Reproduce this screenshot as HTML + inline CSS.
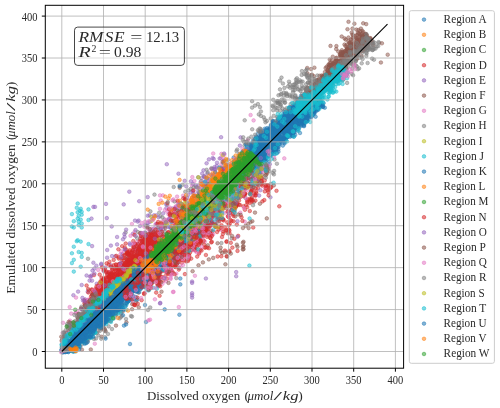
<!DOCTYPE html><html><head><meta charset="utf-8"><style>html,body{margin:0;padding:0;background:#fff;width:500px;height:408px;overflow:hidden}svg{display:block;will-change:transform}circle{r:1.8px}</style></head><body>
<svg width="500" height="408" viewBox="0 0 500 408">
<defs><clipPath id="ax"><rect x="45.30" y="5.30" width="358.30" height="362.90"/></clipPath></defs>
<g clip-path="url(#ax)">
<g fill="#7f7f7f" stroke="#7f7f7f" fill-opacity="0.5" stroke-opacity="0.5" stroke-width="0.9"><circle cx="92.3" cy="323.9"/><circle cx="162.8" cy="241.2"/><circle cx="194.5" cy="230.8"/><circle cx="67.6" cy="340.4"/><circle cx="103.9" cy="327.6"/><circle cx="244.5" cy="145.6"/><circle cx="80.2" cy="335.8"/><circle cx="99.8" cy="330.9"/><circle cx="263.8" cy="156.7"/><circle cx="195.7" cy="223.5"/><circle cx="136.6" cy="268.9"/><circle cx="179.7" cy="253.2"/><circle cx="196.4" cy="207.3"/><circle cx="88.0" cy="258.8"/><circle cx="99.6" cy="327.4"/><circle cx="224.0" cy="183.1"/><circle cx="205.4" cy="213.2"/><circle cx="166.5" cy="239.5"/><circle cx="251.5" cy="198.9"/><circle cx="188.1" cy="246.1"/><circle cx="264.2" cy="143.7"/><circle cx="104.9" cy="305.1"/><circle cx="160.3" cy="216.2"/><circle cx="169.2" cy="254.2"/><circle cx="133.3" cy="272.0"/><circle cx="154.5" cy="194.6"/><circle cx="117.2" cy="304.7"/><circle cx="239.4" cy="192.8"/><circle cx="244.6" cy="171.0"/><circle cx="89.5" cy="321.0"/><circle cx="150.5" cy="242.2"/><circle cx="118.3" cy="288.4"/><circle cx="84.3" cy="334.7"/><circle cx="248.4" cy="162.9"/><circle cx="125.6" cy="232.5"/><circle cx="84.4" cy="308.0"/><circle cx="231.7" cy="238.4"/><circle cx="105.3" cy="306.4"/><circle cx="260.1" cy="172.4"/><circle cx="102.2" cy="297.1"/><circle cx="70.7" cy="341.7"/><circle cx="88.9" cy="290.5"/><circle cx="124.9" cy="266.7"/><circle cx="150.4" cy="241.3"/><circle cx="250.8" cy="161.1"/><circle cx="208.4" cy="205.0"/><circle cx="129.0" cy="273.4"/><circle cx="91.8" cy="310.4"/><circle cx="275.2" cy="148.3"/><circle cx="144.7" cy="239.4"/><circle cx="204.6" cy="203.8"/><circle cx="74.6" cy="336.7"/><circle cx="73.9" cy="344.5"/><circle cx="245.3" cy="180.6"/><circle cx="191.3" cy="233.1"/><circle cx="150.2" cy="307.5"/><circle cx="118.6" cy="272.1"/><circle cx="77.9" cy="325.7"/><circle cx="99.7" cy="313.1"/><circle cx="63.1" cy="337.6"/><circle cx="233.9" cy="171.9"/><circle cx="154.9" cy="247.0"/><circle cx="105.0" cy="337.2"/><circle cx="219.3" cy="198.6"/><circle cx="98.7" cy="302.6"/><circle cx="67.0" cy="326.0"/><circle cx="167.3" cy="204.7"/><circle cx="236.5" cy="151.1"/><circle cx="74.1" cy="347.7"/><circle cx="253.0" cy="205.2"/><circle cx="97.4" cy="303.5"/><circle cx="81.8" cy="328.1"/><circle cx="62.3" cy="339.5"/><circle cx="123.7" cy="287.3"/><circle cx="212.1" cy="196.4"/><circle cx="179.2" cy="260.3"/><circle cx="236.8" cy="169.1"/><circle cx="110.8" cy="305.7"/><circle cx="124.0" cy="278.5"/><circle cx="111.6" cy="289.6"/><circle cx="269.1" cy="149.7"/><circle cx="257.0" cy="152.9"/><circle cx="132.4" cy="276.3"/><circle cx="144.8" cy="249.3"/><circle cx="122.5" cy="277.3"/><circle cx="224.0" cy="200.4"/><circle cx="74.2" cy="342.3"/><circle cx="67.2" cy="324.0"/><circle cx="146.2" cy="264.0"/><circle cx="104.6" cy="288.0"/><circle cx="235.7" cy="171.2"/><circle cx="223.2" cy="201.5"/><circle cx="183.3" cy="242.5"/><circle cx="199.0" cy="210.5"/><circle cx="204.2" cy="202.9"/><circle cx="219.7" cy="181.7"/><circle cx="269.4" cy="171.0"/><circle cx="97.6" cy="320.4"/><circle cx="193.7" cy="219.8"/><circle cx="81.4" cy="306.7"/><circle cx="176.3" cy="278.1"/><circle cx="222.6" cy="182.4"/><circle cx="255.4" cy="170.5"/><circle cx="216.8" cy="187.8"/><circle cx="72.7" cy="342.8"/><circle cx="132.8" cy="268.9"/><circle cx="85.1" cy="302.3"/><circle cx="269.1" cy="141.1"/><circle cx="89.4" cy="314.6"/><circle cx="109.6" cy="293.3"/><circle cx="142.4" cy="279.6"/><circle cx="72.5" cy="332.0"/><circle cx="247.0" cy="172.1"/><circle cx="203.4" cy="225.3"/><circle cx="95.8" cy="314.5"/><circle cx="167.7" cy="246.5"/><circle cx="74.8" cy="326.9"/><circle cx="190.0" cy="222.2"/><circle cx="114.5" cy="303.5"/><circle cx="63.7" cy="332.3"/><circle cx="80.3" cy="317.3"/><circle cx="164.4" cy="219.7"/><circle cx="188.7" cy="210.2"/><circle cx="130.0" cy="280.5"/><circle cx="200.8" cy="219.7"/><circle cx="137.1" cy="276.4"/><circle cx="83.4" cy="314.1"/><circle cx="126.1" cy="280.6"/><circle cx="157.2" cy="278.7"/><circle cx="254.4" cy="162.0"/><circle cx="95.5" cy="332.4"/><circle cx="79.6" cy="328.7"/><circle cx="191.4" cy="244.2"/><circle cx="276.9" cy="163.7"/><circle cx="251.7" cy="161.6"/><circle cx="209.4" cy="204.8"/><circle cx="85.7" cy="342.9"/><circle cx="223.8" cy="175.3"/><circle cx="182.6" cy="184.8"/><circle cx="102.4" cy="327.6"/><circle cx="140.5" cy="233.0"/><circle cx="76.7" cy="341.0"/><circle cx="235.3" cy="188.7"/><circle cx="214.3" cy="202.2"/><circle cx="245.4" cy="197.7"/><circle cx="208.3" cy="178.8"/><circle cx="113.2" cy="287.4"/><circle cx="235.3" cy="193.7"/><circle cx="116.0" cy="297.8"/><circle cx="101.2" cy="329.0"/><circle cx="145.6" cy="269.0"/><circle cx="156.0" cy="234.9"/><circle cx="135.9" cy="302.6"/><circle cx="193.0" cy="227.5"/><circle cx="186.1" cy="221.9"/><circle cx="103.1" cy="288.6"/><circle cx="177.8" cy="205.2"/><circle cx="139.8" cy="276.9"/><circle cx="223.5" cy="204.7"/><circle cx="118.2" cy="282.9"/><circle cx="233.3" cy="188.0"/><circle cx="150.6" cy="263.8"/><circle cx="166.0" cy="222.1"/><circle cx="185.3" cy="191.7"/><circle cx="167.0" cy="237.5"/><circle cx="117.0" cy="295.3"/><circle cx="262.8" cy="142.9"/><circle cx="93.9" cy="338.9"/><circle cx="129.2" cy="279.7"/><circle cx="187.2" cy="245.1"/><circle cx="89.5" cy="310.2"/><circle cx="228.3" cy="182.8"/><circle cx="228.4" cy="189.3"/><circle cx="221.4" cy="243.1"/><circle cx="244.7" cy="156.9"/><circle cx="203.9" cy="176.3"/><circle cx="130.1" cy="291.4"/><circle cx="189.6" cy="207.8"/><circle cx="125.7" cy="269.8"/><circle cx="234.9" cy="209.9"/><circle cx="132.6" cy="258.2"/><circle cx="84.8" cy="306.1"/><circle cx="244.0" cy="166.6"/><circle cx="207.1" cy="206.6"/><circle cx="210.1" cy="187.1"/><circle cx="194.5" cy="248.1"/><circle cx="225.3" cy="186.6"/><circle cx="144.4" cy="244.0"/><circle cx="192.8" cy="243.8"/><circle cx="70.4" cy="329.2"/><circle cx="181.9" cy="237.3"/><circle cx="253.8" cy="202.1"/><circle cx="210.8" cy="204.0"/><circle cx="240.3" cy="193.3"/><circle cx="161.8" cy="241.5"/><circle cx="258.8" cy="179.4"/><circle cx="78.6" cy="318.5"/><circle cx="253.3" cy="176.3"/><circle cx="135.2" cy="266.5"/><circle cx="85.1" cy="332.2"/><circle cx="194.7" cy="223.5"/><circle cx="144.6" cy="241.3"/><circle cx="148.4" cy="256.1"/><circle cx="244.9" cy="177.7"/><circle cx="99.4" cy="327.2"/><circle cx="178.5" cy="208.3"/><circle cx="140.4" cy="254.1"/><circle cx="175.1" cy="241.6"/><circle cx="163.2" cy="241.6"/><circle cx="97.1" cy="326.4"/><circle cx="178.6" cy="251.8"/><circle cx="251.3" cy="179.9"/><circle cx="95.3" cy="309.2"/><circle cx="64.1" cy="344.0"/><circle cx="80.9" cy="337.7"/><circle cx="150.0" cy="244.7"/><circle cx="259.7" cy="141.8"/><circle cx="71.2" cy="337.6"/><circle cx="260.9" cy="136.2"/><circle cx="176.4" cy="239.7"/><circle cx="88.2" cy="323.3"/><circle cx="143.9" cy="255.6"/><circle cx="105.5" cy="304.5"/><circle cx="203.4" cy="193.0"/><circle cx="187.5" cy="248.6"/><circle cx="109.3" cy="274.9"/><circle cx="121.5" cy="300.7"/><circle cx="245.8" cy="172.4"/><circle cx="236.6" cy="204.8"/><circle cx="146.4" cy="250.8"/><circle cx="133.6" cy="250.7"/><circle cx="205.6" cy="185.6"/><circle cx="258.5" cy="142.1"/><circle cx="88.1" cy="339.9"/><circle cx="100.9" cy="319.9"/><circle cx="140.9" cy="275.9"/><circle cx="176.8" cy="251.8"/><circle cx="71.4" cy="326.5"/><circle cx="73.0" cy="335.6"/><circle cx="107.9" cy="301.9"/><circle cx="137.0" cy="262.2"/><circle cx="226.6" cy="206.0"/><circle cx="198.9" cy="231.6"/><circle cx="73.3" cy="345.9"/><circle cx="69.7" cy="335.8"/><circle cx="152.2" cy="250.1"/><circle cx="240.2" cy="163.5"/><circle cx="244.0" cy="150.7"/><circle cx="149.6" cy="283.5"/><circle cx="254.1" cy="172.2"/><circle cx="256.1" cy="156.9"/><circle cx="158.5" cy="275.2"/><circle cx="223.8" cy="200.3"/><circle cx="128.0" cy="261.7"/><circle cx="86.6" cy="307.8"/><circle cx="170.6" cy="217.6"/><circle cx="80.4" cy="329.4"/><circle cx="202.9" cy="213.6"/><circle cx="221.1" cy="171.4"/><circle cx="258.2" cy="164.7"/><circle cx="151.4" cy="251.0"/><circle cx="78.5" cy="314.7"/><circle cx="255.4" cy="167.3"/><circle cx="250.9" cy="176.1"/><circle cx="265.8" cy="150.8"/><circle cx="179.5" cy="218.8"/><circle cx="197.8" cy="204.3"/><circle cx="137.5" cy="267.9"/><circle cx="96.1" cy="305.1"/><circle cx="136.2" cy="300.4"/><circle cx="221.8" cy="208.8"/><circle cx="127.6" cy="278.0"/><circle cx="216.3" cy="215.4"/><circle cx="179.7" cy="257.0"/><circle cx="166.6" cy="265.8"/><circle cx="274.5" cy="159.5"/><circle cx="98.1" cy="314.2"/><circle cx="173.2" cy="256.7"/><circle cx="93.9" cy="312.6"/><circle cx="243.0" cy="140.3"/><circle cx="164.8" cy="247.6"/><circle cx="119.1" cy="266.6"/><circle cx="95.2" cy="310.3"/><circle cx="197.8" cy="237.1"/><circle cx="146.6" cy="266.4"/><circle cx="95.3" cy="327.5"/><circle cx="65.9" cy="337.2"/><circle cx="153.3" cy="276.4"/><circle cx="169.6" cy="213.3"/><circle cx="163.9" cy="234.3"/><circle cx="271.0" cy="183.9"/><circle cx="246.2" cy="154.2"/><circle cx="244.1" cy="141.9"/><circle cx="237.8" cy="192.1"/><circle cx="151.3" cy="238.6"/><circle cx="189.1" cy="257.5"/><circle cx="141.5" cy="262.0"/><circle cx="159.8" cy="279.5"/></g><g fill="#e377c2" stroke="#e377c2" fill-opacity="0.5" stroke-opacity="0.5" stroke-width="0.9"><circle cx="116.2" cy="310.8"/><circle cx="114.2" cy="302.9"/><circle cx="166.9" cy="245.5"/><circle cx="195.2" cy="201.4"/><circle cx="131.2" cy="259.4"/><circle cx="95.0" cy="307.3"/><circle cx="87.3" cy="331.3"/><circle cx="110.9" cy="282.4"/><circle cx="98.3" cy="309.6"/><circle cx="151.9" cy="229.8"/><circle cx="260.2" cy="170.5"/><circle cx="244.7" cy="221.6"/><circle cx="108.0" cy="305.3"/><circle cx="73.4" cy="329.0"/><circle cx="155.5" cy="252.8"/><circle cx="129.5" cy="257.8"/><circle cx="203.8" cy="195.1"/><circle cx="76.7" cy="325.3"/><circle cx="119.2" cy="294.5"/><circle cx="208.9" cy="198.8"/><circle cx="181.1" cy="221.6"/><circle cx="178.3" cy="240.9"/><circle cx="268.9" cy="166.1"/><circle cx="84.6" cy="320.5"/><circle cx="95.0" cy="295.6"/><circle cx="175.9" cy="217.4"/><circle cx="177.4" cy="219.1"/><circle cx="270.8" cy="134.2"/><circle cx="250.6" cy="115.0"/><circle cx="184.8" cy="217.1"/><circle cx="215.6" cy="174.1"/><circle cx="192.3" cy="177.1"/><circle cx="89.2" cy="316.7"/><circle cx="188.2" cy="213.9"/><circle cx="116.3" cy="269.5"/><circle cx="121.1" cy="251.4"/><circle cx="92.2" cy="309.7"/><circle cx="62.0" cy="343.1"/><circle cx="246.5" cy="164.2"/><circle cx="229.0" cy="205.5"/><circle cx="213.3" cy="174.6"/><circle cx="124.1" cy="284.9"/><circle cx="165.9" cy="271.2"/><circle cx="99.6" cy="308.6"/><circle cx="209.1" cy="235.0"/><circle cx="254.0" cy="178.0"/><circle cx="230.4" cy="180.3"/><circle cx="274.1" cy="157.4"/><circle cx="107.0" cy="279.6"/><circle cx="228.1" cy="211.4"/><circle cx="86.5" cy="316.7"/><circle cx="170.3" cy="224.4"/><circle cx="75.6" cy="312.8"/><circle cx="167.4" cy="219.7"/><circle cx="174.9" cy="226.6"/><circle cx="133.3" cy="268.9"/><circle cx="135.1" cy="269.6"/><circle cx="203.7" cy="182.6"/><circle cx="170.2" cy="248.1"/><circle cx="142.2" cy="251.6"/><circle cx="85.9" cy="322.1"/><circle cx="118.5" cy="281.8"/><circle cx="248.4" cy="169.0"/><circle cx="253.6" cy="120.4"/><circle cx="145.6" cy="269.9"/><circle cx="248.7" cy="159.0"/><circle cx="249.1" cy="158.2"/><circle cx="102.2" cy="293.1"/><circle cx="114.9" cy="281.9"/><circle cx="207.5" cy="193.0"/><circle cx="116.8" cy="269.9"/><circle cx="284.3" cy="158.4"/><circle cx="137.7" cy="265.4"/><circle cx="232.0" cy="202.9"/><circle cx="212.0" cy="192.7"/><circle cx="115.9" cy="308.7"/><circle cx="259.3" cy="171.9"/><circle cx="130.8" cy="274.1"/><circle cx="75.9" cy="313.3"/><circle cx="69.2" cy="332.3"/><circle cx="154.1" cy="244.6"/><circle cx="183.1" cy="195.6"/><circle cx="126.4" cy="294.5"/><circle cx="265.1" cy="188.0"/><circle cx="121.1" cy="290.8"/><circle cx="248.6" cy="169.0"/><circle cx="62.6" cy="333.0"/><circle cx="98.2" cy="269.9"/><circle cx="104.5" cy="320.7"/><circle cx="131.9" cy="224.0"/><circle cx="120.5" cy="254.3"/><circle cx="136.3" cy="251.3"/><circle cx="243.2" cy="161.8"/><circle cx="160.0" cy="195.4"/><circle cx="190.7" cy="215.1"/><circle cx="147.6" cy="264.7"/><circle cx="235.6" cy="173.0"/><circle cx="182.1" cy="251.2"/><circle cx="218.3" cy="182.3"/><circle cx="261.9" cy="153.6"/><circle cx="189.5" cy="211.1"/><circle cx="149.8" cy="247.4"/><circle cx="125.7" cy="297.1"/><circle cx="247.7" cy="140.3"/><circle cx="237.5" cy="193.4"/><circle cx="226.3" cy="167.2"/><circle cx="121.0" cy="310.6"/><circle cx="150.0" cy="247.0"/><circle cx="261.9" cy="166.8"/><circle cx="112.6" cy="291.5"/><circle cx="244.7" cy="179.6"/><circle cx="199.2" cy="252.5"/><circle cx="116.5" cy="307.1"/><circle cx="139.3" cy="262.6"/><circle cx="74.1" cy="326.0"/><circle cx="221.8" cy="217.3"/><circle cx="240.3" cy="212.7"/><circle cx="72.1" cy="344.3"/><circle cx="126.4" cy="281.5"/><circle cx="234.5" cy="188.8"/><circle cx="109.9" cy="308.4"/><circle cx="167.3" cy="221.1"/><circle cx="226.9" cy="165.2"/><circle cx="175.7" cy="215.3"/><circle cx="93.3" cy="325.5"/><circle cx="258.9" cy="152.8"/><circle cx="225.2" cy="188.9"/><circle cx="197.5" cy="239.4"/><circle cx="123.1" cy="264.7"/><circle cx="185.4" cy="219.7"/><circle cx="148.1" cy="264.4"/><circle cx="77.4" cy="311.0"/><circle cx="82.3" cy="314.4"/><circle cx="66.8" cy="332.0"/><circle cx="88.4" cy="299.8"/><circle cx="106.9" cy="285.9"/><circle cx="211.4" cy="223.1"/><circle cx="189.9" cy="225.3"/><circle cx="177.6" cy="208.3"/><circle cx="247.7" cy="179.1"/><circle cx="81.4" cy="325.1"/><circle cx="139.2" cy="256.7"/><circle cx="70.0" cy="320.6"/><circle cx="137.2" cy="241.8"/><circle cx="73.1" cy="323.8"/><circle cx="76.6" cy="332.8"/><circle cx="77.8" cy="317.7"/><circle cx="138.2" cy="255.2"/><circle cx="228.5" cy="185.2"/><circle cx="108.7" cy="272.1"/><circle cx="217.1" cy="182.9"/><circle cx="116.6" cy="301.1"/><circle cx="110.6" cy="271.7"/><circle cx="164.0" cy="246.0"/><circle cx="74.1" cy="326.5"/><circle cx="171.3" cy="263.1"/><circle cx="186.8" cy="220.7"/><circle cx="250.0" cy="180.3"/><circle cx="78.7" cy="339.2"/><circle cx="254.2" cy="195.1"/><circle cx="160.8" cy="200.5"/><circle cx="187.0" cy="223.1"/><circle cx="71.2" cy="333.9"/><circle cx="242.4" cy="148.8"/><circle cx="120.6" cy="286.1"/><circle cx="173.0" cy="222.7"/><circle cx="190.7" cy="243.9"/><circle cx="258.1" cy="151.5"/><circle cx="195.0" cy="221.2"/><circle cx="273.2" cy="131.7"/><circle cx="108.6" cy="293.5"/><circle cx="218.6" cy="218.8"/><circle cx="204.8" cy="241.6"/><circle cx="181.3" cy="245.3"/><circle cx="188.8" cy="203.7"/><circle cx="174.8" cy="222.8"/><circle cx="128.3" cy="268.2"/><circle cx="220.7" cy="229.7"/><circle cx="94.8" cy="343.7"/><circle cx="169.4" cy="248.2"/><circle cx="160.6" cy="250.6"/><circle cx="111.1" cy="304.2"/><circle cx="179.5" cy="219.9"/><circle cx="207.8" cy="204.6"/><circle cx="95.6" cy="326.6"/><circle cx="131.4" cy="288.4"/><circle cx="74.0" cy="332.0"/><circle cx="189.0" cy="217.0"/><circle cx="79.3" cy="328.8"/><circle cx="90.8" cy="276.7"/><circle cx="158.8" cy="251.0"/><circle cx="155.9" cy="246.4"/><circle cx="73.6" cy="344.1"/><circle cx="271.8" cy="149.3"/><circle cx="105.4" cy="291.2"/><circle cx="186.7" cy="209.1"/><circle cx="109.4" cy="298.6"/><circle cx="185.3" cy="213.9"/><circle cx="134.8" cy="267.9"/><circle cx="145.0" cy="292.8"/><circle cx="194.9" cy="275.8"/><circle cx="162.9" cy="195.4"/><circle cx="181.3" cy="208.8"/><circle cx="210.9" cy="199.6"/><circle cx="132.7" cy="302.0"/><circle cx="88.5" cy="333.9"/><circle cx="103.2" cy="278.9"/><circle cx="154.9" cy="299.3"/><circle cx="195.5" cy="219.1"/><circle cx="140.5" cy="247.0"/><circle cx="125.4" cy="276.3"/><circle cx="77.8" cy="320.1"/><circle cx="191.1" cy="219.3"/><circle cx="69.7" cy="307.1"/><circle cx="182.3" cy="244.9"/><circle cx="224.2" cy="213.1"/><circle cx="192.7" cy="209.6"/><circle cx="84.9" cy="300.9"/><circle cx="136.5" cy="268.2"/></g><g fill="#8c564b" stroke="#8c564b" fill-opacity="0.5" stroke-opacity="0.5" stroke-width="0.9"><circle cx="266.8" cy="218.4"/><circle cx="233.9" cy="203.0"/><circle cx="90.0" cy="326.5"/><circle cx="130.4" cy="274.6"/><circle cx="211.3" cy="208.8"/><circle cx="224.6" cy="168.0"/><circle cx="172.3" cy="233.4"/><circle cx="206.9" cy="202.7"/><circle cx="111.0" cy="299.0"/><circle cx="240.7" cy="214.9"/><circle cx="230.3" cy="189.0"/><circle cx="147.5" cy="268.9"/><circle cx="120.8" cy="309.5"/><circle cx="72.3" cy="340.7"/><circle cx="194.8" cy="228.8"/><circle cx="202.7" cy="235.5"/><circle cx="69.4" cy="350.3"/><circle cx="177.9" cy="254.9"/><circle cx="259.3" cy="171.9"/><circle cx="76.7" cy="346.7"/><circle cx="93.6" cy="320.9"/><circle cx="90.8" cy="349.5"/><circle cx="160.9" cy="270.7"/><circle cx="161.5" cy="291.7"/><circle cx="251.3" cy="190.7"/><circle cx="79.4" cy="334.7"/><circle cx="109.7" cy="312.3"/><circle cx="262.0" cy="174.8"/><circle cx="72.1" cy="346.0"/><circle cx="110.9" cy="290.4"/><circle cx="158.9" cy="285.3"/><circle cx="64.3" cy="345.4"/><circle cx="138.8" cy="307.3"/><circle cx="196.7" cy="241.1"/><circle cx="194.0" cy="233.6"/><circle cx="201.1" cy="243.2"/><circle cx="200.9" cy="226.5"/><circle cx="189.2" cy="229.0"/><circle cx="81.9" cy="349.7"/><circle cx="204.1" cy="228.1"/><circle cx="192.0" cy="244.0"/><circle cx="126.4" cy="322.3"/><circle cx="156.6" cy="273.1"/><circle cx="123.0" cy="311.0"/><circle cx="235.8" cy="176.0"/><circle cx="132.3" cy="304.2"/><circle cx="91.5" cy="308.8"/><circle cx="236.7" cy="205.0"/><circle cx="209.1" cy="191.2"/><circle cx="239.2" cy="185.6"/><circle cx="204.3" cy="219.4"/><circle cx="147.8" cy="265.3"/><circle cx="159.1" cy="253.6"/><circle cx="171.4" cy="234.5"/><circle cx="177.1" cy="224.2"/><circle cx="265.5" cy="175.4"/><circle cx="132.1" cy="309.2"/><circle cx="248.6" cy="228.1"/><circle cx="74.0" cy="348.7"/><circle cx="102.8" cy="309.4"/><circle cx="259.3" cy="169.5"/><circle cx="119.5" cy="302.2"/><circle cx="176.8" cy="257.3"/><circle cx="262.0" cy="183.2"/><circle cx="205.7" cy="229.9"/><circle cx="166.0" cy="255.4"/><circle cx="227.6" cy="233.2"/><circle cx="263.3" cy="160.2"/><circle cx="273.8" cy="185.4"/><circle cx="106.9" cy="317.1"/><circle cx="101.3" cy="327.6"/><circle cx="130.6" cy="298.8"/><circle cx="104.9" cy="329.2"/><circle cx="235.2" cy="216.4"/><circle cx="241.8" cy="195.5"/><circle cx="104.2" cy="330.2"/><circle cx="70.1" cy="322.6"/><circle cx="138.5" cy="292.6"/><circle cx="215.4" cy="226.9"/><circle cx="231.5" cy="210.2"/><circle cx="172.4" cy="272.8"/><circle cx="220.6" cy="250.9"/><circle cx="259.1" cy="179.9"/><circle cx="246.8" cy="182.3"/><circle cx="101.7" cy="336.8"/><circle cx="215.4" cy="216.4"/><circle cx="238.3" cy="214.5"/><circle cx="255.2" cy="180.0"/><circle cx="151.8" cy="268.9"/><circle cx="97.8" cy="317.8"/><circle cx="162.7" cy="257.8"/><circle cx="150.5" cy="286.4"/><circle cx="142.6" cy="269.2"/><circle cx="237.3" cy="203.2"/><circle cx="200.0" cy="225.2"/><circle cx="202.9" cy="216.9"/><circle cx="205.6" cy="230.5"/><circle cx="105.6" cy="331.3"/><circle cx="77.3" cy="335.7"/><circle cx="159.2" cy="285.3"/></g><g fill="#9467bd" stroke="#9467bd" fill-opacity="0.5" stroke-opacity="0.5" stroke-width="0.9"><circle cx="87.6" cy="307.5"/><circle cx="251.2" cy="161.5"/><circle cx="217.0" cy="162.7"/><circle cx="195.9" cy="209.5"/><circle cx="208.2" cy="182.6"/><circle cx="210.5" cy="211.5"/><circle cx="157.8" cy="230.2"/><circle cx="99.0" cy="288.5"/><circle cx="128.3" cy="260.4"/><circle cx="173.6" cy="231.3"/><circle cx="193.5" cy="225.1"/><circle cx="135.0" cy="262.7"/><circle cx="104.9" cy="292.4"/><circle cx="129.7" cy="243.4"/><circle cx="103.6" cy="271.1"/><circle cx="260.4" cy="172.5"/><circle cx="112.3" cy="267.6"/><circle cx="153.4" cy="249.5"/><circle cx="170.4" cy="215.7"/><circle cx="127.7" cy="272.3"/><circle cx="181.9" cy="243.4"/><circle cx="166.4" cy="208.0"/><circle cx="85.2" cy="299.4"/><circle cx="263.7" cy="170.1"/><circle cx="194.4" cy="241.1"/><circle cx="108.8" cy="289.9"/><circle cx="269.8" cy="164.2"/><circle cx="111.4" cy="284.9"/><circle cx="203.9" cy="185.6"/><circle cx="149.6" cy="215.2"/><circle cx="127.5" cy="270.3"/><circle cx="132.9" cy="233.8"/><circle cx="152.5" cy="218.6"/><circle cx="148.8" cy="252.7"/><circle cx="137.3" cy="283.8"/><circle cx="144.3" cy="232.7"/><circle cx="150.2" cy="231.8"/><circle cx="178.5" cy="173.7"/><circle cx="101.2" cy="264.5"/><circle cx="82.4" cy="297.9"/><circle cx="213.7" cy="158.9"/><circle cx="99.1" cy="306.5"/><circle cx="190.0" cy="204.6"/><circle cx="179.3" cy="222.3"/><circle cx="240.6" cy="137.4"/><circle cx="107.3" cy="273.3"/><circle cx="270.4" cy="197.3"/><circle cx="90.1" cy="276.5"/><circle cx="116.6" cy="288.9"/><circle cx="188.1" cy="195.0"/><circle cx="111.9" cy="286.2"/><circle cx="180.8" cy="210.8"/><circle cx="193.6" cy="193.3"/><circle cx="99.0" cy="287.1"/><circle cx="231.6" cy="191.8"/><circle cx="140.0" cy="226.0"/><circle cx="251.8" cy="151.4"/><circle cx="82.2" cy="309.4"/><circle cx="87.7" cy="291.8"/><circle cx="195.3" cy="213.8"/><circle cx="107.2" cy="250.0"/><circle cx="148.0" cy="241.0"/><circle cx="241.0" cy="160.5"/><circle cx="136.3" cy="249.5"/><circle cx="94.8" cy="308.4"/><circle cx="113.5" cy="295.6"/><circle cx="175.2" cy="215.8"/><circle cx="215.5" cy="181.0"/><circle cx="202.2" cy="173.5"/><circle cx="157.9" cy="227.3"/><circle cx="130.6" cy="279.6"/><circle cx="96.7" cy="283.7"/><circle cx="110.7" cy="265.2"/><circle cx="105.2" cy="267.6"/><circle cx="241.0" cy="161.0"/><circle cx="163.0" cy="254.4"/><circle cx="89.6" cy="280.6"/><circle cx="200.7" cy="213.1"/><circle cx="154.1" cy="228.4"/><circle cx="95.1" cy="316.3"/><circle cx="250.7" cy="145.9"/><circle cx="259.1" cy="165.9"/><circle cx="115.3" cy="256.3"/><circle cx="212.6" cy="158.1"/><circle cx="147.8" cy="222.8"/><circle cx="211.9" cy="212.1"/><circle cx="205.8" cy="212.9"/><circle cx="219.7" cy="200.0"/><circle cx="150.3" cy="230.3"/><circle cx="101.4" cy="282.2"/><circle cx="223.1" cy="178.4"/><circle cx="153.8" cy="233.9"/><circle cx="151.4" cy="230.9"/><circle cx="209.5" cy="180.3"/><circle cx="184.7" cy="180.8"/><circle cx="260.2" cy="152.3"/><circle cx="145.5" cy="243.6"/><circle cx="211.8" cy="225.4"/><circle cx="103.7" cy="306.2"/><circle cx="104.0" cy="296.6"/><circle cx="134.3" cy="278.2"/><circle cx="126.2" cy="261.3"/><circle cx="147.6" cy="225.6"/><circle cx="122.9" cy="275.6"/><circle cx="254.4" cy="164.6"/><circle cx="159.8" cy="244.2"/><circle cx="145.3" cy="245.3"/><circle cx="248.6" cy="170.5"/><circle cx="218.9" cy="177.2"/><circle cx="215.3" cy="182.3"/><circle cx="242.3" cy="160.0"/><circle cx="204.2" cy="182.7"/><circle cx="132.6" cy="258.9"/><circle cx="253.2" cy="154.8"/><circle cx="73.4" cy="295.2"/><circle cx="242.8" cy="166.4"/><circle cx="145.4" cy="232.7"/><circle cx="138.1" cy="253.5"/><circle cx="167.8" cy="236.2"/><circle cx="154.2" cy="248.3"/><circle cx="243.5" cy="179.7"/><circle cx="225.1" cy="179.8"/><circle cx="220.0" cy="195.2"/><circle cx="123.6" cy="275.0"/><circle cx="144.8" cy="225.1"/><circle cx="93.5" cy="298.8"/><circle cx="201.6" cy="178.1"/><circle cx="85.4" cy="302.0"/><circle cx="140.7" cy="236.0"/><circle cx="110.4" cy="289.7"/><circle cx="232.5" cy="171.5"/><circle cx="221.1" cy="137.2"/><circle cx="122.5" cy="254.3"/><circle cx="228.0" cy="159.9"/><circle cx="108.1" cy="278.2"/><circle cx="198.4" cy="185.7"/><circle cx="133.5" cy="278.7"/><circle cx="166.5" cy="244.9"/><circle cx="183.7" cy="205.3"/><circle cx="133.3" cy="244.0"/><circle cx="117.2" cy="280.5"/><circle cx="185.8" cy="215.4"/><circle cx="226.5" cy="185.5"/><circle cx="263.0" cy="152.8"/><circle cx="147.2" cy="267.9"/><circle cx="137.3" cy="280.1"/><circle cx="93.4" cy="298.3"/><circle cx="130.1" cy="291.1"/><circle cx="90.9" cy="313.1"/><circle cx="128.9" cy="274.5"/><circle cx="220.8" cy="203.1"/><circle cx="97.1" cy="288.8"/><circle cx="199.6" cy="209.2"/><circle cx="131.9" cy="261.9"/><circle cx="128.3" cy="280.9"/><circle cx="172.5" cy="237.9"/><circle cx="151.4" cy="232.9"/><circle cx="154.8" cy="232.7"/><circle cx="103.3" cy="294.1"/><circle cx="175.7" cy="213.2"/><circle cx="241.8" cy="163.6"/><circle cx="81.1" cy="309.0"/><circle cx="81.7" cy="285.0"/><circle cx="187.9" cy="218.1"/><circle cx="131.6" cy="253.5"/><circle cx="119.8" cy="264.5"/><circle cx="262.2" cy="154.6"/><circle cx="144.4" cy="269.9"/><circle cx="240.6" cy="156.0"/><circle cx="186.8" cy="206.5"/></g><g fill="#1f77b4" stroke="#1f77b4" fill-opacity="0.5" stroke-opacity="0.5" stroke-width="0.9"><circle cx="198.8" cy="230.6"/><circle cx="112.6" cy="301.8"/><circle cx="192.5" cy="223.7"/><circle cx="216.7" cy="199.8"/><circle cx="167.5" cy="258.0"/><circle cx="122.1" cy="293.2"/><circle cx="126.5" cy="282.7"/><circle cx="123.5" cy="293.4"/><circle cx="163.7" cy="248.9"/><circle cx="214.3" cy="198.7"/><circle cx="122.0" cy="296.7"/><circle cx="164.3" cy="251.9"/><circle cx="167.1" cy="255.9"/><circle cx="161.9" cy="251.4"/><circle cx="182.6" cy="239.8"/><circle cx="185.3" cy="240.4"/><circle cx="140.7" cy="278.9"/><circle cx="216.3" cy="206.4"/><circle cx="179.7" cy="239.3"/><circle cx="158.1" cy="259.1"/><circle cx="241.4" cy="188.9"/><circle cx="207.2" cy="219.6"/><circle cx="134.0" cy="282.5"/><circle cx="236.2" cy="182.4"/><circle cx="188.6" cy="232.9"/><circle cx="148.9" cy="252.8"/><circle cx="140.9" cy="270.7"/><circle cx="123.3" cy="295.6"/><circle cx="143.2" cy="271.3"/><circle cx="146.8" cy="263.6"/><circle cx="157.4" cy="260.4"/><circle cx="246.4" cy="187.9"/><circle cx="190.3" cy="231.1"/><circle cx="138.8" cy="280.0"/><circle cx="154.5" cy="250.9"/><circle cx="176.5" cy="257.4"/><circle cx="119.5" cy="287.9"/><circle cx="175.2" cy="247.1"/><circle cx="176.5" cy="238.3"/><circle cx="231.4" cy="192.6"/><circle cx="169.5" cy="250.2"/><circle cx="198.7" cy="215.3"/><circle cx="201.3" cy="220.1"/><circle cx="133.0" cy="278.5"/><circle cx="187.7" cy="234.7"/><circle cx="173.6" cy="250.3"/><circle cx="135.9" cy="284.5"/><circle cx="119.0" cy="302.4"/><circle cx="241.5" cy="181.1"/><circle cx="121.0" cy="287.7"/><circle cx="231.6" cy="198.5"/><circle cx="167.3" cy="264.8"/><circle cx="124.8" cy="293.6"/><circle cx="231.2" cy="178.6"/><circle cx="195.4" cy="219.1"/><circle cx="161.7" cy="249.5"/><circle cx="216.9" cy="196.0"/><circle cx="207.6" cy="219.5"/><circle cx="167.3" cy="252.5"/><circle cx="215.7" cy="225.0"/><circle cx="211.0" cy="215.2"/><circle cx="134.2" cy="280.4"/><circle cx="211.6" cy="221.3"/><circle cx="238.4" cy="197.9"/><circle cx="207.1" cy="224.0"/><circle cx="215.7" cy="204.5"/><circle cx="236.2" cy="177.2"/><circle cx="206.9" cy="196.5"/><circle cx="169.7" cy="241.1"/><circle cx="192.0" cy="240.4"/><circle cx="220.6" cy="217.6"/><circle cx="195.0" cy="225.8"/><circle cx="119.5" cy="291.0"/><circle cx="127.6" cy="301.9"/><circle cx="151.1" cy="272.1"/><circle cx="220.4" cy="204.5"/><circle cx="142.5" cy="276.3"/><circle cx="155.8" cy="265.2"/><circle cx="217.5" cy="200.4"/><circle cx="126.9" cy="283.9"/><circle cx="149.9" cy="269.0"/><circle cx="144.4" cy="269.5"/><circle cx="113.1" cy="290.5"/><circle cx="212.9" cy="216.0"/><circle cx="159.1" cy="268.0"/><circle cx="164.8" cy="251.9"/><circle cx="150.4" cy="256.2"/><circle cx="121.9" cy="294.7"/><circle cx="218.1" cy="195.6"/><circle cx="132.4" cy="288.0"/><circle cx="147.6" cy="265.3"/><circle cx="208.7" cy="217.3"/><circle cx="156.5" cy="258.5"/><circle cx="177.9" cy="240.2"/><circle cx="155.1" cy="261.7"/><circle cx="181.3" cy="230.1"/><circle cx="151.1" cy="260.8"/><circle cx="174.9" cy="249.8"/><circle cx="111.9" cy="299.0"/><circle cx="121.9" cy="307.4"/><circle cx="175.8" cy="238.0"/><circle cx="208.7" cy="193.1"/><circle cx="239.3" cy="178.1"/><circle cx="214.9" cy="202.8"/><circle cx="181.3" cy="239.1"/><circle cx="193.9" cy="221.6"/><circle cx="201.8" cy="222.7"/><circle cx="205.1" cy="211.4"/><circle cx="241.2" cy="181.8"/><circle cx="159.6" cy="262.8"/><circle cx="170.9" cy="248.3"/><circle cx="213.8" cy="207.8"/><circle cx="147.8" cy="283.0"/><circle cx="118.8" cy="284.1"/><circle cx="228.1" cy="191.9"/><circle cx="121.8" cy="307.2"/><circle cx="224.1" cy="189.2"/><circle cx="230.7" cy="190.5"/><circle cx="134.4" cy="282.2"/><circle cx="208.1" cy="208.0"/><circle cx="154.2" cy="271.1"/><circle cx="159.2" cy="280.6"/><circle cx="239.5" cy="182.1"/><circle cx="226.2" cy="193.1"/><circle cx="208.2" cy="205.8"/><circle cx="172.7" cy="252.7"/><circle cx="240.4" cy="182.4"/><circle cx="186.0" cy="232.2"/><circle cx="239.8" cy="183.3"/><circle cx="207.2" cy="215.6"/><circle cx="118.9" cy="296.5"/><circle cx="219.5" cy="208.6"/><circle cx="215.3" cy="194.5"/><circle cx="229.6" cy="198.0"/><circle cx="193.8" cy="227.1"/><circle cx="119.8" cy="299.7"/><circle cx="227.1" cy="198.9"/><circle cx="166.3" cy="249.8"/><circle cx="135.5" cy="275.6"/><circle cx="135.5" cy="272.5"/><circle cx="137.7" cy="276.5"/><circle cx="219.7" cy="204.5"/><circle cx="120.1" cy="291.2"/><circle cx="236.1" cy="195.1"/><circle cx="115.8" cy="300.9"/><circle cx="204.7" cy="212.7"/><circle cx="141.5" cy="273.0"/><circle cx="184.3" cy="244.5"/><circle cx="142.0" cy="286.9"/><circle cx="222.8" cy="186.5"/><circle cx="135.7" cy="286.0"/><circle cx="179.9" cy="252.2"/><circle cx="196.7" cy="233.4"/><circle cx="172.2" cy="247.9"/><circle cx="137.5" cy="272.6"/><circle cx="151.3" cy="267.9"/><circle cx="228.9" cy="183.8"/><circle cx="129.2" cy="287.1"/><circle cx="114.4" cy="299.4"/><circle cx="226.4" cy="187.8"/><circle cx="228.4" cy="195.5"/><circle cx="200.9" cy="218.4"/><circle cx="176.1" cy="247.1"/><circle cx="237.6" cy="188.1"/><circle cx="164.9" cy="250.6"/><circle cx="118.5" cy="304.6"/><circle cx="169.8" cy="249.9"/><circle cx="185.0" cy="241.6"/><circle cx="185.0" cy="236.8"/><circle cx="229.2" cy="195.8"/><circle cx="118.8" cy="291.1"/><circle cx="222.8" cy="197.9"/><circle cx="181.0" cy="239.4"/><circle cx="202.1" cy="207.7"/><circle cx="177.6" cy="263.2"/><circle cx="156.1" cy="271.2"/><circle cx="167.0" cy="272.2"/><circle cx="149.4" cy="269.9"/><circle cx="171.0" cy="246.5"/><circle cx="188.9" cy="228.2"/><circle cx="219.4" cy="200.3"/><circle cx="139.6" cy="285.2"/><circle cx="165.9" cy="242.3"/><circle cx="181.6" cy="237.5"/><circle cx="219.7" cy="203.8"/><circle cx="209.2" cy="220.4"/><circle cx="192.9" cy="225.9"/><circle cx="202.5" cy="222.7"/><circle cx="173.5" cy="250.4"/><circle cx="216.6" cy="203.6"/><circle cx="220.4" cy="199.7"/><circle cx="190.0" cy="237.4"/><circle cx="124.7" cy="284.7"/><circle cx="172.6" cy="255.1"/><circle cx="152.2" cy="275.2"/><circle cx="137.8" cy="279.0"/><circle cx="151.9" cy="266.9"/><circle cx="218.7" cy="202.5"/><circle cx="160.4" cy="262.6"/><circle cx="169.4" cy="251.0"/><circle cx="165.5" cy="258.8"/><circle cx="143.8" cy="286.9"/><circle cx="185.2" cy="231.3"/><circle cx="171.5" cy="256.3"/><circle cx="234.5" cy="188.9"/><circle cx="191.3" cy="225.5"/><circle cx="238.7" cy="182.8"/><circle cx="214.2" cy="188.1"/><circle cx="182.4" cy="248.7"/><circle cx="118.9" cy="304.2"/><circle cx="141.3" cy="277.2"/><circle cx="124.7" cy="284.1"/><circle cx="209.6" cy="214.0"/><circle cx="137.0" cy="291.8"/><circle cx="193.2" cy="220.7"/><circle cx="159.0" cy="267.5"/><circle cx="176.9" cy="245.7"/><circle cx="208.0" cy="207.6"/><circle cx="155.0" cy="269.6"/><circle cx="137.9" cy="284.2"/><circle cx="149.6" cy="266.7"/><circle cx="235.3" cy="187.9"/><circle cx="184.5" cy="235.2"/><circle cx="154.6" cy="271.9"/><circle cx="133.4" cy="286.2"/><circle cx="126.8" cy="299.1"/><circle cx="162.8" cy="268.4"/><circle cx="187.1" cy="222.4"/><circle cx="171.5" cy="246.3"/><circle cx="214.9" cy="200.5"/><circle cx="244.4" cy="184.2"/><circle cx="187.9" cy="234.2"/><circle cx="159.4" cy="262.3"/><circle cx="221.0" cy="211.0"/><circle cx="123.7" cy="290.8"/><circle cx="214.1" cy="212.9"/><circle cx="227.6" cy="195.7"/><circle cx="219.0" cy="213.7"/><circle cx="123.4" cy="288.0"/><circle cx="186.5" cy="230.1"/><circle cx="215.5" cy="203.6"/><circle cx="170.5" cy="256.6"/><circle cx="224.0" cy="201.7"/><circle cx="131.3" cy="279.0"/><circle cx="183.4" cy="240.1"/><circle cx="185.3" cy="234.6"/><circle cx="214.7" cy="206.3"/><circle cx="171.3" cy="257.3"/><circle cx="142.1" cy="266.7"/><circle cx="212.6" cy="223.4"/><circle cx="128.1" cy="288.8"/><circle cx="162.0" cy="259.0"/><circle cx="180.3" cy="252.3"/><circle cx="213.9" cy="205.7"/><circle cx="167.2" cy="250.0"/><circle cx="186.5" cy="234.9"/><circle cx="204.3" cy="223.5"/><circle cx="199.5" cy="219.4"/><circle cx="233.1" cy="180.8"/><circle cx="173.2" cy="246.3"/><circle cx="181.9" cy="227.8"/><circle cx="113.6" cy="298.1"/><circle cx="136.2" cy="277.4"/><circle cx="141.4" cy="268.3"/><circle cx="143.8" cy="280.2"/><circle cx="183.0" cy="242.2"/><circle cx="138.1" cy="277.4"/><circle cx="185.9" cy="232.3"/><circle cx="214.5" cy="196.7"/><circle cx="119.5" cy="290.6"/><circle cx="144.9" cy="273.3"/><circle cx="177.5" cy="242.3"/><circle cx="121.1" cy="298.9"/><circle cx="133.9" cy="287.4"/><circle cx="190.0" cy="235.1"/><circle cx="162.5" cy="251.6"/><circle cx="231.2" cy="193.9"/><circle cx="189.0" cy="235.3"/><circle cx="210.7" cy="210.1"/><circle cx="160.6" cy="263.2"/><circle cx="163.6" cy="258.4"/><circle cx="231.0" cy="206.3"/><circle cx="192.1" cy="227.1"/><circle cx="232.0" cy="191.9"/><circle cx="146.0" cy="272.0"/><circle cx="127.6" cy="288.2"/><circle cx="207.7" cy="227.2"/><circle cx="121.7" cy="279.7"/><circle cx="123.3" cy="293.6"/><circle cx="163.8" cy="255.2"/><circle cx="208.5" cy="225.7"/><circle cx="158.2" cy="257.2"/><circle cx="209.0" cy="209.5"/><circle cx="173.9" cy="249.1"/><circle cx="149.7" cy="267.6"/><circle cx="178.2" cy="233.5"/><circle cx="193.0" cy="230.7"/><circle cx="136.3" cy="288.1"/><circle cx="185.4" cy="226.3"/><circle cx="134.5" cy="281.6"/></g><g fill="#e377c2" stroke="#e377c2" fill-opacity="0.5" stroke-opacity="0.5" stroke-width="0.9"><circle cx="164.5" cy="224.0"/><circle cx="176.7" cy="216.8"/><circle cx="175.5" cy="207.0"/><circle cx="199.4" cy="207.5"/><circle cx="129.4" cy="252.8"/><circle cx="212.9" cy="186.3"/><circle cx="193.1" cy="217.0"/><circle cx="148.5" cy="229.6"/><circle cx="226.4" cy="174.1"/><circle cx="166.0" cy="221.7"/><circle cx="209.2" cy="186.3"/><circle cx="151.8" cy="228.7"/><circle cx="177.8" cy="202.3"/><circle cx="140.8" cy="240.2"/><circle cx="151.4" cy="233.3"/><circle cx="169.5" cy="239.9"/><circle cx="151.0" cy="260.2"/><circle cx="205.7" cy="185.8"/><circle cx="178.4" cy="223.3"/><circle cx="160.3" cy="226.8"/><circle cx="186.8" cy="203.6"/><circle cx="158.4" cy="249.5"/><circle cx="177.5" cy="225.2"/><circle cx="191.9" cy="212.4"/><circle cx="195.8" cy="206.2"/><circle cx="171.5" cy="222.3"/><circle cx="201.3" cy="185.0"/><circle cx="211.2" cy="169.1"/><circle cx="234.1" cy="171.8"/><circle cx="188.0" cy="210.1"/><circle cx="220.8" cy="158.1"/><circle cx="221.4" cy="164.3"/><circle cx="194.1" cy="196.2"/><circle cx="153.7" cy="264.8"/><circle cx="199.2" cy="204.3"/><circle cx="181.0" cy="209.1"/><circle cx="203.7" cy="195.9"/><circle cx="144.3" cy="226.8"/><circle cx="231.6" cy="163.1"/><circle cx="161.2" cy="227.9"/><circle cx="238.7" cy="168.9"/><circle cx="161.2" cy="242.5"/><circle cx="179.6" cy="218.9"/><circle cx="201.6" cy="198.2"/><circle cx="155.1" cy="240.0"/><circle cx="166.8" cy="220.9"/><circle cx="194.8" cy="195.6"/><circle cx="200.6" cy="182.3"/><circle cx="231.1" cy="178.6"/><circle cx="183.0" cy="206.7"/><circle cx="227.5" cy="165.4"/><circle cx="147.6" cy="227.8"/><circle cx="191.5" cy="203.3"/><circle cx="204.7" cy="185.5"/><circle cx="140.3" cy="262.0"/><circle cx="207.4" cy="182.0"/><circle cx="211.1" cy="178.9"/><circle cx="188.7" cy="210.2"/><circle cx="226.9" cy="173.0"/><circle cx="200.3" cy="193.2"/><circle cx="161.7" cy="224.1"/><circle cx="218.0" cy="188.5"/><circle cx="175.8" cy="206.4"/><circle cx="200.2" cy="196.5"/><circle cx="221.4" cy="153.9"/><circle cx="192.0" cy="185.5"/><circle cx="210.8" cy="187.4"/><circle cx="216.2" cy="184.8"/><circle cx="134.7" cy="231.8"/><circle cx="127.9" cy="259.1"/><circle cx="132.1" cy="255.4"/><circle cx="177.0" cy="219.0"/><circle cx="229.8" cy="167.1"/><circle cx="168.5" cy="214.4"/><circle cx="221.3" cy="167.3"/><circle cx="161.7" cy="239.6"/><circle cx="135.2" cy="244.6"/><circle cx="167.2" cy="221.3"/><circle cx="221.0" cy="183.7"/><circle cx="224.0" cy="160.8"/><circle cx="183.6" cy="210.2"/><circle cx="161.9" cy="221.6"/><circle cx="212.7" cy="187.2"/><circle cx="168.8" cy="219.0"/><circle cx="166.9" cy="242.9"/><circle cx="204.3" cy="185.4"/><circle cx="144.0" cy="265.8"/><circle cx="207.7" cy="184.4"/><circle cx="241.5" cy="181.2"/><circle cx="138.3" cy="255.9"/><circle cx="205.3" cy="180.9"/><circle cx="127.2" cy="261.4"/><circle cx="133.7" cy="246.7"/><circle cx="163.0" cy="240.9"/><circle cx="224.4" cy="154.5"/><circle cx="124.2" cy="252.2"/><circle cx="180.3" cy="224.1"/><circle cx="176.7" cy="223.4"/><circle cx="148.5" cy="250.7"/><circle cx="230.6" cy="165.3"/><circle cx="150.5" cy="240.2"/><circle cx="235.4" cy="186.1"/><circle cx="180.0" cy="205.6"/><circle cx="203.0" cy="193.1"/><circle cx="210.4" cy="194.1"/><circle cx="192.4" cy="190.4"/><circle cx="214.0" cy="183.9"/><circle cx="213.9" cy="168.7"/><circle cx="139.0" cy="248.5"/><circle cx="138.2" cy="258.7"/><circle cx="167.3" cy="211.6"/><circle cx="134.1" cy="250.7"/><circle cx="191.1" cy="206.7"/><circle cx="235.2" cy="177.5"/><circle cx="183.0" cy="214.5"/><circle cx="141.3" cy="245.2"/><circle cx="140.6" cy="255.3"/><circle cx="172.5" cy="200.4"/><circle cx="203.6" cy="187.3"/><circle cx="210.8" cy="181.3"/><circle cx="204.2" cy="185.3"/><circle cx="179.5" cy="221.5"/><circle cx="220.0" cy="176.1"/><circle cx="186.5" cy="212.5"/><circle cx="211.0" cy="207.4"/><circle cx="137.2" cy="275.9"/><circle cx="173.5" cy="210.1"/><circle cx="138.7" cy="259.7"/><circle cx="149.7" cy="244.4"/><circle cx="166.0" cy="242.2"/><circle cx="189.6" cy="208.9"/><circle cx="131.1" cy="254.2"/><circle cx="201.1" cy="191.3"/><circle cx="170.4" cy="227.0"/><circle cx="141.4" cy="235.0"/><circle cx="228.4" cy="167.7"/><circle cx="197.9" cy="198.8"/><circle cx="155.5" cy="224.4"/><circle cx="149.2" cy="262.7"/><circle cx="174.4" cy="211.1"/><circle cx="214.0" cy="191.8"/><circle cx="184.0" cy="216.1"/><circle cx="162.6" cy="237.0"/><circle cx="138.3" cy="253.8"/><circle cx="149.7" cy="242.0"/><circle cx="208.4" cy="182.3"/><circle cx="142.6" cy="248.3"/><circle cx="223.3" cy="157.3"/><circle cx="194.4" cy="181.0"/><circle cx="164.7" cy="219.5"/><circle cx="142.6" cy="242.2"/><circle cx="176.8" cy="218.7"/><circle cx="233.6" cy="173.6"/><circle cx="136.4" cy="250.6"/><circle cx="152.1" cy="240.2"/><circle cx="130.7" cy="253.7"/><circle cx="212.6" cy="200.4"/><circle cx="213.2" cy="153.5"/><circle cx="191.5" cy="214.2"/><circle cx="157.6" cy="234.4"/><circle cx="223.6" cy="161.2"/><circle cx="195.4" cy="211.8"/><circle cx="231.5" cy="169.9"/><circle cx="176.2" cy="237.4"/><circle cx="149.9" cy="258.6"/><circle cx="144.9" cy="269.5"/><circle cx="154.1" cy="237.4"/><circle cx="170.0" cy="218.5"/><circle cx="208.8" cy="188.4"/><circle cx="168.4" cy="209.5"/></g><g fill="#9467bd" stroke="#9467bd" fill-opacity="0.5" stroke-opacity="0.5" stroke-width="0.9"><circle cx="195.8" cy="185.6"/><circle cx="134.5" cy="247.3"/><circle cx="162.4" cy="238.9"/><circle cx="156.8" cy="239.3"/><circle cx="138.4" cy="254.0"/><circle cx="211.1" cy="174.8"/><circle cx="165.6" cy="244.3"/><circle cx="185.7" cy="206.7"/><circle cx="156.2" cy="215.4"/><circle cx="134.8" cy="259.3"/><circle cx="129.8" cy="261.3"/><circle cx="199.4" cy="193.3"/><circle cx="198.5" cy="206.4"/><circle cx="172.4" cy="208.5"/><circle cx="143.8" cy="245.9"/><circle cx="161.0" cy="228.9"/><circle cx="175.1" cy="208.3"/><circle cx="145.0" cy="239.0"/><circle cx="196.7" cy="215.3"/><circle cx="212.6" cy="176.2"/><circle cx="148.4" cy="250.4"/><circle cx="224.3" cy="168.7"/><circle cx="182.9" cy="215.9"/><circle cx="234.8" cy="169.6"/><circle cx="224.0" cy="160.8"/><circle cx="133.7" cy="259.5"/><circle cx="199.5" cy="196.1"/><circle cx="153.5" cy="241.7"/><circle cx="190.9" cy="200.2"/><circle cx="220.7" cy="173.8"/><circle cx="186.4" cy="229.8"/><circle cx="199.5" cy="202.1"/><circle cx="197.7" cy="197.2"/><circle cx="142.3" cy="242.1"/><circle cx="163.2" cy="213.3"/><circle cx="161.7" cy="240.0"/><circle cx="166.0" cy="204.1"/><circle cx="206.2" cy="185.9"/><circle cx="139.3" cy="248.0"/><circle cx="186.7" cy="210.2"/><circle cx="181.8" cy="215.5"/><circle cx="158.6" cy="217.2"/><circle cx="216.4" cy="179.6"/><circle cx="163.2" cy="229.1"/><circle cx="204.5" cy="176.4"/><circle cx="125.1" cy="249.4"/><circle cx="179.7" cy="227.0"/><circle cx="139.1" cy="255.5"/><circle cx="215.8" cy="177.9"/><circle cx="186.3" cy="186.4"/><circle cx="135.5" cy="230.1"/><circle cx="165.2" cy="226.4"/><circle cx="137.9" cy="250.5"/><circle cx="215.3" cy="169.4"/><circle cx="214.6" cy="167.0"/><circle cx="222.4" cy="174.9"/><circle cx="184.9" cy="197.4"/><circle cx="157.6" cy="241.4"/><circle cx="187.6" cy="231.4"/><circle cx="203.2" cy="203.4"/><circle cx="169.1" cy="219.2"/><circle cx="128.6" cy="255.6"/><circle cx="192.7" cy="222.1"/><circle cx="145.4" cy="266.3"/><circle cx="151.0" cy="240.9"/><circle cx="230.4" cy="198.8"/><circle cx="187.3" cy="198.1"/><circle cx="204.7" cy="177.2"/><circle cx="213.2" cy="210.4"/><circle cx="190.9" cy="192.5"/><circle cx="153.0" cy="240.4"/><circle cx="192.9" cy="184.0"/><circle cx="138.1" cy="250.9"/><circle cx="129.9" cy="265.2"/><circle cx="160.6" cy="228.9"/><circle cx="137.7" cy="244.0"/><circle cx="198.0" cy="191.8"/><circle cx="155.6" cy="235.0"/><circle cx="137.9" cy="269.9"/><circle cx="205.2" cy="182.1"/><circle cx="224.9" cy="168.6"/><circle cx="190.9" cy="181.3"/><circle cx="227.3" cy="166.8"/><circle cx="209.0" cy="184.4"/><circle cx="227.8" cy="172.6"/><circle cx="192.7" cy="191.1"/><circle cx="209.8" cy="184.8"/><circle cx="213.6" cy="186.5"/><circle cx="130.0" cy="244.7"/><circle cx="149.8" cy="221.9"/><circle cx="192.8" cy="203.0"/><circle cx="164.8" cy="236.8"/><circle cx="212.3" cy="168.9"/><circle cx="136.6" cy="264.4"/><circle cx="124.6" cy="236.9"/><circle cx="160.7" cy="231.3"/><circle cx="156.4" cy="223.8"/><circle cx="220.8" cy="185.9"/><circle cx="128.3" cy="264.3"/><circle cx="207.4" cy="173.6"/></g><g fill="#7f7f7f" stroke="#7f7f7f" fill-opacity="0.5" stroke-opacity="0.5" stroke-width="0.9"><circle cx="195.2" cy="213.5"/><circle cx="219.3" cy="167.5"/><circle cx="150.4" cy="211.4"/><circle cx="228.0" cy="174.5"/><circle cx="178.4" cy="211.5"/><circle cx="216.1" cy="193.2"/><circle cx="154.6" cy="236.9"/><circle cx="184.6" cy="224.2"/><circle cx="180.6" cy="203.4"/><circle cx="182.2" cy="213.5"/><circle cx="233.9" cy="180.0"/><circle cx="180.3" cy="224.0"/><circle cx="227.4" cy="183.4"/><circle cx="139.7" cy="255.6"/><circle cx="143.7" cy="238.8"/><circle cx="146.9" cy="249.3"/><circle cx="151.9" cy="252.8"/><circle cx="191.8" cy="208.5"/><circle cx="136.7" cy="254.5"/><circle cx="210.0" cy="208.4"/><circle cx="215.3" cy="172.2"/><circle cx="221.8" cy="168.1"/><circle cx="146.0" cy="273.6"/><circle cx="145.7" cy="233.3"/><circle cx="180.8" cy="227.8"/><circle cx="129.7" cy="265.8"/><circle cx="190.7" cy="188.9"/><circle cx="182.3" cy="226.4"/><circle cx="180.6" cy="230.5"/><circle cx="149.0" cy="255.7"/><circle cx="140.0" cy="264.8"/><circle cx="220.7" cy="175.1"/><circle cx="191.8" cy="205.8"/><circle cx="165.1" cy="231.9"/><circle cx="222.2" cy="177.3"/><circle cx="140.1" cy="254.8"/><circle cx="172.3" cy="228.3"/><circle cx="132.9" cy="256.7"/><circle cx="210.2" cy="183.4"/><circle cx="225.4" cy="180.0"/><circle cx="146.3" cy="225.9"/><circle cx="219.8" cy="187.9"/><circle cx="223.4" cy="163.5"/><circle cx="154.7" cy="245.7"/><circle cx="227.0" cy="164.2"/><circle cx="158.5" cy="227.4"/><circle cx="196.2" cy="187.2"/><circle cx="174.5" cy="201.4"/><circle cx="167.3" cy="233.4"/><circle cx="173.7" cy="187.0"/><circle cx="125.0" cy="264.0"/><circle cx="182.8" cy="217.0"/><circle cx="185.4" cy="220.2"/><circle cx="180.0" cy="186.5"/><circle cx="198.1" cy="177.2"/><circle cx="219.6" cy="174.7"/><circle cx="206.8" cy="178.3"/><circle cx="211.4" cy="168.2"/><circle cx="164.7" cy="225.4"/><circle cx="140.1" cy="257.1"/><circle cx="194.6" cy="197.8"/><circle cx="127.1" cy="256.7"/><circle cx="227.4" cy="167.0"/><circle cx="182.8" cy="221.1"/><circle cx="149.0" cy="234.5"/><circle cx="139.5" cy="272.2"/><circle cx="219.4" cy="182.3"/><circle cx="207.7" cy="172.4"/><circle cx="139.4" cy="250.5"/><circle cx="206.4" cy="184.1"/><circle cx="135.3" cy="256.2"/><circle cx="193.8" cy="187.4"/><circle cx="181.9" cy="209.6"/><circle cx="204.0" cy="209.1"/><circle cx="139.7" cy="250.1"/><circle cx="226.5" cy="200.0"/><circle cx="220.4" cy="195.1"/><circle cx="206.6" cy="169.8"/><circle cx="162.4" cy="217.3"/><circle cx="155.9" cy="240.9"/><circle cx="183.9" cy="208.1"/><circle cx="199.2" cy="192.3"/><circle cx="201.0" cy="181.1"/><circle cx="176.9" cy="222.2"/><circle cx="194.7" cy="206.6"/><circle cx="197.4" cy="201.4"/><circle cx="187.3" cy="202.7"/><circle cx="200.3" cy="189.4"/><circle cx="160.7" cy="235.1"/><circle cx="146.8" cy="236.8"/><circle cx="162.0" cy="240.8"/><circle cx="210.2" cy="183.8"/><circle cx="232.8" cy="169.5"/><circle cx="164.9" cy="237.6"/><circle cx="188.2" cy="190.5"/><circle cx="188.7" cy="206.3"/><circle cx="224.9" cy="180.0"/><circle cx="128.4" cy="264.3"/><circle cx="196.8" cy="205.9"/><circle cx="215.1" cy="172.3"/></g><g fill="#bcbd22" stroke="#bcbd22" fill-opacity="0.5" stroke-opacity="0.5" stroke-width="0.9"><circle cx="223.9" cy="181.4"/><circle cx="151.3" cy="216.9"/><circle cx="126.6" cy="253.2"/><circle cx="198.6" cy="177.4"/><circle cx="200.9" cy="191.7"/><circle cx="165.9" cy="222.2"/><circle cx="226.5" cy="160.1"/><circle cx="198.6" cy="187.9"/><circle cx="186.2" cy="206.1"/><circle cx="195.8" cy="211.6"/><circle cx="139.2" cy="261.6"/><circle cx="236.3" cy="174.8"/><circle cx="222.9" cy="155.0"/><circle cx="146.0" cy="250.7"/><circle cx="208.3" cy="186.8"/><circle cx="185.2" cy="203.2"/><circle cx="167.1" cy="223.8"/><circle cx="185.2" cy="200.8"/><circle cx="142.8" cy="256.6"/><circle cx="171.0" cy="237.0"/><circle cx="151.6" cy="221.0"/><circle cx="201.8" cy="198.5"/><circle cx="183.8" cy="212.6"/><circle cx="134.1" cy="267.8"/><circle cx="159.5" cy="238.3"/><circle cx="166.1" cy="225.0"/><circle cx="160.1" cy="223.3"/><circle cx="215.1" cy="189.8"/><circle cx="212.4" cy="178.3"/><circle cx="231.0" cy="171.2"/></g><g fill="#d62728" stroke="#d62728" fill-opacity="0.5" stroke-opacity="0.5" stroke-width="0.9"><circle cx="193.0" cy="202.2"/><circle cx="185.1" cy="199.3"/><circle cx="175.0" cy="233.0"/><circle cx="142.2" cy="247.3"/><circle cx="185.6" cy="199.2"/><circle cx="219.5" cy="173.6"/><circle cx="129.0" cy="263.0"/><circle cx="177.7" cy="200.8"/><circle cx="192.2" cy="198.0"/><circle cx="224.1" cy="171.1"/><circle cx="130.7" cy="266.7"/><circle cx="161.5" cy="223.3"/><circle cx="141.8" cy="254.4"/><circle cx="155.5" cy="229.6"/><circle cx="222.2" cy="171.6"/><circle cx="139.7" cy="241.1"/><circle cx="168.2" cy="232.2"/><circle cx="213.0" cy="180.4"/><circle cx="203.7" cy="186.1"/><circle cx="221.6" cy="169.0"/><circle cx="134.0" cy="247.2"/><circle cx="132.6" cy="256.7"/><circle cx="145.2" cy="237.9"/><circle cx="167.4" cy="203.1"/><circle cx="193.5" cy="190.5"/><circle cx="145.0" cy="259.6"/><circle cx="199.9" cy="207.9"/><circle cx="146.4" cy="239.1"/><circle cx="230.8" cy="168.7"/><circle cx="183.0" cy="205.9"/></g><g fill="#17becf" stroke="#17becf" fill-opacity="0.5" stroke-opacity="0.5" stroke-width="0.9"><circle cx="136.3" cy="270.3"/><circle cx="238.4" cy="176.0"/><circle cx="155.5" cy="243.3"/><circle cx="135.3" cy="260.6"/><circle cx="200.0" cy="201.3"/><circle cx="160.8" cy="242.4"/><circle cx="231.8" cy="173.6"/><circle cx="198.4" cy="198.8"/><circle cx="221.3" cy="175.0"/><circle cx="203.6" cy="206.7"/><circle cx="206.7" cy="192.8"/><circle cx="172.6" cy="215.3"/><circle cx="171.4" cy="221.8"/><circle cx="216.4" cy="192.2"/><circle cx="148.0" cy="249.0"/><circle cx="134.4" cy="259.7"/><circle cx="219.2" cy="167.9"/><circle cx="175.2" cy="234.2"/><circle cx="181.4" cy="203.6"/><circle cx="170.2" cy="226.8"/><circle cx="204.1" cy="187.6"/><circle cx="205.1" cy="181.8"/><circle cx="150.9" cy="251.7"/><circle cx="212.5" cy="190.2"/><circle cx="160.5" cy="233.2"/></g><g fill="#8c564b" stroke="#8c564b" fill-opacity="0.5" stroke-opacity="0.5" stroke-width="0.9"><circle cx="237.5" cy="170.5"/><circle cx="144.3" cy="249.6"/><circle cx="165.3" cy="227.9"/><circle cx="197.5" cy="195.6"/><circle cx="138.6" cy="247.8"/><circle cx="135.5" cy="260.7"/><circle cx="224.2" cy="173.9"/><circle cx="147.2" cy="227.3"/><circle cx="222.6" cy="161.8"/><circle cx="181.3" cy="211.6"/><circle cx="193.0" cy="209.4"/><circle cx="185.3" cy="211.5"/><circle cx="177.4" cy="210.5"/><circle cx="150.5" cy="233.4"/><circle cx="179.7" cy="187.8"/><circle cx="173.6" cy="220.8"/><circle cx="215.7" cy="177.4"/><circle cx="158.9" cy="237.5"/><circle cx="146.7" cy="245.6"/><circle cx="219.8" cy="179.0"/><circle cx="188.1" cy="215.2"/><circle cx="145.4" cy="236.6"/><circle cx="208.1" cy="184.6"/><circle cx="149.9" cy="229.1"/><circle cx="205.0" cy="193.8"/><circle cx="194.1" cy="196.1"/><circle cx="153.8" cy="231.8"/><circle cx="203.8" cy="208.7"/><circle cx="184.2" cy="221.1"/><circle cx="126.5" cy="259.4"/></g><g fill="#d62728" stroke="#d62728" fill-opacity="0.5" stroke-opacity="0.5" stroke-width="0.9"><circle cx="99.2" cy="303.5"/><circle cx="109.8" cy="282.4"/><circle cx="137.3" cy="248.2"/><circle cx="103.0" cy="282.0"/><circle cx="121.9" cy="262.9"/><circle cx="104.2" cy="297.4"/><circle cx="91.1" cy="296.3"/><circle cx="109.3" cy="287.4"/><circle cx="88.9" cy="307.0"/><circle cx="121.9" cy="278.2"/><circle cx="144.8" cy="268.5"/><circle cx="128.8" cy="292.4"/><circle cx="103.7" cy="294.8"/><circle cx="114.2" cy="291.3"/><circle cx="145.7" cy="253.3"/><circle cx="101.6" cy="290.5"/><circle cx="118.7" cy="294.9"/><circle cx="145.4" cy="271.7"/><circle cx="104.9" cy="292.7"/><circle cx="151.7" cy="243.8"/><circle cx="102.2" cy="300.7"/><circle cx="93.3" cy="312.7"/><circle cx="125.7" cy="288.6"/><circle cx="125.9" cy="272.8"/><circle cx="131.5" cy="274.3"/><circle cx="108.9" cy="286.2"/><circle cx="137.8" cy="250.9"/><circle cx="150.4" cy="254.5"/><circle cx="119.5" cy="273.7"/><circle cx="144.7" cy="252.3"/><circle cx="140.9" cy="250.6"/><circle cx="95.1" cy="292.7"/><circle cx="96.3" cy="299.4"/><circle cx="95.6" cy="299.8"/><circle cx="92.4" cy="303.1"/><circle cx="144.8" cy="258.5"/><circle cx="114.7" cy="283.8"/><circle cx="97.7" cy="300.5"/><circle cx="119.6" cy="265.2"/><circle cx="103.2" cy="284.3"/><circle cx="84.5" cy="300.6"/><circle cx="122.3" cy="286.9"/><circle cx="146.4" cy="253.1"/><circle cx="146.5" cy="270.3"/><circle cx="160.5" cy="244.8"/><circle cx="129.4" cy="285.5"/><circle cx="149.9" cy="237.3"/><circle cx="111.0" cy="280.0"/><circle cx="127.5" cy="281.5"/><circle cx="138.6" cy="256.5"/><circle cx="115.8" cy="274.2"/><circle cx="93.5" cy="292.8"/><circle cx="133.4" cy="256.3"/><circle cx="152.0" cy="246.0"/><circle cx="113.5" cy="286.2"/><circle cx="113.7" cy="278.1"/><circle cx="108.5" cy="287.9"/><circle cx="138.7" cy="264.7"/><circle cx="128.4" cy="282.1"/><circle cx="100.2" cy="290.6"/><circle cx="155.2" cy="251.7"/><circle cx="91.7" cy="312.5"/><circle cx="142.6" cy="248.0"/><circle cx="149.2" cy="250.5"/><circle cx="91.6" cy="301.1"/><circle cx="95.0" cy="315.4"/><circle cx="129.2" cy="261.0"/><circle cx="135.6" cy="276.4"/><circle cx="107.3" cy="305.9"/><circle cx="123.3" cy="285.3"/><circle cx="95.6" cy="304.9"/><circle cx="120.2" cy="284.8"/><circle cx="131.7" cy="280.7"/><circle cx="144.8" cy="241.8"/><circle cx="119.0" cy="289.1"/><circle cx="100.6" cy="301.1"/><circle cx="153.9" cy="243.0"/><circle cx="135.0" cy="268.2"/><circle cx="97.2" cy="301.0"/><circle cx="91.4" cy="305.8"/><circle cx="115.1" cy="284.4"/><circle cx="101.0" cy="289.7"/><circle cx="116.6" cy="287.8"/><circle cx="112.3" cy="296.9"/><circle cx="151.3" cy="245.9"/><circle cx="150.2" cy="258.9"/><circle cx="132.9" cy="261.4"/><circle cx="96.1" cy="306.2"/><circle cx="146.1" cy="257.7"/><circle cx="112.8" cy="279.7"/><circle cx="146.4" cy="247.1"/><circle cx="104.2" cy="319.8"/><circle cx="100.6" cy="302.9"/><circle cx="97.7" cy="302.3"/><circle cx="142.8" cy="250.9"/><circle cx="158.3" cy="247.0"/><circle cx="146.4" cy="264.4"/><circle cx="109.3" cy="288.8"/><circle cx="90.7" cy="306.2"/><circle cx="167.0" cy="254.4"/><circle cx="107.2" cy="306.0"/><circle cx="148.1" cy="257.0"/><circle cx="134.2" cy="290.8"/><circle cx="114.8" cy="289.9"/><circle cx="112.4" cy="277.5"/><circle cx="98.9" cy="310.9"/><circle cx="96.9" cy="303.3"/><circle cx="153.8" cy="254.8"/><circle cx="117.1" cy="276.3"/><circle cx="131.6" cy="259.9"/><circle cx="105.3" cy="281.3"/><circle cx="120.9" cy="275.9"/><circle cx="138.3" cy="249.4"/><circle cx="131.0" cy="263.0"/><circle cx="118.2" cy="284.9"/><circle cx="112.2" cy="270.1"/><circle cx="160.9" cy="245.1"/><circle cx="91.3" cy="309.6"/><circle cx="103.7" cy="270.0"/><circle cx="94.9" cy="299.3"/><circle cx="99.9" cy="308.0"/><circle cx="92.2" cy="307.5"/><circle cx="144.7" cy="259.9"/><circle cx="120.4" cy="278.9"/><circle cx="134.1" cy="279.8"/><circle cx="108.5" cy="288.9"/><circle cx="123.3" cy="290.7"/><circle cx="117.4" cy="276.6"/><circle cx="144.4" cy="250.7"/><circle cx="92.5" cy="302.5"/><circle cx="92.2" cy="289.7"/><circle cx="107.8" cy="306.8"/><circle cx="126.4" cy="283.8"/><circle cx="126.2" cy="282.0"/><circle cx="138.6" cy="265.8"/><circle cx="153.2" cy="237.1"/><circle cx="154.5" cy="248.5"/><circle cx="108.1" cy="297.1"/><circle cx="122.1" cy="287.6"/><circle cx="128.1" cy="276.4"/><circle cx="146.0" cy="257.6"/><circle cx="124.0" cy="274.9"/><circle cx="106.2" cy="306.5"/><circle cx="93.4" cy="309.1"/><circle cx="109.3" cy="284.3"/><circle cx="128.5" cy="266.0"/><circle cx="106.8" cy="304.3"/><circle cx="115.2" cy="274.0"/><circle cx="110.9" cy="279.7"/><circle cx="154.3" cy="242.1"/><circle cx="143.5" cy="268.0"/><circle cx="164.8" cy="250.5"/><circle cx="123.7" cy="273.6"/><circle cx="127.4" cy="281.2"/><circle cx="164.2" cy="249.7"/><circle cx="111.9" cy="277.4"/><circle cx="121.6" cy="266.6"/><circle cx="89.1" cy="308.5"/><circle cx="95.4" cy="294.4"/><circle cx="104.4" cy="286.8"/><circle cx="111.0" cy="299.3"/><circle cx="112.2" cy="274.0"/><circle cx="150.1" cy="247.9"/><circle cx="101.6" cy="294.9"/><circle cx="87.1" cy="303.2"/><circle cx="124.8" cy="268.5"/><circle cx="105.8" cy="277.5"/><circle cx="92.7" cy="308.9"/><circle cx="143.4" cy="259.4"/><circle cx="158.0" cy="249.0"/><circle cx="141.0" cy="259.1"/><circle cx="153.2" cy="263.6"/><circle cx="141.6" cy="257.8"/><circle cx="157.8" cy="243.1"/><circle cx="101.1" cy="304.3"/><circle cx="161.7" cy="261.3"/><circle cx="148.5" cy="272.8"/><circle cx="151.3" cy="240.7"/><circle cx="152.8" cy="256.5"/><circle cx="119.1" cy="264.2"/><circle cx="137.8" cy="268.1"/><circle cx="104.3" cy="292.5"/><circle cx="118.5" cy="294.3"/><circle cx="102.2" cy="304.0"/><circle cx="117.2" cy="283.4"/><circle cx="143.1" cy="249.8"/><circle cx="104.0" cy="278.8"/><circle cx="145.1" cy="243.9"/><circle cx="108.8" cy="304.1"/><circle cx="133.2" cy="265.0"/><circle cx="105.8" cy="295.7"/><circle cx="135.8" cy="269.2"/><circle cx="140.2" cy="252.4"/><circle cx="141.6" cy="240.9"/><circle cx="144.0" cy="259.7"/><circle cx="94.6" cy="297.3"/><circle cx="128.6" cy="255.0"/><circle cx="113.9" cy="295.4"/><circle cx="113.6" cy="265.2"/><circle cx="92.2" cy="295.1"/><circle cx="117.1" cy="277.7"/><circle cx="125.0" cy="255.2"/><circle cx="96.3" cy="303.0"/><circle cx="122.9" cy="262.9"/><circle cx="147.0" cy="245.4"/><circle cx="129.1" cy="277.9"/><circle cx="109.9" cy="286.7"/><circle cx="104.0" cy="297.8"/><circle cx="122.6" cy="280.3"/><circle cx="121.3" cy="288.7"/><circle cx="140.7" cy="266.0"/><circle cx="146.5" cy="265.3"/><circle cx="130.8" cy="255.5"/><circle cx="151.6" cy="268.0"/><circle cx="143.1" cy="254.9"/><circle cx="142.1" cy="263.0"/><circle cx="111.7" cy="299.4"/><circle cx="124.3" cy="265.9"/><circle cx="119.3" cy="287.1"/><circle cx="90.3" cy="302.2"/><circle cx="132.9" cy="267.2"/><circle cx="97.7" cy="300.6"/><circle cx="136.7" cy="263.1"/><circle cx="121.8" cy="269.1"/><circle cx="90.9" cy="303.6"/><circle cx="119.6" cy="283.2"/><circle cx="126.0" cy="272.0"/><circle cx="98.2" cy="285.9"/><circle cx="156.8" cy="248.8"/><circle cx="145.6" cy="234.7"/><circle cx="98.2" cy="306.3"/><circle cx="141.3" cy="263.2"/><circle cx="126.3" cy="289.1"/><circle cx="151.2" cy="256.9"/><circle cx="163.4" cy="254.6"/><circle cx="125.7" cy="278.1"/><circle cx="128.6" cy="262.2"/><circle cx="114.1" cy="285.2"/><circle cx="137.8" cy="267.0"/><circle cx="163.5" cy="247.1"/><circle cx="114.8" cy="290.9"/><circle cx="97.1" cy="315.7"/><circle cx="163.4" cy="249.8"/><circle cx="84.5" cy="303.4"/><circle cx="134.9" cy="261.0"/><circle cx="133.2" cy="274.5"/><circle cx="112.8" cy="278.8"/><circle cx="145.7" cy="237.8"/><circle cx="100.2" cy="306.1"/><circle cx="105.9" cy="295.1"/><circle cx="153.0" cy="259.4"/><circle cx="96.0" cy="317.8"/><circle cx="100.7" cy="286.6"/><circle cx="86.6" cy="285.5"/><circle cx="121.0" cy="284.7"/><circle cx="148.3" cy="267.6"/><circle cx="147.8" cy="236.7"/><circle cx="101.1" cy="289.5"/><circle cx="89.0" cy="309.9"/><circle cx="132.3" cy="250.7"/><circle cx="154.0" cy="249.0"/><circle cx="89.8" cy="310.5"/><circle cx="126.6" cy="263.1"/><circle cx="131.0" cy="270.4"/><circle cx="124.0" cy="268.8"/><circle cx="133.0" cy="267.7"/><circle cx="105.9" cy="289.5"/><circle cx="150.2" cy="247.4"/><circle cx="112.9" cy="304.6"/><circle cx="154.3" cy="244.3"/><circle cx="162.8" cy="251.9"/><circle cx="151.1" cy="257.1"/><circle cx="123.3" cy="291.8"/><circle cx="150.6" cy="240.3"/><circle cx="105.3" cy="297.9"/><circle cx="124.0" cy="277.7"/><circle cx="116.3" cy="268.1"/><circle cx="96.1" cy="299.2"/><circle cx="158.9" cy="243.1"/><circle cx="110.4" cy="307.8"/><circle cx="117.6" cy="273.0"/><circle cx="96.5" cy="307.2"/><circle cx="109.8" cy="293.1"/><circle cx="142.6" cy="248.7"/><circle cx="138.9" cy="266.3"/><circle cx="114.0" cy="285.5"/><circle cx="128.7" cy="260.2"/><circle cx="98.6" cy="297.4"/><circle cx="137.4" cy="267.5"/><circle cx="143.1" cy="240.8"/><circle cx="86.7" cy="307.4"/><circle cx="100.6" cy="281.2"/><circle cx="106.8" cy="293.5"/><circle cx="94.8" cy="305.1"/><circle cx="147.0" cy="241.2"/><circle cx="133.9" cy="259.9"/><circle cx="130.2" cy="266.5"/><circle cx="131.2" cy="268.0"/><circle cx="136.7" cy="264.9"/><circle cx="111.4" cy="294.1"/><circle cx="105.7" cy="300.2"/><circle cx="93.3" cy="305.3"/><circle cx="101.2" cy="302.2"/><circle cx="108.8" cy="303.7"/><circle cx="143.8" cy="254.6"/><circle cx="103.0" cy="280.4"/><circle cx="108.3" cy="276.7"/><circle cx="150.5" cy="269.5"/><circle cx="160.9" cy="247.7"/><circle cx="93.5" cy="301.7"/><circle cx="128.4" cy="268.7"/><circle cx="116.7" cy="280.8"/><circle cx="102.2" cy="299.5"/><circle cx="111.7" cy="286.7"/><circle cx="148.4" cy="261.2"/><circle cx="102.0" cy="287.0"/><circle cx="132.4" cy="276.5"/><circle cx="120.2" cy="279.0"/><circle cx="85.5" cy="305.7"/><circle cx="142.8" cy="244.8"/><circle cx="148.7" cy="250.4"/><circle cx="146.8" cy="252.2"/><circle cx="121.2" cy="282.9"/><circle cx="120.3" cy="282.8"/><circle cx="136.3" cy="264.5"/><circle cx="150.6" cy="234.8"/><circle cx="124.8" cy="277.4"/><circle cx="106.6" cy="287.5"/><circle cx="118.4" cy="274.5"/><circle cx="125.6" cy="268.0"/><circle cx="133.4" cy="267.7"/><circle cx="150.4" cy="241.1"/><circle cx="127.3" cy="268.8"/><circle cx="145.3" cy="252.5"/><circle cx="123.0" cy="279.4"/><circle cx="130.5" cy="289.6"/><circle cx="148.0" cy="243.4"/><circle cx="104.8" cy="287.6"/><circle cx="111.8" cy="292.1"/><circle cx="126.8" cy="272.7"/><circle cx="95.9" cy="303.0"/><circle cx="104.5" cy="304.1"/><circle cx="119.9" cy="270.1"/><circle cx="128.9" cy="261.6"/><circle cx="152.6" cy="237.7"/><circle cx="93.5" cy="300.4"/><circle cx="99.5" cy="316.4"/><circle cx="133.3" cy="259.4"/><circle cx="153.4" cy="250.3"/><circle cx="91.5" cy="301.3"/><circle cx="104.2" cy="285.1"/><circle cx="131.2" cy="258.3"/><circle cx="133.1" cy="265.8"/><circle cx="134.4" cy="234.9"/><circle cx="134.5" cy="264.1"/><circle cx="160.3" cy="249.9"/><circle cx="104.3" cy="285.9"/><circle cx="147.8" cy="265.9"/><circle cx="118.7" cy="258.6"/><circle cx="110.3" cy="277.7"/><circle cx="131.4" cy="252.8"/><circle cx="141.9" cy="245.8"/><circle cx="126.0" cy="267.3"/><circle cx="144.9" cy="267.2"/><circle cx="119.5" cy="284.4"/><circle cx="145.4" cy="247.3"/><circle cx="115.7" cy="284.4"/><circle cx="129.3" cy="264.5"/><circle cx="132.9" cy="271.9"/><circle cx="127.5" cy="278.1"/><circle cx="151.0" cy="244.8"/><circle cx="133.2" cy="257.1"/><circle cx="128.8" cy="268.7"/><circle cx="142.9" cy="265.5"/><circle cx="146.2" cy="269.4"/><circle cx="101.6" cy="277.8"/><circle cx="115.6" cy="293.9"/><circle cx="134.9" cy="272.0"/><circle cx="101.7" cy="304.9"/><circle cx="140.1" cy="249.0"/><circle cx="145.8" cy="260.6"/><circle cx="129.7" cy="262.4"/><circle cx="110.0" cy="285.9"/><circle cx="163.0" cy="248.3"/><circle cx="139.1" cy="257.6"/><circle cx="155.0" cy="256.8"/><circle cx="139.1" cy="260.8"/><circle cx="122.8" cy="267.0"/><circle cx="109.3" cy="292.2"/><circle cx="105.3" cy="302.7"/><circle cx="147.5" cy="255.6"/><circle cx="132.2" cy="267.7"/><circle cx="103.7" cy="293.2"/><circle cx="113.2" cy="306.7"/><circle cx="131.2" cy="285.7"/><circle cx="129.7" cy="263.2"/><circle cx="142.1" cy="257.8"/><circle cx="121.0" cy="276.3"/><circle cx="105.2" cy="292.8"/><circle cx="136.2" cy="263.8"/><circle cx="100.1" cy="304.6"/><circle cx="100.6" cy="299.2"/><circle cx="110.8" cy="281.3"/><circle cx="125.3" cy="269.1"/><circle cx="91.0" cy="311.1"/><circle cx="102.8" cy="306.6"/><circle cx="136.4" cy="259.7"/><circle cx="122.4" cy="287.5"/><circle cx="122.4" cy="282.4"/><circle cx="119.8" cy="276.3"/><circle cx="100.8" cy="299.0"/><circle cx="150.5" cy="237.7"/><circle cx="148.6" cy="241.6"/><circle cx="129.8" cy="263.4"/><circle cx="97.1" cy="307.0"/><circle cx="136.2" cy="262.4"/><circle cx="146.2" cy="255.3"/><circle cx="103.5" cy="279.1"/><circle cx="97.8" cy="299.4"/><circle cx="142.4" cy="263.1"/><circle cx="136.8" cy="270.3"/><circle cx="109.3" cy="276.9"/><circle cx="113.1" cy="294.4"/><circle cx="151.7" cy="243.9"/><circle cx="94.8" cy="305.4"/><circle cx="105.1" cy="284.3"/><circle cx="125.7" cy="281.1"/><circle cx="126.6" cy="266.6"/><circle cx="105.6" cy="292.4"/><circle cx="125.2" cy="264.5"/><circle cx="91.9" cy="298.8"/><circle cx="124.3" cy="272.4"/><circle cx="96.2" cy="307.1"/><circle cx="110.9" cy="278.9"/><circle cx="145.3" cy="268.0"/><circle cx="102.0" cy="296.7"/><circle cx="103.7" cy="305.1"/><circle cx="162.5" cy="249.7"/><circle cx="125.8" cy="288.3"/><circle cx="99.7" cy="314.4"/><circle cx="113.3" cy="276.3"/><circle cx="103.6" cy="288.1"/><circle cx="145.0" cy="252.9"/><circle cx="144.5" cy="243.8"/><circle cx="141.3" cy="257.0"/><circle cx="137.7" cy="265.8"/><circle cx="133.3" cy="275.9"/><circle cx="90.7" cy="305.4"/><circle cx="129.2" cy="260.5"/><circle cx="108.8" cy="277.1"/><circle cx="111.8" cy="295.0"/><circle cx="128.7" cy="272.1"/><circle cx="111.5" cy="300.3"/><circle cx="151.8" cy="235.8"/><circle cx="125.9" cy="264.6"/><circle cx="137.8" cy="255.4"/><circle cx="96.9" cy="304.4"/><circle cx="92.7" cy="310.3"/><circle cx="102.5" cy="301.1"/><circle cx="97.2" cy="294.1"/><circle cx="129.4" cy="274.9"/><circle cx="129.1" cy="259.7"/><circle cx="149.6" cy="246.5"/><circle cx="99.9" cy="309.3"/><circle cx="129.9" cy="282.8"/><circle cx="138.1" cy="268.2"/><circle cx="117.0" cy="281.3"/><circle cx="99.3" cy="312.0"/><circle cx="93.7" cy="302.8"/><circle cx="86.4" cy="307.8"/><circle cx="108.1" cy="285.8"/><circle cx="107.1" cy="307.4"/><circle cx="167.3" cy="256.7"/><circle cx="127.4" cy="261.5"/><circle cx="90.4" cy="299.4"/><circle cx="136.5" cy="265.8"/><circle cx="120.1" cy="271.9"/><circle cx="147.8" cy="253.9"/><circle cx="104.7" cy="301.0"/><circle cx="107.6" cy="281.6"/><circle cx="124.6" cy="278.7"/><circle cx="118.8" cy="269.7"/><circle cx="92.2" cy="294.8"/><circle cx="147.0" cy="253.1"/><circle cx="92.4" cy="293.0"/><circle cx="126.7" cy="284.5"/><circle cx="122.6" cy="265.4"/><circle cx="118.2" cy="279.4"/><circle cx="99.7" cy="274.6"/><circle cx="138.3" cy="259.6"/><circle cx="128.4" cy="277.5"/><circle cx="127.2" cy="253.9"/><circle cx="149.5" cy="265.2"/><circle cx="150.8" cy="243.7"/><circle cx="126.0" cy="279.5"/><circle cx="109.9" cy="274.0"/><circle cx="153.4" cy="246.9"/><circle cx="151.6" cy="238.7"/><circle cx="149.6" cy="249.8"/><circle cx="107.7" cy="301.9"/><circle cx="163.4" cy="258.6"/><circle cx="123.7" cy="255.5"/><circle cx="122.9" cy="272.2"/><circle cx="102.9" cy="307.3"/><circle cx="101.6" cy="301.6"/><circle cx="143.7" cy="244.8"/><circle cx="115.4" cy="297.6"/><circle cx="108.7" cy="264.8"/><circle cx="118.9" cy="281.6"/><circle cx="116.7" cy="285.3"/><circle cx="110.9" cy="273.9"/><circle cx="107.1" cy="290.5"/><circle cx="156.7" cy="253.1"/><circle cx="118.7" cy="269.2"/><circle cx="106.8" cy="288.3"/><circle cx="98.8" cy="291.7"/><circle cx="149.2" cy="259.4"/><circle cx="149.4" cy="261.3"/><circle cx="142.4" cy="249.8"/><circle cx="131.7" cy="270.8"/><circle cx="121.5" cy="297.9"/><circle cx="106.1" cy="299.1"/><circle cx="111.0" cy="281.4"/><circle cx="98.5" cy="308.6"/><circle cx="101.9" cy="286.0"/><circle cx="114.9" cy="288.8"/><circle cx="97.7" cy="304.3"/><circle cx="106.4" cy="307.8"/><circle cx="100.8" cy="306.8"/><circle cx="116.1" cy="284.2"/><circle cx="150.3" cy="242.9"/><circle cx="154.8" cy="242.8"/><circle cx="92.4" cy="300.6"/><circle cx="141.0" cy="280.2"/><circle cx="90.1" cy="312.1"/><circle cx="135.4" cy="264.5"/><circle cx="137.2" cy="272.1"/><circle cx="123.7" cy="274.4"/><circle cx="111.4" cy="295.1"/><circle cx="117.9" cy="275.3"/><circle cx="93.7" cy="311.0"/><circle cx="131.1" cy="261.8"/><circle cx="147.5" cy="261.0"/><circle cx="90.5" cy="301.3"/><circle cx="156.6" cy="239.0"/><circle cx="93.9" cy="291.7"/><circle cx="153.3" cy="247.5"/><circle cx="159.9" cy="245.1"/><circle cx="116.8" cy="279.9"/><circle cx="149.7" cy="254.3"/><circle cx="132.6" cy="276.4"/><circle cx="107.5" cy="292.0"/><circle cx="136.4" cy="262.7"/><circle cx="116.4" cy="288.7"/><circle cx="101.4" cy="302.7"/><circle cx="147.4" cy="261.8"/><circle cx="101.6" cy="297.6"/><circle cx="161.1" cy="252.7"/><circle cx="95.5" cy="290.3"/><circle cx="110.7" cy="288.1"/><circle cx="139.4" cy="249.5"/><circle cx="153.3" cy="258.6"/><circle cx="114.3" cy="280.6"/><circle cx="131.2" cy="268.3"/><circle cx="149.4" cy="239.6"/><circle cx="104.8" cy="286.6"/><circle cx="114.8" cy="299.9"/><circle cx="92.2" cy="300.2"/><circle cx="144.2" cy="270.2"/><circle cx="129.3" cy="254.9"/><circle cx="98.1" cy="303.6"/><circle cx="144.8" cy="266.5"/><circle cx="105.3" cy="287.6"/><circle cx="123.2" cy="274.1"/><circle cx="132.3" cy="276.2"/><circle cx="132.5" cy="273.4"/><circle cx="123.8" cy="269.0"/><circle cx="122.7" cy="289.4"/><circle cx="141.7" cy="266.0"/><circle cx="95.5" cy="288.7"/><circle cx="153.4" cy="254.0"/><circle cx="113.3" cy="281.5"/><circle cx="139.9" cy="254.1"/><circle cx="125.3" cy="262.6"/><circle cx="114.6" cy="273.9"/><circle cx="134.3" cy="290.3"/><circle cx="127.0" cy="276.0"/><circle cx="111.0" cy="275.0"/><circle cx="131.2" cy="275.1"/><circle cx="111.2" cy="266.9"/><circle cx="146.1" cy="250.3"/><circle cx="112.4" cy="298.5"/><circle cx="137.8" cy="254.8"/><circle cx="106.7" cy="271.6"/><circle cx="151.6" cy="254.7"/><circle cx="143.3" cy="249.7"/><circle cx="98.1" cy="310.4"/><circle cx="156.6" cy="249.1"/><circle cx="144.5" cy="253.2"/><circle cx="131.1" cy="261.7"/><circle cx="100.8" cy="296.6"/><circle cx="145.5" cy="251.3"/><circle cx="116.3" cy="255.9"/><circle cx="109.7" cy="299.9"/><circle cx="142.6" cy="275.5"/><circle cx="95.4" cy="301.3"/><circle cx="136.0" cy="260.5"/><circle cx="108.5" cy="304.2"/><circle cx="101.6" cy="281.4"/><circle cx="93.9" cy="313.4"/><circle cx="121.1" cy="291.5"/><circle cx="128.0" cy="265.5"/><circle cx="130.4" cy="261.0"/><circle cx="104.9" cy="269.1"/><circle cx="115.1" cy="298.6"/><circle cx="101.0" cy="310.4"/><circle cx="114.4" cy="287.1"/><circle cx="145.3" cy="258.2"/><circle cx="154.3" cy="245.9"/><circle cx="156.8" cy="250.2"/><circle cx="101.4" cy="312.3"/><circle cx="100.0" cy="304.8"/><circle cx="110.3" cy="281.3"/><circle cx="122.6" cy="266.8"/><circle cx="95.6" cy="311.3"/><circle cx="93.6" cy="303.7"/><circle cx="143.8" cy="250.7"/><circle cx="161.1" cy="243.9"/><circle cx="120.2" cy="281.4"/><circle cx="143.5" cy="254.9"/><circle cx="122.2" cy="246.2"/><circle cx="141.1" cy="255.8"/><circle cx="121.8" cy="285.4"/><circle cx="154.4" cy="246.7"/><circle cx="100.1" cy="305.6"/><circle cx="101.9" cy="287.3"/><circle cx="143.9" cy="277.4"/><circle cx="111.0" cy="298.7"/><circle cx="142.6" cy="247.5"/><circle cx="143.5" cy="250.9"/><circle cx="143.3" cy="255.2"/><circle cx="146.0" cy="245.4"/><circle cx="139.5" cy="273.0"/><circle cx="100.1" cy="297.3"/><circle cx="116.7" cy="293.3"/><circle cx="94.7" cy="316.9"/><circle cx="113.0" cy="280.2"/><circle cx="136.6" cy="270.1"/><circle cx="138.7" cy="263.6"/><circle cx="134.7" cy="257.0"/><circle cx="111.5" cy="297.8"/><circle cx="149.9" cy="242.9"/><circle cx="113.7" cy="259.9"/><circle cx="104.2" cy="297.8"/><circle cx="149.0" cy="240.1"/><circle cx="130.8" cy="259.1"/><circle cx="142.5" cy="269.4"/><circle cx="137.6" cy="275.1"/><circle cx="89.9" cy="312.5"/><circle cx="137.7" cy="283.0"/><circle cx="138.3" cy="259.7"/><circle cx="133.1" cy="262.3"/><circle cx="101.7" cy="294.3"/><circle cx="118.3" cy="274.3"/><circle cx="131.5" cy="252.6"/><circle cx="153.3" cy="249.4"/><circle cx="98.7" cy="289.2"/><circle cx="124.9" cy="267.2"/><circle cx="92.2" cy="305.3"/><circle cx="101.9" cy="300.0"/><circle cx="109.7" cy="279.1"/><circle cx="93.6" cy="314.0"/><circle cx="109.3" cy="282.2"/><circle cx="143.3" cy="243.7"/><circle cx="112.6" cy="292.9"/><circle cx="103.5" cy="305.1"/><circle cx="99.6" cy="307.7"/><circle cx="126.5" cy="271.6"/><circle cx="114.1" cy="280.3"/><circle cx="126.9" cy="261.6"/><circle cx="106.3" cy="272.5"/><circle cx="115.7" cy="264.4"/><circle cx="114.7" cy="280.5"/><circle cx="110.3" cy="292.6"/><circle cx="94.8" cy="316.2"/><circle cx="104.3" cy="287.3"/><circle cx="137.2" cy="255.7"/><circle cx="113.6" cy="287.9"/><circle cx="143.0" cy="257.3"/><circle cx="92.9" cy="309.8"/><circle cx="151.0" cy="275.0"/><circle cx="146.3" cy="253.1"/><circle cx="104.1" cy="292.7"/><circle cx="115.1" cy="284.5"/><circle cx="111.8" cy="297.5"/><circle cx="117.9" cy="279.4"/><circle cx="150.2" cy="243.8"/><circle cx="127.0" cy="251.8"/><circle cx="92.3" cy="300.4"/><circle cx="155.2" cy="237.9"/><circle cx="135.7" cy="263.0"/><circle cx="152.3" cy="260.8"/><circle cx="149.5" cy="254.3"/><circle cx="160.1" cy="253.8"/><circle cx="143.0" cy="256.7"/><circle cx="102.4" cy="287.3"/><circle cx="134.7" cy="252.5"/><circle cx="129.8" cy="258.6"/><circle cx="116.8" cy="280.9"/><circle cx="143.9" cy="244.4"/><circle cx="91.5" cy="312.6"/><circle cx="133.3" cy="285.2"/><circle cx="149.5" cy="248.0"/><circle cx="124.6" cy="272.6"/><circle cx="123.4" cy="292.5"/><circle cx="98.9" cy="306.5"/><circle cx="112.6" cy="308.8"/><circle cx="109.2" cy="294.7"/><circle cx="151.6" cy="234.8"/><circle cx="129.4" cy="275.2"/><circle cx="103.5" cy="283.1"/><circle cx="149.2" cy="247.4"/><circle cx="134.4" cy="271.4"/><circle cx="117.3" cy="298.7"/><circle cx="129.6" cy="260.4"/><circle cx="89.0" cy="308.1"/><circle cx="132.0" cy="281.5"/><circle cx="126.6" cy="275.5"/><circle cx="90.0" cy="303.1"/><circle cx="138.1" cy="268.1"/><circle cx="89.8" cy="309.3"/><circle cx="110.8" cy="306.4"/><circle cx="144.9" cy="263.5"/><circle cx="112.2" cy="278.5"/><circle cx="144.8" cy="266.3"/><circle cx="133.0" cy="280.1"/><circle cx="127.4" cy="285.0"/><circle cx="131.2" cy="270.7"/><circle cx="96.9" cy="316.8"/><circle cx="90.4" cy="312.7"/><circle cx="151.1" cy="242.1"/><circle cx="128.0" cy="253.7"/><circle cx="103.4" cy="300.4"/><circle cx="127.7" cy="253.1"/><circle cx="150.2" cy="242.9"/><circle cx="148.0" cy="253.2"/><circle cx="129.9" cy="262.5"/><circle cx="116.1" cy="265.1"/><circle cx="123.3" cy="258.5"/><circle cx="98.4" cy="295.5"/><circle cx="119.3" cy="279.4"/><circle cx="145.2" cy="244.9"/><circle cx="112.3" cy="284.1"/><circle cx="106.4" cy="291.6"/><circle cx="122.6" cy="272.2"/><circle cx="135.3" cy="243.8"/><circle cx="156.5" cy="255.4"/><circle cx="158.9" cy="241.4"/><circle cx="161.9" cy="249.2"/><circle cx="93.3" cy="300.9"/><circle cx="113.5" cy="272.2"/><circle cx="119.0" cy="264.1"/><circle cx="137.2" cy="264.8"/><circle cx="96.8" cy="303.9"/><circle cx="109.6" cy="281.2"/><circle cx="113.3" cy="283.2"/><circle cx="128.6" cy="266.0"/><circle cx="112.8" cy="283.7"/><circle cx="109.0" cy="287.4"/><circle cx="102.4" cy="299.0"/><circle cx="131.8" cy="261.5"/><circle cx="116.8" cy="296.2"/><circle cx="104.9" cy="298.9"/><circle cx="159.3" cy="254.1"/><circle cx="115.2" cy="283.9"/><circle cx="111.7" cy="294.4"/><circle cx="93.5" cy="303.6"/><circle cx="117.1" cy="266.8"/><circle cx="118.0" cy="292.8"/><circle cx="132.7" cy="273.4"/><circle cx="108.4" cy="287.5"/><circle cx="112.5" cy="269.3"/><circle cx="94.9" cy="299.7"/><circle cx="92.1" cy="306.1"/><circle cx="154.1" cy="245.7"/><circle cx="141.7" cy="261.3"/><circle cx="115.0" cy="278.8"/><circle cx="100.5" cy="295.3"/><circle cx="133.4" cy="262.9"/><circle cx="133.0" cy="271.1"/><circle cx="139.8" cy="275.4"/><circle cx="161.5" cy="247.0"/><circle cx="114.5" cy="287.7"/><circle cx="159.6" cy="252.0"/><circle cx="116.2" cy="278.1"/><circle cx="164.4" cy="250.2"/><circle cx="158.2" cy="244.4"/><circle cx="114.9" cy="279.4"/><circle cx="118.0" cy="270.6"/><circle cx="149.7" cy="246.7"/><circle cx="144.3" cy="241.7"/><circle cx="98.3" cy="307.7"/><circle cx="126.9" cy="278.8"/><circle cx="91.8" cy="300.8"/><circle cx="152.2" cy="256.1"/><circle cx="108.0" cy="292.9"/><circle cx="119.5" cy="296.0"/><circle cx="105.2" cy="283.0"/><circle cx="134.4" cy="256.2"/><circle cx="114.4" cy="291.7"/><circle cx="127.6" cy="288.4"/><circle cx="148.1" cy="248.1"/><circle cx="117.0" cy="277.9"/><circle cx="146.4" cy="240.2"/><circle cx="142.7" cy="236.5"/><circle cx="118.1" cy="277.0"/><circle cx="105.8" cy="296.0"/><circle cx="155.4" cy="246.3"/><circle cx="128.2" cy="272.6"/><circle cx="119.6" cy="292.5"/><circle cx="97.0" cy="311.5"/><circle cx="120.4" cy="278.0"/><circle cx="98.1" cy="316.1"/><circle cx="138.7" cy="273.4"/><circle cx="109.3" cy="276.6"/><circle cx="111.9" cy="293.7"/><circle cx="100.5" cy="292.4"/><circle cx="135.1" cy="251.5"/><circle cx="151.3" cy="247.7"/><circle cx="87.3" cy="308.9"/><circle cx="125.6" cy="273.9"/><circle cx="98.2" cy="310.0"/><circle cx="92.5" cy="310.3"/><circle cx="157.0" cy="241.7"/><circle cx="109.6" cy="288.3"/><circle cx="124.5" cy="272.3"/><circle cx="153.7" cy="249.6"/><circle cx="127.0" cy="259.5"/><circle cx="113.4" cy="287.1"/><circle cx="139.3" cy="263.4"/><circle cx="137.9" cy="250.7"/><circle cx="138.3" cy="270.4"/><circle cx="114.9" cy="283.3"/><circle cx="133.0" cy="249.6"/><circle cx="113.7" cy="284.0"/><circle cx="106.3" cy="278.1"/><circle cx="109.2" cy="292.4"/><circle cx="159.4" cy="245.3"/><circle cx="98.1" cy="304.1"/><circle cx="95.3" cy="310.6"/><circle cx="110.4" cy="292.1"/><circle cx="99.5" cy="304.9"/><circle cx="109.6" cy="280.8"/><circle cx="152.0" cy="242.8"/><circle cx="155.9" cy="245.5"/><circle cx="107.8" cy="298.6"/><circle cx="94.0" cy="275.1"/><circle cx="116.9" cy="283.1"/><circle cx="147.4" cy="236.7"/><circle cx="112.3" cy="297.8"/><circle cx="145.3" cy="260.9"/><circle cx="125.9" cy="258.8"/><circle cx="155.7" cy="254.9"/><circle cx="112.6" cy="296.5"/><circle cx="153.6" cy="246.0"/><circle cx="162.2" cy="244.9"/><circle cx="116.9" cy="284.0"/><circle cx="153.0" cy="244.4"/><circle cx="134.5" cy="254.4"/><circle cx="103.6" cy="294.6"/><circle cx="116.9" cy="277.6"/><circle cx="100.1" cy="287.5"/><circle cx="144.0" cy="239.8"/><circle cx="106.2" cy="296.7"/><circle cx="159.6" cy="259.1"/><circle cx="112.3" cy="296.2"/><circle cx="145.0" cy="242.4"/><circle cx="146.1" cy="257.5"/><circle cx="143.0" cy="262.8"/><circle cx="109.2" cy="294.2"/><circle cx="129.5" cy="251.6"/><circle cx="131.2" cy="265.9"/><circle cx="114.1" cy="288.0"/><circle cx="161.2" cy="245.5"/><circle cx="161.2" cy="249.6"/><circle cx="118.4" cy="249.3"/><circle cx="152.0" cy="247.3"/><circle cx="110.7" cy="286.5"/><circle cx="102.1" cy="301.0"/><circle cx="106.3" cy="282.0"/><circle cx="132.7" cy="275.6"/><circle cx="161.6" cy="257.8"/><circle cx="149.9" cy="254.8"/><circle cx="103.8" cy="292.7"/><circle cx="133.3" cy="241.0"/><circle cx="150.6" cy="249.0"/><circle cx="133.0" cy="273.8"/><circle cx="123.2" cy="276.4"/><circle cx="124.4" cy="281.1"/><circle cx="105.9" cy="300.9"/><circle cx="106.0" cy="292.6"/><circle cx="121.2" cy="272.8"/><circle cx="126.7" cy="277.5"/><circle cx="118.7" cy="266.8"/><circle cx="119.1" cy="279.1"/><circle cx="147.0" cy="250.4"/><circle cx="102.7" cy="302.0"/><circle cx="99.7" cy="297.4"/><circle cx="151.4" cy="243.2"/><circle cx="125.0" cy="265.4"/><circle cx="135.2" cy="271.2"/><circle cx="116.9" cy="273.4"/><circle cx="120.4" cy="283.0"/><circle cx="112.0" cy="285.5"/><circle cx="120.8" cy="268.5"/><circle cx="137.9" cy="244.4"/><circle cx="94.2" cy="310.8"/><circle cx="160.2" cy="250.6"/><circle cx="101.4" cy="297.5"/><circle cx="115.0" cy="269.0"/><circle cx="147.7" cy="254.3"/><circle cx="88.4" cy="292.5"/><circle cx="143.2" cy="274.7"/><circle cx="121.9" cy="259.5"/><circle cx="120.0" cy="264.8"/><circle cx="140.2" cy="246.3"/><circle cx="101.4" cy="306.0"/><circle cx="98.0" cy="289.8"/><circle cx="145.8" cy="240.4"/><circle cx="148.1" cy="237.4"/><circle cx="98.6" cy="303.9"/><circle cx="135.9" cy="264.5"/><circle cx="90.9" cy="299.9"/><circle cx="151.8" cy="243.3"/><circle cx="156.3" cy="246.5"/><circle cx="140.5" cy="266.2"/><circle cx="119.4" cy="274.7"/><circle cx="140.5" cy="271.7"/><circle cx="123.5" cy="267.6"/><circle cx="144.9" cy="251.8"/><circle cx="154.7" cy="260.4"/><circle cx="146.0" cy="247.7"/><circle cx="140.3" cy="245.3"/><circle cx="102.9" cy="294.6"/><circle cx="108.8" cy="302.6"/><circle cx="139.8" cy="264.6"/><circle cx="121.5" cy="266.8"/><circle cx="163.1" cy="249.8"/><circle cx="94.7" cy="309.6"/><circle cx="110.1" cy="276.0"/><circle cx="150.4" cy="251.3"/><circle cx="121.8" cy="281.5"/><circle cx="95.1" cy="299.0"/><circle cx="103.2" cy="279.9"/><circle cx="153.6" cy="241.2"/><circle cx="149.0" cy="263.4"/><circle cx="155.4" cy="260.3"/><circle cx="107.7" cy="293.9"/><circle cx="153.8" cy="263.9"/><circle cx="90.3" cy="312.3"/><circle cx="99.9" cy="291.8"/><circle cx="145.6" cy="280.5"/><circle cx="134.7" cy="265.0"/><circle cx="117.5" cy="276.3"/><circle cx="158.4" cy="246.4"/><circle cx="111.7" cy="282.5"/><circle cx="105.0" cy="289.6"/><circle cx="98.4" cy="292.4"/><circle cx="125.7" cy="243.5"/><circle cx="143.5" cy="251.5"/><circle cx="150.6" cy="257.5"/><circle cx="136.6" cy="272.0"/><circle cx="96.5" cy="314.4"/><circle cx="112.9" cy="277.5"/><circle cx="99.1" cy="298.4"/><circle cx="105.9" cy="288.9"/><circle cx="90.7" cy="309.6"/><circle cx="127.8" cy="253.0"/><circle cx="101.0" cy="288.6"/><circle cx="121.4" cy="265.1"/><circle cx="159.4" cy="247.0"/><circle cx="106.4" cy="296.1"/><circle cx="114.3" cy="296.9"/><circle cx="109.3" cy="296.0"/><circle cx="93.6" cy="307.1"/><circle cx="133.7" cy="276.8"/><circle cx="129.5" cy="274.7"/><circle cx="118.7" cy="257.2"/><circle cx="156.8" cy="244.3"/><circle cx="135.9" cy="277.7"/><circle cx="137.0" cy="274.0"/><circle cx="151.0" cy="248.7"/><circle cx="144.9" cy="244.8"/><circle cx="124.5" cy="273.7"/><circle cx="125.3" cy="263.0"/><circle cx="112.0" cy="283.1"/><circle cx="128.1" cy="281.0"/><circle cx="115.6" cy="270.4"/><circle cx="126.9" cy="275.2"/><circle cx="96.6" cy="286.2"/><circle cx="132.8" cy="271.1"/><circle cx="108.8" cy="291.7"/><circle cx="112.4" cy="291.6"/><circle cx="110.9" cy="290.5"/><circle cx="140.5" cy="253.0"/><circle cx="94.9" cy="307.9"/><circle cx="151.8" cy="234.7"/><circle cx="98.6" cy="298.2"/><circle cx="122.4" cy="258.2"/><circle cx="104.4" cy="294.6"/><circle cx="128.7" cy="255.3"/><circle cx="141.6" cy="244.0"/><circle cx="118.6" cy="280.4"/><circle cx="106.6" cy="263.4"/><circle cx="149.1" cy="233.7"/><circle cx="125.8" cy="265.8"/><circle cx="114.4" cy="285.7"/><circle cx="104.9" cy="295.4"/><circle cx="148.4" cy="251.9"/><circle cx="135.1" cy="259.6"/><circle cx="115.2" cy="294.2"/><circle cx="122.4" cy="274.0"/><circle cx="101.0" cy="304.5"/><circle cx="133.3" cy="246.9"/><circle cx="147.0" cy="243.3"/><circle cx="129.8" cy="250.2"/><circle cx="124.8" cy="247.5"/><circle cx="96.1" cy="300.6"/><circle cx="141.1" cy="235.9"/><circle cx="127.1" cy="266.2"/><circle cx="147.5" cy="244.3"/><circle cx="145.0" cy="263.0"/><circle cx="149.8" cy="247.8"/><circle cx="136.8" cy="246.0"/><circle cx="136.2" cy="256.3"/><circle cx="131.4" cy="269.9"/><circle cx="107.6" cy="291.2"/><circle cx="109.2" cy="296.7"/><circle cx="155.8" cy="250.0"/><circle cx="151.4" cy="262.1"/><circle cx="100.9" cy="288.2"/><circle cx="92.0" cy="300.1"/><circle cx="150.0" cy="249.6"/><circle cx="95.3" cy="316.2"/><circle cx="132.4" cy="267.5"/><circle cx="126.4" cy="249.7"/><circle cx="124.0" cy="287.0"/><circle cx="154.8" cy="249.2"/><circle cx="135.2" cy="267.2"/><circle cx="153.5" cy="236.8"/><circle cx="142.7" cy="268.5"/><circle cx="124.9" cy="269.3"/><circle cx="98.0" cy="309.5"/><circle cx="151.6" cy="250.6"/><circle cx="102.0" cy="308.3"/><circle cx="105.0" cy="289.0"/><circle cx="135.5" cy="267.2"/><circle cx="138.6" cy="265.3"/><circle cx="147.1" cy="239.8"/><circle cx="152.5" cy="242.4"/><circle cx="140.0" cy="233.2"/><circle cx="140.9" cy="252.6"/><circle cx="113.9" cy="283.0"/><circle cx="137.6" cy="258.7"/><circle cx="88.2" cy="289.1"/><circle cx="104.6" cy="281.8"/><circle cx="159.5" cy="242.3"/><circle cx="130.5" cy="263.4"/><circle cx="155.9" cy="248.2"/><circle cx="97.5" cy="297.0"/><circle cx="131.9" cy="270.6"/><circle cx="103.8" cy="300.8"/><circle cx="134.7" cy="258.2"/><circle cx="145.8" cy="238.2"/><circle cx="113.4" cy="274.8"/><circle cx="88.0" cy="308.3"/><circle cx="110.9" cy="286.9"/><circle cx="104.5" cy="315.2"/><circle cx="120.1" cy="278.6"/><circle cx="145.1" cy="255.2"/><circle cx="154.1" cy="239.0"/><circle cx="99.5" cy="283.2"/><circle cx="96.1" cy="297.9"/><circle cx="99.1" cy="315.3"/><circle cx="109.4" cy="288.9"/><circle cx="107.4" cy="293.9"/><circle cx="99.9" cy="293.5"/><circle cx="150.3" cy="248.8"/><circle cx="117.0" cy="299.6"/><circle cx="103.6" cy="304.1"/><circle cx="100.7" cy="302.3"/><circle cx="149.4" cy="270.4"/><circle cx="118.2" cy="280.5"/><circle cx="116.2" cy="284.5"/><circle cx="131.3" cy="255.0"/><circle cx="132.4" cy="266.4"/><circle cx="122.9" cy="280.8"/><circle cx="131.6" cy="267.3"/><circle cx="109.6" cy="289.0"/><circle cx="112.6" cy="274.7"/><circle cx="140.1" cy="267.9"/><circle cx="99.3" cy="319.0"/><circle cx="102.1" cy="267.4"/><circle cx="110.7" cy="279.7"/><circle cx="110.4" cy="287.8"/><circle cx="109.4" cy="261.7"/><circle cx="142.1" cy="268.1"/><circle cx="143.8" cy="262.8"/><circle cx="144.2" cy="258.7"/><circle cx="128.4" cy="264.0"/><circle cx="92.4" cy="313.0"/><circle cx="102.2" cy="290.2"/><circle cx="136.3" cy="265.3"/><circle cx="92.1" cy="298.3"/><circle cx="125.6" cy="266.9"/><circle cx="96.7" cy="317.4"/><circle cx="147.0" cy="251.9"/><circle cx="105.3" cy="304.7"/><circle cx="118.6" cy="280.3"/><circle cx="97.5" cy="303.3"/><circle cx="91.6" cy="289.5"/><circle cx="121.5" cy="278.1"/><circle cx="132.6" cy="282.1"/><circle cx="148.1" cy="249.5"/><circle cx="108.3" cy="301.9"/><circle cx="140.2" cy="238.9"/><circle cx="101.9" cy="291.4"/><circle cx="107.3" cy="274.7"/><circle cx="157.7" cy="245.8"/><circle cx="129.0" cy="279.6"/><circle cx="104.9" cy="291.9"/><circle cx="126.5" cy="285.6"/><circle cx="150.9" cy="258.2"/><circle cx="153.3" cy="253.8"/><circle cx="97.7" cy="304.6"/><circle cx="131.7" cy="282.1"/><circle cx="124.5" cy="294.5"/><circle cx="89.6" cy="300.6"/><circle cx="121.1" cy="282.2"/><circle cx="109.8" cy="291.1"/><circle cx="136.4" cy="255.4"/><circle cx="89.2" cy="309.7"/><circle cx="122.6" cy="281.8"/><circle cx="114.3" cy="288.7"/><circle cx="108.7" cy="272.3"/><circle cx="111.3" cy="273.1"/><circle cx="153.0" cy="238.2"/><circle cx="126.8" cy="253.2"/><circle cx="124.2" cy="293.0"/><circle cx="111.0" cy="286.3"/><circle cx="161.2" cy="225.5"/><circle cx="162.4" cy="241.3"/><circle cx="168.8" cy="251.9"/><circle cx="197.0" cy="211.3"/><circle cx="175.8" cy="237.7"/><circle cx="178.3" cy="213.0"/><circle cx="181.6" cy="210.9"/><circle cx="174.2" cy="213.7"/><circle cx="157.5" cy="224.0"/><circle cx="185.8" cy="223.2"/><circle cx="200.8" cy="220.3"/><circle cx="179.6" cy="232.3"/><circle cx="188.6" cy="210.1"/><circle cx="202.7" cy="226.4"/><circle cx="189.2" cy="219.4"/><circle cx="179.5" cy="215.0"/><circle cx="197.2" cy="213.8"/><circle cx="177.2" cy="226.8"/><circle cx="196.0" cy="215.5"/><circle cx="153.3" cy="232.5"/><circle cx="174.5" cy="209.1"/><circle cx="167.8" cy="244.9"/><circle cx="176.0" cy="235.0"/><circle cx="178.9" cy="222.5"/><circle cx="180.0" cy="215.8"/><circle cx="180.9" cy="217.5"/><circle cx="161.7" cy="234.5"/><circle cx="156.8" cy="236.0"/><circle cx="157.6" cy="232.9"/><circle cx="171.3" cy="212.4"/><circle cx="163.8" cy="236.6"/><circle cx="193.4" cy="213.1"/><circle cx="182.9" cy="219.7"/><circle cx="158.1" cy="221.9"/><circle cx="176.6" cy="216.9"/><circle cx="157.2" cy="237.6"/><circle cx="173.2" cy="215.3"/><circle cx="157.6" cy="232.0"/><circle cx="169.2" cy="209.3"/><circle cx="172.0" cy="237.6"/><circle cx="176.9" cy="222.7"/><circle cx="179.5" cy="214.6"/><circle cx="161.9" cy="231.7"/><circle cx="162.0" cy="243.5"/><circle cx="171.1" cy="246.6"/><circle cx="189.4" cy="214.8"/><circle cx="195.6" cy="212.8"/><circle cx="179.3" cy="223.5"/><circle cx="155.7" cy="235.3"/><circle cx="176.1" cy="218.7"/><circle cx="175.9" cy="237.2"/><circle cx="168.0" cy="241.2"/><circle cx="184.0" cy="215.9"/><circle cx="183.6" cy="207.0"/><circle cx="177.6" cy="224.9"/><circle cx="177.7" cy="222.0"/><circle cx="199.6" cy="217.2"/><circle cx="160.7" cy="246.2"/><circle cx="192.9" cy="216.9"/><circle cx="190.6" cy="209.4"/><circle cx="190.1" cy="214.7"/><circle cx="182.4" cy="228.4"/><circle cx="195.6" cy="217.2"/><circle cx="175.2" cy="225.1"/><circle cx="174.8" cy="234.0"/><circle cx="170.7" cy="220.5"/><circle cx="159.2" cy="241.8"/><circle cx="160.8" cy="244.3"/><circle cx="172.6" cy="220.9"/><circle cx="185.5" cy="228.7"/><circle cx="156.5" cy="237.1"/><circle cx="189.4" cy="220.2"/><circle cx="160.3" cy="235.1"/><circle cx="169.5" cy="239.8"/><circle cx="180.3" cy="231.7"/><circle cx="195.4" cy="225.3"/><circle cx="175.9" cy="226.4"/><circle cx="188.5" cy="209.4"/><circle cx="192.6" cy="223.8"/><circle cx="170.1" cy="215.2"/><circle cx="189.8" cy="213.0"/><circle cx="176.6" cy="237.3"/><circle cx="169.8" cy="213.7"/><circle cx="183.7" cy="223.0"/><circle cx="154.7" cy="233.8"/><circle cx="181.9" cy="248.6"/><circle cx="183.3" cy="198.3"/><circle cx="168.7" cy="232.3"/><circle cx="191.3" cy="211.5"/><circle cx="158.9" cy="240.9"/><circle cx="250.4" cy="194.5"/><circle cx="211.4" cy="216.8"/><circle cx="153.1" cy="275.7"/><circle cx="144.4" cy="275.5"/><circle cx="158.0" cy="257.5"/><circle cx="189.5" cy="245.3"/><circle cx="161.3" cy="261.8"/><circle cx="184.4" cy="244.5"/><circle cx="251.8" cy="184.1"/><circle cx="144.5" cy="279.9"/><circle cx="148.5" cy="270.7"/><circle cx="242.4" cy="220.9"/><circle cx="234.4" cy="208.4"/><circle cx="168.8" cy="249.9"/><circle cx="147.4" cy="269.6"/><circle cx="189.9" cy="252.8"/><circle cx="233.5" cy="215.9"/><circle cx="173.8" cy="250.6"/><circle cx="202.6" cy="227.3"/><circle cx="193.1" cy="233.8"/><circle cx="252.5" cy="190.1"/><circle cx="217.8" cy="217.9"/><circle cx="178.4" cy="239.5"/><circle cx="196.8" cy="247.1"/><circle cx="165.2" cy="276.2"/><circle cx="234.2" cy="193.8"/><circle cx="170.0" cy="266.2"/><circle cx="152.0" cy="265.6"/><circle cx="186.5" cy="252.3"/><circle cx="231.6" cy="221.1"/><circle cx="197.4" cy="217.5"/><circle cx="143.3" cy="280.4"/><circle cx="223.4" cy="231.4"/><circle cx="235.4" cy="207.5"/><circle cx="234.1" cy="208.0"/><circle cx="168.6" cy="261.5"/><circle cx="150.3" cy="272.5"/><circle cx="195.6" cy="250.6"/><circle cx="169.8" cy="261.4"/><circle cx="258.0" cy="181.2"/><circle cx="222.7" cy="208.0"/><circle cx="179.5" cy="249.5"/><circle cx="249.6" cy="202.9"/><circle cx="229.5" cy="233.2"/><circle cx="139.0" cy="268.9"/><circle cx="175.5" cy="265.7"/><circle cx="176.7" cy="257.7"/><circle cx="255.7" cy="188.2"/><circle cx="218.6" cy="213.4"/><circle cx="165.5" cy="262.1"/><circle cx="252.6" cy="200.6"/><circle cx="190.5" cy="242.0"/><circle cx="251.7" cy="167.1"/><circle cx="194.5" cy="208.7"/><circle cx="144.5" cy="281.0"/><circle cx="188.0" cy="236.1"/><circle cx="236.8" cy="224.6"/><circle cx="194.5" cy="235.8"/><circle cx="219.4" cy="209.6"/><circle cx="155.2" cy="273.2"/><circle cx="133.9" cy="269.7"/><circle cx="148.6" cy="266.6"/><circle cx="217.3" cy="212.4"/><circle cx="184.9" cy="274.1"/><circle cx="247.5" cy="202.3"/><circle cx="235.6" cy="196.3"/><circle cx="160.6" cy="270.8"/><circle cx="158.7" cy="284.8"/><circle cx="228.7" cy="217.2"/><circle cx="219.0" cy="200.2"/><circle cx="247.8" cy="186.7"/><circle cx="180.0" cy="240.2"/><circle cx="144.0" cy="277.2"/><circle cx="225.3" cy="193.9"/><circle cx="234.4" cy="238.8"/><circle cx="268.3" cy="192.1"/><circle cx="167.8" cy="238.4"/><circle cx="137.3" cy="274.3"/><circle cx="147.4" cy="273.9"/><circle cx="254.1" cy="193.6"/><circle cx="197.2" cy="256.6"/><circle cx="153.4" cy="275.8"/><circle cx="146.1" cy="278.8"/><circle cx="227.3" cy="222.3"/><circle cx="178.0" cy="235.8"/><circle cx="227.4" cy="199.0"/><circle cx="219.3" cy="221.3"/><circle cx="165.2" cy="252.2"/><circle cx="217.7" cy="219.7"/><circle cx="189.2" cy="239.3"/><circle cx="228.4" cy="216.1"/><circle cx="157.5" cy="241.1"/><circle cx="188.7" cy="259.5"/><circle cx="163.6" cy="264.7"/><circle cx="152.5" cy="261.5"/><circle cx="185.4" cy="233.5"/><circle cx="228.7" cy="229.4"/><circle cx="220.9" cy="227.8"/><circle cx="166.0" cy="262.2"/><circle cx="195.2" cy="246.8"/><circle cx="200.6" cy="241.1"/><circle cx="170.3" cy="260.4"/><circle cx="220.0" cy="219.1"/><circle cx="177.3" cy="239.5"/><circle cx="163.5" cy="280.5"/><circle cx="219.9" cy="204.8"/><circle cx="164.6" cy="264.7"/><circle cx="182.0" cy="241.6"/><circle cx="240.0" cy="205.0"/><circle cx="144.2" cy="254.6"/><circle cx="222.0" cy="237.0"/><circle cx="207.5" cy="213.3"/><circle cx="178.0" cy="256.3"/><circle cx="157.1" cy="270.7"/><circle cx="183.0" cy="230.8"/><circle cx="171.9" cy="258.6"/><circle cx="183.8" cy="236.3"/><circle cx="150.9" cy="258.4"/><circle cx="195.3" cy="244.2"/><circle cx="243.0" cy="174.3"/><circle cx="136.0" cy="273.2"/><circle cx="214.4" cy="224.3"/><circle cx="192.1" cy="237.2"/><circle cx="251.5" cy="199.9"/><circle cx="235.3" cy="201.1"/><circle cx="192.2" cy="229.4"/><circle cx="167.4" cy="248.9"/><circle cx="257.5" cy="183.8"/><circle cx="247.1" cy="201.1"/><circle cx="255.7" cy="195.6"/><circle cx="157.6" cy="277.5"/><circle cx="192.4" cy="242.8"/><circle cx="196.0" cy="229.5"/><circle cx="181.9" cy="254.6"/><circle cx="173.4" cy="262.3"/><circle cx="188.7" cy="254.5"/><circle cx="159.6" cy="260.2"/><circle cx="262.3" cy="185.6"/><circle cx="264.3" cy="200.1"/><circle cx="211.7" cy="210.7"/><circle cx="206.0" cy="215.9"/><circle cx="264.7" cy="180.4"/><circle cx="206.0" cy="232.7"/><circle cx="236.7" cy="203.9"/><circle cx="150.7" cy="282.6"/><circle cx="188.0" cy="231.4"/><circle cx="157.4" cy="253.3"/><circle cx="146.5" cy="266.5"/><circle cx="244.9" cy="193.9"/><circle cx="231.1" cy="205.2"/><circle cx="182.5" cy="241.6"/><circle cx="147.2" cy="258.8"/><circle cx="246.1" cy="205.2"/><circle cx="185.6" cy="245.3"/><circle cx="243.4" cy="206.2"/><circle cx="224.9" cy="227.4"/><circle cx="229.2" cy="205.6"/><circle cx="208.7" cy="212.9"/><circle cx="268.0" cy="190.4"/><circle cx="165.7" cy="250.6"/><circle cx="245.8" cy="188.1"/><circle cx="216.3" cy="214.6"/><circle cx="219.4" cy="201.5"/><circle cx="268.3" cy="185.4"/><circle cx="137.1" cy="268.6"/><circle cx="177.2" cy="255.9"/><circle cx="228.3" cy="203.9"/><circle cx="249.8" cy="211.0"/><circle cx="166.9" cy="249.7"/><circle cx="200.2" cy="233.0"/><circle cx="252.2" cy="197.5"/><circle cx="269.5" cy="188.9"/><circle cx="261.2" cy="181.1"/><circle cx="159.9" cy="251.8"/><circle cx="185.6" cy="239.1"/><circle cx="197.4" cy="239.5"/><circle cx="207.0" cy="236.8"/><circle cx="255.4" cy="200.6"/><circle cx="204.1" cy="234.0"/><circle cx="188.0" cy="261.0"/><circle cx="222.8" cy="219.4"/><circle cx="232.7" cy="193.9"/><circle cx="217.5" cy="219.9"/><circle cx="258.1" cy="187.9"/><circle cx="267.6" cy="185.4"/><circle cx="230.0" cy="200.6"/><circle cx="248.1" cy="186.8"/><circle cx="144.7" cy="264.2"/><circle cx="218.6" cy="226.6"/><circle cx="150.7" cy="284.5"/><circle cx="179.1" cy="257.3"/><circle cx="229.7" cy="223.9"/><circle cx="227.6" cy="211.7"/><circle cx="247.7" cy="199.8"/><circle cx="251.7" cy="201.6"/><circle cx="175.9" cy="253.8"/><circle cx="190.4" cy="229.6"/><circle cx="233.1" cy="198.2"/><circle cx="171.5" cy="263.5"/><circle cx="251.1" cy="191.6"/><circle cx="144.0" cy="276.1"/><circle cx="184.6" cy="238.6"/><circle cx="148.9" cy="278.6"/><circle cx="184.7" cy="260.3"/><circle cx="244.3" cy="193.5"/><circle cx="270.5" cy="187.7"/><circle cx="197.3" cy="240.3"/><circle cx="172.9" cy="258.7"/><circle cx="176.4" cy="242.6"/><circle cx="249.3" cy="199.1"/><circle cx="164.9" cy="260.5"/><circle cx="238.8" cy="204.6"/><circle cx="183.7" cy="253.1"/><circle cx="167.6" cy="250.5"/><circle cx="256.3" cy="193.2"/><circle cx="166.4" cy="255.9"/><circle cx="257.1" cy="183.7"/><circle cx="209.0" cy="248.2"/><circle cx="276.5" cy="190.8"/><circle cx="253.2" cy="227.5"/><circle cx="243.8" cy="194.5"/><circle cx="207.8" cy="224.3"/><circle cx="265.9" cy="186.1"/><circle cx="234.2" cy="212.0"/><circle cx="198.3" cy="238.9"/><circle cx="152.3" cy="278.7"/><circle cx="165.7" cy="262.0"/><circle cx="249.8" cy="193.5"/><circle cx="264.8" cy="191.4"/><circle cx="138.0" cy="270.1"/><circle cx="186.5" cy="233.0"/><circle cx="200.2" cy="238.4"/><circle cx="149.4" cy="252.2"/><circle cx="132.7" cy="264.3"/><circle cx="240.9" cy="185.6"/><circle cx="237.4" cy="189.1"/><circle cx="255.6" cy="195.1"/><circle cx="180.7" cy="252.8"/><circle cx="262.4" cy="201.4"/><circle cx="265.7" cy="184.9"/><circle cx="234.5" cy="193.9"/><circle cx="187.4" cy="248.5"/><circle cx="199.0" cy="253.6"/><circle cx="193.7" cy="219.8"/><circle cx="242.8" cy="175.5"/><circle cx="194.2" cy="220.5"/><circle cx="204.7" cy="247.7"/><circle cx="144.9" cy="270.2"/><circle cx="187.4" cy="253.2"/><circle cx="168.9" cy="260.4"/><circle cx="196.1" cy="228.5"/><circle cx="191.1" cy="222.8"/><circle cx="169.6" cy="264.9"/><circle cx="154.3" cy="274.2"/><circle cx="228.8" cy="225.0"/><circle cx="171.8" cy="256.4"/><circle cx="230.6" cy="220.1"/><circle cx="215.7" cy="226.6"/><circle cx="245.0" cy="187.8"/><circle cx="174.6" cy="254.4"/><circle cx="261.8" cy="181.7"/><circle cx="245.1" cy="193.4"/><circle cx="198.1" cy="225.6"/><circle cx="176.4" cy="237.0"/><circle cx="174.6" cy="266.6"/><circle cx="222.9" cy="233.9"/><circle cx="161.7" cy="259.3"/><circle cx="181.6" cy="240.6"/><circle cx="142.0" cy="266.8"/><circle cx="219.8" cy="208.1"/><circle cx="205.4" cy="208.7"/><circle cx="223.0" cy="208.7"/><circle cx="250.8" cy="199.6"/><circle cx="203.6" cy="218.7"/><circle cx="193.6" cy="249.0"/><circle cx="177.2" cy="259.6"/><circle cx="204.0" cy="225.5"/><circle cx="197.8" cy="238.3"/><circle cx="190.3" cy="230.4"/><circle cx="177.3" cy="256.1"/><circle cx="155.5" cy="250.3"/><circle cx="247.2" cy="207.1"/><circle cx="258.4" cy="177.5"/><circle cx="227.9" cy="216.2"/><circle cx="207.7" cy="210.5"/><circle cx="166.3" cy="267.0"/><circle cx="192.2" cy="230.8"/><circle cx="279.3" cy="206.3"/><circle cx="266.1" cy="188.3"/><circle cx="141.7" cy="264.2"/><circle cx="245.1" cy="194.3"/><circle cx="168.1" cy="258.4"/><circle cx="253.4" cy="179.3"/><circle cx="155.5" cy="243.6"/><circle cx="244.9" cy="209.8"/><circle cx="261.2" cy="184.4"/><circle cx="150.0" cy="278.6"/><circle cx="139.4" cy="275.7"/><circle cx="212.7" cy="231.4"/><circle cx="205.5" cy="247.4"/><circle cx="268.6" cy="195.4"/><circle cx="174.0" cy="247.1"/><circle cx="143.0" cy="277.6"/><circle cx="244.2" cy="187.1"/><circle cx="226.9" cy="230.4"/><circle cx="211.6" cy="234.6"/><circle cx="223.6" cy="220.5"/><circle cx="248.5" cy="183.6"/><circle cx="171.6" cy="251.6"/><circle cx="173.9" cy="256.4"/><circle cx="271.2" cy="187.2"/><circle cx="204.9" cy="227.1"/><circle cx="148.4" cy="280.0"/><circle cx="230.5" cy="197.9"/><circle cx="200.5" cy="212.2"/><circle cx="146.7" cy="275.4"/><circle cx="195.3" cy="250.0"/><circle cx="199.9" cy="205.1"/><circle cx="245.0" cy="189.0"/><circle cx="220.3" cy="210.3"/><circle cx="220.1" cy="215.5"/><circle cx="233.2" cy="204.1"/><circle cx="193.4" cy="237.6"/><circle cx="240.8" cy="196.8"/><circle cx="241.5" cy="217.2"/><circle cx="157.4" cy="275.1"/><circle cx="232.3" cy="207.9"/><circle cx="251.7" cy="189.3"/><circle cx="257.6" cy="183.9"/><circle cx="193.7" cy="233.2"/><circle cx="167.0" cy="278.8"/><circle cx="218.6" cy="229.6"/><circle cx="157.6" cy="274.5"/><circle cx="212.0" cy="221.8"/><circle cx="235.8" cy="206.3"/><circle cx="202.5" cy="207.7"/><circle cx="230.3" cy="213.0"/><circle cx="236.3" cy="206.4"/><circle cx="211.3" cy="242.4"/><circle cx="162.7" cy="243.6"/><circle cx="239.0" cy="200.4"/><circle cx="205.6" cy="230.0"/><circle cx="232.7" cy="214.1"/><circle cx="189.3" cy="240.9"/><circle cx="256.3" cy="191.4"/><circle cx="182.9" cy="233.0"/><circle cx="221.5" cy="225.2"/><circle cx="223.3" cy="219.3"/><circle cx="210.9" cy="230.6"/><circle cx="236.5" cy="196.4"/><circle cx="202.1" cy="227.2"/><circle cx="154.2" cy="264.0"/><circle cx="196.8" cy="241.3"/><circle cx="144.1" cy="271.2"/><circle cx="196.6" cy="243.8"/><circle cx="175.7" cy="244.3"/><circle cx="167.7" cy="254.7"/><circle cx="162.4" cy="263.9"/><circle cx="179.3" cy="258.7"/><circle cx="159.4" cy="258.6"/><circle cx="166.3" cy="257.8"/><circle cx="210.7" cy="233.8"/><circle cx="178.8" cy="269.6"/><circle cx="200.3" cy="236.5"/><circle cx="177.1" cy="259.3"/><circle cx="195.1" cy="231.8"/><circle cx="188.3" cy="242.0"/><circle cx="196.2" cy="233.6"/><circle cx="191.4" cy="243.6"/><circle cx="180.3" cy="243.8"/><circle cx="201.0" cy="235.3"/><circle cx="191.8" cy="250.2"/><circle cx="204.3" cy="244.8"/><circle cx="185.0" cy="242.5"/><circle cx="176.9" cy="257.7"/><circle cx="170.9" cy="270.8"/><circle cx="170.1" cy="265.8"/><circle cx="197.3" cy="237.4"/><circle cx="160.8" cy="263.5"/><circle cx="172.7" cy="272.0"/><circle cx="205.4" cy="230.1"/><circle cx="184.2" cy="241.7"/><circle cx="166.0" cy="260.3"/><circle cx="185.0" cy="240.4"/><circle cx="166.7" cy="249.2"/><circle cx="155.4" cy="279.2"/><circle cx="202.0" cy="234.4"/><circle cx="147.7" cy="272.9"/><circle cx="196.2" cy="224.5"/><circle cx="170.8" cy="256.6"/><circle cx="180.5" cy="252.2"/><circle cx="180.3" cy="258.2"/><circle cx="172.5" cy="253.1"/><circle cx="195.0" cy="234.2"/><circle cx="171.3" cy="265.8"/><circle cx="206.3" cy="229.7"/><circle cx="184.9" cy="252.7"/><circle cx="193.4" cy="234.0"/><circle cx="158.6" cy="271.1"/><circle cx="154.7" cy="265.1"/><circle cx="161.3" cy="258.3"/><circle cx="196.7" cy="232.7"/><circle cx="167.3" cy="253.8"/><circle cx="190.0" cy="233.9"/><circle cx="181.6" cy="238.5"/><circle cx="160.4" cy="271.6"/><circle cx="174.3" cy="251.2"/><circle cx="149.1" cy="266.0"/><circle cx="174.7" cy="250.6"/><circle cx="159.3" cy="272.1"/><circle cx="185.4" cy="243.5"/><circle cx="166.1" cy="247.2"/><circle cx="183.3" cy="249.8"/><circle cx="176.0" cy="258.1"/><circle cx="177.4" cy="246.2"/><circle cx="173.5" cy="258.7"/><circle cx="170.9" cy="269.3"/><circle cx="208.0" cy="235.2"/><circle cx="178.2" cy="251.6"/><circle cx="159.0" cy="273.7"/><circle cx="163.0" cy="255.6"/><circle cx="194.3" cy="241.0"/><circle cx="184.2" cy="255.8"/><circle cx="178.3" cy="257.0"/><circle cx="185.2" cy="253.8"/><circle cx="185.0" cy="237.3"/><circle cx="206.6" cy="231.0"/><circle cx="151.0" cy="266.4"/><circle cx="199.3" cy="228.3"/><circle cx="167.2" cy="247.8"/><circle cx="183.8" cy="247.3"/><circle cx="169.4" cy="254.0"/><circle cx="181.8" cy="262.8"/><circle cx="172.4" cy="260.3"/><circle cx="194.3" cy="242.0"/><circle cx="171.6" cy="249.8"/><circle cx="192.4" cy="239.5"/><circle cx="151.8" cy="271.4"/><circle cx="152.4" cy="280.4"/><circle cx="166.6" cy="271.3"/><circle cx="161.8" cy="267.3"/><circle cx="158.1" cy="261.2"/><circle cx="173.6" cy="256.3"/><circle cx="180.4" cy="238.7"/><circle cx="200.6" cy="233.3"/><circle cx="205.6" cy="228.8"/><circle cx="186.1" cy="246.8"/><circle cx="200.1" cy="233.3"/><circle cx="180.1" cy="254.7"/><circle cx="191.4" cy="241.1"/><circle cx="201.5" cy="235.8"/><circle cx="191.2" cy="246.8"/><circle cx="165.8" cy="252.5"/><circle cx="191.3" cy="233.5"/><circle cx="193.1" cy="240.0"/><circle cx="205.8" cy="230.4"/><circle cx="200.2" cy="242.2"/><circle cx="179.2" cy="246.6"/><circle cx="163.7" cy="269.6"/><circle cx="141.9" cy="271.7"/><circle cx="167.7" cy="273.4"/><circle cx="187.1" cy="241.1"/><circle cx="152.4" cy="267.0"/><circle cx="190.2" cy="244.3"/><circle cx="155.9" cy="258.1"/><circle cx="154.1" cy="266.9"/><circle cx="193.5" cy="230.6"/><circle cx="158.6" cy="275.6"/><circle cx="192.8" cy="231.0"/><circle cx="179.0" cy="243.9"/><circle cx="162.9" cy="264.7"/><circle cx="155.2" cy="260.3"/><circle cx="180.3" cy="247.2"/><circle cx="171.1" cy="273.7"/><circle cx="181.0" cy="246.5"/><circle cx="176.8" cy="240.7"/><circle cx="151.9" cy="280.0"/><circle cx="160.5" cy="262.7"/><circle cx="192.0" cy="243.2"/><circle cx="156.1" cy="271.9"/><circle cx="200.4" cy="249.8"/><circle cx="198.8" cy="245.1"/><circle cx="195.7" cy="237.5"/><circle cx="200.4" cy="235.1"/><circle cx="175.5" cy="267.0"/><circle cx="199.3" cy="227.2"/><circle cx="149.6" cy="275.5"/><circle cx="154.8" cy="279.3"/><circle cx="189.2" cy="255.8"/><circle cx="149.8" cy="273.8"/><circle cx="179.6" cy="253.8"/><circle cx="163.2" cy="260.4"/><circle cx="183.0" cy="239.4"/><circle cx="174.0" cy="258.0"/><circle cx="167.8" cy="262.9"/><circle cx="182.9" cy="242.2"/><circle cx="204.1" cy="229.7"/><circle cx="168.8" cy="274.2"/><circle cx="150.1" cy="273.5"/><circle cx="156.4" cy="269.9"/><circle cx="202.3" cy="233.8"/><circle cx="188.0" cy="239.4"/><circle cx="150.1" cy="280.6"/><circle cx="162.0" cy="269.9"/><circle cx="189.2" cy="236.5"/><circle cx="161.7" cy="276.9"/><circle cx="182.0" cy="259.9"/><circle cx="159.8" cy="270.2"/><circle cx="169.4" cy="269.5"/><circle cx="170.8" cy="253.0"/><circle cx="178.6" cy="257.0"/><circle cx="203.7" cy="240.8"/><circle cx="177.4" cy="255.8"/><circle cx="210.5" cy="238.0"/><circle cx="173.0" cy="247.5"/><circle cx="175.0" cy="255.4"/><circle cx="162.6" cy="261.9"/><circle cx="168.7" cy="257.4"/><circle cx="203.0" cy="228.0"/><circle cx="182.9" cy="255.1"/><circle cx="156.2" cy="267.1"/><circle cx="157.3" cy="273.9"/><circle cx="187.5" cy="249.0"/><circle cx="186.9" cy="258.4"/><circle cx="172.6" cy="248.5"/><circle cx="184.3" cy="248.3"/><circle cx="154.3" cy="277.1"/><circle cx="159.1" cy="283.1"/><circle cx="161.1" cy="261.5"/><circle cx="164.9" cy="265.3"/><circle cx="185.4" cy="238.6"/><circle cx="198.0" cy="234.3"/><circle cx="184.1" cy="252.7"/><circle cx="191.2" cy="236.3"/><circle cx="199.2" cy="243.8"/><circle cx="176.8" cy="264.4"/><circle cx="181.0" cy="250.1"/><circle cx="191.5" cy="234.9"/><circle cx="198.4" cy="225.9"/><circle cx="194.7" cy="237.7"/><circle cx="172.6" cy="258.2"/><circle cx="153.3" cy="273.8"/><circle cx="163.4" cy="267.4"/><circle cx="180.4" cy="253.7"/><circle cx="158.7" cy="266.8"/><circle cx="192.2" cy="242.9"/><circle cx="164.4" cy="266.4"/><circle cx="169.0" cy="252.5"/><circle cx="170.5" cy="257.8"/><circle cx="206.1" cy="230.1"/><circle cx="169.8" cy="255.2"/><circle cx="187.3" cy="244.8"/><circle cx="200.3" cy="227.2"/><circle cx="193.8" cy="243.9"/><circle cx="192.0" cy="244.9"/><circle cx="200.7" cy="241.4"/><circle cx="167.4" cy="254.4"/><circle cx="157.1" cy="262.0"/><circle cx="157.2" cy="263.4"/><circle cx="153.1" cy="272.9"/><circle cx="152.2" cy="274.8"/><circle cx="198.4" cy="235.3"/><circle cx="198.8" cy="229.3"/><circle cx="196.0" cy="237.2"/><circle cx="164.9" cy="271.5"/><circle cx="147.3" cy="273.9"/><circle cx="187.2" cy="237.9"/><circle cx="177.8" cy="249.1"/><circle cx="181.9" cy="249.3"/><circle cx="172.7" cy="260.0"/><circle cx="182.1" cy="248.1"/><circle cx="189.9" cy="240.1"/><circle cx="180.2" cy="258.5"/><circle cx="174.8" cy="258.6"/><circle cx="177.3" cy="260.5"/><circle cx="146.9" cy="273.5"/><circle cx="174.4" cy="265.1"/><circle cx="174.8" cy="263.7"/><circle cx="166.1" cy="269.6"/><circle cx="187.4" cy="242.8"/><circle cx="197.4" cy="241.1"/><circle cx="164.8" cy="252.7"/><circle cx="187.7" cy="238.6"/><circle cx="186.2" cy="261.4"/><circle cx="165.3" cy="262.8"/><circle cx="149.2" cy="276.8"/><circle cx="170.8" cy="267.9"/><circle cx="199.0" cy="233.8"/><circle cx="195.7" cy="235.7"/><circle cx="204.4" cy="232.7"/><circle cx="193.7" cy="238.9"/><circle cx="183.7" cy="245.1"/><circle cx="153.7" cy="278.5"/><circle cx="153.1" cy="276.0"/><circle cx="200.5" cy="240.1"/><circle cx="154.3" cy="270.2"/><circle cx="158.2" cy="275.3"/><circle cx="196.1" cy="227.6"/><circle cx="164.9" cy="250.6"/><circle cx="147.8" cy="269.0"/><circle cx="163.2" cy="269.5"/><circle cx="160.7" cy="265.7"/><circle cx="177.5" cy="254.9"/><circle cx="151.5" cy="273.9"/><circle cx="180.7" cy="255.9"/><circle cx="170.4" cy="266.6"/><circle cx="153.6" cy="275.5"/><circle cx="176.5" cy="259.6"/><circle cx="177.7" cy="244.5"/><circle cx="163.5" cy="261.0"/></g><g fill="#e377c2" stroke="#e377c2" fill-opacity="0.5" stroke-opacity="0.5" stroke-width="0.9"><circle cx="149.7" cy="277.2"/><circle cx="158.1" cy="286.4"/><circle cx="178.1" cy="245.6"/><circle cx="184.0" cy="253.4"/><circle cx="169.5" cy="258.6"/><circle cx="171.3" cy="275.0"/><circle cx="191.1" cy="231.4"/><circle cx="183.7" cy="245.9"/><circle cx="155.0" cy="256.5"/><circle cx="166.0" cy="281.3"/><circle cx="196.5" cy="252.3"/><circle cx="198.6" cy="225.9"/><circle cx="188.4" cy="234.5"/><circle cx="170.6" cy="277.9"/><circle cx="154.1" cy="272.4"/><circle cx="179.0" cy="243.6"/><circle cx="148.5" cy="269.7"/><circle cx="192.5" cy="237.6"/><circle cx="162.5" cy="283.8"/><circle cx="176.3" cy="273.7"/><circle cx="145.8" cy="265.8"/><circle cx="150.1" cy="277.6"/><circle cx="158.4" cy="263.8"/><circle cx="167.0" cy="267.6"/><circle cx="190.3" cy="243.3"/><circle cx="178.3" cy="255.1"/><circle cx="202.9" cy="237.4"/><circle cx="172.8" cy="261.4"/><circle cx="182.8" cy="259.2"/><circle cx="187.8" cy="247.6"/><circle cx="171.6" cy="249.3"/><circle cx="170.7" cy="260.5"/><circle cx="194.0" cy="243.8"/><circle cx="185.7" cy="229.2"/><circle cx="191.2" cy="227.7"/><circle cx="161.4" cy="269.7"/><circle cx="183.1" cy="265.0"/><circle cx="168.2" cy="250.9"/><circle cx="188.5" cy="230.4"/><circle cx="165.9" cy="271.2"/><circle cx="157.5" cy="260.4"/><circle cx="192.9" cy="246.3"/><circle cx="197.5" cy="236.4"/><circle cx="196.8" cy="238.9"/><circle cx="152.5" cy="277.3"/><circle cx="175.6" cy="257.2"/><circle cx="163.2" cy="254.6"/><circle cx="193.9" cy="240.7"/><circle cx="171.9" cy="255.3"/><circle cx="161.7" cy="269.4"/><circle cx="149.9" cy="279.3"/><circle cx="205.2" cy="233.9"/><circle cx="198.0" cy="233.6"/><circle cx="174.0" cy="244.2"/><circle cx="181.6" cy="241.9"/><circle cx="186.1" cy="256.5"/><circle cx="171.7" cy="263.6"/><circle cx="171.5" cy="269.6"/><circle cx="181.3" cy="257.0"/><circle cx="169.7" cy="267.9"/></g><g fill="#8c564b" stroke="#8c564b" fill-opacity="0.5" stroke-opacity="0.5" stroke-width="0.9"><circle cx="178.9" cy="232.5"/><circle cx="177.9" cy="251.5"/><circle cx="177.6" cy="248.3"/><circle cx="181.8" cy="256.9"/><circle cx="183.2" cy="252.1"/><circle cx="159.5" cy="274.6"/><circle cx="170.9" cy="252.9"/><circle cx="161.0" cy="282.4"/><circle cx="155.1" cy="275.0"/><circle cx="150.6" cy="256.2"/><circle cx="157.7" cy="285.4"/><circle cx="168.5" cy="282.9"/><circle cx="175.7" cy="263.1"/><circle cx="153.4" cy="281.9"/><circle cx="196.6" cy="221.3"/><circle cx="197.0" cy="232.1"/><circle cx="185.6" cy="237.3"/><circle cx="169.0" cy="271.7"/><circle cx="185.8" cy="248.3"/><circle cx="159.9" cy="271.2"/><circle cx="209.2" cy="232.4"/><circle cx="188.9" cy="242.1"/><circle cx="174.9" cy="261.6"/><circle cx="175.2" cy="256.4"/><circle cx="179.2" cy="267.9"/><circle cx="207.8" cy="245.3"/><circle cx="179.0" cy="241.8"/><circle cx="157.1" cy="276.4"/><circle cx="157.1" cy="277.7"/><circle cx="182.3" cy="226.8"/><circle cx="162.5" cy="261.6"/><circle cx="172.7" cy="256.7"/><circle cx="187.6" cy="252.3"/><circle cx="165.6" cy="264.6"/><circle cx="191.1" cy="240.2"/><circle cx="190.8" cy="245.1"/><circle cx="148.7" cy="271.4"/><circle cx="179.6" cy="246.7"/><circle cx="199.1" cy="228.9"/><circle cx="191.0" cy="250.1"/></g><g fill="#1f77b4" stroke="#1f77b4" fill-opacity="0.5" stroke-opacity="0.5" stroke-width="0.9"><circle cx="237.2" cy="160.7"/><circle cx="309.4" cy="98.8"/><circle cx="239.9" cy="166.2"/><circle cx="287.5" cy="134.9"/><circle cx="251.0" cy="152.1"/><circle cx="298.0" cy="114.4"/><circle cx="244.5" cy="153.9"/><circle cx="286.7" cy="137.5"/><circle cx="275.7" cy="135.0"/><circle cx="269.5" cy="138.0"/><circle cx="270.0" cy="130.6"/><circle cx="270.3" cy="134.4"/><circle cx="265.9" cy="155.3"/><circle cx="275.2" cy="136.5"/><circle cx="245.8" cy="156.1"/><circle cx="252.5" cy="164.1"/><circle cx="289.5" cy="134.5"/><circle cx="267.2" cy="128.1"/><circle cx="291.1" cy="134.3"/><circle cx="276.7" cy="128.2"/><circle cx="293.0" cy="133.3"/><circle cx="257.3" cy="147.5"/><circle cx="320.0" cy="102.3"/><circle cx="265.6" cy="157.7"/><circle cx="257.8" cy="151.4"/><circle cx="266.8" cy="156.3"/><circle cx="241.8" cy="168.2"/><circle cx="310.7" cy="91.6"/><circle cx="311.8" cy="114.5"/><circle cx="323.1" cy="107.0"/><circle cx="276.9" cy="139.1"/><circle cx="308.6" cy="114.1"/><circle cx="295.3" cy="106.1"/><circle cx="261.7" cy="160.9"/><circle cx="274.6" cy="124.3"/><circle cx="244.9" cy="167.5"/><circle cx="305.5" cy="114.7"/><circle cx="273.6" cy="152.0"/><circle cx="307.7" cy="113.1"/><circle cx="287.2" cy="125.0"/><circle cx="283.0" cy="128.9"/><circle cx="265.1" cy="155.2"/><circle cx="306.1" cy="118.4"/><circle cx="259.7" cy="159.1"/><circle cx="256.3" cy="167.9"/><circle cx="257.7" cy="141.2"/><circle cx="289.3" cy="118.5"/><circle cx="303.9" cy="125.6"/><circle cx="247.9" cy="167.3"/><circle cx="314.8" cy="106.5"/><circle cx="252.8" cy="154.0"/><circle cx="302.4" cy="99.9"/><circle cx="287.1" cy="134.7"/><circle cx="316.1" cy="98.4"/><circle cx="250.3" cy="169.0"/><circle cx="290.7" cy="133.1"/><circle cx="277.8" cy="136.4"/><circle cx="259.4" cy="162.3"/><circle cx="298.7" cy="116.5"/><circle cx="270.5" cy="130.7"/><circle cx="305.1" cy="105.5"/><circle cx="301.5" cy="105.8"/><circle cx="261.6" cy="157.8"/><circle cx="263.9" cy="145.6"/><circle cx="266.0" cy="158.7"/><circle cx="293.9" cy="112.4"/><circle cx="304.4" cy="109.4"/><circle cx="304.0" cy="114.5"/><circle cx="241.0" cy="172.7"/><circle cx="283.8" cy="123.5"/><circle cx="245.7" cy="172.4"/><circle cx="313.7" cy="94.9"/><circle cx="301.8" cy="97.6"/><circle cx="262.2" cy="138.9"/><circle cx="272.5" cy="151.2"/><circle cx="244.9" cy="159.9"/><circle cx="276.3" cy="124.3"/><circle cx="283.7" cy="116.8"/><circle cx="300.8" cy="121.6"/><circle cx="254.3" cy="164.4"/><circle cx="282.9" cy="131.3"/><circle cx="296.6" cy="121.8"/><circle cx="304.7" cy="112.0"/><circle cx="238.7" cy="167.7"/><circle cx="281.5" cy="139.4"/><circle cx="262.4" cy="148.6"/><circle cx="278.6" cy="127.2"/><circle cx="274.8" cy="124.5"/><circle cx="260.8" cy="132.4"/><circle cx="318.9" cy="104.7"/><circle cx="291.2" cy="127.0"/><circle cx="258.0" cy="141.5"/><circle cx="314.8" cy="103.3"/><circle cx="260.4" cy="139.9"/><circle cx="301.6" cy="114.2"/><circle cx="295.7" cy="113.7"/><circle cx="251.5" cy="162.4"/><circle cx="260.2" cy="138.9"/><circle cx="253.3" cy="149.1"/><circle cx="318.1" cy="104.7"/><circle cx="274.9" cy="140.7"/><circle cx="313.2" cy="110.9"/><circle cx="286.6" cy="125.0"/><circle cx="299.8" cy="114.8"/><circle cx="263.1" cy="159.7"/><circle cx="268.4" cy="142.5"/><circle cx="308.8" cy="115.4"/><circle cx="288.7" cy="112.8"/><circle cx="307.7" cy="98.7"/><circle cx="302.6" cy="116.0"/><circle cx="296.1" cy="125.8"/><circle cx="289.9" cy="119.2"/><circle cx="260.5" cy="150.5"/><circle cx="247.6" cy="157.8"/><circle cx="277.9" cy="119.7"/><circle cx="290.7" cy="132.4"/><circle cx="308.8" cy="108.7"/><circle cx="257.8" cy="151.2"/><circle cx="260.6" cy="154.9"/><circle cx="305.6" cy="96.6"/><circle cx="277.8" cy="136.3"/><circle cx="274.4" cy="132.3"/><circle cx="300.0" cy="133.0"/><circle cx="235.7" cy="166.1"/><circle cx="255.7" cy="159.3"/><circle cx="308.0" cy="100.9"/><circle cx="248.3" cy="160.7"/><circle cx="315.7" cy="106.5"/><circle cx="310.2" cy="101.6"/><circle cx="239.1" cy="161.5"/><circle cx="282.2" cy="135.1"/><circle cx="265.7" cy="151.8"/><circle cx="293.7" cy="123.9"/><circle cx="312.0" cy="101.8"/><circle cx="263.8" cy="148.9"/><circle cx="246.9" cy="157.6"/><circle cx="315.1" cy="104.7"/><circle cx="305.7" cy="119.8"/><circle cx="264.3" cy="140.1"/><circle cx="309.4" cy="111.8"/><circle cx="274.1" cy="126.0"/><circle cx="244.7" cy="160.6"/><circle cx="266.7" cy="141.2"/><circle cx="302.1" cy="121.2"/><circle cx="258.0" cy="142.0"/><circle cx="290.6" cy="124.1"/><circle cx="255.3" cy="160.5"/><circle cx="296.5" cy="109.3"/><circle cx="259.4" cy="160.0"/><circle cx="261.2" cy="142.0"/><circle cx="295.8" cy="109.9"/><circle cx="256.0" cy="157.9"/><circle cx="282.8" cy="145.6"/><circle cx="301.9" cy="110.3"/><circle cx="292.1" cy="126.5"/><circle cx="251.1" cy="170.8"/><circle cx="247.7" cy="164.0"/><circle cx="301.1" cy="115.4"/><circle cx="243.1" cy="166.7"/><circle cx="249.9" cy="157.9"/><circle cx="240.7" cy="163.1"/><circle cx="252.4" cy="154.9"/><circle cx="290.3" cy="127.8"/><circle cx="269.3" cy="154.9"/><circle cx="245.7" cy="173.6"/><circle cx="284.7" cy="117.1"/><circle cx="279.8" cy="122.6"/><circle cx="283.9" cy="132.8"/><circle cx="285.7" cy="126.0"/><circle cx="283.9" cy="119.0"/><circle cx="255.4" cy="157.7"/><circle cx="244.8" cy="174.4"/><circle cx="269.6" cy="141.4"/><circle cx="235.2" cy="164.5"/><circle cx="274.0" cy="142.4"/><circle cx="298.9" cy="104.9"/><circle cx="244.5" cy="159.7"/><circle cx="290.0" cy="117.7"/><circle cx="290.4" cy="129.6"/><circle cx="309.9" cy="112.8"/><circle cx="276.0" cy="127.8"/><circle cx="291.3" cy="118.8"/><circle cx="293.3" cy="108.9"/><circle cx="291.4" cy="130.0"/><circle cx="259.2" cy="159.5"/><circle cx="308.1" cy="98.1"/><circle cx="277.4" cy="136.7"/><circle cx="252.0" cy="150.4"/><circle cx="297.6" cy="100.3"/><circle cx="287.1" cy="123.2"/><circle cx="274.9" cy="149.7"/><circle cx="294.1" cy="113.2"/><circle cx="268.6" cy="128.8"/><circle cx="285.7" cy="117.4"/><circle cx="307.1" cy="105.7"/><circle cx="240.0" cy="168.9"/><circle cx="297.3" cy="114.6"/><circle cx="312.3" cy="104.2"/><circle cx="300.1" cy="106.1"/><circle cx="311.9" cy="91.7"/><circle cx="271.6" cy="138.5"/><circle cx="252.7" cy="148.0"/><circle cx="264.8" cy="142.1"/><circle cx="246.9" cy="173.5"/><circle cx="294.7" cy="127.5"/><circle cx="255.5" cy="167.3"/><circle cx="304.1" cy="104.6"/><circle cx="320.0" cy="100.6"/><circle cx="272.7" cy="139.6"/><circle cx="292.8" cy="110.5"/><circle cx="259.6" cy="148.4"/><circle cx="316.0" cy="96.7"/><circle cx="316.7" cy="108.3"/><circle cx="288.2" cy="118.6"/><circle cx="287.2" cy="137.1"/><circle cx="239.7" cy="168.5"/><circle cx="317.1" cy="100.6"/><circle cx="240.9" cy="172.0"/><circle cx="306.8" cy="97.9"/><circle cx="272.0" cy="130.7"/><circle cx="320.8" cy="101.5"/><circle cx="268.0" cy="140.0"/><circle cx="267.1" cy="147.0"/><circle cx="288.4" cy="123.2"/><circle cx="298.2" cy="118.0"/><circle cx="279.5" cy="122.7"/><circle cx="234.1" cy="161.4"/><circle cx="252.0" cy="157.3"/><circle cx="277.6" cy="147.5"/><circle cx="257.4" cy="139.4"/><circle cx="286.8" cy="119.7"/><circle cx="317.5" cy="103.0"/><circle cx="287.8" cy="124.3"/><circle cx="279.2" cy="122.8"/><circle cx="242.9" cy="165.4"/><circle cx="262.0" cy="148.5"/><circle cx="305.2" cy="114.3"/><circle cx="298.5" cy="105.2"/><circle cx="249.7" cy="156.6"/><circle cx="291.1" cy="116.9"/><circle cx="307.2" cy="108.9"/><circle cx="315.8" cy="106.4"/><circle cx="280.0" cy="141.3"/><circle cx="268.2" cy="139.6"/><circle cx="249.7" cy="170.9"/><circle cx="259.5" cy="147.6"/><circle cx="239.3" cy="157.2"/><circle cx="277.6" cy="127.5"/><circle cx="256.3" cy="154.9"/><circle cx="309.9" cy="107.3"/><circle cx="250.5" cy="155.8"/><circle cx="246.3" cy="169.8"/><circle cx="308.0" cy="102.0"/><circle cx="287.4" cy="126.7"/><circle cx="289.5" cy="129.3"/><circle cx="293.3" cy="126.0"/><circle cx="242.3" cy="165.7"/><circle cx="238.8" cy="159.6"/><circle cx="269.4" cy="152.6"/><circle cx="270.7" cy="135.8"/><circle cx="270.9" cy="126.0"/><circle cx="299.7" cy="120.4"/><circle cx="280.2" cy="122.2"/><circle cx="276.8" cy="134.8"/><circle cx="298.1" cy="110.0"/><circle cx="287.8" cy="135.7"/><circle cx="245.5" cy="168.6"/><circle cx="273.2" cy="128.4"/><circle cx="267.5" cy="143.8"/><circle cx="266.4" cy="142.8"/><circle cx="252.1" cy="153.0"/><circle cx="293.1" cy="118.1"/><circle cx="252.7" cy="151.2"/><circle cx="257.9" cy="170.3"/><circle cx="296.3" cy="128.3"/><circle cx="300.7" cy="110.5"/><circle cx="312.7" cy="106.0"/><circle cx="258.8" cy="156.3"/><circle cx="236.4" cy="167.4"/><circle cx="278.5" cy="128.7"/><circle cx="317.4" cy="99.8"/><circle cx="251.3" cy="147.4"/><circle cx="259.5" cy="137.9"/><circle cx="315.4" cy="110.6"/><circle cx="285.3" cy="116.8"/><circle cx="290.8" cy="130.6"/><circle cx="303.1" cy="123.5"/><circle cx="252.6" cy="159.6"/><circle cx="268.0" cy="130.3"/><circle cx="251.6" cy="150.6"/><circle cx="285.9" cy="125.7"/><circle cx="292.4" cy="125.7"/><circle cx="282.0" cy="134.8"/><circle cx="296.4" cy="113.4"/><circle cx="254.7" cy="163.2"/><circle cx="273.8" cy="134.4"/><circle cx="242.5" cy="172.9"/><circle cx="253.1" cy="148.6"/><circle cx="244.1" cy="160.7"/><circle cx="257.5" cy="143.9"/><circle cx="313.1" cy="107.4"/><circle cx="311.4" cy="104.9"/><circle cx="268.1" cy="155.9"/><circle cx="281.8" cy="129.4"/><circle cx="259.1" cy="149.2"/><circle cx="263.5" cy="158.3"/><circle cx="278.3" cy="136.9"/><circle cx="306.6" cy="96.1"/><circle cx="314.2" cy="107.9"/><circle cx="308.3" cy="104.4"/><circle cx="316.7" cy="106.9"/><circle cx="300.5" cy="102.6"/><circle cx="254.5" cy="163.0"/><circle cx="244.5" cy="173.8"/><circle cx="271.3" cy="154.0"/><circle cx="237.5" cy="160.2"/><circle cx="261.4" cy="157.7"/><circle cx="249.3" cy="151.9"/><circle cx="283.7" cy="138.7"/><circle cx="316.8" cy="106.9"/><circle cx="285.6" cy="113.3"/><circle cx="295.6" cy="122.5"/><circle cx="278.8" cy="139.8"/><circle cx="305.1" cy="106.9"/><circle cx="285.9" cy="116.0"/><circle cx="315.3" cy="99.2"/><circle cx="246.1" cy="169.5"/><circle cx="262.0" cy="141.1"/><circle cx="295.1" cy="128.3"/><circle cx="262.6" cy="143.1"/><circle cx="266.6" cy="140.4"/><circle cx="267.7" cy="142.8"/><circle cx="305.1" cy="112.2"/><circle cx="254.7" cy="152.7"/><circle cx="291.5" cy="111.8"/><circle cx="253.7" cy="154.4"/><circle cx="280.9" cy="117.1"/><circle cx="281.2" cy="125.4"/><circle cx="246.2" cy="149.0"/><circle cx="277.8" cy="118.1"/><circle cx="258.3" cy="166.3"/><circle cx="280.4" cy="126.3"/><circle cx="292.7" cy="119.5"/><circle cx="252.1" cy="143.6"/><circle cx="259.0" cy="154.6"/><circle cx="254.4" cy="146.9"/><circle cx="238.9" cy="164.5"/><circle cx="286.2" cy="132.6"/><circle cx="282.5" cy="121.0"/><circle cx="307.2" cy="99.1"/><circle cx="242.3" cy="159.2"/><circle cx="261.8" cy="144.1"/><circle cx="323.0" cy="106.4"/><circle cx="282.5" cy="131.4"/><circle cx="269.5" cy="128.5"/><circle cx="268.4" cy="134.6"/><circle cx="273.3" cy="122.9"/><circle cx="305.9" cy="120.4"/><circle cx="244.6" cy="168.1"/><circle cx="270.1" cy="130.1"/><circle cx="244.9" cy="165.6"/><circle cx="249.7" cy="166.2"/><circle cx="276.1" cy="149.4"/><circle cx="251.9" cy="159.2"/><circle cx="257.9" cy="158.7"/><circle cx="273.7" cy="137.3"/><circle cx="308.5" cy="108.2"/><circle cx="315.1" cy="102.4"/><circle cx="276.9" cy="134.2"/><circle cx="255.4" cy="150.7"/><circle cx="279.5" cy="128.0"/><circle cx="257.7" cy="137.5"/><circle cx="300.3" cy="105.4"/><circle cx="308.5" cy="94.9"/><circle cx="246.7" cy="176.3"/><circle cx="244.9" cy="170.8"/><circle cx="298.7" cy="122.7"/><circle cx="319.1" cy="103.6"/><circle cx="261.4" cy="152.7"/><circle cx="283.2" cy="119.6"/><circle cx="243.1" cy="172.3"/><circle cx="304.0" cy="122.6"/><circle cx="282.9" cy="138.8"/><circle cx="321.4" cy="104.2"/><circle cx="319.0" cy="107.6"/><circle cx="251.1" cy="164.6"/><circle cx="256.3" cy="157.1"/><circle cx="291.0" cy="128.5"/><circle cx="256.4" cy="166.1"/><circle cx="290.9" cy="130.7"/><circle cx="306.9" cy="121.6"/><circle cx="277.4" cy="128.4"/><circle cx="271.1" cy="135.6"/><circle cx="309.3" cy="91.2"/><circle cx="303.5" cy="103.0"/><circle cx="294.0" cy="113.4"/><circle cx="292.5" cy="125.6"/><circle cx="246.9" cy="153.4"/><circle cx="255.3" cy="155.9"/><circle cx="286.7" cy="120.4"/><circle cx="298.4" cy="117.7"/><circle cx="260.9" cy="142.9"/><circle cx="276.1" cy="125.3"/><circle cx="267.3" cy="152.2"/><circle cx="300.3" cy="99.2"/><circle cx="275.1" cy="134.9"/><circle cx="266.5" cy="155.3"/><circle cx="305.0" cy="111.4"/><circle cx="260.9" cy="130.5"/><circle cx="304.0" cy="121.9"/><circle cx="266.1" cy="160.9"/><circle cx="293.2" cy="135.2"/><circle cx="261.2" cy="135.5"/><circle cx="255.4" cy="158.0"/><circle cx="293.5" cy="123.6"/><circle cx="298.8" cy="116.3"/><circle cx="284.8" cy="125.3"/><circle cx="280.6" cy="141.7"/><circle cx="296.9" cy="116.0"/><circle cx="246.8" cy="161.6"/><circle cx="240.0" cy="167.4"/><circle cx="252.4" cy="151.2"/><circle cx="298.3" cy="118.2"/><circle cx="286.7" cy="135.7"/><circle cx="259.9" cy="145.0"/><circle cx="294.6" cy="122.8"/><circle cx="265.3" cy="143.9"/><circle cx="264.4" cy="143.3"/><circle cx="307.6" cy="120.8"/><circle cx="314.0" cy="97.1"/><circle cx="320.2" cy="101.4"/><circle cx="262.8" cy="152.0"/><circle cx="286.5" cy="127.1"/><circle cx="257.0" cy="154.6"/><circle cx="257.3" cy="161.0"/><circle cx="260.3" cy="157.9"/><circle cx="297.5" cy="117.8"/><circle cx="303.6" cy="119.2"/><circle cx="269.9" cy="134.6"/><circle cx="262.5" cy="147.0"/><circle cx="267.2" cy="153.1"/><circle cx="261.4" cy="142.3"/><circle cx="306.9" cy="115.1"/><circle cx="270.1" cy="141.1"/><circle cx="260.7" cy="157.8"/><circle cx="308.8" cy="112.5"/><circle cx="252.2" cy="160.0"/><circle cx="309.0" cy="97.8"/><circle cx="268.3" cy="139.1"/><circle cx="306.1" cy="117.5"/><circle cx="272.8" cy="126.5"/><circle cx="291.8" cy="117.3"/><circle cx="285.6" cy="117.1"/><circle cx="287.9" cy="130.9"/><circle cx="310.7" cy="100.5"/><circle cx="278.3" cy="125.3"/><circle cx="287.3" cy="135.7"/><circle cx="302.6" cy="116.4"/><circle cx="270.2" cy="131.7"/><circle cx="263.7" cy="139.0"/><circle cx="297.3" cy="130.5"/><circle cx="276.0" cy="140.9"/><circle cx="257.8" cy="161.4"/><circle cx="282.5" cy="125.6"/><circle cx="271.6" cy="150.3"/><circle cx="272.9" cy="126.9"/><circle cx="303.2" cy="107.5"/><circle cx="318.5" cy="102.8"/><circle cx="312.4" cy="92.7"/><circle cx="247.6" cy="166.1"/><circle cx="306.9" cy="100.3"/><circle cx="321.4" cy="105.7"/><circle cx="273.8" cy="141.6"/><circle cx="273.6" cy="147.8"/><circle cx="275.1" cy="136.5"/><circle cx="248.4" cy="164.9"/><circle cx="283.9" cy="111.5"/><circle cx="255.2" cy="149.9"/><circle cx="250.9" cy="151.4"/><circle cx="268.9" cy="130.4"/><circle cx="308.3" cy="113.5"/><circle cx="242.6" cy="163.5"/><circle cx="283.6" cy="131.2"/><circle cx="313.2" cy="104.1"/><circle cx="314.3" cy="113.8"/><circle cx="245.2" cy="154.6"/><circle cx="262.4" cy="152.5"/><circle cx="246.2" cy="172.6"/><circle cx="307.0" cy="120.0"/><circle cx="239.3" cy="161.3"/><circle cx="282.1" cy="121.2"/><circle cx="311.2" cy="115.5"/><circle cx="295.0" cy="122.8"/><circle cx="303.5" cy="106.8"/><circle cx="282.0" cy="121.2"/><circle cx="241.0" cy="165.7"/><circle cx="248.5" cy="153.7"/><circle cx="305.0" cy="101.6"/><circle cx="252.8" cy="164.1"/><circle cx="263.1" cy="141.5"/><circle cx="267.9" cy="136.6"/><circle cx="298.9" cy="119.2"/><circle cx="317.5" cy="97.7"/><circle cx="301.6" cy="115.5"/><circle cx="251.1" cy="162.5"/><circle cx="240.2" cy="162.2"/><circle cx="272.0" cy="130.2"/><circle cx="252.6" cy="162.7"/><circle cx="262.4" cy="134.2"/><circle cx="286.1" cy="123.7"/><circle cx="279.1" cy="135.3"/><circle cx="265.9" cy="144.2"/><circle cx="273.7" cy="143.5"/><circle cx="312.7" cy="92.3"/><circle cx="300.5" cy="114.1"/><circle cx="248.6" cy="161.6"/><circle cx="274.7" cy="134.0"/><circle cx="304.0" cy="126.2"/><circle cx="322.4" cy="106.8"/><circle cx="259.6" cy="144.9"/><circle cx="303.5" cy="111.9"/><circle cx="290.9" cy="108.8"/><circle cx="239.4" cy="154.0"/><circle cx="244.5" cy="170.6"/><circle cx="247.1" cy="167.7"/><circle cx="250.0" cy="166.7"/><circle cx="288.1" cy="114.2"/><circle cx="242.9" cy="168.8"/><circle cx="299.6" cy="115.1"/><circle cx="282.1" cy="125.2"/><circle cx="304.2" cy="95.0"/><circle cx="265.2" cy="151.9"/><circle cx="303.2" cy="100.7"/><circle cx="306.5" cy="96.2"/><circle cx="271.6" cy="128.5"/><circle cx="268.1" cy="140.7"/><circle cx="276.6" cy="127.2"/><circle cx="310.1" cy="117.5"/><circle cx="303.7" cy="102.3"/><circle cx="290.8" cy="126.0"/><circle cx="257.3" cy="158.5"/><circle cx="234.4" cy="163.3"/><circle cx="308.7" cy="115.1"/><circle cx="303.7" cy="115.4"/><circle cx="264.0" cy="144.4"/><circle cx="255.9" cy="144.2"/><circle cx="303.6" cy="105.3"/><circle cx="273.6" cy="148.6"/><circle cx="247.3" cy="155.5"/><circle cx="286.6" cy="119.2"/><circle cx="314.5" cy="95.5"/><circle cx="286.6" cy="124.3"/><circle cx="249.4" cy="170.8"/><circle cx="256.1" cy="156.9"/><circle cx="258.2" cy="140.9"/><circle cx="322.6" cy="104.7"/><circle cx="254.4" cy="155.0"/><circle cx="265.2" cy="151.1"/><circle cx="245.4" cy="169.9"/><circle cx="266.1" cy="151.1"/><circle cx="307.7" cy="109.8"/><circle cx="254.9" cy="141.0"/><circle cx="290.8" cy="109.5"/><circle cx="312.8" cy="93.3"/><circle cx="242.7" cy="154.8"/><circle cx="264.4" cy="156.8"/><circle cx="261.5" cy="136.2"/><circle cx="244.8" cy="173.8"/><circle cx="244.3" cy="171.0"/><circle cx="311.7" cy="103.6"/><circle cx="317.9" cy="99.4"/><circle cx="268.5" cy="132.6"/><circle cx="308.1" cy="100.4"/><circle cx="262.2" cy="161.5"/><circle cx="267.0" cy="137.7"/><circle cx="289.9" cy="118.3"/><circle cx="257.0" cy="144.2"/><circle cx="286.3" cy="116.8"/><circle cx="286.1" cy="126.1"/><circle cx="315.2" cy="99.6"/><circle cx="298.4" cy="105.7"/><circle cx="270.9" cy="151.0"/><circle cx="277.9" cy="121.9"/><circle cx="274.2" cy="132.0"/><circle cx="285.1" cy="138.2"/><circle cx="274.6" cy="123.9"/><circle cx="270.9" cy="132.5"/><circle cx="242.2" cy="168.7"/><circle cx="249.9" cy="159.3"/><circle cx="259.6" cy="154.2"/><circle cx="313.3" cy="99.9"/><circle cx="310.5" cy="101.3"/><circle cx="289.2" cy="119.2"/><circle cx="316.6" cy="110.8"/><circle cx="305.4" cy="117.9"/><circle cx="292.3" cy="129.5"/><circle cx="255.4" cy="146.3"/><circle cx="257.5" cy="160.8"/><circle cx="240.1" cy="167.0"/><circle cx="317.7" cy="107.0"/><circle cx="264.7" cy="146.8"/><circle cx="321.5" cy="103.9"/><circle cx="245.8" cy="173.0"/><circle cx="274.3" cy="125.8"/><circle cx="310.1" cy="97.6"/><circle cx="239.8" cy="163.8"/><circle cx="320.5" cy="100.1"/><circle cx="298.9" cy="114.7"/><circle cx="266.7" cy="155.1"/><circle cx="318.0" cy="101.2"/><circle cx="297.2" cy="107.2"/><circle cx="263.3" cy="152.6"/><circle cx="314.7" cy="106.1"/><circle cx="265.2" cy="160.1"/><circle cx="301.2" cy="101.4"/><circle cx="310.2" cy="113.9"/><circle cx="295.2" cy="125.0"/><circle cx="286.2" cy="137.9"/><circle cx="260.9" cy="145.4"/><circle cx="258.5" cy="165.1"/><circle cx="266.6" cy="133.2"/><circle cx="246.3" cy="156.0"/><circle cx="274.1" cy="124.7"/><circle cx="285.6" cy="127.2"/><circle cx="296.1" cy="115.7"/><circle cx="260.8" cy="134.2"/><circle cx="271.0" cy="136.7"/><circle cx="295.6" cy="115.5"/><circle cx="273.6" cy="149.1"/><circle cx="241.8" cy="158.6"/><circle cx="310.1" cy="107.1"/><circle cx="251.4" cy="159.7"/><circle cx="239.9" cy="163.0"/><circle cx="258.8" cy="154.0"/><circle cx="298.5" cy="101.4"/><circle cx="299.7" cy="116.5"/><circle cx="241.4" cy="155.7"/><circle cx="290.1" cy="123.7"/><circle cx="306.3" cy="105.5"/><circle cx="311.9" cy="101.2"/><circle cx="283.8" cy="133.6"/><circle cx="307.9" cy="107.6"/><circle cx="274.6" cy="151.8"/><circle cx="239.3" cy="166.7"/><circle cx="248.7" cy="156.8"/><circle cx="252.9" cy="144.0"/><circle cx="246.9" cy="172.4"/><circle cx="312.7" cy="97.4"/><circle cx="323.5" cy="103.2"/><circle cx="307.1" cy="102.9"/><circle cx="272.6" cy="123.7"/><circle cx="273.1" cy="138.8"/><circle cx="269.8" cy="151.9"/><circle cx="281.2" cy="126.6"/><circle cx="244.3" cy="156.3"/><circle cx="297.5" cy="111.9"/><circle cx="262.9" cy="142.5"/><circle cx="302.1" cy="111.9"/><circle cx="247.2" cy="163.7"/><circle cx="261.7" cy="151.5"/><circle cx="301.6" cy="107.3"/><circle cx="306.6" cy="118.6"/><circle cx="295.4" cy="127.2"/><circle cx="280.5" cy="124.9"/><circle cx="319.0" cy="100.9"/><circle cx="293.6" cy="124.6"/><circle cx="269.1" cy="152.8"/><circle cx="258.0" cy="159.9"/><circle cx="270.2" cy="136.4"/><circle cx="311.5" cy="101.7"/><circle cx="253.7" cy="159.5"/><circle cx="302.7" cy="102.0"/><circle cx="303.1" cy="119.7"/><circle cx="248.4" cy="154.4"/><circle cx="245.4" cy="175.2"/><circle cx="246.7" cy="168.5"/><circle cx="279.1" cy="131.7"/><circle cx="262.9" cy="156.3"/><circle cx="298.8" cy="121.5"/><circle cx="280.9" cy="128.5"/><circle cx="263.8" cy="137.3"/><circle cx="286.6" cy="133.5"/><circle cx="293.1" cy="115.0"/><circle cx="297.4" cy="121.0"/><circle cx="252.2" cy="163.1"/><circle cx="262.5" cy="155.5"/><circle cx="255.1" cy="156.4"/><circle cx="295.2" cy="134.9"/><circle cx="315.7" cy="102.6"/><circle cx="279.5" cy="139.8"/><circle cx="239.1" cy="161.9"/><circle cx="270.5" cy="142.9"/><circle cx="260.2" cy="147.6"/><circle cx="270.0" cy="133.1"/><circle cx="314.4" cy="98.3"/><circle cx="310.3" cy="95.0"/><circle cx="283.6" cy="130.9"/><circle cx="301.3" cy="122.2"/><circle cx="245.1" cy="173.2"/><circle cx="292.3" cy="136.0"/><circle cx="284.5" cy="122.2"/><circle cx="311.9" cy="115.8"/><circle cx="272.9" cy="139.0"/><circle cx="273.6" cy="141.5"/><circle cx="312.8" cy="114.9"/><circle cx="247.1" cy="158.1"/><circle cx="318.2" cy="104.3"/><circle cx="292.8" cy="117.9"/><circle cx="306.2" cy="105.8"/><circle cx="301.6" cy="99.8"/><circle cx="269.0" cy="140.4"/><circle cx="317.9" cy="108.9"/><circle cx="296.1" cy="118.1"/><circle cx="288.1" cy="124.7"/><circle cx="254.4" cy="166.4"/><circle cx="284.2" cy="140.0"/><circle cx="287.4" cy="133.7"/><circle cx="252.1" cy="161.2"/><circle cx="258.9" cy="139.7"/><circle cx="280.0" cy="138.9"/><circle cx="253.4" cy="151.6"/><circle cx="264.8" cy="159.0"/><circle cx="261.0" cy="131.9"/><circle cx="245.2" cy="156.7"/><circle cx="264.7" cy="149.3"/><circle cx="278.3" cy="149.4"/><circle cx="257.7" cy="150.8"/><circle cx="250.8" cy="148.8"/><circle cx="273.9" cy="141.7"/><circle cx="296.8" cy="127.3"/><circle cx="244.4" cy="167.3"/><circle cx="264.3" cy="145.9"/><circle cx="265.7" cy="154.4"/><circle cx="282.3" cy="124.7"/><circle cx="240.8" cy="158.0"/><circle cx="246.4" cy="159.7"/><circle cx="310.5" cy="98.9"/><circle cx="278.8" cy="127.1"/><circle cx="278.3" cy="119.5"/><circle cx="253.2" cy="160.4"/><circle cx="237.6" cy="166.8"/><circle cx="239.0" cy="157.9"/><circle cx="240.1" cy="165.2"/><circle cx="260.7" cy="137.1"/><circle cx="250.5" cy="145.4"/><circle cx="317.0" cy="102.7"/><circle cx="246.8" cy="172.3"/><circle cx="239.6" cy="171.1"/><circle cx="248.8" cy="167.9"/><circle cx="247.0" cy="177.6"/><circle cx="279.3" cy="136.9"/><circle cx="262.1" cy="132.7"/><circle cx="257.4" cy="142.6"/><circle cx="311.5" cy="96.8"/><circle cx="289.4" cy="107.5"/><circle cx="254.7" cy="157.5"/><circle cx="247.7" cy="165.1"/><circle cx="305.0" cy="102.0"/><circle cx="302.0" cy="104.2"/><circle cx="247.7" cy="168.0"/><circle cx="302.3" cy="106.2"/><circle cx="290.0" cy="129.1"/><circle cx="293.4" cy="106.6"/><circle cx="299.7" cy="121.0"/><circle cx="268.6" cy="151.8"/><circle cx="301.7" cy="103.0"/><circle cx="247.8" cy="173.2"/><circle cx="317.3" cy="106.8"/><circle cx="233.7" cy="157.5"/><circle cx="290.2" cy="120.8"/><circle cx="277.4" cy="137.8"/><circle cx="287.2" cy="122.2"/><circle cx="316.3" cy="106.5"/><circle cx="302.0" cy="123.3"/><circle cx="277.3" cy="133.4"/><circle cx="286.8" cy="113.9"/><circle cx="258.0" cy="133.7"/><circle cx="244.3" cy="154.3"/><circle cx="246.0" cy="157.1"/><circle cx="261.6" cy="152.6"/><circle cx="307.1" cy="101.7"/><circle cx="267.8" cy="133.3"/><circle cx="297.5" cy="124.4"/><circle cx="270.0" cy="150.4"/><circle cx="303.0" cy="108.7"/><circle cx="288.2" cy="123.8"/><circle cx="254.0" cy="147.7"/><circle cx="237.4" cy="161.1"/><circle cx="299.6" cy="113.5"/><circle cx="259.7" cy="164.3"/><circle cx="297.3" cy="113.1"/><circle cx="251.7" cy="161.9"/><circle cx="306.1" cy="114.9"/><circle cx="292.2" cy="117.9"/><circle cx="249.0" cy="153.2"/><circle cx="273.5" cy="137.0"/><circle cx="286.7" cy="118.6"/><circle cx="255.9" cy="160.1"/><circle cx="249.2" cy="150.7"/><circle cx="253.2" cy="157.5"/><circle cx="250.6" cy="172.4"/><circle cx="311.0" cy="97.4"/><circle cx="255.9" cy="154.3"/><circle cx="272.9" cy="121.2"/><circle cx="258.3" cy="162.9"/><circle cx="256.0" cy="146.4"/><circle cx="304.2" cy="100.9"/><circle cx="258.6" cy="161.6"/><circle cx="242.1" cy="162.9"/><circle cx="309.5" cy="113.5"/><circle cx="285.9" cy="140.2"/><circle cx="277.3" cy="141.1"/><circle cx="310.9" cy="99.9"/><circle cx="265.4" cy="142.3"/><circle cx="305.4" cy="118.6"/><circle cx="265.2" cy="135.8"/><circle cx="275.6" cy="141.8"/><circle cx="300.0" cy="119.9"/><circle cx="270.6" cy="141.9"/><circle cx="236.9" cy="164.7"/><circle cx="259.0" cy="150.6"/><circle cx="301.3" cy="100.9"/><circle cx="259.1" cy="141.4"/><circle cx="283.6" cy="123.0"/><circle cx="292.5" cy="132.0"/><circle cx="307.9" cy="118.3"/><circle cx="272.0" cy="146.2"/><circle cx="290.7" cy="120.6"/><circle cx="270.3" cy="146.2"/><circle cx="258.3" cy="150.8"/><circle cx="244.2" cy="164.7"/><circle cx="302.2" cy="109.9"/><circle cx="244.7" cy="164.5"/><circle cx="266.6" cy="140.3"/><circle cx="285.6" cy="119.7"/><circle cx="265.5" cy="156.0"/><circle cx="277.8" cy="133.4"/><circle cx="304.6" cy="110.1"/><circle cx="290.4" cy="109.1"/><circle cx="260.2" cy="139.4"/><circle cx="310.3" cy="104.4"/><circle cx="301.7" cy="102.0"/><circle cx="296.6" cy="104.2"/><circle cx="251.0" cy="149.2"/><circle cx="276.6" cy="147.6"/><circle cx="319.2" cy="99.3"/><circle cx="281.3" cy="123.1"/><circle cx="259.6" cy="154.1"/><circle cx="279.7" cy="143.6"/><circle cx="277.0" cy="153.1"/><circle cx="288.8" cy="134.3"/><circle cx="257.2" cy="141.0"/><circle cx="317.9" cy="105.6"/><circle cx="280.9" cy="136.9"/><circle cx="276.6" cy="133.7"/><circle cx="237.3" cy="164.2"/><circle cx="253.4" cy="149.9"/><circle cx="248.1" cy="148.8"/><circle cx="274.0" cy="142.0"/><circle cx="238.3" cy="159.8"/><circle cx="258.2" cy="143.8"/><circle cx="308.0" cy="112.3"/><circle cx="276.5" cy="132.3"/><circle cx="307.9" cy="102.7"/><circle cx="266.8" cy="136.7"/><circle cx="286.4" cy="129.4"/><circle cx="308.9" cy="109.3"/><circle cx="267.3" cy="143.2"/><circle cx="276.9" cy="137.4"/><circle cx="266.0" cy="134.4"/><circle cx="285.3" cy="136.8"/><circle cx="264.4" cy="154.3"/><circle cx="291.3" cy="113.3"/><circle cx="246.0" cy="144.6"/><circle cx="249.2" cy="170.9"/><circle cx="251.2" cy="163.7"/><circle cx="245.2" cy="153.1"/><circle cx="275.4" cy="131.7"/><circle cx="305.3" cy="119.5"/><circle cx="270.7" cy="137.9"/><circle cx="251.0" cy="157.7"/><circle cx="252.0" cy="167.6"/><circle cx="298.2" cy="113.2"/><circle cx="263.8" cy="135.7"/><circle cx="237.0" cy="165.1"/><circle cx="287.8" cy="114.6"/><circle cx="301.3" cy="108.3"/><circle cx="308.9" cy="95.5"/><circle cx="309.2" cy="109.1"/><circle cx="240.0" cy="166.9"/><circle cx="295.9" cy="123.7"/><circle cx="290.6" cy="135.1"/><circle cx="271.0" cy="144.8"/><circle cx="246.0" cy="160.6"/><circle cx="255.4" cy="165.2"/><circle cx="298.1" cy="111.4"/><circle cx="271.5" cy="154.5"/><circle cx="282.8" cy="118.0"/><circle cx="286.7" cy="130.3"/><circle cx="292.0" cy="113.8"/><circle cx="291.1" cy="115.0"/><circle cx="268.3" cy="142.1"/><circle cx="253.1" cy="162.1"/><circle cx="270.9" cy="125.0"/><circle cx="262.4" cy="154.9"/><circle cx="295.2" cy="113.6"/><circle cx="287.7" cy="133.9"/><circle cx="280.2" cy="123.0"/><circle cx="295.5" cy="115.3"/><circle cx="294.0" cy="116.7"/><circle cx="270.7" cy="129.9"/><circle cx="306.5" cy="113.8"/><circle cx="296.1" cy="110.8"/><circle cx="303.5" cy="115.3"/><circle cx="251.2" cy="168.8"/><circle cx="294.1" cy="106.3"/><circle cx="285.0" cy="131.9"/><circle cx="275.4" cy="135.9"/><circle cx="305.8" cy="120.5"/><circle cx="306.9" cy="104.9"/><circle cx="308.2" cy="115.3"/><circle cx="243.7" cy="167.6"/><circle cx="311.8" cy="109.6"/><circle cx="246.0" cy="151.5"/><circle cx="273.3" cy="121.1"/><circle cx="308.7" cy="100.5"/><circle cx="253.4" cy="152.5"/><circle cx="285.2" cy="113.9"/><circle cx="259.3" cy="140.3"/><circle cx="250.1" cy="157.1"/><circle cx="310.9" cy="111.9"/><circle cx="306.2" cy="117.1"/><circle cx="307.1" cy="99.8"/><circle cx="240.0" cy="162.1"/><circle cx="249.1" cy="150.1"/><circle cx="238.3" cy="158.3"/><circle cx="248.0" cy="168.9"/><circle cx="272.2" cy="129.1"/><circle cx="304.7" cy="111.3"/><circle cx="301.2" cy="108.3"/><circle cx="247.0" cy="177.3"/><circle cx="263.6" cy="146.5"/><circle cx="262.9" cy="145.8"/><circle cx="312.6" cy="98.2"/><circle cx="260.5" cy="149.5"/><circle cx="302.8" cy="117.8"/><circle cx="246.5" cy="152.2"/><circle cx="256.9" cy="157.8"/><circle cx="283.8" cy="115.9"/><circle cx="282.8" cy="127.9"/><circle cx="281.5" cy="127.5"/><circle cx="251.8" cy="158.9"/><circle cx="301.6" cy="105.9"/><circle cx="307.4" cy="111.2"/><circle cx="264.3" cy="158.8"/><circle cx="283.6" cy="128.0"/><circle cx="270.1" cy="151.8"/><circle cx="249.9" cy="152.5"/><circle cx="314.7" cy="102.8"/><circle cx="276.8" cy="123.7"/><circle cx="249.4" cy="166.7"/><circle cx="279.2" cy="144.5"/><circle cx="255.2" cy="147.9"/><circle cx="318.0" cy="101.2"/><circle cx="257.3" cy="145.7"/><circle cx="270.4" cy="129.5"/><circle cx="265.7" cy="147.3"/><circle cx="241.5" cy="156.8"/><circle cx="307.7" cy="104.4"/><circle cx="292.4" cy="116.9"/><circle cx="318.0" cy="109.9"/><circle cx="304.6" cy="105.6"/><circle cx="283.1" cy="122.9"/><circle cx="292.2" cy="135.7"/><circle cx="295.2" cy="120.5"/><circle cx="276.3" cy="149.0"/><circle cx="289.4" cy="110.7"/><circle cx="245.3" cy="156.8"/><circle cx="293.9" cy="136.6"/><circle cx="291.9" cy="116.8"/><circle cx="249.2" cy="160.1"/><circle cx="241.7" cy="166.7"/><circle cx="275.4" cy="144.4"/><circle cx="293.0" cy="107.6"/><circle cx="261.9" cy="146.1"/><circle cx="248.6" cy="155.0"/><circle cx="292.9" cy="118.0"/><circle cx="294.8" cy="115.9"/><circle cx="258.0" cy="146.7"/><circle cx="256.9" cy="163.9"/><circle cx="275.1" cy="140.4"/><circle cx="246.4" cy="150.8"/><circle cx="238.6" cy="168.6"/><circle cx="311.3" cy="117.2"/><circle cx="272.6" cy="124.2"/><circle cx="249.2" cy="153.0"/><circle cx="256.9" cy="143.8"/><circle cx="268.0" cy="151.2"/><circle cx="265.2" cy="131.0"/><circle cx="315.5" cy="105.4"/><circle cx="296.1" cy="105.2"/><circle cx="252.5" cy="167.7"/><circle cx="290.9" cy="114.9"/><circle cx="277.8" cy="140.6"/><circle cx="256.3" cy="149.4"/><circle cx="239.4" cy="161.0"/><circle cx="290.1" cy="126.9"/><circle cx="311.7" cy="96.1"/><circle cx="246.3" cy="173.3"/><circle cx="303.0" cy="95.9"/><circle cx="311.3" cy="113.3"/><circle cx="263.7" cy="145.6"/><circle cx="298.6" cy="121.3"/><circle cx="300.9" cy="125.2"/><circle cx="296.4" cy="122.3"/><circle cx="291.6" cy="128.4"/><circle cx="305.0" cy="113.4"/><circle cx="309.4" cy="109.8"/><circle cx="251.2" cy="146.3"/><circle cx="282.9" cy="137.2"/><circle cx="307.1" cy="100.5"/><circle cx="243.4" cy="160.1"/><circle cx="287.9" cy="135.8"/><circle cx="297.9" cy="108.3"/><circle cx="303.0" cy="97.8"/><circle cx="293.8" cy="125.4"/><circle cx="273.4" cy="125.5"/><circle cx="284.7" cy="141.3"/><circle cx="254.3" cy="145.7"/><circle cx="259.4" cy="139.4"/><circle cx="291.5" cy="118.4"/><circle cx="307.6" cy="104.9"/><circle cx="308.9" cy="96.2"/><circle cx="304.4" cy="95.0"/><circle cx="258.0" cy="148.9"/><circle cx="259.4" cy="153.8"/><circle cx="247.5" cy="166.8"/><circle cx="313.7" cy="108.9"/><circle cx="290.1" cy="136.8"/><circle cx="265.8" cy="147.0"/><circle cx="291.2" cy="124.1"/><circle cx="299.0" cy="105.0"/><circle cx="294.1" cy="115.4"/><circle cx="249.8" cy="152.5"/><circle cx="276.8" cy="123.2"/><circle cx="238.4" cy="167.3"/><circle cx="263.4" cy="152.8"/><circle cx="287.6" cy="133.0"/><circle cx="293.0" cy="127.0"/><circle cx="253.7" cy="153.4"/><circle cx="292.3" cy="120.3"/><circle cx="259.2" cy="137.7"/><circle cx="243.5" cy="166.2"/><circle cx="320.9" cy="102.5"/><circle cx="275.4" cy="121.7"/><circle cx="288.5" cy="127.9"/><circle cx="251.4" cy="158.4"/><circle cx="305.2" cy="121.6"/><circle cx="239.2" cy="160.2"/><circle cx="253.0" cy="159.8"/><circle cx="309.5" cy="114.5"/><circle cx="302.0" cy="117.3"/><circle cx="268.6" cy="132.7"/><circle cx="247.6" cy="155.2"/><circle cx="271.2" cy="129.2"/><circle cx="261.4" cy="152.0"/><circle cx="269.5" cy="144.8"/><circle cx="256.0" cy="161.0"/><circle cx="312.0" cy="105.0"/><circle cx="298.1" cy="104.4"/><circle cx="310.3" cy="92.1"/><circle cx="264.4" cy="143.3"/><circle cx="268.4" cy="134.2"/><circle cx="290.3" cy="117.7"/><circle cx="314.3" cy="106.4"/><circle cx="252.9" cy="165.4"/><circle cx="245.2" cy="156.1"/><circle cx="241.3" cy="162.8"/><circle cx="238.8" cy="163.1"/><circle cx="255.6" cy="154.2"/><circle cx="257.8" cy="143.8"/><circle cx="270.1" cy="133.8"/><circle cx="295.7" cy="122.9"/><circle cx="291.7" cy="109.1"/><circle cx="306.5" cy="101.5"/><circle cx="302.7" cy="113.4"/><circle cx="257.0" cy="141.7"/><circle cx="311.4" cy="92.5"/><circle cx="264.7" cy="144.0"/><circle cx="248.9" cy="159.6"/><circle cx="307.5" cy="103.5"/><circle cx="306.3" cy="98.9"/><circle cx="277.0" cy="143.5"/><circle cx="250.9" cy="153.9"/><circle cx="255.1" cy="138.6"/><circle cx="318.9" cy="107.7"/><circle cx="249.6" cy="166.4"/><circle cx="294.2" cy="116.1"/><circle cx="244.5" cy="170.8"/><circle cx="296.3" cy="129.5"/><circle cx="304.1" cy="112.6"/><circle cx="291.0" cy="131.5"/><circle cx="247.5" cy="177.8"/><circle cx="238.2" cy="159.2"/><circle cx="275.8" cy="132.9"/><circle cx="296.0" cy="111.8"/><circle cx="254.8" cy="167.3"/><circle cx="265.0" cy="138.2"/><circle cx="320.3" cy="106.5"/><circle cx="242.7" cy="173.1"/><circle cx="320.3" cy="103.3"/><circle cx="256.8" cy="159.8"/><circle cx="250.7" cy="153.8"/><circle cx="309.9" cy="111.7"/><circle cx="311.1" cy="95.2"/><circle cx="300.1" cy="119.4"/><circle cx="242.3" cy="172.8"/><circle cx="254.9" cy="161.0"/><circle cx="315.9" cy="100.3"/><circle cx="277.5" cy="124.5"/><circle cx="297.7" cy="108.2"/><circle cx="305.8" cy="113.8"/><circle cx="279.3" cy="124.0"/><circle cx="260.3" cy="156.6"/><circle cx="258.9" cy="143.3"/><circle cx="311.1" cy="111.6"/><circle cx="308.6" cy="93.0"/><circle cx="250.8" cy="151.2"/><circle cx="297.5" cy="125.4"/><circle cx="299.6" cy="113.1"/><circle cx="252.6" cy="156.7"/><circle cx="284.6" cy="128.7"/><circle cx="284.3" cy="114.1"/><circle cx="275.4" cy="148.0"/><circle cx="269.2" cy="143.1"/><circle cx="257.3" cy="139.8"/><circle cx="299.1" cy="118.4"/><circle cx="306.0" cy="101.6"/><circle cx="292.2" cy="133.1"/><circle cx="245.2" cy="162.9"/><circle cx="300.9" cy="120.7"/><circle cx="267.8" cy="142.2"/><circle cx="314.7" cy="106.3"/><circle cx="274.3" cy="136.4"/><circle cx="290.8" cy="130.4"/><circle cx="282.9" cy="123.7"/><circle cx="308.0" cy="103.7"/><circle cx="288.0" cy="116.0"/><circle cx="279.6" cy="127.4"/><circle cx="285.2" cy="127.4"/><circle cx="293.3" cy="132.6"/><circle cx="291.8" cy="114.9"/><circle cx="314.9" cy="106.0"/><circle cx="271.6" cy="140.6"/><circle cx="275.0" cy="131.9"/><circle cx="290.2" cy="108.6"/><circle cx="302.4" cy="101.5"/><circle cx="299.4" cy="106.8"/><circle cx="297.6" cy="121.5"/><circle cx="282.5" cy="124.8"/><circle cx="251.4" cy="162.8"/><circle cx="243.2" cy="165.7"/><circle cx="242.0" cy="155.3"/><circle cx="297.3" cy="113.1"/><circle cx="241.8" cy="165.3"/><circle cx="255.8" cy="153.4"/><circle cx="285.7" cy="119.7"/><circle cx="265.6" cy="136.5"/><circle cx="240.2" cy="168.1"/><circle cx="314.7" cy="101.8"/><circle cx="301.9" cy="101.9"/><circle cx="245.9" cy="176.0"/><circle cx="280.0" cy="123.2"/><circle cx="317.4" cy="108.6"/><circle cx="250.1" cy="164.7"/><circle cx="274.5" cy="133.2"/><circle cx="271.7" cy="146.4"/><circle cx="312.3" cy="92.4"/><circle cx="250.2" cy="171.3"/><circle cx="247.1" cy="168.7"/><circle cx="271.9" cy="136.6"/><circle cx="276.1" cy="136.1"/><circle cx="270.2" cy="142.3"/><circle cx="278.8" cy="119.2"/><circle cx="264.5" cy="153.6"/><circle cx="298.4" cy="118.0"/><circle cx="273.9" cy="139.5"/><circle cx="318.0" cy="100.7"/><circle cx="244.2" cy="164.1"/><circle cx="290.4" cy="125.3"/><circle cx="251.9" cy="152.7"/><circle cx="284.5" cy="121.2"/><circle cx="284.4" cy="133.8"/><circle cx="250.6" cy="143.8"/><circle cx="273.0" cy="145.4"/><circle cx="276.9" cy="129.1"/><circle cx="289.6" cy="125.9"/><circle cx="304.2" cy="98.9"/><circle cx="283.9" cy="127.9"/><circle cx="309.9" cy="106.8"/><circle cx="289.9" cy="132.5"/><circle cx="278.2" cy="124.0"/><circle cx="245.9" cy="155.9"/><circle cx="298.4" cy="126.4"/><circle cx="312.0" cy="92.3"/><circle cx="258.3" cy="157.1"/><circle cx="299.0" cy="107.4"/><circle cx="289.8" cy="129.1"/><circle cx="250.1" cy="170.2"/><circle cx="248.9" cy="144.7"/><circle cx="272.2" cy="129.8"/><circle cx="249.8" cy="163.3"/><circle cx="242.8" cy="161.7"/><circle cx="275.4" cy="149.8"/><circle cx="315.0" cy="99.9"/><circle cx="263.2" cy="155.4"/><circle cx="317.0" cy="100.6"/><circle cx="251.7" cy="156.1"/><circle cx="264.2" cy="135.1"/><circle cx="305.1" cy="104.2"/><circle cx="270.0" cy="140.4"/><circle cx="313.2" cy="112.2"/><circle cx="281.9" cy="127.3"/><circle cx="280.4" cy="123.1"/><circle cx="302.4" cy="110.5"/><circle cx="303.0" cy="116.4"/><circle cx="247.2" cy="159.4"/><circle cx="281.9" cy="130.1"/><circle cx="311.0" cy="100.4"/><circle cx="254.9" cy="141.1"/><circle cx="248.0" cy="156.6"/><circle cx="317.3" cy="108.2"/><circle cx="290.4" cy="122.3"/><circle cx="304.4" cy="117.0"/><circle cx="288.1" cy="122.8"/><circle cx="247.6" cy="162.5"/><circle cx="304.2" cy="98.0"/><circle cx="251.5" cy="149.8"/><circle cx="303.3" cy="106.8"/><circle cx="283.0" cy="139.0"/><circle cx="271.9" cy="147.6"/><circle cx="260.4" cy="157.7"/><circle cx="310.8" cy="104.8"/><circle cx="306.5" cy="110.8"/><circle cx="243.2" cy="152.6"/><circle cx="318.1" cy="101.5"/><circle cx="259.1" cy="161.2"/><circle cx="308.7" cy="93.3"/><circle cx="287.0" cy="124.2"/><circle cx="273.1" cy="126.7"/><circle cx="300.4" cy="119.8"/><circle cx="303.2" cy="107.1"/><circle cx="266.2" cy="135.1"/><circle cx="297.1" cy="98.4"/><circle cx="314.6" cy="112.5"/><circle cx="270.8" cy="138.1"/><circle cx="294.3" cy="113.6"/><circle cx="290.0" cy="126.0"/><circle cx="284.8" cy="128.3"/><circle cx="285.5" cy="128.5"/><circle cx="255.5" cy="163.1"/><circle cx="306.8" cy="108.6"/><circle cx="287.1" cy="118.5"/><circle cx="247.3" cy="163.9"/><circle cx="275.3" cy="125.9"/><circle cx="260.1" cy="158.4"/><circle cx="274.0" cy="136.3"/><circle cx="293.2" cy="108.3"/><circle cx="239.4" cy="164.5"/><circle cx="294.1" cy="112.8"/><circle cx="276.3" cy="146.3"/><circle cx="246.5" cy="163.5"/><circle cx="249.7" cy="165.9"/><circle cx="309.7" cy="93.6"/><circle cx="278.6" cy="146.7"/><circle cx="261.7" cy="152.2"/><circle cx="292.9" cy="108.3"/><circle cx="240.9" cy="172.1"/><circle cx="318.3" cy="104.6"/><circle cx="284.5" cy="132.6"/><circle cx="245.5" cy="166.5"/><circle cx="279.5" cy="124.7"/><circle cx="310.2" cy="112.6"/><circle cx="280.1" cy="130.4"/><circle cx="237.1" cy="162.6"/><circle cx="267.8" cy="143.7"/><circle cx="247.1" cy="155.7"/><circle cx="242.3" cy="172.8"/><circle cx="297.7" cy="122.2"/><circle cx="288.9" cy="113.8"/><circle cx="247.6" cy="164.3"/><circle cx="275.1" cy="145.5"/><circle cx="300.4" cy="123.2"/><circle cx="248.7" cy="150.8"/><circle cx="274.8" cy="124.3"/><circle cx="249.4" cy="160.4"/><circle cx="250.1" cy="170.0"/><circle cx="298.4" cy="119.9"/><circle cx="258.6" cy="141.7"/><circle cx="289.4" cy="120.9"/><circle cx="289.1" cy="125.2"/><circle cx="306.2" cy="109.4"/><circle cx="246.3" cy="161.8"/><circle cx="275.3" cy="133.6"/><circle cx="236.3" cy="159.8"/><circle cx="296.7" cy="107.8"/><circle cx="279.6" cy="140.1"/><circle cx="291.0" cy="117.3"/><circle cx="306.8" cy="104.5"/><circle cx="296.0" cy="127.2"/><circle cx="254.4" cy="161.5"/><circle cx="265.0" cy="146.5"/><circle cx="295.5" cy="104.6"/><circle cx="269.9" cy="150.0"/><circle cx="285.9" cy="124.6"/><circle cx="272.9" cy="133.9"/><circle cx="294.0" cy="123.1"/><circle cx="305.6" cy="116.8"/><circle cx="292.2" cy="124.6"/><circle cx="301.4" cy="101.9"/><circle cx="254.7" cy="157.3"/><circle cx="297.4" cy="105.8"/><circle cx="247.6" cy="149.5"/><circle cx="285.3" cy="123.7"/><circle cx="304.0" cy="106.4"/><circle cx="290.4" cy="117.4"/><circle cx="242.0" cy="166.4"/><circle cx="297.3" cy="102.2"/><circle cx="260.4" cy="141.8"/><circle cx="246.9" cy="159.2"/><circle cx="316.7" cy="101.2"/><circle cx="272.3" cy="146.9"/><circle cx="249.4" cy="160.3"/><circle cx="309.2" cy="112.3"/><circle cx="295.5" cy="128.6"/><circle cx="247.3" cy="162.8"/><circle cx="241.9" cy="169.5"/><circle cx="312.2" cy="103.6"/><circle cx="311.6" cy="97.5"/><circle cx="306.9" cy="100.0"/><circle cx="301.5" cy="108.5"/><circle cx="243.4" cy="166.9"/><circle cx="314.8" cy="106.9"/><circle cx="270.3" cy="154.4"/><circle cx="278.4" cy="151.7"/><circle cx="254.9" cy="158.5"/><circle cx="256.9" cy="146.4"/><circle cx="241.9" cy="169.1"/><circle cx="310.5" cy="98.0"/><circle cx="246.8" cy="168.1"/><circle cx="316.0" cy="96.6"/><circle cx="236.8" cy="160.4"/><circle cx="254.7" cy="149.7"/><circle cx="250.7" cy="169.6"/><circle cx="309.1" cy="96.4"/><circle cx="249.7" cy="159.9"/><circle cx="289.4" cy="110.6"/><circle cx="297.4" cy="111.6"/><circle cx="289.6" cy="111.9"/><circle cx="252.5" cy="155.6"/><circle cx="302.4" cy="109.3"/><circle cx="263.6" cy="151.0"/><circle cx="303.2" cy="101.7"/><circle cx="242.3" cy="165.4"/><circle cx="245.5" cy="168.1"/><circle cx="245.2" cy="161.8"/><circle cx="259.1" cy="161.9"/><circle cx="312.8" cy="104.5"/><circle cx="261.3" cy="151.3"/><circle cx="236.2" cy="166.4"/><circle cx="285.5" cy="132.2"/><circle cx="277.8" cy="130.1"/><circle cx="258.3" cy="155.2"/><circle cx="300.4" cy="123.0"/><circle cx="270.7" cy="138.7"/><circle cx="243.1" cy="174.8"/><circle cx="268.7" cy="146.1"/><circle cx="272.7" cy="146.2"/><circle cx="256.8" cy="147.1"/><circle cx="255.0" cy="161.5"/><circle cx="271.3" cy="131.2"/><circle cx="304.6" cy="101.7"/><circle cx="250.7" cy="153.0"/><circle cx="310.7" cy="106.1"/><circle cx="248.8" cy="168.2"/><circle cx="293.6" cy="131.5"/><circle cx="252.6" cy="166.7"/><circle cx="281.1" cy="117.0"/><circle cx="253.1" cy="140.5"/><circle cx="296.4" cy="121.7"/><circle cx="304.1" cy="108.4"/><circle cx="262.4" cy="152.1"/><circle cx="303.1" cy="109.3"/><circle cx="251.8" cy="147.9"/><circle cx="272.6" cy="135.4"/><circle cx="249.8" cy="169.3"/><circle cx="272.3" cy="137.7"/><circle cx="314.1" cy="102.5"/><circle cx="254.9" cy="161.8"/><circle cx="277.6" cy="135.5"/><circle cx="241.3" cy="163.5"/><circle cx="295.1" cy="116.3"/><circle cx="252.2" cy="148.3"/><circle cx="295.1" cy="111.2"/><circle cx="286.6" cy="122.2"/><circle cx="316.9" cy="102.1"/><circle cx="255.8" cy="155.5"/><circle cx="287.9" cy="111.8"/><circle cx="281.7" cy="120.3"/><circle cx="249.0" cy="168.8"/><circle cx="272.1" cy="124.6"/><circle cx="318.1" cy="103.3"/><circle cx="300.4" cy="104.8"/><circle cx="263.0" cy="142.7"/><circle cx="294.4" cy="132.4"/><circle cx="259.6" cy="140.5"/><circle cx="298.7" cy="111.9"/><circle cx="299.1" cy="119.9"/><circle cx="250.6" cy="155.9"/><circle cx="307.5" cy="120.6"/><circle cx="312.3" cy="99.1"/><circle cx="285.8" cy="121.2"/><circle cx="308.8" cy="116.0"/><circle cx="262.5" cy="139.1"/><circle cx="241.8" cy="158.4"/><circle cx="289.0" cy="111.6"/><circle cx="289.7" cy="107.5"/><circle cx="288.5" cy="125.2"/><circle cx="314.2" cy="111.4"/><circle cx="257.7" cy="165.2"/><circle cx="286.9" cy="137.7"/><circle cx="249.6" cy="165.1"/><circle cx="304.0" cy="112.7"/><circle cx="257.3" cy="155.5"/><circle cx="243.9" cy="158.0"/><circle cx="298.7" cy="107.1"/><circle cx="283.4" cy="138.1"/><circle cx="298.5" cy="128.7"/><circle cx="300.9" cy="108.7"/><circle cx="292.2" cy="107.8"/><circle cx="324.8" cy="107.7"/><circle cx="301.1" cy="107.4"/><circle cx="311.2" cy="106.4"/><circle cx="246.7" cy="154.0"/><circle cx="251.2" cy="172.2"/><circle cx="310.6" cy="108.7"/><circle cx="266.1" cy="132.6"/><circle cx="309.3" cy="113.0"/><circle cx="301.6" cy="101.5"/><circle cx="301.0" cy="124.2"/><circle cx="278.3" cy="143.9"/><circle cx="292.0" cy="120.7"/><circle cx="275.2" cy="123.4"/><circle cx="296.2" cy="120.1"/><circle cx="251.9" cy="172.6"/><circle cx="269.7" cy="154.2"/><circle cx="279.6" cy="130.2"/><circle cx="292.6" cy="130.3"/><circle cx="257.6" cy="140.9"/><circle cx="260.0" cy="142.8"/><circle cx="239.6" cy="159.4"/><circle cx="308.7" cy="104.7"/><circle cx="311.1" cy="103.9"/><circle cx="253.5" cy="146.5"/><circle cx="257.2" cy="147.0"/><circle cx="250.4" cy="164.5"/><circle cx="288.7" cy="115.3"/><circle cx="282.2" cy="116.1"/><circle cx="261.9" cy="135.6"/><circle cx="297.3" cy="108.3"/><circle cx="302.2" cy="110.5"/><circle cx="246.0" cy="169.0"/><circle cx="240.2" cy="163.6"/><circle cx="298.5" cy="128.8"/><circle cx="255.6" cy="138.5"/><circle cx="306.5" cy="104.2"/><circle cx="256.0" cy="161.0"/><circle cx="270.0" cy="153.2"/><circle cx="250.1" cy="163.3"/><circle cx="302.2" cy="103.8"/><circle cx="303.3" cy="100.8"/><circle cx="282.3" cy="117.6"/><circle cx="315.9" cy="98.2"/><circle cx="295.4" cy="120.8"/><circle cx="260.9" cy="160.3"/><circle cx="271.3" cy="148.6"/><circle cx="315.6" cy="116.7"/><circle cx="262.6" cy="146.3"/><circle cx="263.5" cy="148.1"/><circle cx="290.4" cy="113.3"/><circle cx="306.8" cy="110.2"/><circle cx="310.8" cy="101.5"/><circle cx="296.4" cy="126.1"/><circle cx="242.9" cy="157.0"/><circle cx="253.7" cy="156.2"/><circle cx="301.6" cy="109.3"/><circle cx="258.1" cy="140.6"/><circle cx="292.3" cy="108.5"/><circle cx="244.4" cy="161.8"/><circle cx="270.1" cy="141.3"/><circle cx="302.2" cy="120.4"/><circle cx="297.7" cy="126.0"/><circle cx="295.6" cy="108.9"/><circle cx="290.9" cy="107.8"/><circle cx="287.2" cy="122.1"/><circle cx="315.5" cy="99.6"/><circle cx="292.3" cy="127.9"/><circle cx="268.5" cy="156.3"/><circle cx="286.0" cy="116.3"/><circle cx="274.2" cy="142.8"/><circle cx="265.0" cy="143.6"/><circle cx="289.2" cy="109.1"/><circle cx="287.8" cy="116.3"/><circle cx="241.0" cy="164.1"/><circle cx="314.8" cy="104.4"/><circle cx="245.2" cy="164.0"/><circle cx="292.5" cy="114.2"/><circle cx="262.7" cy="153.6"/><circle cx="286.8" cy="128.1"/><circle cx="284.6" cy="126.9"/><circle cx="264.5" cy="134.1"/><circle cx="288.5" cy="109.1"/><circle cx="311.3" cy="106.3"/><circle cx="281.6" cy="129.9"/><circle cx="254.6" cy="166.1"/><circle cx="284.4" cy="131.0"/><circle cx="310.8" cy="99.6"/><circle cx="272.6" cy="145.1"/><circle cx="235.0" cy="165.8"/><circle cx="274.5" cy="141.6"/><circle cx="255.3" cy="147.3"/><circle cx="275.6" cy="123.1"/><circle cx="253.9" cy="162.5"/><circle cx="313.5" cy="97.9"/><circle cx="304.7" cy="106.4"/><circle cx="248.0" cy="173.2"/><circle cx="312.1" cy="100.5"/><circle cx="243.4" cy="164.4"/><circle cx="244.1" cy="174.6"/><circle cx="308.8" cy="115.0"/><circle cx="240.6" cy="168.3"/><circle cx="293.9" cy="122.8"/><circle cx="270.8" cy="134.5"/><circle cx="264.8" cy="156.8"/><circle cx="272.0" cy="149.2"/><circle cx="252.2" cy="157.3"/><circle cx="247.7" cy="158.9"/><circle cx="270.4" cy="141.6"/><circle cx="273.7" cy="136.3"/><circle cx="251.5" cy="157.8"/><circle cx="243.0" cy="171.5"/><circle cx="251.7" cy="162.5"/><circle cx="290.6" cy="112.0"/><circle cx="310.6" cy="102.7"/><circle cx="317.7" cy="99.9"/><circle cx="249.0" cy="151.7"/><circle cx="280.6" cy="141.7"/><circle cx="313.7" cy="99.4"/><circle cx="242.3" cy="151.8"/><circle cx="301.0" cy="95.8"/><circle cx="247.1" cy="167.6"/><circle cx="268.6" cy="131.8"/><circle cx="255.9" cy="136.6"/><circle cx="298.2" cy="116.8"/><circle cx="320.1" cy="103.2"/><circle cx="281.3" cy="137.2"/><circle cx="302.7" cy="96.1"/><circle cx="306.1" cy="101.2"/><circle cx="304.7" cy="117.8"/><circle cx="262.3" cy="139.3"/><circle cx="243.0" cy="169.3"/><circle cx="300.3" cy="116.3"/><circle cx="248.6" cy="156.2"/><circle cx="281.7" cy="140.3"/><circle cx="290.9" cy="123.1"/><circle cx="244.1" cy="169.0"/><circle cx="288.6" cy="131.8"/><circle cx="313.5" cy="103.3"/><circle cx="287.1" cy="119.5"/><circle cx="318.6" cy="106.0"/><circle cx="306.9" cy="118.6"/><circle cx="256.9" cy="137.2"/><circle cx="276.0" cy="140.5"/><circle cx="288.6" cy="128.3"/><circle cx="271.5" cy="136.9"/><circle cx="312.1" cy="106.9"/><circle cx="308.8" cy="99.5"/><circle cx="255.7" cy="150.1"/><circle cx="235.7" cy="160.9"/><circle cx="292.5" cy="120.7"/><circle cx="293.1" cy="120.6"/><circle cx="306.2" cy="109.5"/><circle cx="275.3" cy="148.7"/><circle cx="302.7" cy="102.1"/><circle cx="272.9" cy="148.7"/><circle cx="300.5" cy="114.8"/><circle cx="296.8" cy="116.7"/><circle cx="292.3" cy="106.1"/><circle cx="282.1" cy="122.4"/><circle cx="286.1" cy="129.8"/><circle cx="306.1" cy="109.2"/><circle cx="273.7" cy="138.2"/><circle cx="269.2" cy="141.2"/><circle cx="247.6" cy="153.4"/><circle cx="250.6" cy="166.1"/><circle cx="295.1" cy="110.7"/><circle cx="292.0" cy="122.7"/><circle cx="253.1" cy="159.6"/><circle cx="270.1" cy="156.4"/><circle cx="290.6" cy="124.0"/><circle cx="266.3" cy="147.3"/><circle cx="268.2" cy="131.5"/><circle cx="272.2" cy="134.4"/><circle cx="270.5" cy="137.3"/><circle cx="255.4" cy="155.3"/><circle cx="272.2" cy="151.1"/><circle cx="302.9" cy="117.5"/><circle cx="305.0" cy="121.1"/><circle cx="310.9" cy="104.8"/><circle cx="293.9" cy="118.5"/><circle cx="313.8" cy="108.4"/><circle cx="315.9" cy="108.4"/><circle cx="315.3" cy="105.2"/><circle cx="277.7" cy="133.1"/><circle cx="301.2" cy="107.2"/><circle cx="287.3" cy="118.8"/><circle cx="271.1" cy="139.9"/><circle cx="266.5" cy="149.9"/><circle cx="273.0" cy="135.6"/><circle cx="290.4" cy="118.9"/><circle cx="293.7" cy="108.5"/><circle cx="266.2" cy="153.6"/><circle cx="255.7" cy="158.2"/><circle cx="273.6" cy="143.6"/><circle cx="271.8" cy="146.3"/><circle cx="261.6" cy="135.5"/><circle cx="309.8" cy="108.2"/><circle cx="302.7" cy="102.7"/><circle cx="246.7" cy="172.7"/><circle cx="272.3" cy="149.9"/><circle cx="256.6" cy="146.8"/><circle cx="304.5" cy="95.9"/><circle cx="314.2" cy="94.4"/><circle cx="281.1" cy="126.1"/><circle cx="253.1" cy="166.5"/><circle cx="244.9" cy="167.1"/><circle cx="280.8" cy="138.8"/><circle cx="284.8" cy="125.9"/><circle cx="245.6" cy="164.4"/><circle cx="293.4" cy="125.0"/><circle cx="237.1" cy="164.0"/><circle cx="298.7" cy="109.2"/><circle cx="243.5" cy="168.3"/><circle cx="297.2" cy="116.1"/><circle cx="297.0" cy="112.5"/><circle cx="258.2" cy="155.2"/><circle cx="246.8" cy="145.7"/><circle cx="278.6" cy="133.1"/><circle cx="247.1" cy="169.6"/><circle cx="265.8" cy="132.0"/><circle cx="303.6" cy="124.8"/><circle cx="313.9" cy="113.1"/><circle cx="269.2" cy="138.9"/><circle cx="246.3" cy="154.8"/><circle cx="257.2" cy="169.0"/><circle cx="255.6" cy="154.5"/><circle cx="262.6" cy="158.1"/><circle cx="319.1" cy="102.6"/><circle cx="319.0" cy="100.7"/><circle cx="272.4" cy="128.9"/><circle cx="304.3" cy="99.9"/><circle cx="312.7" cy="101.2"/><circle cx="252.5" cy="154.1"/><circle cx="251.1" cy="149.8"/><circle cx="300.2" cy="108.1"/><circle cx="260.5" cy="153.2"/><circle cx="268.6" cy="154.3"/><circle cx="265.5" cy="129.8"/><circle cx="268.7" cy="150.2"/><circle cx="253.9" cy="145.5"/><circle cx="243.6" cy="168.5"/><circle cx="293.5" cy="132.0"/><circle cx="287.4" cy="124.1"/><circle cx="275.6" cy="139.8"/><circle cx="271.7" cy="131.8"/><circle cx="263.0" cy="140.0"/><circle cx="309.5" cy="104.1"/><circle cx="255.6" cy="161.7"/><circle cx="246.4" cy="158.0"/><circle cx="314.0" cy="101.8"/><circle cx="260.5" cy="150.4"/><circle cx="258.3" cy="141.1"/><circle cx="264.4" cy="137.5"/><circle cx="289.5" cy="109.4"/><circle cx="291.6" cy="111.1"/><circle cx="310.6" cy="106.9"/><circle cx="247.6" cy="148.5"/><circle cx="303.2" cy="111.5"/><circle cx="236.8" cy="163.3"/><circle cx="309.5" cy="96.7"/><circle cx="304.9" cy="114.0"/><circle cx="313.3" cy="110.4"/><circle cx="268.6" cy="143.3"/><circle cx="255.4" cy="147.7"/><circle cx="254.2" cy="142.7"/><circle cx="259.5" cy="147.8"/><circle cx="304.9" cy="123.1"/><circle cx="275.5" cy="134.1"/><circle cx="314.1" cy="110.6"/><circle cx="263.0" cy="147.0"/><circle cx="234.6" cy="165.5"/><circle cx="240.9" cy="166.1"/><circle cx="301.8" cy="106.3"/><circle cx="278.5" cy="121.9"/><circle cx="306.3" cy="105.4"/><circle cx="256.9" cy="159.2"/><circle cx="263.6" cy="140.1"/><circle cx="301.8" cy="119.9"/><circle cx="276.0" cy="130.0"/><circle cx="296.9" cy="124.2"/><circle cx="300.6" cy="105.4"/><circle cx="257.2" cy="158.9"/><circle cx="245.0" cy="161.6"/><circle cx="304.1" cy="107.2"/><circle cx="266.4" cy="132.3"/><circle cx="304.6" cy="119.7"/><circle cx="312.4" cy="93.2"/><circle cx="251.0" cy="165.1"/><circle cx="255.8" cy="146.2"/><circle cx="312.3" cy="93.5"/><circle cx="271.8" cy="149.4"/><circle cx="304.4" cy="98.7"/><circle cx="280.8" cy="118.6"/><circle cx="289.1" cy="126.1"/><circle cx="244.4" cy="167.2"/><circle cx="239.6" cy="160.6"/><circle cx="299.9" cy="121.1"/><circle cx="301.0" cy="120.4"/><circle cx="256.6" cy="142.5"/><circle cx="287.4" cy="113.5"/><circle cx="312.2" cy="108.7"/><circle cx="253.3" cy="167.3"/><circle cx="269.0" cy="130.9"/><circle cx="312.6" cy="110.4"/><circle cx="251.2" cy="166.8"/><circle cx="268.5" cy="151.5"/><circle cx="291.3" cy="112.3"/><circle cx="308.4" cy="104.2"/><circle cx="297.1" cy="109.6"/><circle cx="239.7" cy="167.3"/><circle cx="275.6" cy="144.0"/><circle cx="249.1" cy="155.8"/><circle cx="242.3" cy="165.9"/><circle cx="275.0" cy="147.1"/><circle cx="257.6" cy="139.7"/><circle cx="292.8" cy="109.7"/><circle cx="278.1" cy="129.1"/><circle cx="261.4" cy="149.2"/><circle cx="280.4" cy="131.4"/><circle cx="264.3" cy="144.2"/><circle cx="266.6" cy="150.9"/><circle cx="291.7" cy="113.3"/><circle cx="247.9" cy="156.6"/><circle cx="242.1" cy="171.7"/><circle cx="235.3" cy="166.5"/><circle cx="270.6" cy="152.4"/><circle cx="274.9" cy="134.3"/><circle cx="314.3" cy="97.3"/><circle cx="308.9" cy="94.7"/><circle cx="249.6" cy="157.1"/><circle cx="295.3" cy="122.2"/><circle cx="236.4" cy="166.6"/><circle cx="292.5" cy="121.5"/><circle cx="318.8" cy="99.5"/><circle cx="292.2" cy="132.3"/><circle cx="295.9" cy="122.8"/><circle cx="289.1" cy="123.9"/><circle cx="237.3" cy="167.9"/><circle cx="257.0" cy="145.8"/><circle cx="267.0" cy="131.7"/><circle cx="285.4" cy="137.8"/><circle cx="276.1" cy="124.8"/><circle cx="296.7" cy="126.3"/><circle cx="272.0" cy="136.0"/><circle cx="262.4" cy="151.3"/><circle cx="291.4" cy="117.0"/><circle cx="245.8" cy="169.2"/><circle cx="246.9" cy="168.7"/><circle cx="284.6" cy="143.4"/><circle cx="276.1" cy="150.2"/><circle cx="258.6" cy="146.6"/><circle cx="267.2" cy="153.7"/><circle cx="304.7" cy="111.4"/><circle cx="291.3" cy="128.4"/><circle cx="236.3" cy="165.0"/><circle cx="254.8" cy="149.2"/><circle cx="275.6" cy="141.2"/><circle cx="264.6" cy="159.7"/><circle cx="277.5" cy="145.5"/><circle cx="281.6" cy="139.6"/><circle cx="249.2" cy="163.7"/><circle cx="263.3" cy="138.9"/><circle cx="276.3" cy="130.8"/><circle cx="269.6" cy="131.6"/><circle cx="293.4" cy="130.2"/><circle cx="266.2" cy="143.7"/><circle cx="263.4" cy="141.2"/><circle cx="264.9" cy="128.7"/><circle cx="301.3" cy="108.2"/><circle cx="306.9" cy="97.7"/><circle cx="279.8" cy="127.7"/><circle cx="296.8" cy="113.1"/><circle cx="271.2" cy="129.7"/><circle cx="292.7" cy="116.7"/><circle cx="277.8" cy="139.7"/><circle cx="279.1" cy="133.9"/><circle cx="294.8" cy="118.4"/><circle cx="314.2" cy="109.3"/><circle cx="263.3" cy="146.6"/><circle cx="307.9" cy="91.7"/><circle cx="289.8" cy="131.1"/><circle cx="239.7" cy="167.1"/><circle cx="266.9" cy="132.5"/><circle cx="315.0" cy="98.8"/><circle cx="255.6" cy="152.6"/><circle cx="294.1" cy="117.2"/><circle cx="301.9" cy="108.2"/><circle cx="290.6" cy="126.7"/><circle cx="277.2" cy="124.5"/><circle cx="316.8" cy="106.3"/><circle cx="241.1" cy="161.6"/><circle cx="274.5" cy="154.1"/><circle cx="314.8" cy="94.5"/><circle cx="309.4" cy="95.3"/><circle cx="235.9" cy="162.1"/><circle cx="275.7" cy="137.9"/><circle cx="272.9" cy="128.4"/><circle cx="243.8" cy="159.2"/><circle cx="241.2" cy="157.3"/><circle cx="241.1" cy="154.7"/><circle cx="244.7" cy="163.1"/><circle cx="250.0" cy="158.0"/><circle cx="252.0" cy="144.8"/><circle cx="300.1" cy="106.6"/><circle cx="257.5" cy="165.6"/><circle cx="285.6" cy="111.9"/><circle cx="296.9" cy="108.1"/><circle cx="317.6" cy="104.1"/><circle cx="249.7" cy="149.8"/><circle cx="287.6" cy="124.8"/><circle cx="243.4" cy="164.2"/><circle cx="240.2" cy="156.3"/><circle cx="300.0" cy="110.4"/><circle cx="306.6" cy="108.4"/><circle cx="315.3" cy="100.0"/><circle cx="310.3" cy="95.1"/><circle cx="263.4" cy="146.2"/><circle cx="281.0" cy="132.6"/><circle cx="315.5" cy="96.4"/><circle cx="301.2" cy="126.0"/><circle cx="258.2" cy="155.7"/><circle cx="249.7" cy="151.1"/><circle cx="284.1" cy="142.3"/><circle cx="264.4" cy="137.2"/><circle cx="311.9" cy="112.1"/><circle cx="284.7" cy="125.3"/><circle cx="272.9" cy="121.6"/><circle cx="261.1" cy="152.4"/><circle cx="279.7" cy="123.3"/><circle cx="274.2" cy="127.4"/><circle cx="278.0" cy="141.9"/><circle cx="273.4" cy="149.0"/><circle cx="289.5" cy="135.8"/><circle cx="273.2" cy="131.9"/><circle cx="245.3" cy="174.5"/><circle cx="251.9" cy="158.1"/><circle cx="248.7" cy="170.3"/><circle cx="266.9" cy="131.5"/><circle cx="317.8" cy="104.3"/><circle cx="307.4" cy="97.7"/><circle cx="269.2" cy="139.0"/><circle cx="313.3" cy="97.3"/><circle cx="255.1" cy="152.4"/><circle cx="272.7" cy="146.0"/><circle cx="304.4" cy="99.5"/><circle cx="283.8" cy="138.6"/><circle cx="264.0" cy="157.6"/><circle cx="288.7" cy="126.4"/><circle cx="254.1" cy="158.5"/><circle cx="289.1" cy="134.3"/><circle cx="268.6" cy="145.9"/><circle cx="269.3" cy="161.6"/><circle cx="245.6" cy="154.4"/><circle cx="285.7" cy="133.6"/><circle cx="295.5" cy="115.3"/><circle cx="293.9" cy="110.6"/><circle cx="251.6" cy="151.4"/><circle cx="269.2" cy="151.3"/><circle cx="257.7" cy="154.5"/><circle cx="290.8" cy="115.9"/></g><g fill="#8c564b" stroke="#8c564b" fill-opacity="0.5" stroke-opacity="0.5" stroke-width="0.9"><circle cx="359.2" cy="48.9"/><circle cx="356.8" cy="49.3"/><circle cx="317.1" cy="80.2"/><circle cx="359.3" cy="49.4"/><circle cx="344.2" cy="60.4"/><circle cx="349.4" cy="54.4"/><circle cx="337.8" cy="60.8"/><circle cx="343.6" cy="53.3"/><circle cx="335.1" cy="74.6"/><circle cx="331.3" cy="67.8"/><circle cx="363.1" cy="41.2"/><circle cx="358.9" cy="44.7"/><circle cx="335.3" cy="68.3"/><circle cx="360.3" cy="35.4"/><circle cx="341.6" cy="63.1"/><circle cx="355.1" cy="44.4"/><circle cx="311.3" cy="100.0"/><circle cx="325.4" cy="88.8"/><circle cx="330.5" cy="81.4"/><circle cx="338.3" cy="64.3"/><circle cx="354.4" cy="48.0"/><circle cx="312.8" cy="92.9"/><circle cx="336.4" cy="76.5"/><circle cx="317.1" cy="93.7"/><circle cx="343.5" cy="60.1"/><circle cx="307.0" cy="96.1"/><circle cx="337.7" cy="63.3"/><circle cx="327.8" cy="79.4"/><circle cx="331.1" cy="78.2"/><circle cx="354.4" cy="59.1"/><circle cx="335.3" cy="72.5"/><circle cx="316.0" cy="83.4"/><circle cx="326.7" cy="80.0"/><circle cx="328.0" cy="80.7"/><circle cx="351.5" cy="49.9"/><circle cx="313.7" cy="76.2"/><circle cx="367.4" cy="38.2"/><circle cx="346.0" cy="64.3"/><circle cx="366.1" cy="48.6"/><circle cx="340.5" cy="76.6"/><circle cx="332.5" cy="69.7"/><circle cx="344.9" cy="56.7"/><circle cx="364.8" cy="42.1"/><circle cx="356.3" cy="43.9"/><circle cx="324.9" cy="77.1"/><circle cx="315.8" cy="95.3"/><circle cx="322.1" cy="82.1"/><circle cx="305.8" cy="96.7"/><circle cx="365.2" cy="48.1"/><circle cx="367.2" cy="36.1"/><circle cx="359.7" cy="42.5"/><circle cx="372.5" cy="43.0"/><circle cx="329.8" cy="59.5"/><circle cx="341.5" cy="55.4"/><circle cx="358.4" cy="30.1"/><circle cx="341.5" cy="72.0"/><circle cx="366.3" cy="36.4"/><circle cx="328.0" cy="69.8"/><circle cx="334.5" cy="73.2"/><circle cx="306.2" cy="89.0"/><circle cx="330.5" cy="81.3"/><circle cx="314.7" cy="92.0"/><circle cx="363.8" cy="41.3"/><circle cx="325.9" cy="89.7"/><circle cx="341.0" cy="64.7"/><circle cx="332.2" cy="72.7"/><circle cx="351.7" cy="59.0"/><circle cx="345.9" cy="61.2"/><circle cx="324.6" cy="75.0"/><circle cx="307.9" cy="94.3"/><circle cx="314.4" cy="89.5"/><circle cx="308.8" cy="94.1"/><circle cx="312.2" cy="86.8"/><circle cx="321.7" cy="85.2"/><circle cx="324.9" cy="85.0"/><circle cx="355.0" cy="47.3"/><circle cx="350.6" cy="51.7"/><circle cx="328.7" cy="80.5"/><circle cx="341.1" cy="61.4"/><circle cx="309.3" cy="95.9"/><circle cx="347.0" cy="49.2"/><circle cx="362.8" cy="46.5"/><circle cx="315.2" cy="83.7"/><circle cx="346.4" cy="58.5"/><circle cx="332.5" cy="81.0"/><circle cx="346.4" cy="49.7"/><circle cx="315.2" cy="88.1"/><circle cx="356.5" cy="45.4"/><circle cx="353.9" cy="57.1"/><circle cx="361.4" cy="34.8"/><circle cx="338.5" cy="72.4"/><circle cx="335.3" cy="76.0"/><circle cx="323.8" cy="82.2"/><circle cx="332.7" cy="65.9"/><circle cx="319.1" cy="86.8"/><circle cx="352.0" cy="50.4"/><circle cx="367.2" cy="41.8"/><circle cx="350.5" cy="46.3"/><circle cx="335.1" cy="71.7"/><circle cx="338.5" cy="61.8"/><circle cx="336.2" cy="49.1"/><circle cx="328.1" cy="75.7"/><circle cx="340.1" cy="70.7"/><circle cx="362.4" cy="50.5"/><circle cx="333.0" cy="77.9"/><circle cx="315.0" cy="97.4"/><circle cx="343.2" cy="59.0"/><circle cx="314.8" cy="83.7"/><circle cx="336.3" cy="68.1"/><circle cx="342.2" cy="63.8"/><circle cx="309.2" cy="94.2"/><circle cx="360.1" cy="48.7"/><circle cx="325.4" cy="81.5"/><circle cx="362.3" cy="33.3"/><circle cx="306.7" cy="93.6"/><circle cx="322.2" cy="85.8"/><circle cx="341.2" cy="65.4"/><circle cx="343.6" cy="63.5"/><circle cx="307.9" cy="97.6"/><circle cx="336.6" cy="57.7"/><circle cx="349.9" cy="53.0"/><circle cx="345.8" cy="65.7"/><circle cx="323.0" cy="76.0"/><circle cx="323.2" cy="75.8"/><circle cx="309.1" cy="91.2"/><circle cx="323.1" cy="77.4"/><circle cx="324.2" cy="83.6"/><circle cx="360.2" cy="49.9"/><circle cx="322.5" cy="79.9"/><circle cx="355.6" cy="49.5"/><circle cx="332.2" cy="71.8"/><circle cx="332.9" cy="63.3"/><circle cx="343.4" cy="72.2"/><circle cx="327.4" cy="88.4"/><circle cx="321.5" cy="93.1"/><circle cx="338.0" cy="70.9"/><circle cx="325.9" cy="80.3"/><circle cx="365.1" cy="34.9"/><circle cx="320.0" cy="90.9"/><circle cx="335.7" cy="61.4"/><circle cx="347.0" cy="58.8"/><circle cx="343.3" cy="55.7"/><circle cx="349.3" cy="42.6"/><circle cx="315.2" cy="84.5"/><circle cx="334.4" cy="72.1"/><circle cx="323.0" cy="83.2"/><circle cx="307.7" cy="96.7"/><circle cx="356.6" cy="40.4"/><circle cx="366.8" cy="44.0"/><circle cx="368.9" cy="41.3"/><circle cx="335.6" cy="72.6"/><circle cx="319.9" cy="79.6"/><circle cx="351.7" cy="50.1"/><circle cx="326.7" cy="79.3"/><circle cx="364.1" cy="48.7"/><circle cx="368.4" cy="43.9"/><circle cx="312.3" cy="92.4"/><circle cx="332.3" cy="79.3"/><circle cx="351.0" cy="45.6"/><circle cx="347.1" cy="62.4"/><circle cx="328.3" cy="75.8"/><circle cx="355.1" cy="42.8"/><circle cx="308.6" cy="95.3"/><circle cx="366.1" cy="36.4"/><circle cx="338.3" cy="51.5"/><circle cx="315.4" cy="91.6"/><circle cx="343.5" cy="57.6"/><circle cx="314.3" cy="94.2"/><circle cx="351.8" cy="44.3"/><circle cx="342.1" cy="53.6"/><circle cx="349.7" cy="45.3"/><circle cx="345.6" cy="56.2"/><circle cx="363.2" cy="32.0"/><circle cx="335.9" cy="75.0"/><circle cx="361.5" cy="43.8"/><circle cx="326.7" cy="74.5"/><circle cx="336.8" cy="81.4"/><circle cx="337.7" cy="76.8"/><circle cx="323.3" cy="78.0"/><circle cx="330.7" cy="73.1"/><circle cx="342.2" cy="63.6"/><circle cx="338.6" cy="67.1"/><circle cx="360.2" cy="31.2"/><circle cx="339.5" cy="61.7"/><circle cx="358.5" cy="46.9"/><circle cx="328.6" cy="85.6"/><circle cx="323.5" cy="81.4"/><circle cx="321.7" cy="91.1"/><circle cx="338.6" cy="67.0"/><circle cx="358.0" cy="50.3"/><circle cx="333.3" cy="63.3"/><circle cx="351.6" cy="56.6"/><circle cx="310.9" cy="96.3"/><circle cx="321.6" cy="75.5"/><circle cx="373.3" cy="45.2"/><circle cx="358.5" cy="48.0"/><circle cx="331.9" cy="82.9"/><circle cx="352.5" cy="39.2"/><circle cx="352.1" cy="48.2"/><circle cx="362.9" cy="40.1"/><circle cx="335.8" cy="67.6"/><circle cx="341.5" cy="57.3"/><circle cx="310.4" cy="93.1"/><circle cx="320.4" cy="84.7"/><circle cx="348.7" cy="48.0"/><circle cx="350.5" cy="50.0"/><circle cx="307.4" cy="88.1"/><circle cx="312.5" cy="100.4"/><circle cx="340.3" cy="65.9"/><circle cx="332.6" cy="67.1"/><circle cx="344.7" cy="53.3"/><circle cx="312.0" cy="97.6"/><circle cx="318.5" cy="79.4"/><circle cx="316.3" cy="84.2"/><circle cx="330.8" cy="62.8"/><circle cx="349.6" cy="55.4"/><circle cx="356.0" cy="37.8"/><circle cx="314.6" cy="92.2"/><circle cx="307.1" cy="97.8"/><circle cx="360.2" cy="36.4"/><circle cx="309.0" cy="100.3"/><circle cx="352.0" cy="53.2"/><circle cx="305.9" cy="91.0"/><circle cx="355.3" cy="54.2"/><circle cx="350.4" cy="48.8"/><circle cx="340.3" cy="54.4"/><circle cx="329.7" cy="65.4"/><circle cx="343.4" cy="61.4"/><circle cx="313.5" cy="98.8"/><circle cx="333.8" cy="63.4"/><circle cx="367.1" cy="38.9"/><circle cx="336.8" cy="67.4"/><circle cx="330.4" cy="79.0"/><circle cx="343.5" cy="69.4"/><circle cx="314.7" cy="95.3"/><circle cx="319.8" cy="87.7"/><circle cx="346.7" cy="68.7"/><circle cx="342.3" cy="51.9"/><circle cx="328.9" cy="77.8"/><circle cx="340.9" cy="52.1"/><circle cx="343.6" cy="52.4"/><circle cx="339.5" cy="68.3"/><circle cx="323.9" cy="81.9"/><circle cx="321.9" cy="86.6"/><circle cx="316.2" cy="90.3"/><circle cx="315.3" cy="90.6"/><circle cx="322.2" cy="81.2"/><circle cx="359.3" cy="40.2"/><circle cx="344.7" cy="58.0"/><circle cx="342.5" cy="65.5"/><circle cx="342.2" cy="71.8"/><circle cx="311.4" cy="94.2"/><circle cx="309.3" cy="98.9"/><circle cx="325.4" cy="75.9"/><circle cx="338.5" cy="69.7"/><circle cx="335.2" cy="67.7"/><circle cx="359.2" cy="50.4"/><circle cx="365.3" cy="34.1"/><circle cx="334.6" cy="71.7"/><circle cx="323.3" cy="79.8"/><circle cx="345.7" cy="39.6"/><circle cx="330.5" cy="69.3"/><circle cx="321.3" cy="85.2"/><circle cx="312.6" cy="92.4"/><circle cx="311.7" cy="94.9"/><circle cx="354.6" cy="48.6"/><circle cx="355.1" cy="47.4"/><circle cx="358.2" cy="44.4"/><circle cx="339.8" cy="64.4"/><circle cx="351.4" cy="44.7"/><circle cx="327.7" cy="71.4"/><circle cx="341.9" cy="50.2"/><circle cx="328.9" cy="73.1"/><circle cx="362.5" cy="36.6"/><circle cx="309.9" cy="82.9"/><circle cx="320.0" cy="94.3"/><circle cx="358.2" cy="43.0"/><circle cx="353.0" cy="46.7"/><circle cx="328.8" cy="72.2"/><circle cx="347.1" cy="60.7"/><circle cx="323.2" cy="84.7"/><circle cx="319.7" cy="94.8"/><circle cx="333.8" cy="74.1"/><circle cx="356.5" cy="59.4"/><circle cx="353.5" cy="44.0"/><circle cx="318.0" cy="89.3"/><circle cx="369.8" cy="39.7"/><circle cx="313.3" cy="85.0"/><circle cx="310.4" cy="96.6"/><circle cx="360.7" cy="48.9"/><circle cx="341.3" cy="59.7"/><circle cx="349.7" cy="57.0"/><circle cx="344.5" cy="71.7"/><circle cx="317.0" cy="88.8"/><circle cx="356.9" cy="35.0"/><circle cx="318.4" cy="97.7"/><circle cx="338.2" cy="68.9"/><circle cx="323.6" cy="77.8"/><circle cx="307.4" cy="98.2"/><circle cx="328.4" cy="71.2"/><circle cx="360.0" cy="44.4"/><circle cx="359.4" cy="33.7"/><circle cx="362.6" cy="39.7"/><circle cx="324.7" cy="81.4"/><circle cx="349.0" cy="51.8"/><circle cx="366.3" cy="38.0"/><circle cx="334.2" cy="72.4"/><circle cx="346.7" cy="60.0"/><circle cx="334.5" cy="75.2"/><circle cx="339.9" cy="69.0"/><circle cx="332.4" cy="80.7"/><circle cx="361.7" cy="36.8"/><circle cx="330.7" cy="72.3"/><circle cx="353.5" cy="62.9"/><circle cx="344.3" cy="62.5"/><circle cx="315.8" cy="90.4"/><circle cx="328.1" cy="83.3"/><circle cx="330.2" cy="72.3"/><circle cx="322.5" cy="86.8"/><circle cx="353.4" cy="49.7"/><circle cx="339.6" cy="70.7"/><circle cx="346.1" cy="56.4"/><circle cx="361.8" cy="39.7"/><circle cx="352.4" cy="34.5"/><circle cx="308.9" cy="89.2"/><circle cx="366.4" cy="34.6"/><circle cx="334.8" cy="69.5"/><circle cx="331.1" cy="73.5"/><circle cx="354.5" cy="46.9"/><circle cx="361.6" cy="56.0"/><circle cx="340.1" cy="64.4"/><circle cx="348.2" cy="51.2"/><circle cx="309.9" cy="97.0"/><circle cx="361.6" cy="49.5"/><circle cx="335.1" cy="78.9"/><circle cx="332.3" cy="83.7"/><circle cx="307.6" cy="90.4"/><circle cx="322.5" cy="78.9"/><circle cx="317.6" cy="80.8"/><circle cx="358.3" cy="46.7"/><circle cx="356.1" cy="52.2"/><circle cx="367.6" cy="46.0"/><circle cx="343.0" cy="58.6"/><circle cx="371.8" cy="40.7"/><circle cx="357.4" cy="51.2"/><circle cx="314.5" cy="85.2"/><circle cx="317.1" cy="80.5"/><circle cx="357.6" cy="47.2"/><circle cx="308.8" cy="93.5"/><circle cx="345.4" cy="57.5"/><circle cx="331.5" cy="70.5"/><circle cx="360.1" cy="51.8"/><circle cx="357.3" cy="43.7"/><circle cx="316.1" cy="88.9"/><circle cx="364.1" cy="35.4"/><circle cx="344.2" cy="57.2"/><circle cx="320.1" cy="85.2"/><circle cx="321.9" cy="80.7"/><circle cx="314.6" cy="96.4"/><circle cx="336.7" cy="65.5"/><circle cx="370.3" cy="38.3"/><circle cx="364.8" cy="36.7"/><circle cx="356.4" cy="49.7"/><circle cx="365.0" cy="42.4"/><circle cx="325.7" cy="83.2"/><circle cx="350.0" cy="57.3"/><circle cx="330.6" cy="69.4"/><circle cx="366.3" cy="41.2"/><circle cx="308.1" cy="97.0"/><circle cx="339.1" cy="61.8"/><circle cx="307.3" cy="87.4"/><circle cx="315.0" cy="85.8"/><circle cx="312.2" cy="99.9"/><circle cx="348.2" cy="63.1"/><circle cx="318.7" cy="86.9"/><circle cx="312.2" cy="91.8"/><circle cx="338.7" cy="69.6"/><circle cx="357.0" cy="39.0"/><circle cx="337.3" cy="78.8"/><circle cx="327.9" cy="89.5"/><circle cx="341.3" cy="67.5"/><circle cx="308.2" cy="95.5"/><circle cx="343.5" cy="54.3"/><circle cx="346.1" cy="57.0"/><circle cx="330.9" cy="64.9"/><circle cx="347.5" cy="52.8"/><circle cx="342.6" cy="62.3"/><circle cx="350.3" cy="42.4"/><circle cx="349.2" cy="51.8"/><circle cx="368.8" cy="38.9"/><circle cx="359.9" cy="40.4"/><circle cx="323.4" cy="88.5"/><circle cx="345.5" cy="50.8"/><circle cx="325.0" cy="81.9"/><circle cx="329.6" cy="86.0"/><circle cx="342.9" cy="52.4"/><circle cx="362.1" cy="37.4"/><circle cx="363.7" cy="42.2"/><circle cx="324.2" cy="80.3"/><circle cx="346.7" cy="52.3"/><circle cx="352.7" cy="50.6"/><circle cx="354.1" cy="47.2"/><circle cx="336.5" cy="60.9"/><circle cx="358.9" cy="46.6"/><circle cx="324.1" cy="81.4"/><circle cx="351.0" cy="39.5"/><circle cx="364.2" cy="40.1"/><circle cx="330.3" cy="78.7"/><circle cx="311.3" cy="94.9"/><circle cx="346.5" cy="50.4"/><circle cx="315.0" cy="95.8"/><circle cx="338.3" cy="67.3"/><circle cx="363.3" cy="43.3"/><circle cx="346.9" cy="44.6"/><circle cx="362.3" cy="30.8"/><circle cx="313.1" cy="91.5"/><circle cx="336.5" cy="60.4"/><circle cx="355.5" cy="56.7"/><circle cx="317.3" cy="93.2"/><circle cx="318.2" cy="86.1"/><circle cx="347.2" cy="47.3"/><circle cx="330.9" cy="82.9"/><circle cx="316.0" cy="88.4"/><circle cx="352.2" cy="52.9"/><circle cx="314.1" cy="94.0"/><circle cx="316.3" cy="89.3"/><circle cx="312.2" cy="100.7"/><circle cx="358.2" cy="34.0"/><circle cx="327.0" cy="81.6"/><circle cx="315.6" cy="88.7"/><circle cx="359.0" cy="51.3"/><circle cx="355.2" cy="52.6"/><circle cx="314.6" cy="101.8"/><circle cx="307.1" cy="91.8"/><circle cx="351.7" cy="32.5"/><circle cx="307.7" cy="99.0"/><circle cx="361.2" cy="38.6"/><circle cx="353.2" cy="35.4"/><circle cx="333.8" cy="74.6"/><circle cx="313.7" cy="91.2"/><circle cx="337.5" cy="71.0"/><circle cx="341.3" cy="57.1"/><circle cx="351.1" cy="48.9"/><circle cx="318.1" cy="81.3"/><circle cx="357.2" cy="38.0"/><circle cx="369.9" cy="39.5"/><circle cx="352.7" cy="54.4"/><circle cx="339.9" cy="62.6"/><circle cx="332.2" cy="68.6"/><circle cx="357.1" cy="46.2"/><circle cx="358.5" cy="39.5"/><circle cx="321.2" cy="79.6"/><circle cx="317.8" cy="90.6"/><circle cx="313.3" cy="92.8"/><circle cx="331.2" cy="76.0"/><circle cx="333.8" cy="77.8"/><circle cx="340.2" cy="56.8"/><circle cx="325.6" cy="68.1"/><circle cx="345.5" cy="59.1"/><circle cx="319.5" cy="75.8"/><circle cx="357.9" cy="32.8"/><circle cx="343.7" cy="63.7"/><circle cx="345.0" cy="60.6"/><circle cx="359.0" cy="47.1"/><circle cx="345.2" cy="51.7"/><circle cx="324.9" cy="72.1"/><circle cx="321.8" cy="86.6"/><circle cx="315.4" cy="99.3"/><circle cx="326.5" cy="78.1"/><circle cx="308.8" cy="90.7"/><circle cx="339.7" cy="61.5"/><circle cx="314.1" cy="92.1"/><circle cx="366.6" cy="46.9"/><circle cx="310.3" cy="92.7"/><circle cx="363.5" cy="40.7"/><circle cx="323.4" cy="81.7"/><circle cx="351.2" cy="50.8"/><circle cx="327.9" cy="79.7"/><circle cx="351.3" cy="57.9"/><circle cx="342.1" cy="60.7"/><circle cx="307.6" cy="96.1"/><circle cx="345.5" cy="46.1"/><circle cx="349.1" cy="55.8"/><circle cx="348.8" cy="61.2"/><circle cx="328.4" cy="64.7"/><circle cx="347.3" cy="48.7"/><circle cx="363.3" cy="44.1"/><circle cx="355.2" cy="49.2"/><circle cx="320.7" cy="84.4"/><circle cx="339.9" cy="54.4"/><circle cx="331.8" cy="72.7"/><circle cx="307.7" cy="90.9"/><circle cx="322.6" cy="81.3"/><circle cx="314.8" cy="95.5"/><circle cx="348.8" cy="52.8"/><circle cx="322.8" cy="92.4"/><circle cx="346.1" cy="61.3"/><circle cx="318.2" cy="84.0"/><circle cx="335.9" cy="73.2"/><circle cx="362.3" cy="42.1"/><circle cx="369.4" cy="41.3"/><circle cx="355.0" cy="47.5"/><circle cx="363.2" cy="50.8"/><circle cx="334.4" cy="72.0"/><circle cx="334.9" cy="64.4"/><circle cx="357.0" cy="49.2"/><circle cx="347.8" cy="49.2"/><circle cx="334.6" cy="67.0"/><circle cx="328.0" cy="72.9"/><circle cx="332.8" cy="76.0"/><circle cx="366.0" cy="36.3"/><circle cx="355.0" cy="54.6"/><circle cx="317.8" cy="92.3"/><circle cx="322.2" cy="86.2"/><circle cx="311.3" cy="92.1"/><circle cx="355.3" cy="36.1"/><circle cx="370.8" cy="40.5"/><circle cx="336.1" cy="58.4"/><circle cx="329.5" cy="89.0"/><circle cx="330.0" cy="87.1"/><circle cx="329.1" cy="64.8"/><circle cx="304.9" cy="95.4"/><circle cx="329.8" cy="73.7"/><circle cx="357.8" cy="43.0"/><circle cx="323.3" cy="81.8"/><circle cx="319.9" cy="98.4"/><circle cx="316.0" cy="86.0"/><circle cx="311.8" cy="97.4"/><circle cx="328.5" cy="89.0"/><circle cx="332.4" cy="68.9"/><circle cx="348.6" cy="49.6"/><circle cx="328.9" cy="67.6"/><circle cx="310.4" cy="90.1"/><circle cx="357.3" cy="47.0"/><circle cx="357.5" cy="40.1"/><circle cx="346.8" cy="56.7"/><circle cx="347.7" cy="54.4"/><circle cx="326.6" cy="66.8"/><circle cx="358.6" cy="45.9"/><circle cx="340.0" cy="79.1"/><circle cx="329.6" cy="77.8"/><circle cx="320.2" cy="94.4"/><circle cx="327.8" cy="83.2"/><circle cx="307.8" cy="90.9"/><circle cx="339.4" cy="61.6"/><circle cx="352.4" cy="55.7"/><circle cx="354.0" cy="49.9"/><circle cx="310.7" cy="90.1"/><circle cx="321.9" cy="82.4"/><circle cx="352.9" cy="37.7"/><circle cx="365.3" cy="43.8"/><circle cx="357.8" cy="42.8"/><circle cx="328.9" cy="75.1"/><circle cx="333.9" cy="75.9"/><circle cx="326.4" cy="76.6"/><circle cx="326.9" cy="73.8"/><circle cx="327.4" cy="70.2"/><circle cx="317.3" cy="100.1"/><circle cx="329.5" cy="74.3"/><circle cx="335.2" cy="65.1"/><circle cx="351.7" cy="42.8"/><circle cx="349.1" cy="51.4"/><circle cx="326.6" cy="78.0"/><circle cx="343.4" cy="64.6"/><circle cx="340.8" cy="53.3"/><circle cx="365.4" cy="37.0"/><circle cx="328.8" cy="66.5"/><circle cx="344.4" cy="58.3"/><circle cx="347.9" cy="53.3"/><circle cx="347.0" cy="61.6"/><circle cx="324.1" cy="89.0"/><circle cx="344.6" cy="56.9"/><circle cx="351.9" cy="52.2"/><circle cx="330.7" cy="65.6"/><circle cx="326.3" cy="86.9"/><circle cx="366.7" cy="44.6"/><circle cx="333.8" cy="63.9"/><circle cx="325.8" cy="84.8"/><circle cx="355.2" cy="55.1"/><circle cx="340.9" cy="76.0"/><circle cx="370.4" cy="38.2"/><circle cx="313.3" cy="89.9"/><circle cx="331.5" cy="67.6"/><circle cx="356.8" cy="58.8"/><circle cx="365.8" cy="34.0"/><circle cx="344.3" cy="65.8"/><circle cx="341.6" cy="67.1"/><circle cx="347.5" cy="52.3"/><circle cx="311.8" cy="96.2"/><circle cx="307.7" cy="98.1"/><circle cx="326.1" cy="75.7"/><circle cx="325.9" cy="76.1"/><circle cx="314.3" cy="90.5"/><circle cx="354.7" cy="42.4"/><circle cx="361.3" cy="45.1"/><circle cx="334.3" cy="76.1"/><circle cx="332.4" cy="77.8"/><circle cx="337.0" cy="67.5"/><circle cx="358.4" cy="50.2"/><circle cx="327.2" cy="77.0"/><circle cx="315.3" cy="81.1"/><circle cx="336.1" cy="59.2"/><circle cx="331.7" cy="59.8"/><circle cx="344.5" cy="44.6"/><circle cx="346.1" cy="58.4"/><circle cx="345.4" cy="53.5"/><circle cx="335.0" cy="61.5"/><circle cx="330.4" cy="70.6"/><circle cx="346.8" cy="61.3"/><circle cx="354.7" cy="47.9"/><circle cx="311.3" cy="75.2"/><circle cx="358.3" cy="44.7"/><circle cx="336.4" cy="46.1"/><circle cx="349.7" cy="43.8"/><circle cx="329.8" cy="63.1"/><circle cx="307.4" cy="73.3"/><circle cx="311.0" cy="69.1"/><circle cx="339.5" cy="62.8"/><circle cx="312.0" cy="74.7"/><circle cx="348.4" cy="41.0"/><circle cx="321.9" cy="77.1"/><circle cx="340.4" cy="55.8"/><circle cx="339.4" cy="61.0"/><circle cx="314.4" cy="67.7"/><circle cx="307.2" cy="68.0"/></g><g fill="#7f7f7f" stroke="#7f7f7f" fill-opacity="0.5" stroke-opacity="0.5" stroke-width="0.9"><circle cx="258.9" cy="131.0"/><circle cx="254.1" cy="140.0"/><circle cx="255.1" cy="134.7"/><circle cx="270.8" cy="118.4"/><circle cx="288.8" cy="109.3"/><circle cx="257.9" cy="130.2"/><circle cx="284.8" cy="110.0"/><circle cx="300.5" cy="90.9"/><circle cx="272.3" cy="105.7"/><circle cx="281.8" cy="99.5"/><circle cx="294.3" cy="102.4"/><circle cx="265.5" cy="122.3"/><circle cx="251.3" cy="136.7"/><circle cx="295.6" cy="87.3"/><circle cx="243.2" cy="137.3"/><circle cx="292.6" cy="97.2"/><circle cx="259.8" cy="132.0"/><circle cx="246.7" cy="141.5"/><circle cx="284.6" cy="102.4"/><circle cx="301.9" cy="97.0"/><circle cx="246.3" cy="142.4"/><circle cx="248.4" cy="143.5"/><circle cx="252.2" cy="129.3"/><circle cx="248.4" cy="138.5"/><circle cx="277.1" cy="110.5"/><circle cx="237.2" cy="149.6"/><circle cx="260.8" cy="129.0"/><circle cx="266.9" cy="120.9"/><circle cx="285.1" cy="102.7"/><circle cx="275.6" cy="121.3"/><circle cx="264.8" cy="119.7"/><circle cx="293.0" cy="92.3"/><circle cx="289.9" cy="96.5"/><circle cx="273.2" cy="110.3"/><circle cx="277.2" cy="116.9"/><circle cx="259.6" cy="128.5"/><circle cx="294.9" cy="96.0"/><circle cx="273.8" cy="115.8"/><circle cx="253.2" cy="142.4"/><circle cx="262.0" cy="131.5"/><circle cx="295.4" cy="95.3"/><circle cx="290.7" cy="104.1"/><circle cx="282.5" cy="108.4"/><circle cx="286.6" cy="108.2"/><circle cx="291.8" cy="96.0"/><circle cx="278.0" cy="101.1"/><circle cx="308.1" cy="78.0"/><circle cx="277.0" cy="108.1"/><circle cx="280.6" cy="94.6"/><circle cx="306.7" cy="75.7"/><circle cx="286.2" cy="93.0"/><circle cx="286.9" cy="96.1"/><circle cx="294.4" cy="84.6"/><circle cx="292.2" cy="87.0"/><circle cx="305.8" cy="74.1"/><circle cx="299.4" cy="89.6"/><circle cx="296.0" cy="79.6"/><circle cx="273.2" cy="99.8"/><circle cx="293.0" cy="84.9"/><circle cx="286.9" cy="94.0"/><circle cx="301.7" cy="74.9"/><circle cx="289.6" cy="84.3"/><circle cx="283.1" cy="100.8"/><circle cx="279.7" cy="101.8"/><circle cx="296.8" cy="83.1"/><circle cx="280.9" cy="104.8"/><circle cx="293.6" cy="87.1"/><circle cx="304.2" cy="74.1"/><circle cx="301.9" cy="71.1"/><circle cx="280.2" cy="110.6"/><circle cx="273.1" cy="106.5"/><circle cx="297.9" cy="89.3"/><circle cx="296.9" cy="86.5"/><circle cx="283.7" cy="92.6"/><circle cx="294.7" cy="90.1"/><circle cx="290.1" cy="87.8"/><circle cx="307.3" cy="77.5"/><circle cx="275.5" cy="103.0"/><circle cx="301.8" cy="85.8"/><circle cx="289.0" cy="81.7"/><circle cx="284.5" cy="100.3"/><circle cx="280.2" cy="104.3"/><circle cx="289.8" cy="95.0"/><circle cx="296.9" cy="78.3"/><circle cx="295.6" cy="83.1"/><circle cx="283.7" cy="95.7"/><circle cx="306.8" cy="69.6"/><circle cx="311.8" cy="76.9"/><circle cx="309.7" cy="77.5"/><circle cx="277.5" cy="102.7"/><circle cx="293.1" cy="90.3"/><circle cx="286.2" cy="94.5"/><circle cx="278.6" cy="103.8"/><circle cx="301.0" cy="81.8"/><circle cx="307.0" cy="74.6"/><circle cx="280.4" cy="106.5"/><circle cx="288.1" cy="86.4"/><circle cx="299.0" cy="82.1"/><circle cx="311.0" cy="75.6"/><circle cx="302.6" cy="81.6"/><circle cx="299.8" cy="80.4"/><circle cx="275.6" cy="107.4"/><circle cx="296.7" cy="81.8"/><circle cx="305.7" cy="70.7"/><circle cx="279.3" cy="102.0"/><circle cx="344.0" cy="73.3"/><circle cx="346.1" cy="55.2"/><circle cx="333.0" cy="69.6"/><circle cx="344.7" cy="61.0"/><circle cx="358.9" cy="51.2"/><circle cx="361.5" cy="57.1"/><circle cx="339.8" cy="67.9"/><circle cx="353.6" cy="59.4"/><circle cx="339.5" cy="67.3"/><circle cx="349.7" cy="61.4"/><circle cx="368.8" cy="47.1"/><circle cx="366.4" cy="34.2"/><circle cx="350.6" cy="46.6"/><circle cx="374.8" cy="42.8"/><circle cx="349.6" cy="58.3"/><circle cx="345.8" cy="68.1"/><circle cx="337.1" cy="67.8"/><circle cx="357.3" cy="56.5"/><circle cx="336.2" cy="69.9"/><circle cx="341.5" cy="69.7"/><circle cx="368.4" cy="38.9"/><circle cx="366.3" cy="52.2"/><circle cx="345.9" cy="60.9"/><circle cx="356.1" cy="52.3"/><circle cx="355.3" cy="52.2"/><circle cx="339.4" cy="68.3"/><circle cx="362.9" cy="40.6"/><circle cx="366.7" cy="37.6"/><circle cx="349.7" cy="62.3"/><circle cx="366.2" cy="43.8"/><circle cx="372.9" cy="41.4"/><circle cx="357.9" cy="54.1"/><circle cx="363.1" cy="38.7"/><circle cx="354.5" cy="59.5"/><circle cx="360.6" cy="45.1"/><circle cx="349.7" cy="51.9"/><circle cx="334.4" cy="70.5"/><circle cx="342.1" cy="61.3"/><circle cx="355.3" cy="59.0"/><circle cx="344.2" cy="66.4"/><circle cx="367.0" cy="47.0"/><circle cx="365.9" cy="37.5"/><circle cx="343.6" cy="65.6"/><circle cx="346.2" cy="66.3"/><circle cx="352.0" cy="57.5"/><circle cx="362.5" cy="42.1"/><circle cx="348.3" cy="66.8"/><circle cx="354.5" cy="51.3"/><circle cx="339.4" cy="68.5"/><circle cx="339.1" cy="70.2"/><circle cx="345.7" cy="61.5"/><circle cx="341.3" cy="70.4"/><circle cx="364.3" cy="50.4"/><circle cx="372.7" cy="44.5"/><circle cx="346.8" cy="60.5"/><circle cx="370.3" cy="46.9"/><circle cx="357.8" cy="54.5"/><circle cx="342.2" cy="70.2"/><circle cx="354.5" cy="50.7"/><circle cx="372.7" cy="50.0"/><circle cx="345.2" cy="65.5"/><circle cx="352.0" cy="57.3"/><circle cx="344.8" cy="63.0"/><circle cx="359.1" cy="50.9"/><circle cx="343.9" cy="60.8"/><circle cx="351.5" cy="58.4"/><circle cx="354.2" cy="57.3"/><circle cx="359.4" cy="49.3"/><circle cx="369.3" cy="39.5"/><circle cx="368.3" cy="40.8"/><circle cx="347.7" cy="59.6"/><circle cx="350.3" cy="53.7"/><circle cx="333.2" cy="68.5"/><circle cx="350.9" cy="63.3"/><circle cx="352.1" cy="60.9"/><circle cx="356.9" cy="43.1"/><circle cx="363.5" cy="48.2"/><circle cx="372.7" cy="47.5"/><circle cx="365.5" cy="45.3"/><circle cx="339.1" cy="67.6"/><circle cx="350.0" cy="53.8"/><circle cx="356.8" cy="50.9"/><circle cx="341.0" cy="64.9"/><circle cx="361.7" cy="47.0"/><circle cx="362.5" cy="42.3"/><circle cx="367.0" cy="50.4"/><circle cx="346.7" cy="62.0"/><circle cx="343.0" cy="64.3"/><circle cx="339.3" cy="68.3"/><circle cx="333.1" cy="69.6"/><circle cx="341.0" cy="73.2"/><circle cx="335.0" cy="67.4"/><circle cx="366.8" cy="39.5"/><circle cx="362.5" cy="52.6"/><circle cx="360.7" cy="49.8"/><circle cx="366.7" cy="43.7"/><circle cx="345.0" cy="73.8"/><circle cx="368.6" cy="41.6"/><circle cx="369.1" cy="43.9"/><circle cx="343.2" cy="68.3"/><circle cx="345.2" cy="72.6"/><circle cx="360.4" cy="48.0"/><circle cx="350.8" cy="52.2"/><circle cx="339.7" cy="62.8"/><circle cx="357.3" cy="46.7"/><circle cx="338.5" cy="68.1"/><circle cx="367.5" cy="38.5"/><circle cx="346.4" cy="68.9"/><circle cx="343.3" cy="67.8"/><circle cx="357.3" cy="53.1"/><circle cx="301.9" cy="88.8"/><circle cx="302.6" cy="99.4"/><circle cx="313.1" cy="94.0"/><circle cx="322.8" cy="81.5"/><circle cx="309.9" cy="80.5"/><circle cx="316.0" cy="83.6"/><circle cx="313.0" cy="93.5"/><circle cx="298.4" cy="99.0"/><circle cx="296.2" cy="98.6"/><circle cx="300.8" cy="103.0"/><circle cx="320.2" cy="82.7"/><circle cx="319.3" cy="85.6"/><circle cx="312.4" cy="96.5"/><circle cx="303.1" cy="98.5"/><circle cx="314.7" cy="80.2"/><circle cx="307.8" cy="87.8"/><circle cx="310.3" cy="89.4"/><circle cx="324.8" cy="82.7"/><circle cx="304.9" cy="93.6"/><circle cx="294.9" cy="98.4"/><circle cx="317.3" cy="75.5"/><circle cx="315.7" cy="86.7"/><circle cx="303.6" cy="101.0"/><circle cx="305.8" cy="87.7"/><circle cx="301.0" cy="97.4"/><circle cx="308.2" cy="82.4"/><circle cx="314.6" cy="79.0"/><circle cx="311.4" cy="81.0"/><circle cx="305.4" cy="93.5"/><circle cx="301.4" cy="104.8"/><circle cx="305.9" cy="90.6"/><circle cx="313.3" cy="87.2"/><circle cx="310.9" cy="84.4"/><circle cx="320.3" cy="79.6"/><circle cx="306.0" cy="89.3"/><circle cx="317.4" cy="85.1"/><circle cx="311.6" cy="86.8"/><circle cx="311.5" cy="81.5"/><circle cx="303.0" cy="87.6"/><circle cx="323.3" cy="82.9"/><circle cx="298.4" cy="98.8"/><circle cx="307.6" cy="89.8"/><circle cx="310.1" cy="87.6"/><circle cx="317.4" cy="81.5"/><circle cx="313.0" cy="84.8"/><circle cx="307.7" cy="93.7"/><circle cx="302.1" cy="93.9"/><circle cx="306.1" cy="84.3"/><circle cx="323.8" cy="84.5"/><circle cx="307.8" cy="82.7"/><circle cx="357.7" cy="69.2"/><circle cx="343.6" cy="79.4"/><circle cx="361.7" cy="63.3"/><circle cx="367.6" cy="63.0"/><circle cx="359.5" cy="57.7"/><circle cx="366.6" cy="53.5"/><circle cx="366.3" cy="48.2"/><circle cx="369.5" cy="49.6"/><circle cx="372.2" cy="50.0"/><circle cx="369.6" cy="48.2"/><circle cx="342.4" cy="80.2"/><circle cx="352.2" cy="64.8"/><circle cx="366.3" cy="55.9"/><circle cx="355.7" cy="65.4"/><circle cx="372.1" cy="58.6"/><circle cx="375.6" cy="48.6"/><circle cx="378.5" cy="42.1"/><circle cx="346.8" cy="75.0"/><circle cx="374.0" cy="48.5"/><circle cx="373.3" cy="43.5"/><circle cx="355.4" cy="61.3"/><circle cx="353.1" cy="75.2"/><circle cx="379.2" cy="42.7"/><circle cx="345.5" cy="74.6"/><circle cx="369.2" cy="43.1"/><circle cx="352.3" cy="68.6"/><circle cx="378.2" cy="46.1"/><circle cx="373.2" cy="49.5"/><circle cx="368.6" cy="47.9"/><circle cx="374.0" cy="59.7"/><circle cx="367.9" cy="49.8"/><circle cx="352.6" cy="64.3"/><circle cx="376.7" cy="46.4"/><circle cx="355.9" cy="61.1"/><circle cx="351.9" cy="73.9"/><circle cx="359.1" cy="68.4"/><circle cx="347.1" cy="82.9"/><circle cx="356.8" cy="66.4"/><circle cx="347.6" cy="72.9"/><circle cx="362.6" cy="59.0"/></g><g fill="#17becf" stroke="#17becf" fill-opacity="0.5" stroke-opacity="0.5" stroke-width="0.9"><circle cx="325.7" cy="86.1"/><circle cx="318.0" cy="88.8"/><circle cx="329.2" cy="86.3"/><circle cx="313.0" cy="102.9"/><circle cx="337.1" cy="77.2"/><circle cx="332.3" cy="71.2"/><circle cx="315.9" cy="90.9"/><circle cx="330.4" cy="89.1"/><circle cx="331.0" cy="89.9"/><circle cx="329.9" cy="85.4"/><circle cx="331.4" cy="90.7"/><circle cx="315.6" cy="103.3"/><circle cx="313.7" cy="92.8"/><circle cx="298.9" cy="106.1"/><circle cx="333.2" cy="76.1"/><circle cx="299.8" cy="102.8"/><circle cx="332.6" cy="92.6"/><circle cx="305.1" cy="104.8"/><circle cx="318.9" cy="97.4"/><circle cx="340.7" cy="68.6"/><circle cx="307.5" cy="107.9"/><circle cx="295.2" cy="111.7"/><circle cx="330.3" cy="79.4"/><circle cx="301.3" cy="104.3"/><circle cx="298.4" cy="104.3"/><circle cx="299.0" cy="104.0"/><circle cx="335.8" cy="77.7"/><circle cx="338.4" cy="83.8"/><circle cx="337.8" cy="74.2"/><circle cx="298.2" cy="104.8"/><circle cx="325.6" cy="82.0"/><circle cx="318.9" cy="104.0"/><circle cx="307.1" cy="107.8"/><circle cx="332.1" cy="78.7"/><circle cx="331.1" cy="80.1"/><circle cx="330.4" cy="83.3"/><circle cx="318.9" cy="93.2"/><circle cx="331.2" cy="87.2"/><circle cx="303.1" cy="104.8"/><circle cx="338.4" cy="67.2"/><circle cx="334.2" cy="79.5"/><circle cx="319.8" cy="101.7"/><circle cx="311.1" cy="103.8"/><circle cx="310.2" cy="98.9"/><circle cx="338.6" cy="72.8"/><circle cx="319.1" cy="97.7"/><circle cx="342.7" cy="75.6"/><circle cx="326.9" cy="85.9"/><circle cx="306.6" cy="103.0"/><circle cx="309.5" cy="101.2"/><circle cx="336.9" cy="77.3"/><circle cx="323.9" cy="89.7"/><circle cx="311.4" cy="103.6"/><circle cx="321.7" cy="101.4"/><circle cx="328.3" cy="92.4"/><circle cx="326.4" cy="89.5"/><circle cx="342.8" cy="67.7"/><circle cx="301.4" cy="111.9"/><circle cx="338.1" cy="66.2"/><circle cx="340.7" cy="74.3"/><circle cx="329.4" cy="88.9"/><circle cx="308.1" cy="99.6"/><circle cx="325.1" cy="82.2"/><circle cx="329.0" cy="77.2"/><circle cx="300.1" cy="105.9"/><circle cx="341.6" cy="69.8"/><circle cx="323.8" cy="91.5"/><circle cx="308.2" cy="102.1"/><circle cx="335.8" cy="76.7"/><circle cx="315.5" cy="100.4"/><circle cx="335.6" cy="76.3"/><circle cx="318.8" cy="103.2"/><circle cx="297.9" cy="113.6"/><circle cx="324.7" cy="91.3"/><circle cx="319.3" cy="93.2"/><circle cx="298.1" cy="109.1"/><circle cx="333.4" cy="78.8"/><circle cx="313.2" cy="97.4"/><circle cx="329.9" cy="92.0"/><circle cx="323.9" cy="78.4"/><circle cx="317.0" cy="98.1"/><circle cx="297.3" cy="106.7"/><circle cx="335.0" cy="77.8"/><circle cx="333.0" cy="80.4"/><circle cx="312.2" cy="101.0"/><circle cx="319.8" cy="93.5"/><circle cx="329.5" cy="93.2"/><circle cx="316.6" cy="97.8"/><circle cx="338.4" cy="65.3"/><circle cx="324.6" cy="85.4"/><circle cx="303.0" cy="109.5"/><circle cx="298.3" cy="112.4"/><circle cx="323.3" cy="92.7"/><circle cx="334.5" cy="80.6"/><circle cx="307.9" cy="97.2"/><circle cx="320.3" cy="90.0"/><circle cx="340.0" cy="77.0"/><circle cx="312.4" cy="109.2"/><circle cx="326.7" cy="78.5"/><circle cx="332.9" cy="75.5"/><circle cx="310.5" cy="101.3"/><circle cx="317.4" cy="93.3"/><circle cx="334.3" cy="82.0"/><circle cx="344.8" cy="72.5"/><circle cx="311.4" cy="87.4"/><circle cx="327.4" cy="99.5"/><circle cx="303.4" cy="108.0"/><circle cx="339.8" cy="72.3"/><circle cx="313.0" cy="96.4"/><circle cx="318.3" cy="94.2"/><circle cx="334.8" cy="80.7"/><circle cx="321.3" cy="90.1"/><circle cx="346.2" cy="73.2"/><circle cx="339.9" cy="79.9"/><circle cx="332.2" cy="78.9"/><circle cx="303.7" cy="109.7"/><circle cx="319.6" cy="89.5"/><circle cx="337.4" cy="71.1"/><circle cx="304.1" cy="99.9"/><circle cx="327.9" cy="80.0"/><circle cx="324.0" cy="95.1"/><circle cx="338.2" cy="75.6"/><circle cx="296.6" cy="112.2"/><circle cx="342.3" cy="66.9"/><circle cx="318.3" cy="96.0"/><circle cx="301.1" cy="102.8"/><circle cx="311.4" cy="99.6"/><circle cx="308.3" cy="96.6"/><circle cx="296.4" cy="111.8"/><circle cx="303.8" cy="105.9"/><circle cx="338.2" cy="81.5"/><circle cx="335.6" cy="80.6"/><circle cx="316.6" cy="87.2"/><circle cx="327.4" cy="78.5"/><circle cx="323.2" cy="102.4"/><circle cx="300.5" cy="98.7"/><circle cx="308.4" cy="94.4"/><circle cx="317.8" cy="98.5"/><circle cx="338.3" cy="72.1"/><circle cx="302.1" cy="103.8"/><circle cx="336.3" cy="91.6"/><circle cx="327.3" cy="87.4"/><circle cx="308.7" cy="101.9"/><circle cx="343.8" cy="71.3"/><circle cx="345.4" cy="75.5"/><circle cx="338.8" cy="76.1"/><circle cx="338.6" cy="72.8"/><circle cx="307.6" cy="101.5"/><circle cx="344.0" cy="75.5"/><circle cx="311.7" cy="87.8"/><circle cx="306.7" cy="108.7"/><circle cx="304.7" cy="108.4"/><circle cx="312.1" cy="97.2"/><circle cx="311.7" cy="102.6"/><circle cx="314.2" cy="100.9"/><circle cx="340.8" cy="76.0"/><circle cx="308.0" cy="103.7"/><circle cx="304.6" cy="94.7"/><circle cx="325.9" cy="89.4"/><circle cx="344.6" cy="72.2"/><circle cx="336.2" cy="84.1"/><circle cx="320.9" cy="91.0"/><circle cx="306.7" cy="101.6"/><circle cx="338.9" cy="79.6"/><circle cx="320.7" cy="94.9"/><circle cx="296.2" cy="111.0"/><circle cx="300.5" cy="111.5"/><circle cx="307.5" cy="107.1"/><circle cx="319.3" cy="89.7"/><circle cx="310.9" cy="94.4"/><circle cx="304.8" cy="107.2"/><circle cx="328.8" cy="96.4"/><circle cx="319.6" cy="90.9"/><circle cx="316.7" cy="103.6"/><circle cx="306.2" cy="95.9"/><circle cx="311.8" cy="98.8"/><circle cx="327.9" cy="82.8"/><circle cx="301.9" cy="106.8"/><circle cx="309.8" cy="96.9"/><circle cx="321.6" cy="87.8"/><circle cx="322.6" cy="88.4"/><circle cx="334.6" cy="78.5"/><circle cx="323.5" cy="98.3"/><circle cx="314.0" cy="94.8"/><circle cx="308.0" cy="104.4"/><circle cx="310.7" cy="99.8"/><circle cx="303.5" cy="102.6"/><circle cx="338.9" cy="79.7"/><circle cx="310.2" cy="105.0"/><circle cx="334.1" cy="75.9"/><circle cx="333.0" cy="85.2"/><circle cx="336.6" cy="80.2"/><circle cx="332.9" cy="83.8"/><circle cx="294.1" cy="111.9"/><circle cx="312.9" cy="100.7"/><circle cx="338.7" cy="74.6"/><circle cx="293.8" cy="109.3"/><circle cx="297.0" cy="109.8"/><circle cx="318.0" cy="92.1"/><circle cx="336.3" cy="78.2"/><circle cx="307.7" cy="105.2"/><circle cx="330.8" cy="91.5"/><circle cx="319.5" cy="94.7"/><circle cx="318.3" cy="88.5"/><circle cx="323.6" cy="80.3"/><circle cx="306.5" cy="106.9"/><circle cx="341.3" cy="72.9"/><circle cx="318.6" cy="91.5"/><circle cx="300.0" cy="108.3"/><circle cx="312.7" cy="101.4"/><circle cx="342.6" cy="83.9"/><circle cx="312.0" cy="102.2"/><circle cx="299.6" cy="112.5"/><circle cx="304.2" cy="107.7"/><circle cx="324.3" cy="90.2"/><circle cx="337.6" cy="80.4"/><circle cx="335.6" cy="77.5"/><circle cx="345.4" cy="72.1"/><circle cx="335.2" cy="86.9"/><circle cx="312.8" cy="97.5"/><circle cx="333.9" cy="80.9"/><circle cx="303.9" cy="104.8"/><circle cx="306.4" cy="100.0"/><circle cx="312.4" cy="106.6"/><circle cx="328.7" cy="86.9"/><circle cx="322.3" cy="97.9"/><circle cx="311.1" cy="99.8"/><circle cx="347.8" cy="72.9"/><circle cx="310.6" cy="112.5"/><circle cx="320.5" cy="85.9"/><circle cx="340.7" cy="79.3"/><circle cx="306.6" cy="106.8"/><circle cx="338.5" cy="74.0"/><circle cx="337.0" cy="72.9"/><circle cx="330.1" cy="83.6"/><circle cx="311.2" cy="102.6"/><circle cx="323.0" cy="80.6"/><circle cx="298.2" cy="112.2"/><circle cx="315.0" cy="101.9"/><circle cx="318.3" cy="93.4"/><circle cx="336.4" cy="81.3"/><circle cx="307.3" cy="102.5"/><circle cx="345.3" cy="73.5"/><circle cx="316.6" cy="93.9"/><circle cx="298.9" cy="116.6"/><circle cx="305.1" cy="104.9"/><circle cx="336.9" cy="74.0"/><circle cx="301.6" cy="107.6"/><circle cx="297.4" cy="111.9"/><circle cx="305.0" cy="95.2"/><circle cx="324.8" cy="88.7"/><circle cx="301.6" cy="111.4"/><circle cx="330.6" cy="83.6"/><circle cx="313.7" cy="91.6"/><circle cx="308.3" cy="105.1"/><circle cx="308.7" cy="109.9"/><circle cx="324.7" cy="90.8"/><circle cx="319.8" cy="99.9"/><circle cx="337.3" cy="78.6"/><circle cx="342.2" cy="80.3"/><circle cx="297.3" cy="105.7"/><circle cx="341.7" cy="72.9"/><circle cx="336.6" cy="74.7"/><circle cx="339.8" cy="74.5"/><circle cx="336.6" cy="73.9"/><circle cx="329.9" cy="86.1"/><circle cx="340.7" cy="75.9"/><circle cx="332.8" cy="86.8"/><circle cx="329.0" cy="88.6"/><circle cx="301.8" cy="104.7"/><circle cx="330.3" cy="78.9"/><circle cx="328.1" cy="89.1"/><circle cx="304.7" cy="112.3"/><circle cx="298.0" cy="107.8"/><circle cx="346.0" cy="72.8"/><circle cx="299.3" cy="113.0"/><circle cx="335.3" cy="80.7"/><circle cx="324.3" cy="84.4"/><circle cx="305.1" cy="104.1"/><circle cx="305.7" cy="106.4"/><circle cx="346.2" cy="75.4"/><circle cx="328.8" cy="85.4"/><circle cx="336.3" cy="72.4"/><circle cx="332.7" cy="80.9"/><circle cx="317.7" cy="91.5"/><circle cx="301.9" cy="107.7"/><circle cx="345.0" cy="70.4"/><circle cx="311.0" cy="100.1"/><circle cx="332.2" cy="82.1"/><circle cx="304.5" cy="94.8"/><circle cx="333.1" cy="80.0"/><circle cx="296.4" cy="112.6"/><circle cx="328.4" cy="85.7"/><circle cx="310.6" cy="99.9"/><circle cx="338.8" cy="74.0"/><circle cx="312.0" cy="95.7"/><circle cx="342.5" cy="67.8"/><circle cx="341.4" cy="71.5"/><circle cx="305.5" cy="113.1"/><circle cx="297.9" cy="107.9"/><circle cx="316.2" cy="94.8"/><circle cx="328.2" cy="78.3"/><circle cx="302.1" cy="116.8"/><circle cx="336.8" cy="73.4"/><circle cx="347.0" cy="78.2"/><circle cx="295.2" cy="113.1"/><circle cx="302.4" cy="108.9"/><circle cx="300.3" cy="105.6"/><circle cx="334.6" cy="90.9"/><circle cx="303.4" cy="103.6"/><circle cx="339.4" cy="83.4"/><circle cx="298.9" cy="112.2"/><circle cx="318.1" cy="98.1"/><circle cx="318.1" cy="91.7"/><circle cx="340.0" cy="76.5"/><circle cx="298.3" cy="110.5"/><circle cx="320.3" cy="96.7"/><circle cx="317.8" cy="97.6"/><circle cx="311.9" cy="103.8"/><circle cx="313.6" cy="96.6"/><circle cx="315.9" cy="100.0"/><circle cx="308.9" cy="106.9"/><circle cx="331.7" cy="79.1"/><circle cx="321.1" cy="89.9"/><circle cx="334.3" cy="72.0"/><circle cx="342.2" cy="72.5"/><circle cx="295.3" cy="110.3"/><circle cx="297.3" cy="114.0"/><circle cx="326.5" cy="82.3"/><circle cx="320.2" cy="85.0"/><circle cx="302.0" cy="101.7"/><circle cx="299.9" cy="116.3"/><circle cx="343.2" cy="76.9"/><circle cx="328.2" cy="96.8"/><circle cx="304.4" cy="101.5"/><circle cx="309.7" cy="95.9"/><circle cx="303.2" cy="108.6"/><circle cx="318.0" cy="99.4"/><circle cx="318.8" cy="97.5"/><circle cx="299.5" cy="113.5"/><circle cx="339.5" cy="77.9"/><circle cx="304.7" cy="109.1"/><circle cx="317.8" cy="91.0"/><circle cx="298.0" cy="102.7"/><circle cx="331.6" cy="83.5"/><circle cx="307.7" cy="99.7"/><circle cx="301.0" cy="102.1"/><circle cx="336.9" cy="70.3"/><circle cx="337.3" cy="78.1"/><circle cx="340.0" cy="71.7"/><circle cx="312.8" cy="92.3"/><circle cx="304.3" cy="101.1"/><circle cx="334.4" cy="72.6"/><circle cx="305.1" cy="108.2"/><circle cx="338.1" cy="76.1"/><circle cx="330.8" cy="78.7"/><circle cx="324.2" cy="90.3"/><circle cx="298.3" cy="102.2"/><circle cx="331.8" cy="69.7"/><circle cx="341.5" cy="76.9"/><circle cx="330.1" cy="87.4"/><circle cx="296.4" cy="112.6"/><circle cx="304.9" cy="104.2"/><circle cx="322.8" cy="84.5"/><circle cx="339.2" cy="66.0"/><circle cx="306.8" cy="107.3"/><circle cx="297.1" cy="112.1"/><circle cx="310.7" cy="97.0"/><circle cx="318.4" cy="97.3"/><circle cx="312.0" cy="97.2"/><circle cx="324.1" cy="97.0"/><circle cx="311.0" cy="99.0"/><circle cx="307.7" cy="103.9"/><circle cx="298.8" cy="108.6"/><circle cx="345.6" cy="73.8"/><circle cx="330.9" cy="87.6"/><circle cx="330.6" cy="86.6"/><circle cx="305.0" cy="111.2"/><circle cx="316.8" cy="105.2"/><circle cx="331.3" cy="89.1"/><circle cx="308.7" cy="100.1"/><circle cx="322.4" cy="92.2"/><circle cx="339.4" cy="73.6"/><circle cx="328.0" cy="86.5"/><circle cx="305.1" cy="97.6"/><circle cx="323.2" cy="92.7"/><circle cx="341.5" cy="73.4"/><circle cx="300.0" cy="106.1"/><circle cx="300.9" cy="108.4"/><circle cx="330.0" cy="82.8"/><circle cx="326.4" cy="84.8"/><circle cx="321.9" cy="96.6"/><circle cx="332.5" cy="88.3"/><circle cx="305.5" cy="107.9"/><circle cx="307.2" cy="99.6"/><circle cx="325.9" cy="74.7"/><circle cx="342.8" cy="76.8"/><circle cx="325.2" cy="86.5"/><circle cx="333.4" cy="92.4"/><circle cx="340.7" cy="74.3"/><circle cx="256.6" cy="144.9"/><circle cx="297.8" cy="102.7"/><circle cx="286.0" cy="112.2"/><circle cx="288.8" cy="107.5"/><circle cx="266.9" cy="131.8"/><circle cx="278.6" cy="118.6"/><circle cx="277.3" cy="126.6"/><circle cx="282.1" cy="121.6"/><circle cx="301.4" cy="101.4"/><circle cx="255.1" cy="145.5"/><circle cx="290.6" cy="112.1"/><circle cx="254.7" cy="148.6"/><circle cx="280.0" cy="116.6"/><circle cx="263.9" cy="136.0"/><circle cx="253.7" cy="150.3"/><circle cx="247.2" cy="147.7"/><circle cx="256.4" cy="138.5"/><circle cx="280.7" cy="114.3"/><circle cx="284.2" cy="123.2"/><circle cx="266.0" cy="137.8"/><circle cx="284.3" cy="118.9"/><circle cx="255.6" cy="143.1"/><circle cx="279.7" cy="117.5"/><circle cx="243.2" cy="154.4"/><circle cx="241.4" cy="160.4"/><circle cx="233.7" cy="162.0"/><circle cx="277.7" cy="114.1"/><circle cx="295.1" cy="103.6"/><circle cx="292.2" cy="102.9"/><circle cx="274.4" cy="124.3"/><circle cx="319.4" cy="108.8"/><circle cx="311.7" cy="110.6"/><circle cx="268.4" cy="158.5"/><circle cx="298.5" cy="128.4"/><circle cx="313.2" cy="109.3"/><circle cx="305.8" cy="122.1"/><circle cx="277.8" cy="144.3"/><circle cx="287.7" cy="135.7"/><circle cx="292.8" cy="131.2"/><circle cx="253.0" cy="173.8"/><circle cx="287.0" cy="141.4"/><circle cx="293.2" cy="131.6"/><circle cx="271.8" cy="158.7"/><circle cx="316.8" cy="108.3"/><circle cx="276.1" cy="153.6"/><circle cx="287.0" cy="135.2"/><circle cx="256.4" cy="169.7"/><circle cx="246.5" cy="176.5"/><circle cx="263.3" cy="166.8"/><circle cx="272.2" cy="154.3"/><circle cx="265.4" cy="163.4"/><circle cx="311.8" cy="115.1"/><circle cx="293.8" cy="136.7"/><circle cx="275.0" cy="148.1"/><circle cx="298.5" cy="130.7"/><circle cx="267.9" cy="157.0"/><circle cx="288.2" cy="136.2"/><circle cx="295.2" cy="126.2"/><circle cx="317.1" cy="106.9"/><circle cx="310.2" cy="122.0"/></g><g fill="#e377c2" stroke="#e377c2" fill-opacity="0.5" stroke-opacity="0.5" stroke-width="0.9"><circle cx="193.4" cy="240.4"/><circle cx="192.1" cy="232.5"/><circle cx="198.6" cy="225.2"/><circle cx="220.0" cy="203.3"/><circle cx="244.0" cy="188.9"/><circle cx="247.1" cy="184.0"/><circle cx="192.7" cy="242.1"/><circle cx="196.7" cy="226.9"/><circle cx="254.2" cy="180.0"/><circle cx="215.6" cy="201.1"/><circle cx="221.1" cy="188.6"/><circle cx="196.9" cy="240.7"/><circle cx="245.7" cy="183.3"/><circle cx="242.1" cy="196.1"/><circle cx="210.2" cy="225.3"/><circle cx="191.1" cy="232.3"/><circle cx="224.4" cy="198.7"/><circle cx="257.2" cy="174.3"/><circle cx="194.9" cy="223.3"/><circle cx="252.2" cy="176.3"/><circle cx="226.2" cy="205.4"/><circle cx="205.1" cy="206.9"/><circle cx="238.2" cy="185.0"/><circle cx="233.0" cy="194.3"/><circle cx="216.6" cy="203.4"/><circle cx="181.0" cy="235.9"/><circle cx="207.2" cy="219.8"/><circle cx="223.6" cy="194.7"/><circle cx="231.3" cy="208.8"/><circle cx="242.6" cy="195.4"/><circle cx="202.6" cy="221.6"/><circle cx="215.7" cy="221.1"/><circle cx="220.7" cy="193.5"/><circle cx="255.3" cy="174.1"/><circle cx="185.1" cy="231.3"/><circle cx="252.6" cy="175.5"/><circle cx="211.8" cy="218.1"/><circle cx="196.5" cy="230.4"/><circle cx="218.8" cy="200.7"/><circle cx="197.3" cy="230.1"/><circle cx="245.9" cy="198.4"/><circle cx="251.3" cy="166.2"/><circle cx="186.3" cy="241.0"/><circle cx="227.4" cy="202.0"/><circle cx="190.9" cy="235.5"/><circle cx="222.2" cy="212.5"/><circle cx="213.1" cy="234.4"/><circle cx="221.6" cy="209.8"/><circle cx="263.5" cy="171.6"/><circle cx="239.3" cy="187.4"/><circle cx="233.4" cy="193.2"/><circle cx="234.7" cy="196.6"/><circle cx="269.1" cy="167.3"/><circle cx="180.7" cy="230.2"/><circle cx="246.7" cy="178.4"/><circle cx="262.5" cy="167.4"/><circle cx="234.4" cy="204.8"/><circle cx="248.4" cy="185.2"/><circle cx="263.7" cy="165.9"/><circle cx="242.6" cy="194.7"/><circle cx="250.5" cy="184.8"/><circle cx="246.8" cy="190.2"/><circle cx="188.3" cy="238.6"/><circle cx="215.5" cy="208.7"/><circle cx="225.8" cy="203.1"/><circle cx="217.3" cy="211.8"/><circle cx="229.0" cy="195.7"/><circle cx="206.3" cy="213.2"/><circle cx="243.9" cy="207.9"/><circle cx="192.4" cy="241.0"/></g><g fill="#9467bd" stroke="#9467bd" fill-opacity="0.5" stroke-opacity="0.5" stroke-width="0.9"><circle cx="183.2" cy="235.8"/><circle cx="187.6" cy="238.2"/><circle cx="231.2" cy="188.7"/><circle cx="187.6" cy="237.7"/><circle cx="266.6" cy="168.6"/><circle cx="182.3" cy="236.9"/><circle cx="251.6" cy="186.5"/><circle cx="211.4" cy="212.2"/><circle cx="210.2" cy="218.0"/><circle cx="260.3" cy="168.4"/><circle cx="229.7" cy="183.4"/><circle cx="235.6" cy="203.4"/><circle cx="195.4" cy="227.2"/><circle cx="210.3" cy="206.4"/><circle cx="249.7" cy="172.2"/><circle cx="243.6" cy="181.6"/><circle cx="256.7" cy="179.7"/><circle cx="260.8" cy="158.0"/><circle cx="204.2" cy="225.0"/><circle cx="246.3" cy="166.6"/><circle cx="185.5" cy="239.2"/><circle cx="195.6" cy="221.6"/><circle cx="240.0" cy="181.0"/><circle cx="257.7" cy="175.6"/><circle cx="218.7" cy="208.6"/><circle cx="250.8" cy="169.0"/><circle cx="199.0" cy="229.7"/><circle cx="247.0" cy="175.1"/><circle cx="252.3" cy="178.7"/><circle cx="238.2" cy="184.7"/><circle cx="221.3" cy="204.3"/><circle cx="211.1" cy="213.1"/><circle cx="181.7" cy="232.1"/><circle cx="188.9" cy="242.8"/><circle cx="219.3" cy="215.1"/><circle cx="228.9" cy="213.4"/><circle cx="210.2" cy="191.7"/><circle cx="192.7" cy="235.7"/><circle cx="246.5" cy="173.0"/><circle cx="231.8" cy="198.4"/></g><g fill="#8c564b" stroke="#8c564b" fill-opacity="0.5" stroke-opacity="0.5" stroke-width="0.9"><circle cx="239.8" cy="191.4"/><circle cx="231.5" cy="200.8"/><circle cx="231.5" cy="210.1"/><circle cx="249.4" cy="174.5"/><circle cx="196.9" cy="215.0"/><circle cx="194.5" cy="238.9"/><circle cx="265.5" cy="169.6"/><circle cx="212.4" cy="203.8"/><circle cx="267.3" cy="172.8"/><circle cx="250.9" cy="186.1"/><circle cx="206.9" cy="215.4"/><circle cx="198.1" cy="227.2"/><circle cx="240.8" cy="182.5"/><circle cx="234.0" cy="205.3"/><circle cx="245.8" cy="176.9"/><circle cx="241.3" cy="192.6"/><circle cx="191.9" cy="224.3"/><circle cx="239.7" cy="182.2"/><circle cx="266.9" cy="167.4"/><circle cx="252.3" cy="168.0"/><circle cx="253.1" cy="177.8"/><circle cx="233.0" cy="202.9"/><circle cx="237.3" cy="194.3"/><circle cx="234.6" cy="204.3"/><circle cx="220.6" cy="208.4"/><circle cx="192.9" cy="240.0"/><circle cx="236.6" cy="182.3"/><circle cx="219.0" cy="216.3"/><circle cx="212.0" cy="204.6"/><circle cx="195.2" cy="224.2"/><circle cx="215.7" cy="224.1"/><circle cx="208.5" cy="218.9"/><circle cx="192.1" cy="235.1"/><circle cx="250.1" cy="183.8"/><circle cx="266.4" cy="165.3"/><circle cx="249.6" cy="163.3"/><circle cx="251.0" cy="179.4"/><circle cx="253.4" cy="185.4"/><circle cx="226.5" cy="208.2"/><circle cx="219.8" cy="211.3"/><circle cx="197.3" cy="210.2"/><circle cx="238.9" cy="193.3"/><circle cx="185.1" cy="228.1"/><circle cx="253.8" cy="187.1"/><circle cx="244.9" cy="187.6"/><circle cx="224.5" cy="206.0"/><circle cx="236.2" cy="195.5"/><circle cx="226.9" cy="198.4"/><circle cx="252.4" cy="173.6"/><circle cx="212.8" cy="215.1"/><circle cx="266.3" cy="174.6"/><circle cx="193.6" cy="230.3"/><circle cx="241.9" cy="186.9"/><circle cx="227.2" cy="195.1"/><circle cx="267.7" cy="169.8"/><circle cx="203.4" cy="212.4"/><circle cx="248.5" cy="178.0"/><circle cx="261.9" cy="177.8"/><circle cx="258.6" cy="164.6"/><circle cx="266.1" cy="172.0"/></g><g fill="#d62728" stroke="#d62728" fill-opacity="0.5" stroke-opacity="0.5" stroke-width="0.9"><circle cx="206.3" cy="211.5"/><circle cx="191.2" cy="243.7"/><circle cx="228.8" cy="198.8"/><circle cx="244.0" cy="181.5"/><circle cx="235.3" cy="188.3"/><circle cx="199.0" cy="228.4"/><circle cx="243.4" cy="177.2"/><circle cx="240.8" cy="193.2"/><circle cx="211.8" cy="217.9"/><circle cx="188.8" cy="224.2"/><circle cx="225.2" cy="204.2"/><circle cx="243.6" cy="195.9"/><circle cx="185.8" cy="227.3"/><circle cx="190.9" cy="244.3"/><circle cx="258.2" cy="176.7"/><circle cx="240.1" cy="186.0"/><circle cx="215.0" cy="205.0"/><circle cx="231.0" cy="190.4"/><circle cx="198.1" cy="219.2"/><circle cx="252.7" cy="170.0"/><circle cx="185.5" cy="234.2"/><circle cx="189.5" cy="234.7"/><circle cx="245.9" cy="184.9"/><circle cx="248.5" cy="184.5"/><circle cx="217.5" cy="190.8"/><circle cx="211.0" cy="207.9"/><circle cx="192.8" cy="229.9"/><circle cx="223.9" cy="193.5"/><circle cx="227.4" cy="195.5"/><circle cx="193.5" cy="226.6"/><circle cx="213.6" cy="210.6"/><circle cx="200.9" cy="219.7"/><circle cx="222.5" cy="202.8"/><circle cx="261.5" cy="178.2"/><circle cx="214.9" cy="209.3"/><circle cx="241.0" cy="182.0"/><circle cx="198.7" cy="226.1"/><circle cx="223.2" cy="205.5"/><circle cx="244.0" cy="182.4"/><circle cx="213.0" cy="213.4"/><circle cx="191.1" cy="242.5"/><circle cx="244.2" cy="184.5"/><circle cx="247.9" cy="186.5"/><circle cx="199.4" cy="235.9"/><circle cx="246.4" cy="178.7"/><circle cx="219.5" cy="205.0"/><circle cx="209.4" cy="209.7"/><circle cx="186.3" cy="240.3"/><circle cx="205.0" cy="216.9"/><circle cx="243.1" cy="184.0"/></g><g fill="#17becf" stroke="#17becf" fill-opacity="0.5" stroke-opacity="0.5" stroke-width="0.9"><circle cx="214.7" cy="219.8"/><circle cx="227.1" cy="194.6"/><circle cx="191.1" cy="218.3"/><circle cx="255.3" cy="183.7"/><circle cx="198.1" cy="235.2"/><circle cx="251.4" cy="167.3"/><circle cx="208.1" cy="207.2"/><circle cx="206.7" cy="203.0"/><circle cx="199.2" cy="224.1"/><circle cx="226.3" cy="199.3"/><circle cx="217.9" cy="217.9"/><circle cx="209.6" cy="218.5"/><circle cx="193.8" cy="231.4"/><circle cx="215.3" cy="208.8"/><circle cx="237.3" cy="197.6"/><circle cx="259.0" cy="172.2"/><circle cx="227.0" cy="192.2"/><circle cx="190.0" cy="222.0"/><circle cx="189.2" cy="230.6"/><circle cx="214.7" cy="205.0"/><circle cx="180.0" cy="231.8"/><circle cx="233.1" cy="210.2"/><circle cx="211.8" cy="199.0"/><circle cx="195.6" cy="229.7"/><circle cx="222.0" cy="218.1"/><circle cx="232.4" cy="192.6"/><circle cx="207.5" cy="212.6"/><circle cx="265.7" cy="168.7"/><circle cx="215.7" cy="201.0"/><circle cx="226.9" cy="193.0"/><circle cx="188.7" cy="217.3"/><circle cx="233.3" cy="194.5"/><circle cx="254.4" cy="174.4"/><circle cx="238.4" cy="193.4"/><circle cx="222.2" cy="213.0"/><circle cx="264.3" cy="162.3"/><circle cx="206.7" cy="201.7"/><circle cx="187.4" cy="242.0"/><circle cx="252.1" cy="183.3"/><circle cx="216.0" cy="209.3"/><circle cx="196.6" cy="234.1"/><circle cx="258.2" cy="167.0"/><circle cx="242.1" cy="188.1"/><circle cx="252.7" cy="180.3"/><circle cx="198.0" cy="231.5"/><circle cx="237.8" cy="189.7"/><circle cx="242.3" cy="174.3"/><circle cx="250.3" cy="194.1"/><circle cx="208.4" cy="202.4"/><circle cx="255.5" cy="170.6"/><circle cx="183.0" cy="229.6"/><circle cx="221.7" cy="197.9"/><circle cx="236.9" cy="186.1"/><circle cx="218.9" cy="214.5"/><circle cx="266.0" cy="170.7"/><circle cx="204.9" cy="214.4"/><circle cx="200.2" cy="220.7"/><circle cx="192.2" cy="216.0"/><circle cx="273.6" cy="182.7"/><circle cx="235.7" cy="197.0"/></g><g fill="#7f7f7f" stroke="#7f7f7f" fill-opacity="0.5" stroke-opacity="0.5" stroke-width="0.9"><circle cx="268.2" cy="168.7"/><circle cx="202.0" cy="219.5"/><circle cx="202.5" cy="232.4"/><circle cx="240.1" cy="177.4"/><circle cx="261.2" cy="165.6"/><circle cx="265.9" cy="165.6"/><circle cx="218.2" cy="221.4"/><circle cx="229.3" cy="199.9"/><circle cx="220.4" cy="209.4"/><circle cx="212.4" cy="209.8"/><circle cx="227.3" cy="190.7"/><circle cx="232.1" cy="187.5"/><circle cx="258.9" cy="164.8"/><circle cx="212.8" cy="206.3"/><circle cx="183.7" cy="226.5"/><circle cx="193.1" cy="226.3"/><circle cx="209.4" cy="211.8"/><circle cx="238.2" cy="194.4"/><circle cx="202.6" cy="222.2"/><circle cx="206.5" cy="214.7"/><circle cx="265.8" cy="177.7"/><circle cx="179.2" cy="229.3"/><circle cx="254.8" cy="175.5"/><circle cx="186.4" cy="232.8"/><circle cx="273.9" cy="174.4"/><circle cx="230.2" cy="196.4"/><circle cx="237.0" cy="200.1"/><circle cx="213.0" cy="214.3"/><circle cx="219.1" cy="216.9"/><circle cx="255.0" cy="183.0"/><circle cx="258.3" cy="184.9"/><circle cx="256.3" cy="163.0"/><circle cx="196.3" cy="235.1"/><circle cx="231.7" cy="205.1"/><circle cx="259.8" cy="182.3"/><circle cx="256.3" cy="174.3"/><circle cx="238.5" cy="177.0"/><circle cx="246.9" cy="182.7"/><circle cx="189.7" cy="242.6"/><circle cx="190.7" cy="235.5"/><circle cx="234.3" cy="199.4"/><circle cx="207.0" cy="221.1"/><circle cx="190.7" cy="240.6"/><circle cx="212.6" cy="202.5"/><circle cx="193.6" cy="214.1"/><circle cx="198.1" cy="230.5"/><circle cx="239.3" cy="196.6"/><circle cx="234.0" cy="192.1"/><circle cx="210.8" cy="214.6"/><circle cx="256.9" cy="164.6"/><circle cx="198.9" cy="231.0"/><circle cx="257.8" cy="173.1"/><circle cx="265.9" cy="164.1"/><circle cx="228.4" cy="200.4"/><circle cx="195.7" cy="226.4"/><circle cx="259.9" cy="165.7"/><circle cx="244.5" cy="180.6"/><circle cx="274.1" cy="170.9"/><circle cx="208.6" cy="213.1"/><circle cx="258.6" cy="169.2"/><circle cx="272.9" cy="172.9"/><circle cx="216.6" cy="209.5"/><circle cx="208.3" cy="223.3"/><circle cx="261.8" cy="168.9"/><circle cx="199.7" cy="235.2"/><circle cx="225.4" cy="195.5"/><circle cx="245.3" cy="177.9"/><circle cx="223.5" cy="195.6"/><circle cx="216.5" cy="206.2"/><circle cx="201.4" cy="220.1"/></g><g fill="#bcbd22" stroke="#bcbd22" fill-opacity="0.5" stroke-opacity="0.5" stroke-width="0.9"><circle cx="190.6" cy="232.3"/><circle cx="194.9" cy="233.5"/><circle cx="239.9" cy="174.8"/><circle cx="240.5" cy="181.6"/><circle cx="195.0" cy="212.1"/><circle cx="221.0" cy="205.3"/><circle cx="221.8" cy="215.3"/><circle cx="218.7" cy="204.7"/><circle cx="214.6" cy="226.1"/><circle cx="248.2" cy="173.6"/><circle cx="200.6" cy="224.2"/><circle cx="217.9" cy="227.5"/><circle cx="245.8" cy="183.9"/><circle cx="260.7" cy="176.2"/><circle cx="235.1" cy="207.7"/><circle cx="219.2" cy="215.0"/><circle cx="248.0" cy="187.6"/><circle cx="257.3" cy="171.2"/><circle cx="229.2" cy="206.0"/><circle cx="230.5" cy="187.1"/><circle cx="211.5" cy="197.1"/><circle cx="234.6" cy="188.7"/><circle cx="258.9" cy="177.5"/><circle cx="201.2" cy="224.6"/><circle cx="229.5" cy="198.0"/><circle cx="194.1" cy="238.2"/><circle cx="245.0" cy="185.9"/><circle cx="231.9" cy="185.5"/><circle cx="242.7" cy="192.2"/><circle cx="194.9" cy="223.1"/><circle cx="256.2" cy="175.1"/><circle cx="240.8" cy="195.5"/><circle cx="235.8" cy="194.5"/><circle cx="216.3" cy="203.3"/><circle cx="261.5" cy="168.9"/><circle cx="222.7" cy="209.2"/><circle cx="221.0" cy="207.9"/><circle cx="255.5" cy="182.0"/><circle cx="202.2" cy="222.0"/><circle cx="189.4" cy="228.1"/></g><g fill="#e377c2" stroke="#e377c2" fill-opacity="0.5" stroke-opacity="0.5" stroke-width="0.9"><circle cx="166.7" cy="264.4"/><circle cx="232.1" cy="178.1"/><circle cx="208.7" cy="201.9"/><circle cx="99.2" cy="286.6"/><circle cx="248.5" cy="162.8"/><circle cx="232.9" cy="180.9"/><circle cx="125.0" cy="288.6"/><circle cx="143.1" cy="247.2"/><circle cx="228.2" cy="187.3"/><circle cx="159.6" cy="233.5"/><circle cx="124.4" cy="269.5"/><circle cx="137.0" cy="261.4"/><circle cx="150.5" cy="247.7"/><circle cx="205.7" cy="205.6"/><circle cx="94.6" cy="310.8"/><circle cx="199.6" cy="228.0"/><circle cx="228.7" cy="216.6"/><circle cx="269.4" cy="151.0"/><circle cx="161.1" cy="225.6"/><circle cx="269.2" cy="154.5"/><circle cx="220.8" cy="200.7"/><circle cx="140.0" cy="258.1"/><circle cx="163.0" cy="253.9"/><circle cx="166.2" cy="250.7"/><circle cx="222.3" cy="193.8"/><circle cx="206.1" cy="198.7"/><circle cx="116.7" cy="285.9"/><circle cx="88.1" cy="299.8"/><circle cx="119.7" cy="287.3"/><circle cx="243.5" cy="192.9"/><circle cx="172.6" cy="245.7"/><circle cx="214.0" cy="204.4"/><circle cx="143.3" cy="259.6"/><circle cx="85.6" cy="335.2"/><circle cx="112.8" cy="281.3"/><circle cx="142.8" cy="246.3"/><circle cx="126.7" cy="287.4"/><circle cx="234.5" cy="158.7"/><circle cx="267.7" cy="151.4"/><circle cx="230.1" cy="195.6"/><circle cx="179.7" cy="231.2"/><circle cx="174.8" cy="238.1"/><circle cx="200.9" cy="188.1"/><circle cx="217.1" cy="201.1"/><circle cx="133.2" cy="243.5"/><circle cx="100.1" cy="298.1"/><circle cx="246.1" cy="167.6"/><circle cx="63.6" cy="339.6"/><circle cx="112.2" cy="293.5"/><circle cx="78.8" cy="332.8"/><circle cx="255.0" cy="179.3"/><circle cx="119.9" cy="265.1"/><circle cx="76.0" cy="297.6"/><circle cx="230.1" cy="196.2"/><circle cx="123.8" cy="276.5"/><circle cx="71.2" cy="313.6"/><circle cx="63.0" cy="322.8"/><circle cx="173.4" cy="199.4"/><circle cx="128.8" cy="272.0"/><circle cx="93.6" cy="290.3"/><circle cx="345.6" cy="75.7"/><circle cx="342.1" cy="74.0"/><circle cx="354.4" cy="66.3"/><circle cx="354.8" cy="69.0"/><circle cx="351.4" cy="71.5"/><circle cx="347.4" cy="71.4"/><circle cx="347.9" cy="76.2"/><circle cx="347.7" cy="72.8"/><circle cx="342.8" cy="78.3"/><circle cx="350.1" cy="69.2"/><circle cx="354.3" cy="64.5"/><circle cx="345.3" cy="73.5"/><circle cx="345.2" cy="75.2"/><circle cx="343.9" cy="75.1"/><circle cx="343.3" cy="78.1"/></g><g fill="#9467bd" stroke="#9467bd" fill-opacity="0.5" stroke-opacity="0.5" stroke-width="0.9"><circle cx="121.2" cy="257.3"/><circle cx="101.6" cy="305.4"/><circle cx="214.9" cy="169.2"/><circle cx="239.9" cy="145.6"/><circle cx="178.7" cy="205.2"/><circle cx="141.7" cy="233.1"/><circle cx="124.7" cy="249.4"/><circle cx="137.7" cy="221.6"/><circle cx="139.2" cy="201.2"/><circle cx="127.8" cy="296.5"/><circle cx="83.0" cy="300.5"/><circle cx="244.1" cy="159.9"/><circle cx="107.1" cy="257.7"/><circle cx="86.0" cy="304.2"/><circle cx="224.6" cy="168.3"/><circle cx="213.8" cy="189.1"/><circle cx="135.7" cy="236.1"/><circle cx="197.5" cy="187.7"/><circle cx="166.0" cy="222.3"/><circle cx="101.3" cy="263.7"/><circle cx="206.6" cy="163.3"/><circle cx="84.5" cy="300.7"/><circle cx="180.7" cy="213.1"/><circle cx="93.2" cy="308.6"/><circle cx="208.9" cy="159.4"/><circle cx="93.3" cy="311.5"/><circle cx="120.6" cy="262.9"/><circle cx="239.0" cy="173.0"/><circle cx="123.5" cy="277.9"/><circle cx="83.4" cy="322.3"/><circle cx="112.0" cy="256.1"/><circle cx="193.9" cy="206.4"/><circle cx="129.4" cy="285.7"/><circle cx="91.3" cy="317.4"/><circle cx="80.7" cy="334.8"/><circle cx="201.4" cy="200.8"/><circle cx="170.5" cy="227.9"/><circle cx="154.0" cy="215.3"/><circle cx="176.5" cy="228.1"/><circle cx="161.7" cy="243.5"/><circle cx="192.6" cy="199.9"/><circle cx="123.0" cy="239.3"/><circle cx="154.9" cy="238.7"/><circle cx="145.9" cy="253.4"/><circle cx="92.0" cy="280.7"/><circle cx="123.9" cy="291.8"/><circle cx="122.8" cy="268.4"/><circle cx="211.1" cy="192.9"/><circle cx="247.5" cy="148.7"/><circle cx="145.6" cy="235.9"/><circle cx="72.2" cy="325.8"/><circle cx="211.8" cy="191.6"/><circle cx="69.6" cy="325.5"/><circle cx="168.6" cy="227.0"/><circle cx="127.9" cy="270.6"/><circle cx="211.0" cy="187.0"/><circle cx="104.6" cy="285.4"/><circle cx="78.1" cy="291.6"/><circle cx="95.2" cy="292.1"/><circle cx="126.2" cy="277.7"/></g><g fill="#bcbd22" stroke="#bcbd22" fill-opacity="0.5" stroke-opacity="0.5" stroke-width="0.9"><circle cx="120.8" cy="283.0"/><circle cx="131.1" cy="267.9"/><circle cx="105.1" cy="295.8"/><circle cx="128.5" cy="270.5"/><circle cx="122.1" cy="279.8"/><circle cx="130.7" cy="271.8"/><circle cx="134.2" cy="268.6"/><circle cx="127.7" cy="271.3"/><circle cx="105.6" cy="295.1"/><circle cx="120.3" cy="284.0"/><circle cx="117.4" cy="285.8"/><circle cx="132.1" cy="270.8"/><circle cx="116.3" cy="287.5"/><circle cx="113.1" cy="287.0"/><circle cx="125.9" cy="276.1"/><circle cx="109.4" cy="291.3"/><circle cx="112.0" cy="289.5"/><circle cx="111.3" cy="293.1"/><circle cx="134.2" cy="268.4"/><circle cx="116.3" cy="287.1"/><circle cx="111.7" cy="288.6"/><circle cx="103.5" cy="297.7"/><circle cx="127.1" cy="275.5"/><circle cx="107.0" cy="292.6"/><circle cx="113.1" cy="284.8"/><circle cx="113.5" cy="289.8"/><circle cx="133.8" cy="270.7"/><circle cx="127.4" cy="273.9"/><circle cx="119.9" cy="281.1"/><circle cx="121.9" cy="282.6"/><circle cx="133.8" cy="269.9"/><circle cx="111.1" cy="292.1"/><circle cx="134.2" cy="266.4"/><circle cx="128.4" cy="272.8"/><circle cx="121.6" cy="282.3"/><circle cx="121.4" cy="281.8"/><circle cx="136.2" cy="267.3"/><circle cx="113.2" cy="288.5"/><circle cx="114.6" cy="283.8"/><circle cx="118.4" cy="281.0"/><circle cx="131.5" cy="268.8"/><circle cx="123.9" cy="279.6"/><circle cx="109.3" cy="290.8"/><circle cx="109.9" cy="293.0"/><circle cx="135.1" cy="267.8"/><circle cx="109.7" cy="290.4"/><circle cx="135.3" cy="266.6"/><circle cx="130.8" cy="269.6"/><circle cx="129.8" cy="271.0"/><circle cx="123.2" cy="279.5"/><circle cx="115.2" cy="286.2"/><circle cx="104.7" cy="296.1"/><circle cx="123.0" cy="278.8"/><circle cx="109.3" cy="294.3"/><circle cx="104.9" cy="294.9"/><circle cx="114.1" cy="288.6"/><circle cx="116.5" cy="286.5"/><circle cx="134.8" cy="267.7"/><circle cx="125.6" cy="274.7"/><circle cx="121.9" cy="279.5"/><circle cx="120.8" cy="278.1"/><circle cx="118.7" cy="285.4"/><circle cx="116.5" cy="285.9"/><circle cx="132.6" cy="268.8"/><circle cx="105.5" cy="296.8"/><circle cx="132.6" cy="271.3"/><circle cx="116.4" cy="287.0"/><circle cx="103.8" cy="298.9"/><circle cx="125.6" cy="276.8"/><circle cx="106.0" cy="296.1"/><circle cx="114.5" cy="287.8"/><circle cx="123.5" cy="279.9"/><circle cx="116.5" cy="287.9"/><circle cx="106.6" cy="293.1"/><circle cx="117.9" cy="281.5"/><circle cx="117.2" cy="284.6"/><circle cx="134.2" cy="265.8"/><circle cx="110.6" cy="289.7"/><circle cx="108.2" cy="292.2"/><circle cx="126.7" cy="276.0"/><circle cx="117.8" cy="304.0"/><circle cx="153.7" cy="255.4"/><circle cx="184.8" cy="227.9"/><circle cx="125.7" cy="286.8"/><circle cx="122.3" cy="304.5"/><circle cx="107.3" cy="296.6"/><circle cx="188.2" cy="229.3"/><circle cx="135.4" cy="260.2"/><circle cx="112.3" cy="294.8"/><circle cx="169.0" cy="259.3"/><circle cx="181.6" cy="217.2"/><circle cx="174.3" cy="252.6"/><circle cx="195.9" cy="237.3"/><circle cx="100.7" cy="282.5"/><circle cx="177.2" cy="224.8"/><circle cx="114.3" cy="282.1"/><circle cx="211.3" cy="203.5"/><circle cx="228.8" cy="186.5"/><circle cx="135.6" cy="287.1"/><circle cx="230.2" cy="186.7"/><circle cx="157.9" cy="260.5"/><circle cx="230.5" cy="200.2"/><circle cx="210.9" cy="181.7"/><circle cx="204.8" cy="218.5"/><circle cx="158.9" cy="239.6"/><circle cx="208.9" cy="216.6"/><circle cx="125.3" cy="283.8"/><circle cx="140.1" cy="283.1"/><circle cx="219.6" cy="197.1"/><circle cx="185.3" cy="227.2"/></g><g fill="#8c564b" stroke="#8c564b" fill-opacity="0.5" stroke-opacity="0.5" stroke-width="0.9"><circle cx="78.4" cy="314.4"/><circle cx="70.3" cy="329.4"/><circle cx="61.6" cy="340.7"/><circle cx="90.4" cy="313.1"/><circle cx="88.0" cy="306.4"/><circle cx="81.4" cy="320.7"/><circle cx="78.8" cy="313.9"/><circle cx="94.3" cy="301.0"/><circle cx="77.6" cy="317.7"/><circle cx="76.8" cy="322.4"/><circle cx="76.3" cy="325.5"/><circle cx="97.0" cy="302.1"/><circle cx="88.8" cy="301.9"/><circle cx="78.4" cy="318.6"/><circle cx="87.1" cy="313.6"/><circle cx="79.7" cy="316.5"/><circle cx="93.6" cy="295.7"/><circle cx="74.6" cy="323.2"/><circle cx="68.4" cy="327.7"/><circle cx="96.6" cy="298.6"/><circle cx="85.5" cy="319.3"/><circle cx="84.3" cy="318.0"/><circle cx="65.8" cy="336.0"/><circle cx="93.1" cy="300.1"/><circle cx="68.7" cy="321.9"/><circle cx="82.4" cy="314.1"/><circle cx="66.8" cy="332.9"/><circle cx="71.6" cy="323.5"/><circle cx="94.7" cy="298.0"/><circle cx="96.4" cy="298.4"/><circle cx="63.2" cy="337.1"/><circle cx="81.1" cy="308.3"/><circle cx="85.2" cy="310.9"/><circle cx="76.8" cy="328.8"/><circle cx="92.3" cy="294.8"/><circle cx="81.8" cy="315.3"/><circle cx="84.8" cy="305.3"/><circle cx="85.5" cy="313.0"/><circle cx="95.5" cy="307.6"/><circle cx="77.7" cy="322.7"/><circle cx="63.2" cy="344.5"/><circle cx="63.5" cy="336.5"/><circle cx="89.0" cy="308.0"/><circle cx="86.2" cy="314.6"/><circle cx="66.0" cy="340.5"/><circle cx="96.5" cy="296.1"/><circle cx="61.3" cy="336.7"/><circle cx="71.1" cy="327.4"/><circle cx="74.7" cy="327.3"/><circle cx="89.8" cy="300.6"/><circle cx="73.7" cy="334.6"/><circle cx="88.0" cy="313.2"/><circle cx="84.4" cy="313.2"/><circle cx="100.7" cy="300.5"/><circle cx="75.6" cy="322.8"/><circle cx="77.5" cy="322.3"/><circle cx="90.7" cy="305.0"/></g><g fill="#7f7f7f" stroke="#7f7f7f" fill-opacity="0.5" stroke-opacity="0.5" stroke-width="0.9"><circle cx="65.3" cy="336.0"/><circle cx="90.5" cy="305.9"/><circle cx="84.5" cy="311.5"/><circle cx="76.9" cy="316.0"/><circle cx="82.2" cy="315.3"/><circle cx="80.2" cy="327.3"/><circle cx="80.9" cy="313.6"/><circle cx="64.0" cy="337.2"/><circle cx="78.6" cy="318.7"/><circle cx="73.0" cy="327.3"/><circle cx="72.9" cy="330.8"/><circle cx="66.6" cy="341.9"/><circle cx="72.7" cy="324.7"/><circle cx="86.5" cy="306.1"/><circle cx="98.2" cy="304.9"/><circle cx="92.0" cy="306.6"/><circle cx="86.4" cy="320.8"/><circle cx="96.6" cy="307.0"/><circle cx="90.9" cy="300.1"/><circle cx="84.4" cy="313.8"/><circle cx="68.0" cy="325.3"/><circle cx="75.4" cy="332.1"/><circle cx="92.0" cy="302.9"/><circle cx="63.8" cy="333.0"/><circle cx="92.5" cy="298.2"/><circle cx="74.4" cy="314.9"/><circle cx="80.6" cy="315.4"/><circle cx="93.6" cy="299.2"/><circle cx="88.6" cy="305.5"/><circle cx="73.6" cy="322.4"/><circle cx="88.6" cy="306.1"/><circle cx="88.3" cy="308.1"/><circle cx="97.6" cy="297.7"/><circle cx="83.3" cy="310.7"/><circle cx="82.3" cy="317.9"/><circle cx="69.8" cy="335.3"/><circle cx="95.8" cy="293.8"/><circle cx="89.2" cy="308.4"/><circle cx="70.7" cy="331.4"/><circle cx="84.8" cy="310.7"/><circle cx="77.7" cy="323.7"/><circle cx="78.9" cy="324.6"/><circle cx="69.1" cy="326.7"/><circle cx="63.1" cy="332.8"/><circle cx="85.4" cy="316.5"/><circle cx="97.6" cy="297.7"/><circle cx="70.2" cy="323.8"/><circle cx="85.1" cy="307.9"/><circle cx="68.1" cy="328.9"/><circle cx="80.0" cy="320.4"/><circle cx="93.0" cy="301.2"/><circle cx="65.8" cy="330.1"/><circle cx="73.4" cy="332.2"/><circle cx="79.4" cy="314.1"/><circle cx="71.1" cy="327.9"/><circle cx="76.9" cy="325.1"/><circle cx="75.1" cy="321.0"/><circle cx="64.4" cy="334.9"/><circle cx="89.8" cy="309.3"/><circle cx="108.3" cy="320.8"/><circle cx="121.8" cy="315.9"/><circle cx="103.3" cy="323.7"/><circle cx="108.8" cy="319.8"/><circle cx="88.9" cy="337.2"/><circle cx="96.9" cy="333.0"/><circle cx="86.5" cy="339.5"/><circle cx="100.0" cy="327.7"/><circle cx="81.8" cy="344.3"/><circle cx="96.0" cy="338.5"/><circle cx="92.7" cy="332.3"/><circle cx="121.3" cy="311.6"/><circle cx="98.1" cy="330.7"/><circle cx="74.8" cy="350.3"/><circle cx="101.2" cy="338.7"/><circle cx="113.7" cy="318.4"/><circle cx="121.0" cy="313.3"/><circle cx="82.7" cy="341.0"/><circle cx="108.1" cy="321.5"/><circle cx="80.3" cy="346.9"/><circle cx="108.6" cy="320.3"/><circle cx="90.0" cy="337.4"/><circle cx="101.8" cy="326.6"/><circle cx="110.7" cy="320.7"/><circle cx="109.2" cy="319.6"/><circle cx="92.0" cy="333.0"/><circle cx="70.4" cy="350.8"/><circle cx="103.7" cy="320.7"/><circle cx="88.5" cy="334.3"/><circle cx="115.9" cy="314.4"/><circle cx="73.8" cy="351.0"/><circle cx="110.6" cy="321.1"/><circle cx="87.0" cy="338.7"/><circle cx="91.6" cy="335.1"/><circle cx="87.3" cy="341.4"/><circle cx="116.5" cy="314.0"/><circle cx="103.0" cy="326.0"/><circle cx="93.9" cy="333.1"/><circle cx="98.4" cy="335.4"/><circle cx="119.7" cy="318.4"/><circle cx="115.4" cy="315.5"/><circle cx="87.1" cy="335.7"/><circle cx="71.1" cy="348.4"/><circle cx="110.1" cy="319.0"/><circle cx="107.6" cy="320.2"/><circle cx="108.7" cy="326.4"/><circle cx="110.3" cy="317.6"/><circle cx="99.2" cy="327.7"/></g><g fill="#17becf" stroke="#17becf" fill-opacity="0.5" stroke-opacity="0.5" stroke-width="0.9"><circle cx="88.8" cy="335.1"/><circle cx="78.8" cy="345.9"/><circle cx="93.4" cy="330.2"/><circle cx="77.9" cy="344.0"/><circle cx="87.0" cy="337.9"/><circle cx="72.7" cy="351.6"/><circle cx="106.5" cy="321.4"/><circle cx="118.0" cy="313.6"/><circle cx="79.4" cy="343.3"/><circle cx="78.5" cy="345.3"/><circle cx="97.7" cy="324.9"/><circle cx="109.0" cy="316.7"/><circle cx="105.6" cy="322.3"/><circle cx="111.0" cy="317.6"/><circle cx="71.8" cy="350.8"/><circle cx="72.9" cy="350.7"/><circle cx="77.3" cy="343.8"/><circle cx="118.3" cy="311.5"/><circle cx="90.9" cy="337.9"/><circle cx="122.1" cy="308.3"/><circle cx="75.5" cy="351.4"/><circle cx="82.8" cy="340.9"/><circle cx="118.8" cy="309.1"/><circle cx="83.7" cy="340.7"/><circle cx="91.0" cy="336.6"/><circle cx="79.2" cy="344.5"/><circle cx="94.6" cy="329.0"/><circle cx="114.3" cy="314.2"/><circle cx="95.6" cy="332.7"/><circle cx="93.9" cy="333.2"/><circle cx="103.0" cy="323.5"/><circle cx="125.0" cy="305.2"/><circle cx="99.9" cy="325.5"/><circle cx="107.2" cy="321.2"/><circle cx="126.2" cy="309.7"/><circle cx="83.1" cy="340.9"/><circle cx="73.9" cy="346.0"/><circle cx="121.0" cy="307.0"/><circle cx="84.1" cy="342.8"/><circle cx="105.7" cy="322.5"/><circle cx="94.8" cy="331.9"/><circle cx="69.0" cy="349.9"/><circle cx="74.3" cy="347.5"/><circle cx="78.5" cy="347.4"/><circle cx="78.5" cy="345.7"/><circle cx="111.6" cy="313.8"/><circle cx="103.8" cy="321.7"/><circle cx="113.5" cy="314.8"/><circle cx="120.3" cy="311.8"/><circle cx="106.1" cy="323.9"/><circle cx="90.0" cy="330.1"/><circle cx="126.5" cy="304.6"/><circle cx="94.7" cy="332.6"/><circle cx="73.9" cy="349.1"/><circle cx="71.0" cy="346.7"/><circle cx="105.9" cy="318.3"/><circle cx="128.2" cy="301.2"/><circle cx="86.8" cy="338.1"/><circle cx="120.5" cy="307.2"/><circle cx="103.9" cy="320.1"/><circle cx="87.4" cy="336.8"/><circle cx="122.1" cy="308.3"/><circle cx="71.9" cy="349.8"/><circle cx="86.0" cy="337.1"/><circle cx="86.4" cy="338.6"/><circle cx="113.0" cy="318.8"/><circle cx="86.8" cy="334.2"/><circle cx="83.3" cy="339.0"/><circle cx="123.3" cy="307.9"/><circle cx="88.7" cy="335.1"/><circle cx="107.2" cy="318.4"/><circle cx="83.3" cy="338.3"/><circle cx="107.6" cy="320.1"/><circle cx="87.8" cy="337.2"/><circle cx="85.0" cy="339.2"/><circle cx="128.0" cy="301.7"/><circle cx="92.6" cy="336.4"/><circle cx="113.9" cy="311.2"/><circle cx="99.5" cy="326.9"/></g><g fill="#1f77b4" stroke="#1f77b4" fill-opacity="0.5" stroke-opacity="0.5" stroke-width="0.9"><circle cx="101.2" cy="312.3"/><circle cx="82.4" cy="334.6"/><circle cx="98.8" cy="313.1"/><circle cx="136.7" cy="280.0"/><circle cx="76.8" cy="342.8"/><circle cx="139.2" cy="281.3"/><circle cx="143.1" cy="278.5"/><circle cx="77.0" cy="336.8"/><circle cx="149.0" cy="270.4"/><circle cx="93.4" cy="324.0"/><circle cx="119.2" cy="305.1"/><circle cx="150.9" cy="265.5"/><circle cx="66.2" cy="350.2"/><circle cx="111.4" cy="309.3"/><circle cx="116.9" cy="310.6"/><circle cx="78.1" cy="336.2"/><circle cx="71.6" cy="345.3"/><circle cx="106.4" cy="318.2"/><circle cx="76.6" cy="337.4"/><circle cx="76.2" cy="342.3"/><circle cx="119.0" cy="294.9"/><circle cx="143.4" cy="279.4"/><circle cx="130.0" cy="280.7"/><circle cx="94.9" cy="320.4"/><circle cx="149.9" cy="278.5"/><circle cx="124.0" cy="293.1"/><circle cx="87.7" cy="342.0"/><circle cx="77.3" cy="342.2"/><circle cx="111.0" cy="303.0"/><circle cx="140.8" cy="282.5"/><circle cx="111.6" cy="305.3"/><circle cx="82.0" cy="330.7"/><circle cx="77.0" cy="336.7"/><circle cx="65.8" cy="344.9"/><circle cx="134.7" cy="289.4"/><circle cx="150.9" cy="270.0"/><circle cx="156.3" cy="261.9"/><circle cx="112.7" cy="301.9"/><circle cx="102.2" cy="321.8"/><circle cx="105.6" cy="319.4"/><circle cx="82.1" cy="341.1"/><circle cx="157.2" cy="264.6"/><circle cx="74.9" cy="339.2"/><circle cx="108.4" cy="311.4"/><circle cx="79.4" cy="337.1"/><circle cx="69.9" cy="342.7"/><circle cx="84.6" cy="339.4"/><circle cx="105.6" cy="315.7"/><circle cx="155.9" cy="273.5"/><circle cx="61.3" cy="350.4"/><circle cx="118.1" cy="299.4"/><circle cx="148.8" cy="263.7"/><circle cx="125.5" cy="306.2"/><circle cx="144.2" cy="284.2"/><circle cx="98.9" cy="322.6"/><circle cx="137.8" cy="280.6"/><circle cx="108.2" cy="308.6"/><circle cx="151.5" cy="265.0"/><circle cx="88.6" cy="326.0"/><circle cx="85.5" cy="336.5"/><circle cx="126.1" cy="297.7"/><circle cx="103.8" cy="318.5"/><circle cx="61.7" cy="349.4"/><circle cx="65.8" cy="346.0"/><circle cx="109.8" cy="305.0"/><circle cx="147.7" cy="273.3"/><circle cx="79.8" cy="335.4"/><circle cx="129.2" cy="288.3"/><circle cx="99.8" cy="313.7"/><circle cx="138.7" cy="284.9"/><circle cx="128.3" cy="292.9"/><circle cx="103.6" cy="324.5"/><circle cx="94.2" cy="317.2"/><circle cx="137.0" cy="288.4"/><circle cx="69.2" cy="345.7"/><circle cx="146.1" cy="281.5"/><circle cx="145.6" cy="271.3"/><circle cx="146.4" cy="270.7"/><circle cx="77.9" cy="338.5"/><circle cx="86.2" cy="333.6"/><circle cx="102.1" cy="302.0"/><circle cx="153.9" cy="262.1"/><circle cx="124.7" cy="291.9"/><circle cx="150.7" cy="269.6"/><circle cx="156.3" cy="263.2"/><circle cx="149.1" cy="266.1"/><circle cx="64.7" cy="350.1"/><circle cx="105.3" cy="307.7"/><circle cx="127.0" cy="294.1"/><circle cx="143.2" cy="273.0"/><circle cx="109.2" cy="308.3"/><circle cx="96.9" cy="317.9"/><circle cx="88.5" cy="328.0"/><circle cx="78.8" cy="339.0"/><circle cx="157.6" cy="262.7"/><circle cx="151.3" cy="267.9"/><circle cx="66.4" cy="348.3"/><circle cx="83.0" cy="339.2"/><circle cx="128.4" cy="286.8"/><circle cx="128.0" cy="292.2"/><circle cx="69.5" cy="342.9"/><circle cx="97.8" cy="317.2"/><circle cx="74.4" cy="344.2"/><circle cx="100.5" cy="321.5"/><circle cx="145.3" cy="271.1"/><circle cx="113.2" cy="305.8"/><circle cx="134.3" cy="284.9"/><circle cx="117.4" cy="301.6"/><circle cx="127.8" cy="285.0"/><circle cx="83.0" cy="332.7"/><circle cx="127.4" cy="294.5"/><circle cx="98.4" cy="322.5"/><circle cx="84.2" cy="334.7"/><circle cx="109.3" cy="305.9"/><circle cx="79.2" cy="343.7"/><circle cx="104.8" cy="315.8"/><circle cx="141.4" cy="281.1"/><circle cx="101.8" cy="312.8"/><circle cx="77.4" cy="342.2"/><circle cx="69.5" cy="346.8"/><circle cx="131.1" cy="289.2"/><circle cx="71.2" cy="344.3"/><circle cx="78.8" cy="342.0"/><circle cx="149.1" cy="263.9"/><circle cx="145.3" cy="258.4"/><circle cx="158.3" cy="266.1"/><circle cx="141.2" cy="272.5"/><circle cx="114.7" cy="302.4"/><circle cx="73.8" cy="338.4"/><circle cx="88.3" cy="329.1"/><circle cx="123.1" cy="290.2"/><circle cx="79.2" cy="331.9"/><circle cx="148.9" cy="263.2"/><circle cx="126.3" cy="299.4"/><circle cx="81.8" cy="333.1"/><circle cx="111.3" cy="298.0"/><circle cx="110.0" cy="299.8"/><circle cx="144.2" cy="276.6"/><circle cx="134.4" cy="288.5"/><circle cx="79.8" cy="327.0"/><circle cx="88.2" cy="329.9"/><circle cx="79.5" cy="335.9"/><circle cx="65.9" cy="346.7"/><circle cx="117.1" cy="301.2"/><circle cx="139.7" cy="284.3"/><circle cx="66.3" cy="346.8"/><circle cx="122.2" cy="296.6"/><circle cx="153.3" cy="267.2"/><circle cx="136.9" cy="278.2"/><circle cx="133.7" cy="282.0"/><circle cx="95.5" cy="314.4"/><circle cx="120.1" cy="291.6"/><circle cx="100.8" cy="320.7"/><circle cx="85.8" cy="325.6"/><circle cx="133.7" cy="286.8"/><circle cx="71.6" cy="336.4"/><circle cx="129.8" cy="295.9"/><circle cx="74.9" cy="341.2"/><circle cx="99.2" cy="325.6"/><circle cx="137.8" cy="273.6"/><circle cx="117.9" cy="298.9"/><circle cx="84.0" cy="332.9"/><circle cx="93.3" cy="328.2"/><circle cx="143.1" cy="281.9"/><circle cx="99.5" cy="324.2"/><circle cx="129.0" cy="296.3"/><circle cx="147.8" cy="272.0"/><circle cx="76.8" cy="340.6"/><circle cx="74.0" cy="335.6"/><circle cx="75.7" cy="344.7"/><circle cx="144.2" cy="278.9"/><circle cx="71.8" cy="345.8"/><circle cx="64.5" cy="348.1"/><circle cx="150.5" cy="269.7"/><circle cx="100.0" cy="321.5"/><circle cx="140.6" cy="274.6"/><circle cx="75.0" cy="338.6"/><circle cx="107.9" cy="319.5"/><circle cx="76.0" cy="335.0"/><circle cx="120.6" cy="295.2"/><circle cx="68.7" cy="346.7"/><circle cx="147.0" cy="270.2"/><circle cx="85.9" cy="316.3"/><circle cx="124.4" cy="291.2"/><circle cx="72.0" cy="344.8"/><circle cx="136.0" cy="285.4"/><circle cx="117.1" cy="305.6"/><circle cx="116.1" cy="292.0"/><circle cx="148.5" cy="256.0"/><circle cx="103.3" cy="308.9"/><circle cx="84.6" cy="329.1"/><circle cx="121.6" cy="286.4"/><circle cx="137.5" cy="285.5"/><circle cx="109.8" cy="307.0"/><circle cx="137.8" cy="276.8"/><circle cx="101.8" cy="315.0"/><circle cx="69.9" cy="342.7"/><circle cx="130.2" cy="295.4"/><circle cx="83.4" cy="341.5"/><circle cx="96.6" cy="320.1"/><circle cx="146.4" cy="264.9"/><circle cx="143.8" cy="271.4"/><circle cx="157.8" cy="271.0"/><circle cx="150.0" cy="266.3"/><circle cx="144.2" cy="279.4"/><circle cx="93.3" cy="336.8"/><circle cx="138.9" cy="267.5"/><circle cx="128.8" cy="284.5"/><circle cx="124.4" cy="297.2"/><circle cx="138.8" cy="281.7"/><circle cx="115.2" cy="292.9"/><circle cx="104.5" cy="310.0"/><circle cx="103.3" cy="298.5"/><circle cx="73.0" cy="342.2"/><circle cx="106.0" cy="317.6"/><circle cx="111.8" cy="306.6"/><circle cx="99.4" cy="311.4"/><circle cx="124.8" cy="289.7"/><circle cx="88.0" cy="330.8"/><circle cx="129.8" cy="294.1"/><circle cx="79.9" cy="334.6"/><circle cx="87.8" cy="323.7"/><circle cx="140.6" cy="266.8"/><circle cx="152.9" cy="275.7"/><circle cx="102.2" cy="319.6"/><circle cx="85.8" cy="329.7"/><circle cx="138.4" cy="280.8"/><circle cx="138.6" cy="283.0"/><circle cx="107.7" cy="307.7"/><circle cx="95.8" cy="326.5"/><circle cx="151.6" cy="282.3"/><circle cx="149.7" cy="261.7"/><circle cx="147.5" cy="275.3"/><circle cx="81.9" cy="337.8"/><circle cx="84.9" cy="328.1"/><circle cx="97.4" cy="317.0"/><circle cx="160.0" cy="265.9"/><circle cx="72.8" cy="338.4"/><circle cx="114.2" cy="305.4"/><circle cx="145.5" cy="271.7"/><circle cx="114.4" cy="302.5"/><circle cx="144.1" cy="269.1"/><circle cx="64.0" cy="347.4"/><circle cx="100.8" cy="316.6"/><circle cx="71.0" cy="344.9"/><circle cx="67.8" cy="340.6"/><circle cx="144.2" cy="279.9"/><circle cx="74.8" cy="346.1"/><circle cx="112.7" cy="305.4"/><circle cx="136.6" cy="287.9"/><circle cx="95.5" cy="323.6"/><circle cx="86.8" cy="326.0"/><circle cx="73.8" cy="329.2"/><circle cx="119.8" cy="292.3"/><circle cx="141.8" cy="280.8"/><circle cx="120.1" cy="301.5"/><circle cx="98.8" cy="324.5"/><circle cx="93.4" cy="321.9"/><circle cx="136.8" cy="271.3"/><circle cx="150.3" cy="268.5"/><circle cx="147.8" cy="279.1"/><circle cx="81.2" cy="325.9"/><circle cx="107.1" cy="307.8"/><circle cx="88.4" cy="329.2"/><circle cx="63.4" cy="347.3"/><circle cx="76.9" cy="338.2"/><circle cx="121.9" cy="296.4"/><circle cx="153.6" cy="274.0"/><circle cx="128.2" cy="293.1"/><circle cx="112.2" cy="297.1"/><circle cx="117.9" cy="298.0"/><circle cx="150.6" cy="266.1"/><circle cx="98.6" cy="326.4"/><circle cx="78.5" cy="323.8"/><circle cx="149.0" cy="272.6"/><circle cx="111.9" cy="304.4"/><circle cx="108.2" cy="298.3"/><circle cx="83.2" cy="332.7"/><circle cx="162.7" cy="270.2"/><circle cx="108.7" cy="304.3"/><circle cx="131.4" cy="295.7"/><circle cx="145.6" cy="274.3"/><circle cx="100.3" cy="315.1"/><circle cx="63.6" cy="345.9"/><circle cx="105.1" cy="302.4"/><circle cx="77.5" cy="331.3"/><circle cx="109.2" cy="310.9"/><circle cx="121.3" cy="298.6"/><circle cx="93.6" cy="320.4"/><circle cx="80.6" cy="333.5"/><circle cx="149.3" cy="272.8"/><circle cx="70.8" cy="345.2"/><circle cx="122.0" cy="303.6"/><circle cx="127.8" cy="293.7"/><circle cx="117.9" cy="309.7"/><circle cx="129.4" cy="286.8"/><circle cx="81.5" cy="336.5"/><circle cx="65.1" cy="343.1"/><circle cx="94.8" cy="320.2"/><circle cx="146.2" cy="271.7"/><circle cx="95.7" cy="319.6"/><circle cx="111.4" cy="302.0"/><circle cx="95.8" cy="321.0"/><circle cx="132.7" cy="290.2"/><circle cx="120.3" cy="299.1"/><circle cx="126.4" cy="287.4"/><circle cx="90.3" cy="320.7"/><circle cx="91.5" cy="319.1"/><circle cx="72.8" cy="341.1"/><circle cx="90.1" cy="324.1"/><circle cx="160.8" cy="264.0"/><circle cx="145.3" cy="263.4"/><circle cx="115.6" cy="306.8"/><circle cx="99.8" cy="320.9"/><circle cx="154.9" cy="263.2"/><circle cx="123.4" cy="294.1"/><circle cx="67.6" cy="349.3"/><circle cx="79.1" cy="335.3"/><circle cx="147.2" cy="266.9"/><circle cx="147.3" cy="267.5"/><circle cx="94.0" cy="330.6"/><circle cx="86.9" cy="329.2"/><circle cx="94.2" cy="328.6"/><circle cx="80.7" cy="336.8"/><circle cx="123.2" cy="287.7"/><circle cx="65.8" cy="348.1"/><circle cx="90.0" cy="335.8"/><circle cx="91.8" cy="327.6"/><circle cx="93.6" cy="314.9"/><circle cx="81.7" cy="333.7"/><circle cx="69.3" cy="348.8"/><circle cx="119.1" cy="294.0"/><circle cx="126.9" cy="289.1"/><circle cx="104.0" cy="311.6"/><circle cx="77.0" cy="328.9"/><circle cx="68.0" cy="336.8"/><circle cx="113.3" cy="306.1"/><circle cx="89.1" cy="328.6"/><circle cx="148.3" cy="268.7"/><circle cx="109.8" cy="314.0"/><circle cx="134.7" cy="282.9"/><circle cx="109.3" cy="313.2"/><circle cx="156.6" cy="266.6"/><circle cx="150.0" cy="278.6"/><circle cx="118.7" cy="289.7"/><circle cx="147.5" cy="280.5"/><circle cx="144.5" cy="283.1"/><circle cx="76.9" cy="338.7"/><circle cx="98.5" cy="325.5"/><circle cx="129.8" cy="289.4"/><circle cx="100.0" cy="320.8"/><circle cx="104.9" cy="315.7"/><circle cx="118.9" cy="294.6"/><circle cx="117.5" cy="290.6"/><circle cx="147.4" cy="271.9"/><circle cx="154.1" cy="268.7"/><circle cx="147.6" cy="270.6"/><circle cx="127.1" cy="292.1"/><circle cx="131.7" cy="289.7"/><circle cx="107.4" cy="314.7"/><circle cx="87.2" cy="330.7"/><circle cx="145.1" cy="278.1"/><circle cx="148.3" cy="271.7"/><circle cx="134.2" cy="287.5"/><circle cx="96.1" cy="315.2"/><circle cx="105.9" cy="310.9"/><circle cx="127.2" cy="291.6"/><circle cx="87.3" cy="319.2"/><circle cx="148.4" cy="257.8"/><circle cx="113.0" cy="304.7"/><circle cx="112.4" cy="307.0"/><circle cx="129.9" cy="294.5"/><circle cx="86.0" cy="328.5"/><circle cx="99.4" cy="320.3"/><circle cx="149.9" cy="264.8"/><circle cx="96.9" cy="314.0"/><circle cx="114.7" cy="307.2"/><circle cx="119.1" cy="295.0"/><circle cx="108.3" cy="307.4"/><circle cx="86.4" cy="343.1"/><circle cx="112.3" cy="310.8"/><circle cx="108.3" cy="308.4"/><circle cx="148.9" cy="273.0"/><circle cx="138.6" cy="282.1"/><circle cx="138.4" cy="279.0"/><circle cx="116.8" cy="305.3"/><circle cx="90.6" cy="321.2"/><circle cx="129.2" cy="288.1"/><circle cx="114.6" cy="302.9"/><circle cx="116.1" cy="309.0"/><circle cx="111.0" cy="301.1"/><circle cx="144.6" cy="267.5"/><circle cx="91.3" cy="326.5"/><circle cx="69.5" cy="344.3"/><circle cx="127.2" cy="294.3"/><circle cx="116.5" cy="304.1"/><circle cx="62.8" cy="349.9"/><circle cx="137.6" cy="283.9"/><circle cx="89.3" cy="327.5"/><circle cx="94.3" cy="320.1"/><circle cx="107.1" cy="315.7"/><circle cx="108.4" cy="304.6"/><circle cx="122.4" cy="305.2"/><circle cx="104.6" cy="316.7"/><circle cx="93.0" cy="317.6"/><circle cx="97.4" cy="314.3"/><circle cx="97.5" cy="319.3"/><circle cx="144.1" cy="275.1"/><circle cx="148.1" cy="269.5"/><circle cx="66.6" cy="350.2"/><circle cx="156.0" cy="262.8"/><circle cx="99.7" cy="312.0"/><circle cx="92.3" cy="322.1"/><circle cx="141.5" cy="282.9"/><circle cx="145.7" cy="278.4"/><circle cx="149.7" cy="279.5"/><circle cx="132.6" cy="278.6"/><circle cx="106.6" cy="305.0"/><circle cx="71.7" cy="340.4"/><circle cx="97.0" cy="324.1"/><circle cx="116.5" cy="290.7"/><circle cx="93.1" cy="332.8"/><circle cx="111.9" cy="299.7"/><circle cx="119.1" cy="293.4"/><circle cx="108.0" cy="314.8"/><circle cx="111.3" cy="305.6"/><circle cx="86.0" cy="335.9"/><circle cx="123.4" cy="297.4"/><circle cx="112.3" cy="309.9"/><circle cx="78.6" cy="334.7"/><circle cx="134.1" cy="276.0"/><circle cx="87.8" cy="318.4"/><circle cx="95.2" cy="328.9"/><circle cx="111.2" cy="303.3"/><circle cx="77.6" cy="339.5"/><circle cx="129.5" cy="287.1"/><circle cx="119.7" cy="307.5"/><circle cx="110.3" cy="315.1"/><circle cx="128.5" cy="282.4"/><circle cx="82.6" cy="339.3"/><circle cx="73.7" cy="338.6"/><circle cx="136.4" cy="282.6"/><circle cx="88.8" cy="324.3"/><circle cx="112.6" cy="307.9"/><circle cx="128.9" cy="282.9"/><circle cx="62.5" cy="352.2"/><circle cx="137.6" cy="281.5"/><circle cx="71.7" cy="343.1"/><circle cx="99.0" cy="318.7"/><circle cx="140.7" cy="285.6"/><circle cx="71.0" cy="344.9"/><circle cx="120.2" cy="295.4"/><circle cx="135.4" cy="283.0"/><circle cx="65.0" cy="352.2"/><circle cx="100.6" cy="317.7"/><circle cx="128.4" cy="296.1"/><circle cx="90.3" cy="324.6"/><circle cx="129.9" cy="291.5"/><circle cx="102.9" cy="312.4"/><circle cx="117.5" cy="298.2"/><circle cx="136.7" cy="278.5"/><circle cx="128.4" cy="288.3"/><circle cx="136.7" cy="279.6"/><circle cx="99.7" cy="322.7"/><circle cx="89.7" cy="321.9"/><circle cx="96.8" cy="319.3"/><circle cx="138.1" cy="279.4"/><circle cx="109.9" cy="306.9"/><circle cx="108.0" cy="299.7"/><circle cx="89.8" cy="329.7"/><circle cx="119.8" cy="288.6"/><circle cx="100.0" cy="301.9"/><circle cx="91.3" cy="325.0"/><circle cx="123.7" cy="297.7"/><circle cx="112.2" cy="315.1"/><circle cx="77.2" cy="336.9"/><circle cx="88.6" cy="327.7"/><circle cx="143.3" cy="282.5"/><circle cx="68.8" cy="349.3"/><circle cx="121.4" cy="308.5"/><circle cx="94.6" cy="319.0"/><circle cx="85.4" cy="337.8"/><circle cx="125.5" cy="294.3"/><circle cx="122.9" cy="293.1"/><circle cx="152.4" cy="261.8"/><circle cx="156.3" cy="263.2"/><circle cx="124.9" cy="296.0"/><circle cx="111.8" cy="303.9"/><circle cx="135.6" cy="287.4"/><circle cx="107.2" cy="314.9"/><circle cx="111.1" cy="315.5"/><circle cx="62.9" cy="352.1"/><circle cx="94.5" cy="327.1"/><circle cx="124.3" cy="291.5"/><circle cx="85.4" cy="326.2"/><circle cx="87.5" cy="331.5"/><circle cx="115.8" cy="300.1"/><circle cx="144.9" cy="273.2"/><circle cx="157.5" cy="263.3"/><circle cx="107.3" cy="302.1"/><circle cx="118.1" cy="300.0"/><circle cx="117.0" cy="295.3"/><circle cx="112.1" cy="307.5"/><circle cx="115.1" cy="292.6"/><circle cx="121.2" cy="297.3"/><circle cx="136.7" cy="285.6"/><circle cx="107.2" cy="311.6"/><circle cx="119.6" cy="297.9"/><circle cx="88.2" cy="325.4"/><circle cx="135.2" cy="287.3"/><circle cx="125.8" cy="282.9"/><circle cx="143.5" cy="275.1"/><circle cx="132.5" cy="280.6"/><circle cx="78.3" cy="341.2"/><circle cx="65.8" cy="348.1"/><circle cx="66.6" cy="350.2"/><circle cx="101.1" cy="310.8"/><circle cx="97.3" cy="322.1"/><circle cx="114.7" cy="306.2"/><circle cx="110.7" cy="306.7"/><circle cx="98.8" cy="318.4"/><circle cx="127.9" cy="290.9"/><circle cx="144.6" cy="274.3"/><circle cx="133.3" cy="280.6"/><circle cx="140.6" cy="272.0"/><circle cx="127.6" cy="280.8"/><circle cx="128.3" cy="288.7"/><circle cx="98.7" cy="321.5"/><circle cx="96.3" cy="310.9"/><circle cx="139.3" cy="279.5"/><circle cx="75.2" cy="336.5"/><circle cx="143.9" cy="274.2"/><circle cx="133.8" cy="283.6"/><circle cx="97.7" cy="325.4"/><circle cx="86.7" cy="330.9"/><circle cx="90.7" cy="326.4"/><circle cx="112.0" cy="308.6"/><circle cx="100.2" cy="316.9"/><circle cx="77.7" cy="338.1"/><circle cx="100.0" cy="318.6"/><circle cx="115.0" cy="300.7"/><circle cx="79.5" cy="337.3"/><circle cx="129.4" cy="295.4"/><circle cx="119.0" cy="297.6"/><circle cx="154.5" cy="264.5"/><circle cx="141.0" cy="282.6"/><circle cx="87.5" cy="336.6"/><circle cx="128.5" cy="289.5"/><circle cx="121.2" cy="294.8"/><circle cx="120.0" cy="290.9"/><circle cx="101.6" cy="318.4"/><circle cx="134.2" cy="280.1"/><circle cx="93.7" cy="318.0"/><circle cx="86.9" cy="332.3"/><circle cx="82.3" cy="328.4"/><circle cx="87.2" cy="320.1"/><circle cx="103.3" cy="316.2"/><circle cx="151.3" cy="262.7"/><circle cx="119.1" cy="301.7"/><circle cx="102.4" cy="312.5"/><circle cx="123.0" cy="315.2"/><circle cx="115.8" cy="305.7"/><circle cx="79.5" cy="329.2"/><circle cx="85.5" cy="326.1"/><circle cx="103.7" cy="308.3"/><circle cx="95.7" cy="302.0"/><circle cx="83.7" cy="333.4"/><circle cx="160.2" cy="264.8"/><circle cx="164.4" cy="278.1"/><circle cx="135.5" cy="289.1"/><circle cx="68.4" cy="352.0"/><circle cx="133.7" cy="274.7"/><circle cx="96.6" cy="321.6"/><circle cx="143.7" cy="282.9"/><circle cx="62.9" cy="351.6"/><circle cx="125.4" cy="290.3"/><circle cx="85.5" cy="330.5"/><circle cx="105.4" cy="303.9"/><circle cx="127.5" cy="290.8"/><circle cx="78.4" cy="336.8"/><circle cx="86.6" cy="326.5"/><circle cx="132.3" cy="291.2"/><circle cx="84.7" cy="330.3"/><circle cx="152.8" cy="268.2"/><circle cx="85.9" cy="325.0"/><circle cx="108.2" cy="305.0"/><circle cx="139.3" cy="292.1"/><circle cx="94.1" cy="317.9"/><circle cx="135.7" cy="280.9"/><circle cx="88.2" cy="328.0"/><circle cx="143.0" cy="283.7"/><circle cx="65.3" cy="343.3"/><circle cx="68.0" cy="349.5"/><circle cx="74.1" cy="340.1"/><circle cx="139.6" cy="283.7"/><circle cx="139.8" cy="274.5"/><circle cx="139.3" cy="283.1"/><circle cx="142.6" cy="277.8"/><circle cx="138.8" cy="274.1"/><circle cx="149.6" cy="270.1"/><circle cx="112.7" cy="306.3"/><circle cx="94.2" cy="315.4"/><circle cx="144.7" cy="284.0"/><circle cx="102.1" cy="310.1"/><circle cx="117.0" cy="290.9"/><circle cx="125.7" cy="293.1"/><circle cx="95.7" cy="315.2"/><circle cx="87.9" cy="333.0"/><circle cx="157.3" cy="262.0"/><circle cx="129.4" cy="287.0"/><circle cx="153.4" cy="273.4"/><circle cx="75.4" cy="348.4"/><circle cx="92.8" cy="317.6"/><circle cx="90.0" cy="337.0"/><circle cx="154.9" cy="261.2"/><circle cx="104.8" cy="313.5"/><circle cx="147.6" cy="272.3"/><circle cx="95.5" cy="314.5"/><circle cx="103.4" cy="313.9"/><circle cx="140.8" cy="277.2"/><circle cx="124.0" cy="289.0"/><circle cx="76.1" cy="338.4"/><circle cx="77.6" cy="343.8"/><circle cx="128.3" cy="287.5"/><circle cx="150.4" cy="256.7"/><circle cx="146.5" cy="278.3"/><circle cx="124.4" cy="292.7"/><circle cx="147.4" cy="278.3"/><circle cx="140.7" cy="288.9"/><circle cx="71.3" cy="340.3"/><circle cx="135.6" cy="283.6"/><circle cx="84.4" cy="331.4"/><circle cx="89.5" cy="326.5"/><circle cx="147.1" cy="268.4"/><circle cx="85.5" cy="326.5"/><circle cx="124.8" cy="291.0"/><circle cx="135.7" cy="282.0"/><circle cx="90.5" cy="337.2"/><circle cx="74.4" cy="346.1"/><circle cx="70.9" cy="345.7"/><circle cx="69.8" cy="347.7"/><circle cx="151.4" cy="276.1"/><circle cx="68.6" cy="346.3"/><circle cx="128.2" cy="289.0"/><circle cx="103.1" cy="306.5"/><circle cx="156.1" cy="267.1"/><circle cx="71.5" cy="341.6"/><circle cx="161.1" cy="263.9"/><circle cx="79.3" cy="337.1"/><circle cx="118.5" cy="310.1"/><circle cx="126.0" cy="303.1"/><circle cx="119.3" cy="292.8"/><circle cx="135.7" cy="296.9"/><circle cx="91.9" cy="324.7"/><circle cx="150.2" cy="272.6"/><circle cx="76.7" cy="341.3"/><circle cx="88.7" cy="329.1"/><circle cx="106.9" cy="309.5"/><circle cx="122.1" cy="294.0"/><circle cx="96.6" cy="323.4"/><circle cx="98.9" cy="319.0"/><circle cx="132.0" cy="291.7"/><circle cx="84.3" cy="334.6"/><circle cx="73.7" cy="347.6"/><circle cx="115.1" cy="309.1"/><circle cx="121.5" cy="304.3"/><circle cx="115.7" cy="304.6"/><circle cx="64.7" cy="345.6"/><circle cx="129.4" cy="284.5"/><circle cx="143.5" cy="280.1"/><circle cx="112.6" cy="314.0"/><circle cx="92.7" cy="331.5"/><circle cx="161.1" cy="265.3"/><circle cx="107.6" cy="298.2"/><circle cx="128.1" cy="292.1"/><circle cx="85.3" cy="338.6"/><circle cx="65.6" cy="347.7"/><circle cx="77.7" cy="340.6"/><circle cx="82.8" cy="324.5"/><circle cx="72.4" cy="339.2"/><circle cx="111.4" cy="300.9"/><circle cx="102.0" cy="312.1"/><circle cx="111.3" cy="305.1"/><circle cx="82.4" cy="336.6"/><circle cx="135.4" cy="282.6"/><circle cx="104.4" cy="302.1"/><circle cx="67.9" cy="342.3"/><circle cx="68.7" cy="345.9"/><circle cx="105.6" cy="309.8"/><circle cx="65.9" cy="348.8"/><circle cx="158.6" cy="268.4"/><circle cx="87.7" cy="329.5"/><circle cx="110.0" cy="306.3"/><circle cx="75.0" cy="338.8"/><circle cx="138.1" cy="279.8"/><circle cx="145.5" cy="263.3"/><circle cx="85.3" cy="327.5"/><circle cx="94.4" cy="326.2"/><circle cx="161.2" cy="264.9"/><circle cx="138.5" cy="283.9"/><circle cx="138.9" cy="281.5"/><circle cx="62.5" cy="350.0"/><circle cx="92.9" cy="312.2"/><circle cx="95.4" cy="324.3"/><circle cx="80.1" cy="342.3"/><circle cx="149.9" cy="272.5"/><circle cx="118.0" cy="298.1"/><circle cx="126.0" cy="287.1"/><circle cx="88.4" cy="329.2"/><circle cx="95.2" cy="313.8"/><circle cx="108.8" cy="305.5"/><circle cx="77.8" cy="331.0"/><circle cx="88.6" cy="323.3"/><circle cx="124.5" cy="286.7"/><circle cx="109.3" cy="302.3"/><circle cx="127.1" cy="294.4"/><circle cx="79.6" cy="346.4"/><circle cx="104.9" cy="304.2"/><circle cx="91.3" cy="330.8"/><circle cx="92.4" cy="327.9"/><circle cx="152.9" cy="260.8"/><circle cx="148.6" cy="259.3"/><circle cx="144.3" cy="266.8"/><circle cx="75.2" cy="341.4"/><circle cx="126.8" cy="286.1"/><circle cx="133.3" cy="289.9"/><circle cx="84.6" cy="324.4"/><circle cx="145.5" cy="280.7"/><circle cx="119.3" cy="309.1"/><circle cx="96.9" cy="323.8"/><circle cx="104.6" cy="308.9"/><circle cx="109.3" cy="313.1"/><circle cx="81.8" cy="335.7"/><circle cx="140.4" cy="275.3"/><circle cx="160.1" cy="271.0"/><circle cx="83.9" cy="320.5"/><circle cx="136.0" cy="288.5"/><circle cx="133.7" cy="274.7"/><circle cx="68.2" cy="352.0"/><circle cx="141.0" cy="278.2"/><circle cx="75.6" cy="337.9"/><circle cx="145.8" cy="266.8"/><circle cx="85.4" cy="325.0"/><circle cx="128.5" cy="288.1"/><circle cx="108.7" cy="319.6"/><circle cx="115.9" cy="301.0"/><circle cx="72.6" cy="344.3"/><circle cx="104.2" cy="317.2"/><circle cx="153.4" cy="259.6"/><circle cx="81.2" cy="340.9"/><circle cx="75.5" cy="331.4"/><circle cx="149.5" cy="267.8"/><circle cx="87.5" cy="330.4"/><circle cx="84.9" cy="328.9"/><circle cx="151.9" cy="261.0"/><circle cx="64.9" cy="351.6"/><circle cx="90.3" cy="323.2"/><circle cx="99.1" cy="315.9"/><circle cx="131.2" cy="290.8"/><circle cx="143.0" cy="273.8"/><circle cx="107.6" cy="313.3"/><circle cx="99.1" cy="315.5"/><circle cx="141.0" cy="280.6"/><circle cx="136.4" cy="277.7"/><circle cx="82.4" cy="329.2"/><circle cx="135.0" cy="275.8"/><circle cx="143.4" cy="272.5"/><circle cx="96.5" cy="325.6"/><circle cx="149.5" cy="272.6"/><circle cx="98.3" cy="325.8"/><circle cx="119.6" cy="290.6"/><circle cx="89.9" cy="332.5"/><circle cx="79.8" cy="330.9"/><circle cx="106.9" cy="306.5"/><circle cx="126.9" cy="294.5"/><circle cx="93.0" cy="326.8"/><circle cx="158.0" cy="265.0"/><circle cx="103.0" cy="317.2"/><circle cx="69.7" cy="347.4"/><circle cx="85.6" cy="338.2"/><circle cx="124.4" cy="284.5"/><circle cx="110.2" cy="305.3"/><circle cx="150.7" cy="266.3"/><circle cx="104.2" cy="304.2"/><circle cx="64.9" cy="350.3"/><circle cx="112.1" cy="307.8"/><circle cx="75.9" cy="344.9"/><circle cx="155.7" cy="268.9"/><circle cx="90.9" cy="323.7"/><circle cx="109.5" cy="308.7"/><circle cx="157.5" cy="267.8"/><circle cx="122.7" cy="299.0"/><circle cx="140.7" cy="288.4"/><circle cx="139.3" cy="287.8"/><circle cx="113.1" cy="301.2"/><circle cx="120.3" cy="297.2"/><circle cx="122.4" cy="298.1"/><circle cx="88.7" cy="328.7"/><circle cx="78.3" cy="333.7"/><circle cx="132.7" cy="284.4"/><circle cx="126.0" cy="289.5"/><circle cx="77.7" cy="342.8"/><circle cx="113.5" cy="302.1"/><circle cx="149.0" cy="277.3"/><circle cx="76.2" cy="338.4"/><circle cx="151.3" cy="271.3"/><circle cx="77.5" cy="334.2"/><circle cx="127.2" cy="291.4"/><circle cx="133.2" cy="296.0"/><circle cx="91.5" cy="323.9"/><circle cx="148.4" cy="266.9"/><circle cx="141.3" cy="271.8"/><circle cx="150.7" cy="267.3"/><circle cx="104.4" cy="303.0"/><circle cx="77.5" cy="344.1"/><circle cx="78.8" cy="338.7"/><circle cx="105.3" cy="320.5"/><circle cx="94.9" cy="328.8"/><circle cx="148.3" cy="276.6"/><circle cx="139.5" cy="274.2"/><circle cx="154.5" cy="266.7"/><circle cx="83.1" cy="327.1"/><circle cx="101.0" cy="315.0"/><circle cx="153.2" cy="262.7"/><circle cx="138.2" cy="273.0"/><circle cx="124.9" cy="297.3"/><circle cx="65.7" cy="350.7"/><circle cx="102.7" cy="309.4"/><circle cx="87.8" cy="328.1"/><circle cx="144.7" cy="278.3"/><circle cx="133.4" cy="268.1"/><circle cx="104.2" cy="323.3"/><circle cx="98.0" cy="319.6"/><circle cx="124.7" cy="292.7"/><circle cx="147.9" cy="273.5"/><circle cx="108.1" cy="307.4"/><circle cx="67.8" cy="347.8"/><circle cx="85.2" cy="330.4"/><circle cx="115.4" cy="302.0"/><circle cx="80.2" cy="337.6"/><circle cx="82.2" cy="332.4"/><circle cx="141.5" cy="285.7"/><circle cx="107.3" cy="309.2"/><circle cx="73.8" cy="346.5"/><circle cx="65.8" cy="345.5"/><circle cx="114.0" cy="294.8"/><circle cx="148.6" cy="274.8"/><circle cx="106.4" cy="320.5"/><circle cx="87.1" cy="337.4"/><circle cx="68.5" cy="349.0"/><circle cx="135.1" cy="286.4"/><circle cx="123.6" cy="293.8"/><circle cx="131.8" cy="282.5"/><circle cx="120.4" cy="299.7"/><circle cx="101.6" cy="320.3"/><circle cx="107.1" cy="295.0"/><circle cx="71.6" cy="343.9"/><circle cx="141.5" cy="276.6"/><circle cx="151.1" cy="273.0"/><circle cx="138.3" cy="279.2"/><circle cx="148.4" cy="271.6"/><circle cx="119.0" cy="295.9"/><circle cx="107.0" cy="311.4"/><circle cx="130.3" cy="297.6"/><circle cx="73.6" cy="347.7"/><circle cx="142.9" cy="271.5"/><circle cx="95.3" cy="318.7"/><circle cx="83.0" cy="333.8"/><circle cx="127.5" cy="287.7"/><circle cx="76.9" cy="333.2"/><circle cx="132.6" cy="292.0"/><circle cx="72.7" cy="338.2"/><circle cx="64.8" cy="343.6"/><circle cx="86.4" cy="324.0"/><circle cx="66.7" cy="350.1"/><circle cx="152.5" cy="263.5"/><circle cx="68.3" cy="347.8"/><circle cx="90.5" cy="331.4"/><circle cx="66.4" cy="351.7"/><circle cx="147.6" cy="274.9"/><circle cx="80.9" cy="337.4"/><circle cx="104.2" cy="313.7"/><circle cx="114.9" cy="311.1"/><circle cx="91.4" cy="334.8"/><circle cx="120.5" cy="302.6"/><circle cx="142.7" cy="270.7"/><circle cx="91.0" cy="325.7"/><circle cx="109.7" cy="306.0"/><circle cx="141.2" cy="281.4"/><circle cx="69.6" cy="348.6"/><circle cx="156.0" cy="264.8"/><circle cx="93.7" cy="322.4"/><circle cx="109.5" cy="306.1"/><circle cx="108.5" cy="298.1"/><circle cx="111.8" cy="298.8"/><circle cx="133.1" cy="282.0"/><circle cx="146.8" cy="282.7"/><circle cx="146.7" cy="275.0"/><circle cx="91.8" cy="326.3"/><circle cx="72.8" cy="347.3"/><circle cx="95.7" cy="320.4"/><circle cx="103.7" cy="316.2"/><circle cx="75.3" cy="341.5"/><circle cx="86.2" cy="329.7"/><circle cx="67.1" cy="351.1"/><circle cx="70.0" cy="344.1"/><circle cx="113.4" cy="307.8"/><circle cx="147.2" cy="272.4"/><circle cx="86.9" cy="328.3"/><circle cx="133.8" cy="271.4"/><circle cx="116.2" cy="309.2"/><circle cx="74.3" cy="335.2"/><circle cx="152.2" cy="266.8"/><circle cx="108.4" cy="314.2"/><circle cx="131.3" cy="289.6"/><circle cx="69.5" cy="348.8"/><circle cx="144.7" cy="269.3"/><circle cx="77.2" cy="336.0"/><circle cx="98.4" cy="315.4"/><circle cx="93.0" cy="319.5"/><circle cx="143.6" cy="282.2"/><circle cx="148.7" cy="281.6"/><circle cx="141.7" cy="274.4"/><circle cx="93.6" cy="324.7"/><circle cx="93.6" cy="327.9"/><circle cx="141.2" cy="271.0"/><circle cx="122.9" cy="283.4"/><circle cx="91.2" cy="318.8"/><circle cx="86.3" cy="331.9"/><circle cx="94.5" cy="311.3"/><circle cx="119.7" cy="288.8"/><circle cx="159.7" cy="267.0"/><circle cx="125.5" cy="290.7"/><circle cx="153.3" cy="266.7"/><circle cx="124.8" cy="300.7"/><circle cx="133.0" cy="283.3"/><circle cx="141.7" cy="275.2"/><circle cx="71.9" cy="350.0"/><circle cx="79.1" cy="349.1"/><circle cx="147.5" cy="278.5"/><circle cx="145.5" cy="278.2"/><circle cx="99.6" cy="323.9"/><circle cx="135.9" cy="286.0"/><circle cx="114.3" cy="296.8"/><circle cx="138.6" cy="279.3"/><circle cx="114.3" cy="309.2"/><circle cx="104.1" cy="322.2"/><circle cx="68.7" cy="349.7"/><circle cx="94.3" cy="327.1"/><circle cx="78.8" cy="338.7"/><circle cx="116.5" cy="296.8"/><circle cx="127.6" cy="300.4"/><circle cx="103.4" cy="313.6"/><circle cx="100.8" cy="310.8"/><circle cx="128.6" cy="288.2"/><circle cx="133.7" cy="284.4"/><circle cx="89.5" cy="332.0"/><circle cx="65.5" cy="351.9"/><circle cx="122.7" cy="285.2"/><circle cx="125.6" cy="291.9"/><circle cx="118.6" cy="297.3"/><circle cx="84.4" cy="333.4"/><circle cx="115.8" cy="312.9"/><circle cx="144.4" cy="274.8"/><circle cx="157.5" cy="261.6"/><circle cx="115.3" cy="305.9"/><circle cx="72.8" cy="337.3"/><circle cx="69.3" cy="343.2"/><circle cx="147.3" cy="280.8"/><circle cx="107.8" cy="311.2"/><circle cx="98.9" cy="324.2"/><circle cx="67.9" cy="348.3"/><circle cx="84.6" cy="343.8"/><circle cx="109.5" cy="307.1"/><circle cx="107.1" cy="309.6"/><circle cx="78.8" cy="341.6"/><circle cx="68.5" cy="340.9"/><circle cx="115.0" cy="300.1"/><circle cx="78.3" cy="337.6"/><circle cx="111.4" cy="305.5"/><circle cx="104.9" cy="313.8"/><circle cx="96.0" cy="324.2"/><circle cx="132.5" cy="288.8"/><circle cx="83.9" cy="330.0"/><circle cx="121.8" cy="302.3"/><circle cx="109.1" cy="314.8"/><circle cx="78.4" cy="332.8"/><circle cx="149.9" cy="273.7"/><circle cx="143.1" cy="275.0"/><circle cx="81.9" cy="338.8"/><circle cx="112.3" cy="306.2"/><circle cx="99.2" cy="321.8"/><circle cx="129.0" cy="293.7"/><circle cx="82.9" cy="333.9"/><circle cx="62.9" cy="351.2"/><circle cx="82.0" cy="335.4"/><circle cx="109.8" cy="300.1"/><circle cx="76.2" cy="338.6"/><circle cx="69.4" cy="347.8"/><circle cx="62.5" cy="352.2"/><circle cx="91.8" cy="323.4"/><circle cx="83.7" cy="328.9"/><circle cx="66.9" cy="350.7"/><circle cx="129.4" cy="299.2"/><circle cx="137.7" cy="291.1"/><circle cx="129.3" cy="300.7"/><circle cx="155.3" cy="258.3"/><circle cx="126.5" cy="303.3"/><circle cx="128.0" cy="283.0"/><circle cx="120.9" cy="296.7"/><circle cx="85.6" cy="327.8"/><circle cx="113.2" cy="314.1"/><circle cx="67.5" cy="349.6"/><circle cx="124.0" cy="288.6"/><circle cx="148.5" cy="276.0"/><circle cx="119.8" cy="289.7"/><circle cx="142.5" cy="273.8"/><circle cx="82.2" cy="334.5"/><circle cx="137.5" cy="274.0"/><circle cx="129.8" cy="289.9"/><circle cx="135.7" cy="281.8"/><circle cx="73.2" cy="340.9"/><circle cx="116.9" cy="308.8"/><circle cx="74.3" cy="340.3"/><circle cx="67.5" cy="344.0"/><circle cx="126.5" cy="286.4"/><circle cx="117.6" cy="291.7"/><circle cx="62.5" cy="351.5"/><circle cx="160.4" cy="264.9"/><circle cx="117.4" cy="290.5"/><circle cx="100.9" cy="325.4"/><circle cx="121.7" cy="293.1"/><circle cx="145.3" cy="287.5"/><circle cx="133.4" cy="286.9"/><circle cx="76.6" cy="330.0"/><circle cx="78.8" cy="343.7"/><circle cx="139.4" cy="269.5"/><circle cx="83.4" cy="334.5"/><circle cx="151.9" cy="272.2"/><circle cx="86.8" cy="330.7"/><circle cx="144.3" cy="276.3"/><circle cx="123.9" cy="291.5"/><circle cx="63.2" cy="349.6"/><circle cx="90.9" cy="323.2"/><circle cx="72.2" cy="342.4"/><circle cx="121.7" cy="297.8"/><circle cx="147.4" cy="261.6"/><circle cx="120.5" cy="291.1"/><circle cx="79.7" cy="336.8"/><circle cx="67.9" cy="346.5"/><circle cx="102.3" cy="312.9"/><circle cx="74.8" cy="334.1"/><circle cx="78.7" cy="336.6"/><circle cx="157.8" cy="260.9"/><circle cx="119.1" cy="295.3"/><circle cx="68.0" cy="346.0"/><circle cx="150.4" cy="273.7"/><circle cx="83.5" cy="337.9"/><circle cx="87.3" cy="325.5"/><circle cx="105.3" cy="310.1"/><circle cx="81.8" cy="333.5"/><circle cx="80.9" cy="336.2"/><circle cx="110.6" cy="311.3"/><circle cx="142.2" cy="278.5"/><circle cx="99.0" cy="322.9"/><circle cx="153.1" cy="271.8"/><circle cx="90.1" cy="328.4"/><circle cx="80.1" cy="333.7"/><circle cx="133.1" cy="289.6"/><circle cx="99.1" cy="315.0"/><circle cx="141.5" cy="272.5"/><circle cx="90.6" cy="325.7"/><circle cx="82.2" cy="336.5"/><circle cx="63.9" cy="349.2"/><circle cx="107.3" cy="306.9"/><circle cx="75.0" cy="332.1"/><circle cx="96.1" cy="321.0"/><circle cx="113.6" cy="299.0"/><circle cx="126.1" cy="285.2"/><circle cx="93.3" cy="315.1"/><circle cx="117.7" cy="310.1"/><circle cx="151.6" cy="265.4"/><circle cx="118.3" cy="300.7"/><circle cx="120.1" cy="300.9"/><circle cx="134.0" cy="299.2"/><circle cx="143.0" cy="281.2"/><circle cx="101.5" cy="318.1"/><circle cx="71.1" cy="342.0"/><circle cx="154.9" cy="270.2"/><circle cx="81.9" cy="332.4"/><circle cx="80.8" cy="340.9"/><circle cx="89.1" cy="328.0"/><circle cx="150.0" cy="267.0"/><circle cx="125.2" cy="297.5"/><circle cx="103.2" cy="317.6"/><circle cx="69.8" cy="345.2"/><circle cx="152.5" cy="257.0"/><circle cx="157.1" cy="262.6"/><circle cx="131.3" cy="294.6"/><circle cx="83.9" cy="332.4"/><circle cx="112.2" cy="300.7"/><circle cx="145.7" cy="264.2"/><circle cx="67.2" cy="346.8"/><circle cx="95.3" cy="320.0"/><circle cx="132.4" cy="284.6"/><circle cx="114.7" cy="300.2"/><circle cx="122.9" cy="292.9"/><circle cx="95.2" cy="323.5"/><circle cx="100.9" cy="311.8"/><circle cx="117.7" cy="304.2"/><circle cx="128.1" cy="301.1"/><circle cx="94.0" cy="326.0"/><circle cx="119.7" cy="302.3"/><circle cx="132.4" cy="284.1"/><circle cx="114.6" cy="308.9"/><circle cx="73.7" cy="351.6"/><circle cx="104.5" cy="320.2"/><circle cx="150.7" cy="271.7"/><circle cx="129.3" cy="295.7"/><circle cx="159.6" cy="266.5"/><circle cx="126.7" cy="287.4"/><circle cx="121.8" cy="300.3"/><circle cx="78.7" cy="333.3"/><circle cx="147.5" cy="268.0"/><circle cx="119.7" cy="294.3"/><circle cx="107.0" cy="311.1"/><circle cx="76.4" cy="341.8"/><circle cx="77.2" cy="334.8"/><circle cx="104.5" cy="315.8"/><circle cx="118.5" cy="297.1"/><circle cx="100.3" cy="316.2"/><circle cx="124.5" cy="297.4"/><circle cx="101.1" cy="327.8"/><circle cx="109.2" cy="308.3"/><circle cx="153.4" cy="263.1"/><circle cx="156.4" cy="266.7"/><circle cx="119.3" cy="291.6"/><circle cx="159.3" cy="262.3"/><circle cx="153.6" cy="269.8"/><circle cx="93.2" cy="320.2"/><circle cx="80.9" cy="340.4"/><circle cx="96.3" cy="318.1"/><circle cx="144.0" cy="263.1"/><circle cx="114.0" cy="300.4"/><circle cx="110.6" cy="308.6"/><circle cx="114.8" cy="298.4"/><circle cx="151.7" cy="261.3"/><circle cx="69.1" cy="346.4"/><circle cx="148.1" cy="269.7"/><circle cx="97.9" cy="315.7"/><circle cx="95.1" cy="316.3"/><circle cx="74.9" cy="342.2"/><circle cx="117.6" cy="299.6"/><circle cx="108.3" cy="302.1"/><circle cx="117.1" cy="299.5"/><circle cx="127.1" cy="292.3"/><circle cx="100.4" cy="306.2"/><circle cx="94.1" cy="328.2"/><circle cx="122.6" cy="296.7"/><circle cx="140.0" cy="274.5"/><circle cx="67.1" cy="344.3"/><circle cx="102.4" cy="319.5"/><circle cx="135.2" cy="282.8"/><circle cx="105.6" cy="309.4"/><circle cx="113.5" cy="308.2"/><circle cx="153.7" cy="264.3"/><circle cx="123.8" cy="294.8"/><circle cx="122.8" cy="300.2"/><circle cx="100.7" cy="324.1"/><circle cx="103.3" cy="313.8"/><circle cx="124.0" cy="291.4"/><circle cx="83.1" cy="336.7"/><circle cx="134.5" cy="288.7"/><circle cx="150.5" cy="275.3"/><circle cx="76.6" cy="340.1"/><circle cx="94.6" cy="321.5"/><circle cx="87.8" cy="324.5"/><circle cx="145.3" cy="281.2"/><circle cx="86.3" cy="327.3"/><circle cx="135.9" cy="282.0"/><circle cx="90.2" cy="329.1"/><circle cx="63.6" cy="350.1"/><circle cx="107.8" cy="311.8"/><circle cx="73.7" cy="337.2"/><circle cx="105.3" cy="313.9"/><circle cx="137.4" cy="277.9"/><circle cx="136.1" cy="269.2"/><circle cx="77.1" cy="337.9"/><circle cx="153.8" cy="265.4"/><circle cx="76.1" cy="337.5"/><circle cx="135.0" cy="285.4"/><circle cx="139.6" cy="279.7"/><circle cx="76.1" cy="336.0"/><circle cx="83.1" cy="336.9"/><circle cx="97.9" cy="313.3"/><circle cx="100.5" cy="319.8"/><circle cx="141.7" cy="284.1"/><circle cx="106.4" cy="301.6"/><circle cx="135.8" cy="289.8"/><circle cx="78.1" cy="339.8"/><circle cx="101.4" cy="312.5"/><circle cx="110.7" cy="306.8"/><circle cx="97.3" cy="312.8"/><circle cx="136.6" cy="281.5"/><circle cx="93.6" cy="324.1"/><circle cx="106.7" cy="310.9"/><circle cx="131.5" cy="287.3"/><circle cx="143.1" cy="271.2"/><circle cx="153.3" cy="267.5"/><circle cx="86.4" cy="325.4"/><circle cx="92.3" cy="322.5"/><circle cx="67.9" cy="348.4"/><circle cx="144.0" cy="270.2"/><circle cx="104.9" cy="321.2"/><circle cx="116.2" cy="299.1"/><circle cx="148.3" cy="273.2"/><circle cx="97.7" cy="322.0"/><circle cx="153.0" cy="275.0"/><circle cx="140.8" cy="275.6"/><circle cx="134.2" cy="271.9"/><circle cx="101.7" cy="314.3"/><circle cx="148.5" cy="269.6"/><circle cx="112.7" cy="311.8"/><circle cx="69.2" cy="340.9"/><circle cx="71.3" cy="342.0"/><circle cx="142.9" cy="277.4"/><circle cx="110.5" cy="300.4"/><circle cx="98.6" cy="317.0"/><circle cx="103.8" cy="317.5"/><circle cx="140.2" cy="276.3"/><circle cx="63.4" cy="352.0"/><circle cx="120.3" cy="288.5"/><circle cx="69.4" cy="347.6"/><circle cx="147.4" cy="268.5"/><circle cx="87.1" cy="330.6"/><circle cx="152.7" cy="265.9"/><circle cx="68.8" cy="348.9"/><circle cx="85.8" cy="332.2"/><circle cx="104.1" cy="320.0"/><circle cx="85.0" cy="332.0"/><circle cx="74.5" cy="340.0"/><circle cx="123.9" cy="291.4"/><circle cx="88.4" cy="327.3"/><circle cx="88.3" cy="323.7"/><circle cx="125.6" cy="297.9"/><circle cx="67.6" cy="348.9"/><circle cx="121.1" cy="300.9"/><circle cx="70.5" cy="350.6"/><circle cx="145.8" cy="277.1"/><circle cx="105.7" cy="322.2"/><circle cx="115.8" cy="304.1"/><circle cx="89.6" cy="324.5"/><circle cx="109.8" cy="306.0"/><circle cx="100.6" cy="325.4"/><circle cx="90.1" cy="318.3"/><circle cx="77.8" cy="334.8"/><circle cx="82.5" cy="337.4"/><circle cx="135.9" cy="291.5"/><circle cx="131.4" cy="285.6"/><circle cx="136.7" cy="281.3"/><circle cx="113.0" cy="307.7"/><circle cx="131.7" cy="286.5"/><circle cx="109.7" cy="305.4"/><circle cx="88.6" cy="320.5"/><circle cx="112.1" cy="311.1"/><circle cx="78.9" cy="339.7"/><circle cx="137.7" cy="280.0"/><circle cx="108.1" cy="310.3"/><circle cx="137.4" cy="299.6"/><circle cx="74.1" cy="340.7"/><circle cx="140.6" cy="268.9"/><circle cx="114.6" cy="297.4"/><circle cx="118.9" cy="290.1"/><circle cx="103.0" cy="313.1"/><circle cx="111.7" cy="302.3"/><circle cx="129.2" cy="297.6"/><circle cx="140.7" cy="286.0"/><circle cx="144.1" cy="279.2"/><circle cx="123.5" cy="309.6"/><circle cx="114.5" cy="301.7"/><circle cx="150.0" cy="272.7"/><circle cx="75.1" cy="340.1"/><circle cx="102.1" cy="314.6"/><circle cx="89.0" cy="325.6"/><circle cx="74.7" cy="337.8"/><circle cx="86.7" cy="332.3"/><circle cx="118.0" cy="304.9"/><circle cx="76.6" cy="343.9"/><circle cx="141.6" cy="276.6"/></g><g fill="#17becf" stroke="#17becf" fill-opacity="0.5" stroke-opacity="0.5" stroke-width="0.9"><circle cx="99.1" cy="301.3"/><circle cx="64.9" cy="339.6"/><circle cx="117.3" cy="281.6"/><circle cx="105.6" cy="295.5"/><circle cx="83.1" cy="320.3"/><circle cx="92.2" cy="309.8"/><circle cx="70.0" cy="335.4"/><circle cx="66.5" cy="335.9"/><circle cx="87.1" cy="310.6"/><circle cx="93.1" cy="307.6"/><circle cx="77.5" cy="328.4"/><circle cx="106.0" cy="293.2"/><circle cx="61.6" cy="344.6"/><circle cx="80.8" cy="324.4"/><circle cx="102.8" cy="296.3"/><circle cx="106.4" cy="293.3"/><circle cx="90.7" cy="312.4"/><circle cx="112.2" cy="287.9"/><circle cx="104.1" cy="293.8"/><circle cx="79.4" cy="325.1"/><circle cx="77.8" cy="325.7"/><circle cx="69.6" cy="336.0"/><circle cx="113.5" cy="286.6"/><circle cx="103.6" cy="297.0"/><circle cx="105.6" cy="292.3"/><circle cx="103.4" cy="293.2"/><circle cx="86.9" cy="315.8"/><circle cx="87.4" cy="314.8"/><circle cx="75.3" cy="328.7"/><circle cx="102.1" cy="297.7"/><circle cx="116.6" cy="280.8"/><circle cx="107.8" cy="290.2"/><circle cx="86.2" cy="316.0"/><circle cx="104.2" cy="299.0"/><circle cx="108.7" cy="287.9"/><circle cx="116.7" cy="280.6"/><circle cx="119.4" cy="278.9"/><circle cx="111.8" cy="286.6"/><circle cx="116.5" cy="281.5"/><circle cx="77.8" cy="325.1"/><circle cx="120.0" cy="281.1"/><circle cx="99.8" cy="298.0"/><circle cx="113.2" cy="286.2"/><circle cx="80.8" cy="320.4"/><circle cx="111.6" cy="286.4"/><circle cx="63.8" cy="343.0"/><circle cx="86.2" cy="315.8"/><circle cx="69.0" cy="334.2"/><circle cx="82.0" cy="319.9"/><circle cx="66.5" cy="339.6"/><circle cx="84.0" cy="317.3"/><circle cx="81.9" cy="318.5"/><circle cx="105.4" cy="293.2"/><circle cx="106.6" cy="296.0"/><circle cx="118.2" cy="279.0"/><circle cx="78.9" cy="324.6"/><circle cx="94.7" cy="303.8"/><circle cx="82.9" cy="320.9"/><circle cx="80.2" cy="325.1"/><circle cx="88.4" cy="313.9"/><circle cx="98.7" cy="299.0"/><circle cx="64.0" cy="340.7"/><circle cx="89.3" cy="308.2"/><circle cx="120.0" cy="279.3"/><circle cx="100.1" cy="301.7"/><circle cx="99.6" cy="303.1"/><circle cx="85.2" cy="316.9"/><circle cx="102.9" cy="298.2"/><circle cx="75.9" cy="330.3"/><circle cx="82.2" cy="319.3"/><circle cx="63.9" cy="341.8"/><circle cx="77.4" cy="323.7"/><circle cx="113.8" cy="282.6"/><circle cx="65.3" cy="341.5"/><circle cx="111.4" cy="287.0"/><circle cx="72.0" cy="333.1"/><circle cx="63.6" cy="344.3"/><circle cx="109.6" cy="284.8"/><circle cx="69.7" cy="334.2"/><circle cx="68.4" cy="336.8"/><circle cx="106.5" cy="290.4"/><circle cx="97.2" cy="303.9"/><circle cx="104.8" cy="294.7"/><circle cx="89.5" cy="309.9"/><circle cx="79.9" cy="323.5"/><circle cx="92.5" cy="307.7"/><circle cx="97.3" cy="302.7"/><circle cx="84.5" cy="319.9"/><circle cx="77.7" cy="324.4"/><circle cx="71.5" cy="332.4"/><circle cx="63.5" cy="341.7"/><circle cx="78.0" cy="323.5"/><circle cx="79.2" cy="325.9"/><circle cx="93.4" cy="309.2"/><circle cx="99.7" cy="302.2"/><circle cx="79.2" cy="324.9"/><circle cx="71.5" cy="332.1"/><circle cx="95.6" cy="304.1"/><circle cx="101.7" cy="298.4"/><circle cx="79.4" cy="323.8"/><circle cx="117.4" cy="278.9"/><circle cx="65.6" cy="342.6"/><circle cx="113.0" cy="287.5"/><circle cx="106.1" cy="290.2"/><circle cx="90.5" cy="312.8"/><circle cx="79.2" cy="324.6"/><circle cx="106.6" cy="292.9"/><circle cx="68.2" cy="334.2"/><circle cx="96.7" cy="302.3"/><circle cx="61.9" cy="345.0"/><circle cx="62.0" cy="346.3"/><circle cx="90.3" cy="309.6"/><circle cx="100.0" cy="300.8"/><circle cx="79.4" cy="326.1"/><circle cx="72.8" cy="329.6"/><circle cx="87.9" cy="316.1"/><circle cx="110.4" cy="290.2"/><circle cx="103.7" cy="294.7"/></g><g fill="#1f77b4" stroke="#1f77b4" fill-opacity="0.5" stroke-opacity="0.5" stroke-width="0.9"><circle cx="192.3" cy="232.3"/><circle cx="166.2" cy="262.1"/><circle cx="181.8" cy="244.9"/><circle cx="199.2" cy="224.1"/><circle cx="182.5" cy="230.3"/><circle cx="178.4" cy="246.0"/><circle cx="181.7" cy="238.6"/><circle cx="190.7" cy="231.9"/><circle cx="156.3" cy="261.3"/><circle cx="163.0" cy="268.4"/><circle cx="167.6" cy="264.9"/><circle cx="161.7" cy="261.8"/><circle cx="163.5" cy="261.6"/><circle cx="171.6" cy="254.8"/><circle cx="183.3" cy="242.2"/><circle cx="166.8" cy="254.0"/><circle cx="144.7" cy="268.9"/><circle cx="162.7" cy="268.7"/><circle cx="177.3" cy="250.0"/><circle cx="197.3" cy="226.0"/><circle cx="154.3" cy="274.1"/><circle cx="163.8" cy="260.6"/><circle cx="156.1" cy="269.5"/><circle cx="176.2" cy="250.9"/><circle cx="170.3" cy="253.4"/><circle cx="162.7" cy="263.6"/><circle cx="169.2" cy="253.1"/><circle cx="158.3" cy="258.0"/><circle cx="158.1" cy="268.5"/><circle cx="166.3" cy="255.5"/><circle cx="183.2" cy="242.5"/><circle cx="165.4" cy="261.3"/><circle cx="173.0" cy="248.3"/><circle cx="185.0" cy="237.2"/><circle cx="161.0" cy="263.2"/><circle cx="193.3" cy="228.4"/><circle cx="175.7" cy="254.1"/><circle cx="185.8" cy="238.8"/><circle cx="187.0" cy="236.9"/><circle cx="174.2" cy="257.7"/><circle cx="166.8" cy="249.3"/><circle cx="194.7" cy="231.5"/><circle cx="183.9" cy="241.9"/><circle cx="192.6" cy="228.4"/><circle cx="144.4" cy="274.5"/><circle cx="167.2" cy="254.9"/><circle cx="166.4" cy="255.5"/><circle cx="163.0" cy="262.2"/><circle cx="177.2" cy="253.1"/><circle cx="176.6" cy="253.3"/><circle cx="187.2" cy="237.8"/><circle cx="162.3" cy="255.4"/><circle cx="197.1" cy="231.8"/><circle cx="185.3" cy="235.0"/><circle cx="148.5" cy="278.5"/><circle cx="164.3" cy="258.8"/><circle cx="145.3" cy="271.5"/><circle cx="188.6" cy="237.3"/><circle cx="158.3" cy="274.0"/><circle cx="149.2" cy="267.2"/><circle cx="178.7" cy="249.1"/><circle cx="146.9" cy="267.9"/><circle cx="170.6" cy="246.8"/><circle cx="151.5" cy="263.8"/><circle cx="174.1" cy="248.9"/><circle cx="186.2" cy="230.7"/><circle cx="173.6" cy="251.3"/><circle cx="177.5" cy="241.1"/><circle cx="181.0" cy="244.0"/><circle cx="194.4" cy="227.3"/><circle cx="164.6" cy="254.7"/><circle cx="176.4" cy="249.1"/><circle cx="158.6" cy="270.0"/><circle cx="149.7" cy="271.2"/><circle cx="193.2" cy="230.0"/><circle cx="148.2" cy="273.8"/><circle cx="184.1" cy="236.4"/><circle cx="198.1" cy="229.0"/><circle cx="155.4" cy="275.0"/><circle cx="165.9" cy="263.2"/><circle cx="152.8" cy="272.3"/><circle cx="198.2" cy="232.8"/><circle cx="187.6" cy="237.1"/><circle cx="192.5" cy="231.9"/><circle cx="169.7" cy="260.2"/><circle cx="179.9" cy="241.8"/><circle cx="194.8" cy="233.0"/><circle cx="170.5" cy="260.8"/><circle cx="150.7" cy="269.3"/><circle cx="172.3" cy="252.5"/><circle cx="166.0" cy="255.2"/><circle cx="194.6" cy="226.3"/><circle cx="197.1" cy="233.0"/><circle cx="179.7" cy="243.2"/><circle cx="155.0" cy="259.2"/><circle cx="166.3" cy="251.1"/><circle cx="168.2" cy="255.8"/><circle cx="155.0" cy="265.5"/><circle cx="165.5" cy="254.6"/><circle cx="164.4" cy="255.5"/><circle cx="198.3" cy="228.9"/><circle cx="172.5" cy="250.3"/><circle cx="156.2" cy="273.1"/><circle cx="174.3" cy="244.8"/><circle cx="161.5" cy="262.9"/><circle cx="178.9" cy="244.0"/><circle cx="178.7" cy="238.6"/><circle cx="161.9" cy="259.7"/><circle cx="200.5" cy="227.4"/><circle cx="172.3" cy="250.9"/><circle cx="180.9" cy="240.1"/><circle cx="155.3" cy="271.3"/><circle cx="157.1" cy="260.0"/><circle cx="149.1" cy="269.9"/><circle cx="177.0" cy="243.1"/><circle cx="182.1" cy="244.8"/><circle cx="166.0" cy="261.0"/><circle cx="155.4" cy="261.7"/><circle cx="160.6" cy="261.9"/><circle cx="187.2" cy="237.8"/><circle cx="163.7" cy="258.8"/><circle cx="177.9" cy="244.3"/><circle cx="150.3" cy="266.8"/><circle cx="164.5" cy="258.7"/><circle cx="185.4" cy="236.0"/><circle cx="166.0" cy="261.5"/><circle cx="193.3" cy="223.5"/><circle cx="158.9" cy="262.1"/><circle cx="164.8" cy="258.0"/><circle cx="174.0" cy="250.9"/><circle cx="175.5" cy="249.0"/><circle cx="146.7" cy="273.1"/><circle cx="183.3" cy="247.0"/><circle cx="174.7" cy="240.6"/><circle cx="149.6" cy="273.0"/><circle cx="170.2" cy="246.1"/><circle cx="194.8" cy="233.4"/><circle cx="168.7" cy="261.2"/><circle cx="163.0" cy="264.7"/><circle cx="159.8" cy="262.9"/><circle cx="146.7" cy="273.8"/><circle cx="166.6" cy="254.9"/><circle cx="183.0" cy="232.4"/><circle cx="157.9" cy="266.4"/><circle cx="191.1" cy="238.8"/><circle cx="174.0" cy="251.6"/><circle cx="187.0" cy="241.4"/><circle cx="152.3" cy="270.2"/><circle cx="167.9" cy="255.8"/><circle cx="162.3" cy="262.9"/></g><g fill="#17becf" stroke="#17becf" fill-opacity="0.5" stroke-opacity="0.5" stroke-width="0.9"><circle cx="220.7" cy="196.6"/><circle cx="153.6" cy="254.5"/><circle cx="232.2" cy="198.7"/><circle cx="148.1" cy="290.3"/><circle cx="188.4" cy="231.9"/><circle cx="136.2" cy="280.7"/><circle cx="185.3" cy="241.2"/><circle cx="171.3" cy="249.7"/><circle cx="216.1" cy="214.5"/><circle cx="178.2" cy="247.5"/><circle cx="181.2" cy="240.4"/><circle cx="200.7" cy="223.6"/><circle cx="131.2" cy="279.3"/><circle cx="136.5" cy="281.2"/><circle cx="178.6" cy="249.5"/><circle cx="177.7" cy="256.7"/><circle cx="209.3" cy="202.9"/><circle cx="153.0" cy="287.7"/><circle cx="146.2" cy="285.7"/><circle cx="146.8" cy="276.0"/><circle cx="200.0" cy="236.8"/><circle cx="229.8" cy="195.6"/><circle cx="207.7" cy="202.3"/><circle cx="218.2" cy="196.6"/><circle cx="169.5" cy="258.1"/><circle cx="176.0" cy="244.7"/><circle cx="177.1" cy="243.4"/><circle cx="182.0" cy="228.2"/><circle cx="200.3" cy="229.2"/><circle cx="162.5" cy="270.2"/><circle cx="159.9" cy="263.4"/><circle cx="196.8" cy="225.5"/><circle cx="198.2" cy="249.4"/><circle cx="234.7" cy="212.6"/><circle cx="184.7" cy="250.8"/><circle cx="189.2" cy="250.7"/><circle cx="207.1" cy="224.8"/><circle cx="171.6" cy="250.3"/><circle cx="156.8" cy="288.7"/><circle cx="217.2" cy="214.6"/><circle cx="175.5" cy="255.3"/><circle cx="149.0" cy="290.2"/><circle cx="225.0" cy="191.4"/><circle cx="163.8" cy="261.3"/><circle cx="213.3" cy="230.0"/><circle cx="164.5" cy="256.7"/><circle cx="170.0" cy="258.4"/><circle cx="224.6" cy="191.0"/><circle cx="205.9" cy="221.7"/><circle cx="137.8" cy="278.9"/></g><g fill="#d62728" stroke="#d62728" fill-opacity="0.5" stroke-opacity="0.5" stroke-width="0.9"><circle cx="193.3" cy="232.5"/><circle cx="178.1" cy="252.0"/><circle cx="144.2" cy="294.1"/><circle cx="191.2" cy="258.6"/><circle cx="125.3" cy="290.8"/><circle cx="196.1" cy="226.8"/><circle cx="206.8" cy="221.2"/><circle cx="190.9" cy="244.2"/><circle cx="154.4" cy="264.8"/><circle cx="143.8" cy="266.6"/><circle cx="125.5" cy="295.4"/><circle cx="185.0" cy="255.0"/><circle cx="134.6" cy="305.0"/><circle cx="204.2" cy="230.4"/><circle cx="208.7" cy="227.4"/><circle cx="139.7" cy="281.6"/><circle cx="210.3" cy="238.1"/><circle cx="156.6" cy="264.3"/><circle cx="210.1" cy="224.9"/><circle cx="131.8" cy="282.6"/><circle cx="128.8" cy="298.2"/><circle cx="134.5" cy="287.5"/><circle cx="145.0" cy="285.7"/><circle cx="144.0" cy="293.4"/><circle cx="190.9" cy="225.9"/><circle cx="160.6" cy="272.4"/><circle cx="148.6" cy="289.8"/><circle cx="151.4" cy="277.1"/><circle cx="197.6" cy="232.9"/><circle cx="169.8" cy="262.3"/><circle cx="206.2" cy="230.8"/><circle cx="196.2" cy="238.0"/><circle cx="178.7" cy="247.1"/><circle cx="141.5" cy="277.7"/><circle cx="129.2" cy="295.0"/><circle cx="191.7" cy="237.5"/><circle cx="173.8" cy="248.8"/><circle cx="200.3" cy="240.2"/><circle cx="174.5" cy="252.8"/><circle cx="202.1" cy="219.1"/><circle cx="207.4" cy="230.2"/><circle cx="198.3" cy="223.6"/><circle cx="131.0" cy="294.3"/><circle cx="166.4" cy="253.3"/><circle cx="159.0" cy="277.8"/><circle cx="137.5" cy="297.6"/><circle cx="187.4" cy="234.0"/><circle cx="177.3" cy="256.0"/><circle cx="170.2" cy="264.5"/><circle cx="207.0" cy="225.6"/><circle cx="159.6" cy="295.8"/><circle cx="124.7" cy="296.2"/><circle cx="137.9" cy="276.6"/><circle cx="187.1" cy="244.5"/><circle cx="160.2" cy="286.3"/><circle cx="156.2" cy="292.6"/><circle cx="178.1" cy="251.9"/><circle cx="198.0" cy="218.8"/><circle cx="194.5" cy="237.1"/><circle cx="149.4" cy="277.3"/><circle cx="181.7" cy="241.5"/><circle cx="189.4" cy="246.6"/><circle cx="135.3" cy="284.5"/><circle cx="141.6" cy="300.2"/><circle cx="173.4" cy="257.9"/><circle cx="149.9" cy="281.4"/><circle cx="182.4" cy="250.8"/><circle cx="174.6" cy="274.2"/><circle cx="209.8" cy="226.3"/><circle cx="151.8" cy="269.6"/><circle cx="148.3" cy="284.4"/><circle cx="151.8" cy="262.6"/><circle cx="163.7" cy="266.3"/><circle cx="126.9" cy="298.8"/><circle cx="217.1" cy="232.0"/><circle cx="129.1" cy="290.9"/><circle cx="175.1" cy="251.5"/><circle cx="200.1" cy="222.2"/><circle cx="151.7" cy="283.5"/><circle cx="184.4" cy="245.1"/><circle cx="161.3" cy="256.3"/><circle cx="175.8" cy="253.9"/><circle cx="178.4" cy="252.3"/><circle cx="134.1" cy="304.6"/><circle cx="126.6" cy="287.4"/><circle cx="178.5" cy="242.2"/><circle cx="148.5" cy="287.7"/><circle cx="134.6" cy="282.9"/><circle cx="126.4" cy="287.8"/><circle cx="143.4" cy="275.7"/><circle cx="143.2" cy="283.5"/><circle cx="151.9" cy="274.5"/><circle cx="211.9" cy="235.9"/><circle cx="196.8" cy="237.1"/><circle cx="152.3" cy="278.2"/><circle cx="157.5" cy="281.5"/><circle cx="196.6" cy="228.5"/><circle cx="203.8" cy="230.6"/><circle cx="126.8" cy="293.7"/><circle cx="152.6" cy="279.6"/><circle cx="135.2" cy="305.1"/><circle cx="182.1" cy="247.1"/><circle cx="169.8" cy="261.1"/><circle cx="181.1" cy="243.1"/><circle cx="203.0" cy="229.4"/><circle cx="171.0" cy="246.2"/><circle cx="176.1" cy="257.6"/><circle cx="138.1" cy="273.0"/><circle cx="180.2" cy="245.9"/><circle cx="186.8" cy="234.8"/><circle cx="150.9" cy="287.9"/><circle cx="191.4" cy="233.3"/><circle cx="196.2" cy="234.0"/><circle cx="137.1" cy="279.0"/><circle cx="184.7" cy="250.4"/><circle cx="144.3" cy="282.0"/><circle cx="159.7" cy="281.6"/><circle cx="144.8" cy="276.4"/><circle cx="126.6" cy="290.8"/><circle cx="150.6" cy="269.1"/><circle cx="151.2" cy="276.8"/><circle cx="162.4" cy="258.2"/><circle cx="169.8" cy="255.2"/><circle cx="203.5" cy="235.8"/><circle cx="206.1" cy="225.3"/><circle cx="158.3" cy="269.7"/><circle cx="174.6" cy="248.4"/><circle cx="194.2" cy="231.0"/><circle cx="195.4" cy="230.0"/><circle cx="137.0" cy="278.8"/><circle cx="157.2" cy="283.6"/><circle cx="150.4" cy="263.0"/><circle cx="150.7" cy="261.4"/><circle cx="158.7" cy="262.5"/><circle cx="148.3" cy="270.2"/><circle cx="143.0" cy="273.5"/><circle cx="157.0" cy="271.4"/><circle cx="143.5" cy="283.5"/><circle cx="137.7" cy="283.1"/><circle cx="145.7" cy="270.6"/><circle cx="156.6" cy="274.8"/><circle cx="204.6" cy="230.8"/><circle cx="141.6" cy="287.2"/><circle cx="162.3" cy="253.8"/><circle cx="183.2" cy="247.6"/><circle cx="206.2" cy="229.5"/><circle cx="164.0" cy="262.8"/><circle cx="181.8" cy="252.4"/><circle cx="187.1" cy="248.9"/><circle cx="182.4" cy="241.6"/><circle cx="138.3" cy="282.5"/><circle cx="169.3" cy="264.5"/><circle cx="126.1" cy="298.5"/><circle cx="172.2" cy="250.7"/><circle cx="187.4" cy="255.2"/><circle cx="137.8" cy="303.7"/><circle cx="200.4" cy="228.0"/><circle cx="178.2" cy="262.1"/><circle cx="152.9" cy="271.8"/><circle cx="143.9" cy="278.5"/><circle cx="201.7" cy="231.2"/><circle cx="152.7" cy="279.7"/><circle cx="144.7" cy="274.7"/><circle cx="193.9" cy="226.0"/><circle cx="160.7" cy="277.0"/><circle cx="135.6" cy="287.9"/><circle cx="124.4" cy="292.7"/><circle cx="149.4" cy="272.9"/><circle cx="169.2" cy="263.9"/><circle cx="132.1" cy="299.5"/></g><g fill="#e377c2" stroke="#e377c2" fill-opacity="0.5" stroke-opacity="0.5" stroke-width="0.9"><circle cx="195.9" cy="231.2"/><circle cx="125.6" cy="296.9"/><circle cx="143.9" cy="269.9"/><circle cx="192.0" cy="232.8"/><circle cx="188.3" cy="256.2"/><circle cx="165.1" cy="277.8"/><circle cx="183.8" cy="246.7"/><circle cx="158.9" cy="256.1"/><circle cx="203.5" cy="232.8"/><circle cx="165.4" cy="262.5"/><circle cx="177.7" cy="257.9"/><circle cx="135.9" cy="290.0"/><circle cx="149.9" cy="283.7"/><circle cx="150.4" cy="271.7"/><circle cx="181.6" cy="248.3"/><circle cx="180.4" cy="240.3"/><circle cx="156.0" cy="281.9"/><circle cx="204.2" cy="218.6"/><circle cx="163.2" cy="263.6"/><circle cx="130.9" cy="293.5"/><circle cx="165.1" cy="266.9"/><circle cx="162.7" cy="259.4"/><circle cx="194.8" cy="230.0"/><circle cx="201.7" cy="228.1"/><circle cx="191.2" cy="228.4"/><circle cx="147.7" cy="287.9"/><circle cx="142.3" cy="269.3"/><circle cx="172.1" cy="274.1"/><circle cx="204.4" cy="223.1"/><circle cx="157.3" cy="263.4"/><circle cx="153.8" cy="277.5"/><circle cx="144.0" cy="278.8"/><circle cx="164.8" cy="268.6"/><circle cx="196.6" cy="223.9"/><circle cx="148.9" cy="270.6"/><circle cx="193.1" cy="250.2"/><circle cx="180.6" cy="266.7"/><circle cx="153.4" cy="275.6"/><circle cx="208.9" cy="233.0"/><circle cx="158.8" cy="268.4"/><circle cx="197.4" cy="225.7"/><circle cx="187.5" cy="258.2"/><circle cx="144.9" cy="282.6"/><circle cx="150.2" cy="283.2"/><circle cx="146.9" cy="278.0"/><circle cx="141.2" cy="298.1"/><circle cx="130.4" cy="295.6"/><circle cx="134.3" cy="297.2"/><circle cx="170.6" cy="279.0"/><circle cx="150.9" cy="287.6"/><circle cx="183.1" cy="235.2"/><circle cx="189.5" cy="237.1"/><circle cx="154.1" cy="270.3"/><circle cx="146.4" cy="277.1"/><circle cx="203.1" cy="228.6"/><circle cx="155.3" cy="288.1"/><circle cx="196.8" cy="227.1"/><circle cx="162.3" cy="278.0"/><circle cx="201.7" cy="247.0"/><circle cx="153.2" cy="274.6"/></g><g fill="#ff7f0e" stroke="#ff7f0e" fill-opacity="0.5" stroke-opacity="0.5" stroke-width="0.9"><circle cx="170.3" cy="239.5"/><circle cx="158.0" cy="262.3"/><circle cx="168.1" cy="240.2"/><circle cx="162.5" cy="260.1"/><circle cx="167.7" cy="247.9"/><circle cx="156.2" cy="255.8"/><circle cx="164.7" cy="250.5"/><circle cx="145.3" cy="262.9"/><circle cx="148.2" cy="267.9"/><circle cx="171.5" cy="241.2"/><circle cx="147.2" cy="264.7"/><circle cx="152.5" cy="254.4"/><circle cx="154.4" cy="266.5"/><circle cx="165.2" cy="259.7"/><circle cx="165.8" cy="248.9"/><circle cx="160.5" cy="257.8"/><circle cx="154.9" cy="262.3"/><circle cx="167.3" cy="247.8"/><circle cx="148.7" cy="267.3"/><circle cx="164.5" cy="257.0"/><circle cx="163.5" cy="251.7"/><circle cx="160.4" cy="253.3"/><circle cx="148.5" cy="265.6"/><circle cx="170.2" cy="257.3"/><circle cx="147.9" cy="267.0"/><circle cx="152.8" cy="272.8"/><circle cx="145.7" cy="267.9"/><circle cx="168.8" cy="253.8"/><circle cx="156.2" cy="264.0"/><circle cx="156.7" cy="250.7"/><circle cx="145.4" cy="268.2"/><circle cx="145.1" cy="268.6"/><circle cx="165.0" cy="248.9"/><circle cx="170.6" cy="247.0"/><circle cx="164.4" cy="244.6"/><circle cx="157.9" cy="260.0"/><circle cx="159.1" cy="258.8"/><circle cx="154.2" cy="256.2"/><circle cx="160.6" cy="258.7"/><circle cx="166.6" cy="247.9"/><circle cx="148.1" cy="263.4"/><circle cx="169.5" cy="250.5"/><circle cx="154.7" cy="251.6"/><circle cx="154.1" cy="256.3"/><circle cx="171.6" cy="243.7"/><circle cx="149.4" cy="261.0"/><circle cx="159.5" cy="258.4"/><circle cx="157.8" cy="271.4"/><circle cx="161.4" cy="252.8"/><circle cx="157.4" cy="255.5"/><circle cx="158.5" cy="252.3"/><circle cx="168.9" cy="245.9"/><circle cx="162.0" cy="253.8"/><circle cx="160.7" cy="252.4"/><circle cx="159.8" cy="257.0"/><circle cx="155.3" cy="264.1"/><circle cx="169.6" cy="241.5"/><circle cx="162.0" cy="250.7"/><circle cx="149.2" cy="261.6"/><circle cx="169.1" cy="246.0"/><circle cx="167.1" cy="244.3"/><circle cx="148.7" cy="268.7"/><circle cx="179.0" cy="250.8"/><circle cx="170.5" cy="249.7"/><circle cx="156.9" cy="255.5"/><circle cx="160.3" cy="250.2"/><circle cx="156.3" cy="266.0"/><circle cx="167.6" cy="245.3"/><circle cx="175.4" cy="247.2"/><circle cx="147.3" cy="266.9"/><circle cx="156.6" cy="247.9"/><circle cx="164.2" cy="248.9"/><circle cx="150.0" cy="263.2"/><circle cx="143.2" cy="266.5"/><circle cx="153.4" cy="260.1"/><circle cx="157.0" cy="259.6"/><circle cx="166.7" cy="251.6"/><circle cx="156.4" cy="264.0"/><circle cx="164.6" cy="257.5"/><circle cx="159.5" cy="258.3"/><circle cx="151.2" cy="267.1"/><circle cx="165.9" cy="239.5"/><circle cx="157.4" cy="258.6"/><circle cx="146.1" cy="271.8"/><circle cx="154.1" cy="249.8"/><circle cx="158.4" cy="258.8"/><circle cx="158.6" cy="258.8"/><circle cx="153.0" cy="261.8"/><circle cx="160.8" cy="253.6"/><circle cx="148.4" cy="270.4"/><circle cx="148.3" cy="271.3"/><circle cx="148.4" cy="262.3"/><circle cx="172.1" cy="247.9"/><circle cx="174.9" cy="246.3"/><circle cx="173.2" cy="243.5"/><circle cx="151.5" cy="266.7"/><circle cx="167.9" cy="249.3"/><circle cx="163.5" cy="254.4"/><circle cx="149.3" cy="267.0"/><circle cx="164.7" cy="250.9"/><circle cx="144.3" cy="268.5"/><circle cx="171.7" cy="255.3"/><circle cx="163.2" cy="244.5"/><circle cx="143.0" cy="263.7"/><circle cx="152.5" cy="267.8"/><circle cx="159.2" cy="254.7"/><circle cx="163.9" cy="257.8"/><circle cx="145.8" cy="271.3"/><circle cx="142.1" cy="265.2"/><circle cx="151.1" cy="257.1"/><circle cx="169.5" cy="246.8"/><circle cx="141.7" cy="260.2"/><circle cx="149.8" cy="262.7"/><circle cx="154.7" cy="277.2"/><circle cx="150.3" cy="266.6"/><circle cx="165.1" cy="238.9"/><circle cx="157.2" cy="256.4"/><circle cx="146.1" cy="260.6"/><circle cx="168.7" cy="245.8"/><circle cx="150.9" cy="260.7"/><circle cx="157.4" cy="245.7"/><circle cx="164.3" cy="251.5"/><circle cx="167.3" cy="248.8"/><circle cx="149.7" cy="260.1"/><circle cx="145.9" cy="260.7"/><circle cx="163.2" cy="240.0"/><circle cx="165.7" cy="245.4"/><circle cx="153.3" cy="254.1"/><circle cx="169.6" cy="261.3"/><circle cx="163.4" cy="255.1"/><circle cx="193.2" cy="209.5"/><circle cx="189.0" cy="216.0"/><circle cx="188.5" cy="214.9"/><circle cx="174.3" cy="237.0"/><circle cx="187.1" cy="213.8"/><circle cx="188.6" cy="231.7"/><circle cx="194.6" cy="211.2"/><circle cx="181.0" cy="228.1"/><circle cx="181.8" cy="239.0"/><circle cx="192.6" cy="215.3"/><circle cx="190.6" cy="228.4"/><circle cx="190.2" cy="242.7"/><circle cx="202.3" cy="219.6"/><circle cx="173.2" cy="235.2"/><circle cx="187.5" cy="215.5"/><circle cx="185.5" cy="219.6"/><circle cx="182.0" cy="234.5"/><circle cx="174.0" cy="236.7"/><circle cx="202.9" cy="218.6"/><circle cx="197.9" cy="216.2"/><circle cx="176.4" cy="232.9"/><circle cx="189.9" cy="217.0"/><circle cx="192.6" cy="225.1"/><circle cx="187.4" cy="219.4"/><circle cx="172.4" cy="232.9"/><circle cx="193.9" cy="215.7"/><circle cx="171.8" cy="226.1"/><circle cx="194.9" cy="214.9"/><circle cx="176.9" cy="236.4"/><circle cx="178.3" cy="238.8"/><circle cx="193.2" cy="211.7"/><circle cx="177.8" cy="232.6"/><circle cx="196.6" cy="220.9"/><circle cx="194.8" cy="225.9"/><circle cx="174.7" cy="234.0"/><circle cx="173.5" cy="228.8"/><circle cx="176.1" cy="238.8"/><circle cx="180.0" cy="240.0"/><circle cx="176.4" cy="238.5"/><circle cx="192.8" cy="215.5"/><circle cx="198.2" cy="213.3"/><circle cx="191.3" cy="207.7"/><circle cx="177.6" cy="238.6"/><circle cx="185.1" cy="231.7"/><circle cx="189.0" cy="225.5"/><circle cx="190.8" cy="225.7"/><circle cx="185.9" cy="211.3"/><circle cx="178.5" cy="227.7"/><circle cx="180.4" cy="223.8"/><circle cx="192.5" cy="218.2"/><circle cx="204.0" cy="199.4"/><circle cx="198.8" cy="202.5"/><circle cx="202.0" cy="195.6"/><circle cx="230.4" cy="166.0"/><circle cx="224.2" cy="186.7"/><circle cx="210.8" cy="195.7"/><circle cx="202.4" cy="191.9"/><circle cx="194.4" cy="199.3"/><circle cx="222.8" cy="177.0"/><circle cx="220.2" cy="177.8"/><circle cx="249.4" cy="157.6"/><circle cx="213.7" cy="183.5"/><circle cx="202.8" cy="197.3"/><circle cx="199.6" cy="200.0"/><circle cx="227.0" cy="169.9"/><circle cx="208.3" cy="192.6"/><circle cx="208.1" cy="186.9"/><circle cx="203.5" cy="198.7"/><circle cx="223.9" cy="175.3"/><circle cx="246.0" cy="159.4"/><circle cx="207.5" cy="189.3"/><circle cx="241.3" cy="166.1"/><circle cx="216.9" cy="185.5"/><circle cx="229.4" cy="167.0"/><circle cx="225.5" cy="177.0"/><circle cx="198.0" cy="209.4"/><circle cx="191.3" cy="204.7"/><circle cx="213.7" cy="178.9"/><circle cx="213.8" cy="182.1"/><circle cx="194.9" cy="206.9"/><circle cx="222.7" cy="178.2"/><circle cx="227.8" cy="169.9"/><circle cx="241.7" cy="154.1"/><circle cx="206.2" cy="192.3"/><circle cx="224.6" cy="175.4"/><circle cx="203.1" cy="192.8"/><circle cx="204.8" cy="193.3"/><circle cx="205.7" cy="187.6"/><circle cx="221.1" cy="179.2"/><circle cx="230.1" cy="164.0"/><circle cx="229.9" cy="169.0"/><circle cx="213.3" cy="180.8"/><circle cx="243.1" cy="158.3"/><circle cx="233.6" cy="168.7"/><circle cx="244.6" cy="159.4"/><circle cx="200.5" cy="197.7"/><circle cx="231.0" cy="174.5"/><circle cx="243.0" cy="155.0"/><circle cx="227.5" cy="170.3"/><circle cx="205.5" cy="197.9"/><circle cx="222.3" cy="183.1"/><circle cx="240.0" cy="153.9"/><circle cx="242.2" cy="160.3"/><circle cx="236.1" cy="166.8"/><circle cx="217.7" cy="184.9"/><circle cx="206.3" cy="189.5"/><circle cx="201.6" cy="195.2"/><circle cx="195.5" cy="200.7"/><circle cx="196.7" cy="206.4"/><circle cx="202.3" cy="193.5"/><circle cx="228.4" cy="173.8"/><circle cx="194.5" cy="206.2"/><circle cx="200.0" cy="200.1"/><circle cx="244.3" cy="161.6"/><circle cx="200.0" cy="198.7"/><circle cx="214.7" cy="184.3"/><circle cx="227.8" cy="175.1"/><circle cx="202.9" cy="194.7"/><circle cx="217.5" cy="179.8"/><circle cx="246.5" cy="154.5"/><circle cx="243.9" cy="150.5"/><circle cx="246.0" cy="155.9"/><circle cx="207.5" cy="195.4"/><circle cx="214.3" cy="190.8"/><circle cx="230.4" cy="166.4"/><circle cx="227.2" cy="174.0"/><circle cx="218.9" cy="182.3"/><circle cx="192.0" cy="202.8"/><circle cx="223.8" cy="180.3"/><circle cx="225.1" cy="175.6"/><circle cx="203.2" cy="199.0"/><circle cx="237.6" cy="168.2"/><circle cx="232.3" cy="171.9"/><circle cx="196.8" cy="203.4"/><circle cx="247.7" cy="153.1"/><circle cx="244.2" cy="156.6"/><circle cx="234.9" cy="168.2"/><circle cx="223.6" cy="182.0"/><circle cx="208.5" cy="195.5"/><circle cx="216.0" cy="179.6"/><circle cx="226.3" cy="180.3"/><circle cx="203.2" cy="203.7"/><circle cx="204.7" cy="193.7"/><circle cx="222.2" cy="176.5"/><circle cx="221.4" cy="181.0"/><circle cx="245.9" cy="154.1"/><circle cx="247.3" cy="160.2"/><circle cx="201.3" cy="197.3"/><circle cx="231.3" cy="168.9"/><circle cx="223.0" cy="180.2"/><circle cx="201.8" cy="201.1"/><circle cx="199.9" cy="198.6"/><circle cx="246.2" cy="151.3"/><circle cx="212.1" cy="187.8"/><circle cx="214.3" cy="176.4"/><circle cx="235.9" cy="168.6"/><circle cx="208.3" cy="191.8"/><circle cx="207.1" cy="193.5"/><circle cx="197.3" cy="203.3"/><circle cx="240.2" cy="159.4"/><circle cx="209.3" cy="193.5"/><circle cx="218.7" cy="177.1"/><circle cx="219.4" cy="181.6"/><circle cx="235.0" cy="164.2"/><circle cx="218.2" cy="182.2"/><circle cx="198.8" cy="201.7"/><circle cx="209.7" cy="185.6"/><circle cx="216.1" cy="189.8"/><circle cx="233.0" cy="166.7"/><circle cx="204.3" cy="206.0"/><circle cx="242.6" cy="157.4"/><circle cx="210.8" cy="192.6"/><circle cx="246.8" cy="152.5"/><circle cx="242.2" cy="157.9"/><circle cx="240.3" cy="155.2"/><circle cx="242.3" cy="156.0"/><circle cx="200.8" cy="195.7"/><circle cx="209.5" cy="185.3"/><circle cx="222.0" cy="179.8"/><circle cx="193.5" cy="201.1"/><circle cx="192.5" cy="204.9"/><circle cx="191.5" cy="200.8"/><circle cx="239.8" cy="165.0"/><circle cx="234.7" cy="162.7"/><circle cx="193.4" cy="206.9"/><circle cx="245.3" cy="156.7"/><circle cx="237.5" cy="165.4"/><circle cx="235.7" cy="155.5"/><circle cx="219.8" cy="181.9"/><circle cx="227.9" cy="172.0"/><circle cx="228.1" cy="177.6"/><circle cx="224.9" cy="186.8"/><circle cx="212.0" cy="186.1"/><circle cx="212.7" cy="180.5"/><circle cx="217.0" cy="183.9"/><circle cx="235.4" cy="171.2"/><circle cx="242.6" cy="161.8"/><circle cx="245.7" cy="151.0"/><circle cx="240.4" cy="161.1"/><circle cx="220.0" cy="172.8"/><circle cx="211.9" cy="191.7"/><circle cx="216.3" cy="177.9"/><circle cx="221.3" cy="186.5"/><circle cx="222.4" cy="179.1"/><circle cx="238.5" cy="170.1"/><circle cx="218.7" cy="176.4"/><circle cx="209.9" cy="185.9"/><circle cx="243.1" cy="155.0"/><circle cx="195.4" cy="204.6"/><circle cx="223.4" cy="177.6"/><circle cx="240.7" cy="163.7"/><circle cx="227.1" cy="173.3"/><circle cx="238.2" cy="163.4"/><circle cx="240.7" cy="156.0"/><circle cx="232.4" cy="171.1"/><circle cx="211.7" cy="196.8"/><circle cx="238.0" cy="159.2"/><circle cx="223.0" cy="175.8"/><circle cx="238.6" cy="155.7"/><circle cx="208.1" cy="189.4"/><circle cx="234.4" cy="162.1"/><circle cx="215.0" cy="190.4"/><circle cx="215.7" cy="179.9"/><circle cx="224.7" cy="173.2"/><circle cx="225.4" cy="166.0"/><circle cx="211.1" cy="186.2"/><circle cx="245.0" cy="155.2"/><circle cx="224.9" cy="180.6"/><circle cx="241.4" cy="156.5"/><circle cx="196.5" cy="196.1"/><circle cx="219.7" cy="180.7"/><circle cx="212.6" cy="190.3"/><circle cx="244.8" cy="153.1"/><circle cx="242.3" cy="160.6"/><circle cx="206.7" cy="189.1"/><circle cx="202.2" cy="197.1"/><circle cx="213.0" cy="181.5"/><circle cx="218.5" cy="177.1"/><circle cx="221.5" cy="176.8"/><circle cx="236.2" cy="159.6"/><circle cx="205.7" cy="197.4"/><circle cx="227.6" cy="169.3"/><circle cx="209.5" cy="190.4"/><circle cx="242.7" cy="156.3"/><circle cx="217.9" cy="174.5"/><circle cx="246.1" cy="157.1"/><circle cx="223.0" cy="175.0"/><circle cx="246.2" cy="152.5"/><circle cx="227.5" cy="169.4"/><circle cx="237.5" cy="163.5"/><circle cx="213.4" cy="181.5"/><circle cx="219.2" cy="173.7"/><circle cx="215.4" cy="187.0"/><circle cx="212.9" cy="188.7"/><circle cx="206.1" cy="190.8"/><circle cx="218.8" cy="175.2"/><circle cx="206.6" cy="193.3"/><circle cx="230.6" cy="167.0"/><circle cx="230.1" cy="175.5"/><circle cx="237.3" cy="168.0"/><circle cx="237.0" cy="167.5"/><circle cx="231.9" cy="160.2"/><circle cx="219.3" cy="169.1"/><circle cx="246.2" cy="157.6"/><circle cx="244.5" cy="155.7"/><circle cx="227.2" cy="169.9"/><circle cx="203.8" cy="192.3"/><circle cx="237.8" cy="162.9"/><circle cx="203.8" cy="195.2"/><circle cx="242.8" cy="164.8"/><circle cx="193.5" cy="195.3"/><circle cx="192.7" cy="203.8"/><circle cx="211.9" cy="179.8"/><circle cx="175.8" cy="221.1"/><circle cx="171.6" cy="209.6"/><circle cx="180.6" cy="214.3"/><circle cx="217.1" cy="176.0"/><circle cx="186.1" cy="195.2"/><circle cx="209.3" cy="175.8"/><circle cx="175.2" cy="217.1"/><circle cx="202.7" cy="184.8"/><circle cx="186.2" cy="206.5"/><circle cx="179.3" cy="205.7"/><circle cx="199.1" cy="199.8"/><circle cx="184.0" cy="214.4"/><circle cx="181.4" cy="212.3"/><circle cx="197.8" cy="197.8"/><circle cx="184.8" cy="215.0"/><circle cx="192.3" cy="201.3"/><circle cx="220.6" cy="170.5"/><circle cx="202.2" cy="184.9"/><circle cx="179.8" cy="200.7"/><circle cx="188.9" cy="205.2"/><circle cx="180.5" cy="224.6"/><circle cx="191.2" cy="199.7"/><circle cx="228.2" cy="171.8"/><circle cx="214.0" cy="182.3"/><circle cx="183.0" cy="214.4"/><circle cx="202.7" cy="195.6"/><circle cx="225.6" cy="164.9"/><circle cx="226.3" cy="159.0"/><circle cx="182.3" cy="204.2"/><circle cx="190.4" cy="200.6"/><circle cx="201.0" cy="183.9"/><circle cx="206.3" cy="177.5"/><circle cx="212.6" cy="173.2"/><circle cx="177.4" cy="220.6"/><circle cx="192.0" cy="197.4"/><circle cx="225.8" cy="173.6"/><circle cx="224.3" cy="161.7"/><circle cx="70.9" cy="349.4"/><circle cx="74.7" cy="348.8"/><circle cx="75.1" cy="350.1"/><circle cx="75.6" cy="347.5"/><circle cx="76.8" cy="348.6"/><circle cx="72.0" cy="349.7"/><circle cx="69.4" cy="348.4"/><circle cx="73.6" cy="349.6"/><circle cx="75.8" cy="349.2"/><circle cx="72.5" cy="350.2"/><circle cx="74.6" cy="349.7"/><circle cx="75.3" cy="350.9"/><circle cx="76.2" cy="351.0"/><circle cx="70.5" cy="349.7"/></g><g fill="#e377c2" stroke="#e377c2" fill-opacity="0.5" stroke-opacity="0.5" stroke-width="0.9"><circle cx="62.7" cy="350.8"/><circle cx="63.1" cy="349.1"/><circle cx="65.0" cy="350.2"/><circle cx="66.4" cy="350.0"/><circle cx="64.4" cy="350.3"/><circle cx="64.4" cy="350.1"/><circle cx="63.1" cy="351.0"/><circle cx="65.5" cy="349.6"/><circle cx="61.2" cy="352.3"/><circle cx="61.8" cy="350.8"/></g><g fill="#7f7f7f" stroke="#7f7f7f" fill-opacity="0.5" stroke-opacity="0.5" stroke-width="0.9"><circle cx="64.3" cy="348.2"/><circle cx="61.8" cy="347.5"/><circle cx="65.8" cy="348.8"/><circle cx="66.0" cy="350.1"/><circle cx="64.4" cy="349.3"/><circle cx="62.9" cy="350.7"/><circle cx="65.4" cy="350.8"/><circle cx="65.0" cy="348.1"/><circle cx="64.5" cy="348.1"/><circle cx="65.1" cy="349.1"/></g><g fill="#2ca02c" stroke="#2ca02c" fill-opacity="0.5" stroke-opacity="0.5" stroke-width="0.9"><circle cx="153.7" cy="253.4"/><circle cx="180.1" cy="230.5"/><circle cx="168.7" cy="238.6"/><circle cx="194.7" cy="220.1"/><circle cx="157.1" cy="257.2"/><circle cx="180.4" cy="227.7"/><circle cx="175.7" cy="234.5"/><circle cx="166.2" cy="258.1"/><circle cx="173.4" cy="238.5"/><circle cx="158.4" cy="259.4"/><circle cx="154.7" cy="257.3"/><circle cx="193.2" cy="216.6"/><circle cx="162.4" cy="249.7"/><circle cx="182.9" cy="229.7"/><circle cx="178.4" cy="230.1"/><circle cx="186.5" cy="214.8"/><circle cx="177.8" cy="230.4"/><circle cx="169.6" cy="241.7"/><circle cx="173.1" cy="239.9"/><circle cx="177.6" cy="232.5"/><circle cx="169.0" cy="243.5"/><circle cx="188.6" cy="223.2"/><circle cx="179.6" cy="236.6"/><circle cx="183.1" cy="225.6"/><circle cx="188.3" cy="222.1"/><circle cx="187.6" cy="225.2"/><circle cx="175.7" cy="237.5"/><circle cx="161.7" cy="240.4"/><circle cx="159.3" cy="258.7"/><circle cx="182.8" cy="227.2"/><circle cx="155.5" cy="256.1"/><circle cx="167.7" cy="249.5"/><circle cx="172.9" cy="234.1"/><circle cx="194.0" cy="225.3"/><circle cx="186.1" cy="226.4"/><circle cx="170.3" cy="239.8"/><circle cx="162.7" cy="243.8"/><circle cx="172.8" cy="244.0"/><circle cx="194.1" cy="225.1"/><circle cx="192.5" cy="217.6"/><circle cx="185.5" cy="230.5"/><circle cx="198.8" cy="221.2"/><circle cx="167.8" cy="250.5"/><circle cx="193.8" cy="217.6"/><circle cx="172.9" cy="240.5"/><circle cx="157.2" cy="258.0"/><circle cx="183.8" cy="236.8"/><circle cx="169.1" cy="246.4"/><circle cx="167.7" cy="246.5"/><circle cx="164.8" cy="241.3"/><circle cx="161.2" cy="252.2"/><circle cx="162.0" cy="250.3"/><circle cx="154.4" cy="255.9"/><circle cx="157.0" cy="256.6"/><circle cx="180.4" cy="231.7"/><circle cx="170.3" cy="242.3"/><circle cx="179.0" cy="233.3"/><circle cx="180.2" cy="237.3"/><circle cx="182.8" cy="225.2"/><circle cx="157.8" cy="256.2"/><circle cx="174.4" cy="236.5"/><circle cx="172.4" cy="248.2"/><circle cx="176.8" cy="231.4"/><circle cx="173.1" cy="243.1"/><circle cx="170.3" cy="249.0"/><circle cx="168.9" cy="234.6"/><circle cx="162.3" cy="252.0"/><circle cx="186.0" cy="223.3"/><circle cx="174.9" cy="236.2"/><circle cx="166.2" cy="243.7"/><circle cx="176.5" cy="232.1"/><circle cx="160.2" cy="251.4"/><circle cx="169.7" cy="246.2"/><circle cx="164.1" cy="245.2"/><circle cx="168.3" cy="241.0"/><circle cx="181.7" cy="230.3"/><circle cx="188.5" cy="214.5"/><circle cx="159.8" cy="257.1"/><circle cx="185.3" cy="227.4"/><circle cx="180.6" cy="230.2"/><circle cx="171.1" cy="238.0"/><circle cx="168.5" cy="244.7"/><circle cx="179.0" cy="232.5"/><circle cx="191.1" cy="220.6"/><circle cx="169.0" cy="242.6"/><circle cx="163.2" cy="248.1"/><circle cx="165.2" cy="250.2"/><circle cx="177.1" cy="227.0"/><circle cx="175.1" cy="237.1"/><circle cx="170.9" cy="239.7"/><circle cx="196.3" cy="219.5"/><circle cx="153.4" cy="253.2"/><circle cx="159.0" cy="247.6"/><circle cx="150.8" cy="256.0"/><circle cx="184.6" cy="224.5"/><circle cx="176.8" cy="231.4"/><circle cx="160.8" cy="248.9"/><circle cx="191.8" cy="219.8"/><circle cx="167.1" cy="236.4"/><circle cx="163.4" cy="250.3"/><circle cx="176.4" cy="241.1"/><circle cx="164.6" cy="249.8"/><circle cx="157.2" cy="262.4"/><circle cx="171.3" cy="237.7"/><circle cx="183.3" cy="222.5"/><circle cx="183.8" cy="232.6"/><circle cx="161.9" cy="259.7"/><circle cx="176.1" cy="228.3"/><circle cx="179.6" cy="233.9"/><circle cx="192.4" cy="220.3"/><circle cx="181.4" cy="225.3"/><circle cx="174.4" cy="234.9"/><circle cx="178.3" cy="236.3"/><circle cx="177.3" cy="234.9"/><circle cx="183.3" cy="227.2"/><circle cx="195.3" cy="218.3"/><circle cx="193.3" cy="217.8"/><circle cx="154.6" cy="254.7"/><circle cx="172.6" cy="240.3"/><circle cx="186.4" cy="223.6"/><circle cx="165.7" cy="245.7"/><circle cx="175.0" cy="240.4"/><circle cx="155.9" cy="255.5"/><circle cx="185.1" cy="231.3"/><circle cx="177.2" cy="232.5"/><circle cx="170.3" cy="242.5"/><circle cx="176.4" cy="239.3"/><circle cx="158.8" cy="255.7"/><circle cx="161.8" cy="259.6"/><circle cx="166.1" cy="248.3"/><circle cx="192.4" cy="217.1"/><circle cx="188.4" cy="219.3"/><circle cx="165.8" cy="244.5"/><circle cx="189.9" cy="223.1"/><circle cx="155.5" cy="253.0"/><circle cx="161.3" cy="249.3"/><circle cx="156.8" cy="251.0"/><circle cx="171.7" cy="250.5"/><circle cx="166.6" cy="239.3"/><circle cx="191.0" cy="221.6"/><circle cx="161.1" cy="252.5"/><circle cx="194.1" cy="216.2"/><circle cx="176.3" cy="239.5"/><circle cx="170.9" cy="236.6"/><circle cx="159.1" cy="247.8"/><circle cx="160.3" cy="253.3"/><circle cx="159.5" cy="255.2"/><circle cx="173.0" cy="242.9"/><circle cx="188.6" cy="223.4"/><circle cx="163.4" cy="247.7"/><circle cx="159.8" cy="246.7"/><circle cx="158.6" cy="249.3"/><circle cx="194.9" cy="217.0"/><circle cx="191.4" cy="216.4"/><circle cx="171.2" cy="245.0"/><circle cx="187.9" cy="221.3"/><circle cx="167.8" cy="244.7"/><circle cx="157.5" cy="255.0"/><circle cx="185.8" cy="226.2"/><circle cx="188.7" cy="225.4"/><circle cx="184.2" cy="229.1"/><circle cx="193.4" cy="216.3"/><circle cx="178.3" cy="235.3"/><circle cx="186.9" cy="222.0"/><circle cx="165.5" cy="253.2"/><circle cx="156.3" cy="256.0"/><circle cx="167.2" cy="238.5"/><circle cx="172.9" cy="237.0"/><circle cx="180.1" cy="233.6"/><circle cx="175.2" cy="234.2"/><circle cx="159.1" cy="245.4"/><circle cx="171.4" cy="236.7"/><circle cx="185.9" cy="221.2"/><circle cx="180.5" cy="222.4"/><circle cx="167.2" cy="244.1"/><circle cx="191.7" cy="218.5"/><circle cx="176.2" cy="231.6"/><circle cx="194.5" cy="216.8"/><circle cx="156.9" cy="252.9"/><circle cx="185.6" cy="226.1"/><circle cx="185.8" cy="219.0"/><circle cx="193.6" cy="221.2"/><circle cx="188.4" cy="219.8"/><circle cx="158.5" cy="256.0"/><circle cx="192.4" cy="215.7"/><circle cx="185.7" cy="220.2"/><circle cx="166.7" cy="248.6"/><circle cx="190.6" cy="221.1"/><circle cx="162.4" cy="247.3"/><circle cx="169.4" cy="238.0"/><circle cx="166.5" cy="251.8"/><circle cx="175.5" cy="235.8"/><circle cx="173.4" cy="236.7"/><circle cx="171.6" cy="243.6"/><circle cx="168.2" cy="251.8"/><circle cx="151.8" cy="255.9"/><circle cx="167.0" cy="238.8"/><circle cx="171.2" cy="240.9"/><circle cx="161.0" cy="252.0"/><circle cx="179.9" cy="232.6"/><circle cx="191.7" cy="224.0"/><circle cx="192.9" cy="223.6"/><circle cx="182.1" cy="229.0"/><circle cx="173.8" cy="233.4"/><circle cx="157.3" cy="251.7"/><circle cx="166.2" cy="251.2"/><circle cx="176.0" cy="230.3"/><circle cx="187.8" cy="224.2"/><circle cx="181.9" cy="221.3"/><circle cx="179.5" cy="234.2"/><circle cx="176.6" cy="238.3"/><circle cx="153.4" cy="255.2"/><circle cx="184.5" cy="231.9"/><circle cx="187.3" cy="223.2"/><circle cx="179.7" cy="230.3"/><circle cx="189.4" cy="217.9"/><circle cx="159.1" cy="243.2"/><circle cx="167.5" cy="244.9"/><circle cx="176.7" cy="231.0"/><circle cx="174.7" cy="231.2"/><circle cx="178.3" cy="235.6"/><circle cx="178.4" cy="233.0"/><circle cx="183.1" cy="222.9"/><circle cx="184.7" cy="225.9"/><circle cx="185.1" cy="223.7"/><circle cx="156.0" cy="249.0"/><circle cx="178.8" cy="236.4"/><circle cx="188.5" cy="226.5"/><circle cx="171.9" cy="230.6"/><circle cx="191.8" cy="216.9"/><circle cx="169.0" cy="237.8"/><circle cx="156.3" cy="250.1"/><circle cx="156.1" cy="251.9"/><circle cx="188.7" cy="219.2"/><circle cx="159.0" cy="258.8"/><circle cx="161.9" cy="248.8"/><circle cx="171.5" cy="248.1"/><circle cx="166.1" cy="250.0"/><circle cx="166.7" cy="234.0"/><circle cx="192.3" cy="221.0"/><circle cx="155.9" cy="250.7"/><circle cx="163.4" cy="246.7"/><circle cx="163.1" cy="249.9"/><circle cx="168.8" cy="240.4"/><circle cx="187.4" cy="217.8"/><circle cx="156.2" cy="261.4"/><circle cx="184.6" cy="222.9"/><circle cx="187.7" cy="222.9"/><circle cx="185.6" cy="226.2"/><circle cx="174.2" cy="236.4"/><circle cx="164.7" cy="240.6"/><circle cx="164.9" cy="243.7"/><circle cx="179.1" cy="226.0"/><circle cx="191.8" cy="217.1"/><circle cx="177.2" cy="228.9"/><circle cx="178.6" cy="228.3"/><circle cx="185.1" cy="228.1"/><circle cx="166.7" cy="247.2"/><circle cx="183.7" cy="228.0"/><circle cx="176.7" cy="233.9"/><circle cx="151.3" cy="252.6"/><circle cx="172.4" cy="238.2"/><circle cx="171.5" cy="238.4"/><circle cx="190.2" cy="215.3"/><circle cx="188.5" cy="224.9"/><circle cx="161.2" cy="248.2"/><circle cx="193.2" cy="219.9"/><circle cx="183.5" cy="225.4"/><circle cx="186.0" cy="226.6"/><circle cx="181.6" cy="238.5"/><circle cx="187.7" cy="225.1"/><circle cx="184.8" cy="225.9"/><circle cx="159.8" cy="249.4"/><circle cx="190.4" cy="227.2"/><circle cx="168.9" cy="251.8"/><circle cx="174.2" cy="234.9"/><circle cx="160.0" cy="250.5"/><circle cx="182.5" cy="233.6"/><circle cx="171.5" cy="236.1"/><circle cx="155.9" cy="247.2"/><circle cx="179.1" cy="229.2"/><circle cx="192.8" cy="217.7"/><circle cx="151.6" cy="255.3"/><circle cx="164.5" cy="255.8"/><circle cx="182.6" cy="227.8"/><circle cx="187.0" cy="219.5"/><circle cx="153.9" cy="253.6"/><circle cx="158.7" cy="252.2"/><circle cx="183.3" cy="230.0"/><circle cx="161.7" cy="246.2"/><circle cx="166.8" cy="246.6"/><circle cx="191.8" cy="217.4"/><circle cx="193.7" cy="222.9"/><circle cx="192.7" cy="217.3"/><circle cx="168.8" cy="242.5"/><circle cx="171.0" cy="241.4"/><circle cx="188.1" cy="225.4"/><circle cx="175.3" cy="232.0"/><circle cx="161.7" cy="243.9"/><circle cx="188.5" cy="219.3"/><circle cx="163.9" cy="250.2"/><circle cx="190.6" cy="226.0"/><circle cx="181.1" cy="228.1"/><circle cx="155.5" cy="258.0"/><circle cx="158.9" cy="258.6"/><circle cx="161.0" cy="249.9"/><circle cx="189.8" cy="225.9"/><circle cx="173.3" cy="229.4"/><circle cx="188.6" cy="235.7"/><circle cx="156.6" cy="253.3"/><circle cx="157.6" cy="246.7"/><circle cx="155.4" cy="254.0"/><circle cx="167.1" cy="245.1"/><circle cx="185.5" cy="219.7"/><circle cx="162.0" cy="256.2"/><circle cx="166.5" cy="251.8"/><circle cx="164.2" cy="249.5"/><circle cx="167.4" cy="248.1"/><circle cx="162.0" cy="251.8"/><circle cx="180.2" cy="230.9"/><circle cx="196.2" cy="220.0"/><circle cx="187.9" cy="224.8"/><circle cx="179.5" cy="228.0"/><circle cx="155.6" cy="246.0"/><circle cx="150.9" cy="254.8"/><circle cx="164.0" cy="250.2"/><circle cx="178.1" cy="228.5"/><circle cx="170.8" cy="243.3"/><circle cx="175.8" cy="244.7"/><circle cx="158.8" cy="249.5"/><circle cx="183.0" cy="228.8"/><circle cx="160.3" cy="251.3"/><circle cx="160.1" cy="251.8"/><circle cx="195.5" cy="219.8"/><circle cx="177.6" cy="231.9"/><circle cx="161.1" cy="245.3"/><circle cx="159.3" cy="251.7"/><circle cx="180.8" cy="232.3"/><circle cx="191.9" cy="224.4"/><circle cx="158.7" cy="255.0"/><circle cx="172.7" cy="241.1"/><circle cx="158.5" cy="254.3"/><circle cx="160.6" cy="253.3"/><circle cx="173.6" cy="240.0"/><circle cx="158.5" cy="254.1"/><circle cx="184.5" cy="231.4"/><circle cx="172.6" cy="247.0"/><circle cx="176.3" cy="237.9"/><circle cx="176.0" cy="240.1"/><circle cx="170.5" cy="239.8"/><circle cx="154.0" cy="252.9"/><circle cx="168.8" cy="240.6"/><circle cx="182.3" cy="230.5"/><circle cx="172.0" cy="241.4"/><circle cx="160.4" cy="249.5"/><circle cx="174.5" cy="234.8"/><circle cx="175.4" cy="232.9"/><circle cx="187.4" cy="226.7"/><circle cx="156.3" cy="253.1"/><circle cx="166.5" cy="235.5"/><circle cx="190.1" cy="215.9"/><circle cx="192.2" cy="214.6"/><circle cx="175.9" cy="235.7"/><circle cx="172.9" cy="239.9"/><circle cx="167.8" cy="242.7"/><circle cx="179.7" cy="234.7"/><circle cx="189.9" cy="224.4"/><circle cx="179.0" cy="230.0"/><circle cx="175.0" cy="244.9"/><circle cx="187.8" cy="222.3"/><circle cx="160.6" cy="246.3"/><circle cx="183.6" cy="231.2"/><circle cx="185.2" cy="226.0"/><circle cx="166.3" cy="249.3"/><circle cx="158.9" cy="244.3"/><circle cx="175.5" cy="236.1"/><circle cx="180.5" cy="227.2"/><circle cx="178.1" cy="236.6"/><circle cx="176.0" cy="235.1"/><circle cx="160.1" cy="258.0"/><circle cx="191.7" cy="214.4"/><circle cx="219.1" cy="198.0"/><circle cx="210.1" cy="201.8"/><circle cx="191.0" cy="206.8"/><circle cx="213.9" cy="196.4"/><circle cx="207.8" cy="209.0"/><circle cx="206.2" cy="213.7"/><circle cx="212.2" cy="196.0"/><circle cx="198.2" cy="222.5"/><circle cx="200.7" cy="216.7"/><circle cx="192.3" cy="214.3"/><circle cx="213.3" cy="198.5"/><circle cx="196.1" cy="209.6"/><circle cx="195.0" cy="211.1"/><circle cx="206.8" cy="193.2"/><circle cx="201.9" cy="210.1"/><circle cx="204.3" cy="210.2"/><circle cx="188.7" cy="211.4"/><circle cx="205.6" cy="190.6"/><circle cx="212.0" cy="192.4"/><circle cx="194.4" cy="206.7"/><circle cx="204.4" cy="195.5"/><circle cx="198.6" cy="203.3"/><circle cx="195.6" cy="207.3"/><circle cx="199.1" cy="204.2"/><circle cx="216.7" cy="196.6"/><circle cx="204.9" cy="209.4"/><circle cx="198.5" cy="205.5"/><circle cx="203.0" cy="190.6"/><circle cx="196.8" cy="204.1"/><circle cx="192.3" cy="216.8"/><circle cx="214.3" cy="205.0"/><circle cx="201.4" cy="202.3"/><circle cx="203.5" cy="213.2"/><circle cx="200.8" cy="198.7"/><circle cx="200.7" cy="218.3"/><circle cx="191.2" cy="211.0"/><circle cx="198.9" cy="203.0"/><circle cx="203.2" cy="202.7"/><circle cx="182.5" cy="207.5"/><circle cx="205.6" cy="221.2"/><circle cx="192.2" cy="208.2"/><circle cx="191.7" cy="216.4"/><circle cx="208.2" cy="204.1"/><circle cx="209.9" cy="197.4"/><circle cx="196.8" cy="215.8"/><circle cx="210.7" cy="199.8"/><circle cx="205.2" cy="213.5"/><circle cx="199.5" cy="217.8"/><circle cx="198.2" cy="196.2"/><circle cx="207.0" cy="188.7"/><circle cx="206.4" cy="205.1"/><circle cx="204.6" cy="202.0"/><circle cx="220.7" cy="202.4"/><circle cx="192.5" cy="206.2"/><circle cx="210.6" cy="207.4"/><circle cx="195.7" cy="213.8"/><circle cx="186.3" cy="209.7"/><circle cx="202.7" cy="211.2"/><circle cx="202.5" cy="200.4"/><circle cx="199.4" cy="216.7"/><circle cx="213.5" cy="192.5"/><circle cx="212.8" cy="196.7"/><circle cx="193.1" cy="208.3"/><circle cx="196.9" cy="206.8"/><circle cx="193.7" cy="214.8"/><circle cx="211.2" cy="199.2"/><circle cx="204.4" cy="200.1"/><circle cx="205.1" cy="199.0"/><circle cx="223.3" cy="203.7"/></g><g fill="#bcbd22" stroke="#bcbd22" fill-opacity="0.5" stroke-opacity="0.5" stroke-width="0.9"><circle cx="211.3" cy="209.9"/><circle cx="205.1" cy="203.8"/><circle cx="222.4" cy="188.4"/><circle cx="216.1" cy="190.2"/><circle cx="216.5" cy="189.4"/><circle cx="195.1" cy="221.4"/><circle cx="208.1" cy="198.5"/><circle cx="217.9" cy="203.3"/><circle cx="191.9" cy="223.3"/><circle cx="187.4" cy="225.7"/><circle cx="199.6" cy="207.3"/><circle cx="216.9" cy="206.3"/><circle cx="175.5" cy="229.5"/><circle cx="224.6" cy="197.5"/><circle cx="210.0" cy="204.3"/><circle cx="205.7" cy="206.4"/><circle cx="173.9" cy="216.0"/><circle cx="199.4" cy="218.7"/><circle cx="220.8" cy="186.7"/><circle cx="175.3" cy="227.6"/><circle cx="184.0" cy="226.5"/><circle cx="213.2" cy="206.3"/><circle cx="179.8" cy="232.0"/><circle cx="192.0" cy="218.2"/><circle cx="199.8" cy="210.2"/><circle cx="180.0" cy="226.9"/><circle cx="203.3" cy="217.5"/><circle cx="188.2" cy="239.1"/><circle cx="202.2" cy="199.9"/><circle cx="199.4" cy="226.6"/><circle cx="180.2" cy="228.7"/><circle cx="208.7" cy="200.2"/><circle cx="185.0" cy="228.0"/><circle cx="206.3" cy="208.7"/><circle cx="214.5" cy="199.0"/><circle cx="188.7" cy="222.8"/><circle cx="181.4" cy="234.2"/><circle cx="207.3" cy="204.9"/><circle cx="213.8" cy="186.7"/><circle cx="223.6" cy="188.5"/></g><g fill="#17becf" stroke="#17becf" fill-opacity="0.5" stroke-opacity="0.5" stroke-width="0.9"><circle cx="232.8" cy="192.9"/><circle cx="185.6" cy="224.1"/><circle cx="221.6" cy="180.7"/><circle cx="232.3" cy="189.2"/><circle cx="220.1" cy="203.9"/><circle cx="214.9" cy="191.8"/><circle cx="217.7" cy="194.3"/><circle cx="187.7" cy="228.0"/><circle cx="212.2" cy="192.9"/><circle cx="180.8" cy="232.0"/><circle cx="213.1" cy="194.3"/><circle cx="182.4" cy="232.4"/><circle cx="193.9" cy="222.0"/><circle cx="207.6" cy="203.0"/><circle cx="224.4" cy="192.7"/><circle cx="208.4" cy="194.9"/><circle cx="182.1" cy="231.0"/><circle cx="206.8" cy="210.5"/><circle cx="200.7" cy="219.0"/><circle cx="218.5" cy="207.6"/><circle cx="202.3" cy="206.6"/><circle cx="204.4" cy="212.9"/><circle cx="206.0" cy="208.3"/><circle cx="223.1" cy="190.0"/><circle cx="197.1" cy="209.1"/><circle cx="215.0" cy="198.0"/><circle cx="187.2" cy="232.7"/><circle cx="217.1" cy="202.1"/><circle cx="200.3" cy="214.1"/><circle cx="228.1" cy="192.1"/><circle cx="214.0" cy="191.2"/><circle cx="225.3" cy="193.8"/><circle cx="223.4" cy="197.7"/><circle cx="196.5" cy="219.7"/><circle cx="189.7" cy="222.0"/><circle cx="180.0" cy="229.5"/><circle cx="228.7" cy="195.4"/><circle cx="186.0" cy="223.5"/><circle cx="203.2" cy="205.4"/><circle cx="229.1" cy="185.7"/></g><g fill="#7f7f7f" stroke="#7f7f7f" fill-opacity="0.5" stroke-opacity="0.5" stroke-width="0.9"><circle cx="211.3" cy="195.0"/><circle cx="212.8" cy="201.9"/><circle cx="212.9" cy="197.0"/><circle cx="191.0" cy="212.6"/><circle cx="186.2" cy="227.2"/><circle cx="216.6" cy="194.5"/><circle cx="202.8" cy="204.0"/><circle cx="200.6" cy="219.8"/><circle cx="214.7" cy="194.9"/><circle cx="223.5" cy="192.9"/><circle cx="219.3" cy="204.7"/><circle cx="184.4" cy="236.6"/><circle cx="175.1" cy="230.6"/><circle cx="195.4" cy="220.8"/><circle cx="195.2" cy="214.6"/><circle cx="179.2" cy="226.5"/><circle cx="184.1" cy="222.1"/><circle cx="206.1" cy="221.0"/><circle cx="221.1" cy="190.2"/><circle cx="216.7" cy="194.5"/><circle cx="194.2" cy="212.0"/><circle cx="183.9" cy="222.3"/><circle cx="219.3" cy="205.7"/><circle cx="217.9" cy="199.0"/><circle cx="232.9" cy="190.7"/><circle cx="217.4" cy="188.3"/><circle cx="173.7" cy="227.7"/><circle cx="187.8" cy="229.2"/><circle cx="196.1" cy="212.7"/><circle cx="196.0" cy="224.9"/></g><g fill="#2ca02c" stroke="#2ca02c" fill-opacity="0.5" stroke-opacity="0.5" stroke-width="0.9"><circle cx="238.8" cy="163.0"/><circle cx="250.7" cy="163.1"/><circle cx="215.3" cy="192.1"/><circle cx="242.6" cy="164.7"/><circle cx="233.9" cy="176.4"/><circle cx="216.4" cy="192.0"/><circle cx="248.3" cy="165.9"/><circle cx="249.7" cy="161.5"/><circle cx="222.9" cy="187.1"/><circle cx="217.0" cy="193.9"/><circle cx="216.8" cy="185.6"/><circle cx="235.5" cy="171.8"/><circle cx="249.5" cy="159.7"/><circle cx="235.7" cy="177.2"/><circle cx="252.0" cy="160.0"/><circle cx="227.4" cy="183.1"/><circle cx="231.0" cy="173.9"/><circle cx="219.0" cy="190.3"/><circle cx="233.8" cy="181.0"/><circle cx="217.7" cy="193.0"/><circle cx="219.0" cy="192.7"/><circle cx="227.6" cy="181.4"/><circle cx="249.3" cy="162.1"/><circle cx="222.3" cy="197.5"/><circle cx="227.9" cy="176.9"/><circle cx="236.4" cy="162.5"/><circle cx="228.8" cy="183.7"/><circle cx="220.0" cy="187.7"/><circle cx="236.0" cy="179.8"/><circle cx="247.9" cy="156.4"/><circle cx="225.0" cy="182.5"/><circle cx="251.3" cy="158.1"/><circle cx="250.7" cy="164.9"/><circle cx="229.8" cy="183.3"/><circle cx="243.7" cy="170.3"/><circle cx="248.6" cy="161.8"/><circle cx="224.4" cy="179.4"/><circle cx="242.8" cy="158.2"/><circle cx="231.7" cy="183.5"/><circle cx="222.0" cy="182.2"/><circle cx="261.7" cy="163.9"/><circle cx="244.2" cy="157.9"/><circle cx="240.1" cy="166.7"/><circle cx="249.5" cy="166.5"/><circle cx="221.6" cy="196.2"/><circle cx="243.8" cy="179.5"/><circle cx="216.4" cy="189.9"/><circle cx="246.9" cy="158.3"/><circle cx="249.9" cy="166.3"/><circle cx="222.8" cy="182.7"/><circle cx="249.4" cy="169.9"/><circle cx="215.3" cy="191.4"/><circle cx="228.9" cy="181.0"/><circle cx="229.5" cy="188.9"/><circle cx="251.6" cy="156.6"/><circle cx="230.5" cy="183.6"/><circle cx="229.3" cy="194.4"/><circle cx="217.2" cy="189.6"/><circle cx="240.9" cy="172.1"/><circle cx="242.0" cy="178.1"/><circle cx="240.2" cy="168.6"/><circle cx="216.4" cy="189.9"/><circle cx="244.0" cy="171.7"/><circle cx="244.3" cy="165.3"/><circle cx="224.5" cy="176.7"/><circle cx="220.0" cy="188.7"/><circle cx="218.5" cy="193.1"/><circle cx="238.2" cy="177.4"/><circle cx="214.7" cy="188.7"/><circle cx="247.4" cy="160.9"/><circle cx="219.8" cy="188.5"/><circle cx="252.1" cy="157.6"/><circle cx="218.4" cy="193.0"/><circle cx="234.7" cy="177.8"/><circle cx="236.0" cy="181.0"/><circle cx="250.9" cy="157.1"/><circle cx="233.6" cy="173.3"/><circle cx="245.3" cy="159.8"/><circle cx="234.3" cy="174.8"/><circle cx="221.8" cy="187.8"/><circle cx="234.3" cy="171.3"/><circle cx="239.6" cy="174.3"/><circle cx="249.2" cy="168.4"/><circle cx="223.5" cy="188.9"/><circle cx="227.1" cy="187.0"/><circle cx="220.3" cy="192.9"/><circle cx="221.6" cy="189.0"/><circle cx="225.9" cy="188.8"/><circle cx="219.9" cy="192.9"/><circle cx="229.7" cy="182.7"/><circle cx="232.0" cy="182.2"/><circle cx="242.8" cy="165.6"/><circle cx="238.7" cy="168.0"/><circle cx="236.1" cy="167.4"/><circle cx="243.4" cy="164.8"/><circle cx="239.3" cy="162.1"/><circle cx="253.2" cy="159.1"/><circle cx="227.3" cy="179.1"/><circle cx="228.1" cy="174.8"/><circle cx="246.8" cy="153.3"/><circle cx="222.0" cy="190.8"/><circle cx="240.8" cy="168.6"/><circle cx="249.8" cy="157.0"/><circle cx="222.6" cy="184.8"/><circle cx="222.5" cy="185.0"/><circle cx="240.1" cy="170.8"/><circle cx="219.9" cy="192.4"/><circle cx="226.3" cy="192.6"/><circle cx="216.8" cy="192.6"/><circle cx="243.8" cy="164.2"/><circle cx="234.0" cy="171.7"/><circle cx="250.3" cy="170.5"/><circle cx="235.8" cy="163.9"/><circle cx="231.0" cy="192.2"/><circle cx="230.4" cy="186.6"/><circle cx="253.1" cy="160.6"/><circle cx="226.4" cy="185.5"/><circle cx="232.7" cy="169.9"/><circle cx="231.4" cy="182.0"/><circle cx="244.9" cy="155.6"/><circle cx="229.0" cy="187.1"/><circle cx="224.4" cy="176.3"/><circle cx="228.1" cy="185.6"/><circle cx="225.5" cy="191.7"/><circle cx="227.5" cy="192.6"/><circle cx="238.1" cy="168.7"/><circle cx="249.0" cy="163.9"/><circle cx="251.3" cy="163.8"/><circle cx="228.7" cy="190.6"/><circle cx="218.7" cy="192.8"/><circle cx="232.5" cy="179.1"/><circle cx="223.5" cy="184.0"/><circle cx="226.4" cy="176.9"/><circle cx="242.9" cy="171.6"/><circle cx="235.6" cy="177.8"/><circle cx="231.4" cy="183.4"/><circle cx="227.9" cy="185.8"/><circle cx="219.9" cy="184.9"/><circle cx="218.8" cy="181.5"/><circle cx="246.1" cy="164.3"/><circle cx="224.0" cy="185.4"/><circle cx="252.6" cy="166.4"/><circle cx="227.2" cy="194.2"/><circle cx="238.3" cy="174.3"/><circle cx="220.5" cy="193.5"/><circle cx="227.5" cy="191.8"/><circle cx="249.2" cy="167.8"/><circle cx="246.8" cy="167.0"/><circle cx="237.4" cy="167.3"/><circle cx="228.6" cy="173.2"/><circle cx="252.0" cy="158.1"/><circle cx="238.7" cy="166.1"/><circle cx="239.8" cy="172.8"/><circle cx="230.5" cy="177.4"/><circle cx="221.2" cy="186.4"/><circle cx="247.9" cy="161.8"/><circle cx="235.4" cy="172.7"/><circle cx="230.5" cy="181.4"/><circle cx="239.7" cy="176.3"/><circle cx="221.3" cy="195.9"/><circle cx="217.9" cy="194.3"/><circle cx="225.1" cy="181.9"/><circle cx="253.0" cy="156.8"/><circle cx="230.4" cy="184.2"/><circle cx="246.0" cy="169.4"/><circle cx="226.2" cy="184.4"/><circle cx="242.6" cy="167.8"/><circle cx="222.0" cy="192.9"/><circle cx="216.3" cy="192.9"/><circle cx="231.7" cy="179.2"/><circle cx="243.3" cy="164.4"/><circle cx="229.4" cy="186.6"/><circle cx="229.1" cy="178.8"/><circle cx="241.1" cy="171.5"/><circle cx="242.4" cy="168.6"/><circle cx="225.3" cy="192.1"/><circle cx="254.2" cy="156.4"/><circle cx="217.4" cy="188.6"/><circle cx="252.1" cy="168.4"/><circle cx="254.5" cy="159.7"/><circle cx="232.6" cy="186.3"/><circle cx="243.4" cy="171.6"/><circle cx="243.1" cy="165.8"/><circle cx="241.4" cy="168.0"/><circle cx="218.8" cy="193.7"/><circle cx="248.4" cy="174.9"/><circle cx="225.9" cy="180.5"/><circle cx="232.9" cy="183.8"/><circle cx="247.5" cy="160.1"/><circle cx="233.9" cy="168.1"/><circle cx="227.1" cy="179.8"/><circle cx="226.8" cy="178.3"/><circle cx="222.7" cy="184.4"/><circle cx="226.8" cy="193.5"/><circle cx="226.8" cy="187.3"/><circle cx="233.9" cy="183.5"/><circle cx="232.3" cy="182.1"/><circle cx="236.1" cy="176.0"/><circle cx="252.8" cy="161.5"/><circle cx="218.0" cy="192.9"/><circle cx="222.4" cy="192.5"/><circle cx="233.2" cy="172.0"/><circle cx="254.1" cy="158.5"/><circle cx="216.2" cy="188.5"/><circle cx="233.7" cy="164.0"/><circle cx="251.8" cy="157.1"/><circle cx="228.1" cy="189.8"/><circle cx="250.2" cy="164.9"/><circle cx="232.4" cy="177.1"/><circle cx="232.0" cy="183.2"/><circle cx="229.9" cy="176.1"/><circle cx="242.1" cy="169.1"/><circle cx="254.4" cy="159.0"/><circle cx="251.6" cy="160.8"/><circle cx="232.2" cy="169.8"/><circle cx="259.6" cy="164.2"/><circle cx="232.1" cy="180.5"/><circle cx="234.1" cy="174.8"/><circle cx="219.1" cy="183.0"/><circle cx="252.6" cy="156.7"/><circle cx="238.5" cy="179.2"/><circle cx="245.5" cy="164.5"/><circle cx="227.0" cy="184.1"/><circle cx="216.5" cy="192.3"/><circle cx="223.6" cy="191.5"/><circle cx="249.5" cy="157.0"/><circle cx="227.9" cy="186.0"/><circle cx="236.5" cy="172.5"/><circle cx="247.7" cy="154.2"/><circle cx="220.5" cy="197.7"/><circle cx="232.1" cy="183.2"/><circle cx="250.2" cy="164.8"/><circle cx="239.2" cy="158.9"/><circle cx="219.1" cy="189.1"/><circle cx="218.3" cy="190.8"/><circle cx="213.5" cy="191.9"/><circle cx="232.0" cy="171.8"/><circle cx="234.0" cy="175.8"/><circle cx="241.7" cy="177.7"/><circle cx="248.2" cy="164.4"/><circle cx="246.8" cy="165.3"/><circle cx="238.0" cy="172.5"/><circle cx="221.2" cy="192.6"/><circle cx="244.3" cy="168.3"/><circle cx="232.9" cy="191.3"/><circle cx="248.8" cy="164.6"/><circle cx="221.4" cy="196.6"/><circle cx="220.6" cy="189.3"/><circle cx="237.2" cy="177.7"/><circle cx="225.5" cy="187.0"/><circle cx="240.3" cy="168.7"/><circle cx="235.8" cy="172.3"/><circle cx="249.8" cy="156.1"/><circle cx="232.8" cy="183.3"/><circle cx="229.1" cy="184.4"/><circle cx="232.0" cy="177.2"/><circle cx="252.5" cy="155.2"/><circle cx="255.6" cy="160.7"/><circle cx="234.2" cy="179.8"/><circle cx="218.7" cy="182.1"/><circle cx="235.7" cy="185.2"/><circle cx="259.1" cy="164.0"/><circle cx="238.1" cy="180.3"/><circle cx="229.4" cy="180.3"/><circle cx="250.6" cy="155.6"/><circle cx="254.9" cy="156.7"/><circle cx="223.4" cy="192.7"/><circle cx="250.5" cy="170.8"/><circle cx="244.5" cy="166.0"/><circle cx="217.7" cy="187.2"/><circle cx="242.8" cy="164.0"/><circle cx="246.7" cy="161.9"/><circle cx="232.9" cy="181.9"/><circle cx="241.7" cy="163.2"/><circle cx="215.4" cy="190.1"/><circle cx="250.8" cy="165.7"/><circle cx="240.3" cy="177.3"/><circle cx="241.8" cy="166.1"/><circle cx="221.9" cy="198.5"/><circle cx="248.2" cy="159.2"/><circle cx="247.8" cy="163.0"/><circle cx="233.6" cy="181.5"/><circle cx="228.0" cy="177.0"/><circle cx="223.5" cy="195.1"/><circle cx="249.7" cy="162.6"/><circle cx="253.8" cy="157.9"/><circle cx="219.7" cy="196.8"/><circle cx="236.7" cy="169.7"/><circle cx="241.5" cy="177.5"/><circle cx="247.5" cy="169.7"/><circle cx="240.4" cy="170.5"/><circle cx="247.5" cy="170.5"/><circle cx="244.1" cy="163.9"/><circle cx="226.1" cy="178.7"/><circle cx="249.5" cy="169.3"/><circle cx="226.0" cy="183.7"/><circle cx="244.8" cy="171.2"/><circle cx="231.0" cy="183.7"/><circle cx="218.3" cy="195.1"/><circle cx="232.8" cy="176.9"/><circle cx="218.3" cy="194.3"/><circle cx="220.2" cy="190.8"/><circle cx="234.7" cy="172.9"/><circle cx="239.2" cy="175.8"/><circle cx="245.8" cy="167.4"/><circle cx="243.7" cy="169.5"/><circle cx="231.4" cy="178.7"/><circle cx="249.7" cy="154.2"/><circle cx="250.6" cy="153.6"/><circle cx="215.4" cy="178.6"/><circle cx="238.6" cy="162.6"/><circle cx="230.9" cy="185.7"/><circle cx="236.6" cy="176.5"/><circle cx="243.0" cy="174.9"/><circle cx="236.6" cy="183.8"/><circle cx="231.6" cy="187.0"/><circle cx="246.2" cy="165.0"/><circle cx="247.4" cy="162.6"/><circle cx="221.7" cy="197.0"/><circle cx="249.3" cy="163.0"/><circle cx="214.7" cy="188.2"/><circle cx="246.2" cy="173.9"/><circle cx="222.5" cy="188.2"/><circle cx="227.5" cy="192.5"/><circle cx="256.6" cy="158.6"/><circle cx="221.2" cy="185.0"/><circle cx="236.4" cy="167.1"/><circle cx="218.3" cy="195.0"/><circle cx="215.1" cy="190.1"/><circle cx="242.3" cy="179.0"/><circle cx="242.2" cy="164.9"/><circle cx="241.4" cy="183.4"/><circle cx="243.2" cy="167.3"/><circle cx="246.0" cy="161.7"/><circle cx="247.4" cy="163.3"/><circle cx="217.4" cy="188.7"/><circle cx="251.0" cy="161.7"/><circle cx="229.8" cy="176.9"/><circle cx="243.2" cy="165.1"/><circle cx="247.1" cy="161.9"/><circle cx="257.5" cy="161.9"/><circle cx="234.3" cy="169.6"/><circle cx="237.2" cy="176.3"/><circle cx="244.1" cy="158.5"/><circle cx="244.5" cy="170.5"/><circle cx="225.8" cy="186.3"/><circle cx="222.8" cy="186.9"/><circle cx="219.6" cy="190.2"/><circle cx="250.0" cy="162.9"/><circle cx="250.4" cy="169.3"/><circle cx="225.9" cy="182.4"/><circle cx="247.7" cy="165.2"/><circle cx="238.4" cy="163.7"/><circle cx="218.4" cy="189.4"/><circle cx="225.5" cy="192.7"/><circle cx="251.3" cy="153.3"/><circle cx="216.2" cy="186.5"/><circle cx="214.6" cy="190.3"/><circle cx="232.0" cy="181.2"/><circle cx="258.0" cy="162.0"/><circle cx="226.4" cy="182.4"/><circle cx="248.5" cy="158.5"/><circle cx="230.0" cy="182.0"/><circle cx="230.8" cy="186.1"/><circle cx="223.9" cy="186.4"/><circle cx="226.8" cy="190.9"/><circle cx="232.3" cy="169.5"/><circle cx="247.8" cy="165.2"/><circle cx="231.4" cy="187.4"/><circle cx="244.9" cy="163.1"/><circle cx="236.9" cy="175.5"/><circle cx="229.6" cy="177.2"/><circle cx="250.1" cy="158.8"/><circle cx="239.6" cy="174.0"/><circle cx="216.6" cy="190.5"/><circle cx="218.1" cy="195.8"/><circle cx="220.4" cy="194.6"/><circle cx="234.3" cy="173.8"/><circle cx="241.7" cy="160.8"/><circle cx="244.5" cy="175.5"/><circle cx="229.9" cy="171.0"/><circle cx="235.0" cy="178.5"/><circle cx="232.9" cy="169.6"/><circle cx="220.5" cy="191.1"/><circle cx="239.1" cy="179.8"/><circle cx="215.2" cy="192.3"/><circle cx="239.1" cy="178.1"/><circle cx="226.2" cy="184.6"/><circle cx="234.4" cy="176.2"/><circle cx="252.8" cy="155.3"/><circle cx="249.5" cy="155.5"/><circle cx="219.7" cy="187.4"/><circle cx="220.5" cy="196.7"/><circle cx="219.4" cy="191.5"/><circle cx="225.9" cy="197.5"/><circle cx="233.8" cy="174.2"/><circle cx="237.7" cy="172.4"/><circle cx="238.0" cy="162.2"/><circle cx="239.8" cy="167.4"/><circle cx="236.3" cy="171.4"/><circle cx="239.4" cy="173.0"/><circle cx="225.3" cy="192.2"/><circle cx="234.4" cy="178.3"/><circle cx="246.9" cy="157.5"/><circle cx="236.0" cy="171.4"/><circle cx="229.0" cy="172.8"/><circle cx="243.1" cy="165.1"/><circle cx="222.7" cy="183.9"/><circle cx="229.2" cy="180.6"/><circle cx="229.0" cy="180.4"/><circle cx="227.7" cy="179.6"/><circle cx="238.7" cy="176.9"/><circle cx="239.3" cy="166.7"/><circle cx="237.6" cy="177.2"/><circle cx="228.0" cy="183.6"/><circle cx="254.1" cy="163.9"/><circle cx="218.3" cy="195.9"/><circle cx="216.5" cy="193.6"/><circle cx="225.9" cy="177.5"/><circle cx="237.6" cy="175.1"/><circle cx="242.7" cy="165.8"/><circle cx="216.1" cy="193.7"/><circle cx="230.8" cy="188.4"/><circle cx="233.1" cy="178.4"/><circle cx="239.3" cy="173.3"/><circle cx="249.8" cy="160.5"/><circle cx="231.7" cy="173.3"/><circle cx="218.1" cy="195.0"/><circle cx="219.0" cy="194.5"/><circle cx="234.4" cy="184.9"/><circle cx="239.2" cy="172.3"/><circle cx="223.0" cy="173.8"/><circle cx="220.4" cy="183.6"/><circle cx="217.5" cy="193.1"/><circle cx="250.7" cy="165.5"/><circle cx="241.8" cy="172.3"/><circle cx="234.0" cy="179.5"/><circle cx="251.8" cy="157.7"/><circle cx="225.6" cy="188.1"/><circle cx="242.1" cy="153.2"/><circle cx="226.1" cy="175.1"/><circle cx="236.2" cy="175.8"/><circle cx="226.8" cy="181.1"/><circle cx="221.0" cy="184.5"/><circle cx="240.6" cy="167.9"/><circle cx="226.3" cy="188.2"/><circle cx="239.7" cy="156.0"/><circle cx="244.9" cy="161.8"/><circle cx="225.6" cy="178.8"/><circle cx="220.8" cy="189.9"/><circle cx="248.1" cy="152.0"/><circle cx="243.9" cy="169.4"/><circle cx="215.9" cy="186.4"/><circle cx="220.4" cy="189.1"/><circle cx="236.9" cy="175.5"/><circle cx="238.9" cy="179.5"/><circle cx="252.1" cy="155.7"/><circle cx="238.5" cy="169.4"/><circle cx="225.6" cy="189.1"/><circle cx="243.9" cy="159.5"/><circle cx="220.9" cy="194.8"/><circle cx="242.1" cy="166.3"/><circle cx="240.9" cy="168.3"/><circle cx="231.2" cy="188.2"/><circle cx="250.2" cy="158.3"/><circle cx="224.0" cy="190.3"/><circle cx="249.8" cy="160.4"/><circle cx="247.5" cy="171.7"/><circle cx="247.3" cy="160.9"/><circle cx="230.1" cy="189.4"/><circle cx="249.8" cy="166.8"/><circle cx="216.6" cy="192.7"/><circle cx="246.9" cy="167.7"/><circle cx="223.6" cy="184.7"/><circle cx="228.3" cy="184.1"/><circle cx="218.0" cy="192.8"/><circle cx="231.4" cy="178.9"/><circle cx="249.8" cy="155.2"/><circle cx="214.5" cy="190.0"/><circle cx="223.0" cy="193.6"/><circle cx="218.4" cy="187.8"/><circle cx="244.4" cy="167.0"/><circle cx="245.6" cy="165.0"/><circle cx="238.2" cy="180.7"/><circle cx="247.2" cy="159.2"/><circle cx="222.0" cy="178.7"/><circle cx="235.6" cy="171.0"/><circle cx="233.8" cy="168.8"/><circle cx="220.9" cy="191.1"/><circle cx="245.9" cy="163.7"/><circle cx="256.6" cy="162.2"/><circle cx="226.0" cy="179.4"/><circle cx="220.6" cy="192.8"/><circle cx="238.1" cy="166.9"/><circle cx="234.9" cy="174.5"/><circle cx="251.8" cy="162.5"/><circle cx="241.8" cy="162.0"/><circle cx="235.2" cy="185.2"/><circle cx="248.8" cy="166.0"/><circle cx="253.6" cy="158.4"/><circle cx="73.4" cy="322.3"/><circle cx="93.0" cy="301.5"/><circle cx="73.9" cy="325.7"/><circle cx="81.3" cy="318.1"/><circle cx="66.7" cy="326.6"/><circle cx="91.3" cy="315.0"/><circle cx="98.4" cy="299.9"/><circle cx="75.2" cy="309.7"/><circle cx="70.2" cy="334.1"/></g><g fill="#17becf" stroke="#17becf" fill-opacity="0.5" stroke-opacity="0.5" stroke-width="0.9"><circle cx="77.7" cy="203.5"/><circle cx="76.8" cy="207.8"/><circle cx="80.7" cy="208.8"/><circle cx="71.9" cy="214.1"/><circle cx="77.7" cy="212.2"/><circle cx="81.7" cy="211.8"/><circle cx="78.7" cy="215.7"/><circle cx="81.7" cy="214.7"/><circle cx="77.7" cy="218.6"/><circle cx="73.8" cy="221.2"/><circle cx="80.7" cy="219.6"/><circle cx="88.5" cy="209.4"/><circle cx="88.5" cy="220.0"/><circle cx="71.9" cy="226.5"/><circle cx="73.8" cy="227.5"/><circle cx="81.7" cy="227.5"/><circle cx="78.7" cy="225.1"/><circle cx="81.7" cy="223.5"/><circle cx="79.7" cy="210.8"/><circle cx="78.7" cy="221.6"/><circle cx="77.7" cy="240.2"/><circle cx="80.7" cy="241.6"/><circle cx="76.8" cy="241.2"/><circle cx="73.8" cy="246.7"/><circle cx="88.5" cy="244.1"/><circle cx="71.9" cy="253.3"/><circle cx="78.7" cy="252.0"/><circle cx="81.7" cy="252.9"/><circle cx="81.7" cy="256.9"/><circle cx="73.8" cy="259.8"/><circle cx="71.9" cy="263.1"/><circle cx="80.7" cy="266.7"/><circle cx="73.8" cy="271.6"/></g><g fill="#9467bd" stroke="#9467bd" fill-opacity="0.5" stroke-opacity="0.5" stroke-width="0.9"><circle cx="93.4" cy="206.9"/><circle cx="91.5" cy="218.6"/><circle cx="92.1" cy="246.1"/><circle cx="93.4" cy="262.7"/><circle cx="96.4" cy="265.7"/><circle cx="94.4" cy="268.6"/><circle cx="92.5" cy="270.6"/><circle cx="86.6" cy="275.5"/><circle cx="91.5" cy="275.5"/><circle cx="94.4" cy="273.5"/><circle cx="166.8" cy="164.2"/><circle cx="129.3" cy="191.7"/><circle cx="106.0" cy="203.9"/><circle cx="123.7" cy="204.4"/><circle cx="147.7" cy="197.1"/><circle cx="106.8" cy="218.1"/><circle cx="111.7" cy="226.5"/><circle cx="135.0" cy="220.6"/><circle cx="138.6" cy="220.6"/><circle cx="126.1" cy="229.7"/><circle cx="124.4" cy="234.1"/><circle cx="117.1" cy="237.0"/><circle cx="110.9" cy="245.6"/><circle cx="117.1" cy="244.4"/><circle cx="147.7" cy="215.7"/><circle cx="95.0" cy="206.9"/></g><g fill="#ff7f0e" stroke="#ff7f0e" fill-opacity="0.5" stroke-opacity="0.5" stroke-width="0.9"><circle cx="179.6" cy="179.9"/><circle cx="165.3" cy="196.6"/><circle cx="168.5" cy="198.5"/><circle cx="158.7" cy="203.9"/><circle cx="162.4" cy="202.7"/><circle cx="155.0" cy="216.2"/><circle cx="153.8" cy="218.6"/><circle cx="147.7" cy="209.6"/><circle cx="169.8" cy="195.8"/></g><g fill="#1f77b4" stroke="#1f77b4" fill-opacity="0.5" stroke-opacity="0.5" stroke-width="0.9"><circle cx="179.6" cy="186.0"/></g><g fill="#7f7f7f" stroke="#7f7f7f" fill-opacity="0.5" stroke-opacity="0.5" stroke-width="0.9"><circle cx="167.8" cy="202.0"/><circle cx="159.2" cy="212.7"/><circle cx="137.9" cy="232.1"/><circle cx="137.2" cy="238.2"/></g><g fill="#e377c2" stroke="#e377c2" fill-opacity="0.5" stroke-opacity="0.5" stroke-width="0.9"><circle cx="141.6" cy="223.0"/><circle cx="145.2" cy="221.6"/><circle cx="148.9" cy="221.1"/><circle cx="153.1" cy="219.9"/><circle cx="160.0" cy="208.8"/><circle cx="164.9" cy="210.0"/><circle cx="169.8" cy="207.6"/><circle cx="177.1" cy="196.6"/><circle cx="130.5" cy="235.8"/><circle cx="142.8" cy="233.3"/></g><g fill="#17becf" stroke="#17becf" fill-opacity="0.5" stroke-opacity="0.5" stroke-width="0.9"><circle cx="249.4" cy="265.6"/></g><g fill="#9467bd" stroke="#9467bd" fill-opacity="0.5" stroke-opacity="0.5" stroke-width="0.9"><circle cx="236.2" cy="272.1"/><circle cx="236.2" cy="276.2"/><circle cx="205.9" cy="278.5"/><circle cx="192.1" cy="281.5"/><circle cx="192.1" cy="282.9"/><circle cx="192.1" cy="293.2"/><circle cx="192.1" cy="295.3"/><circle cx="192.1" cy="297.6"/><circle cx="160.3" cy="302.9"/></g><g fill="#1f77b4" stroke="#1f77b4" fill-opacity="0.5" stroke-opacity="0.5" stroke-width="0.9"><circle cx="180.3" cy="278.5"/><circle cx="180.3" cy="284.4"/><circle cx="164.7" cy="309.4"/><circle cx="179.4" cy="314.7"/></g><g fill="#e377c2" stroke="#e377c2" fill-opacity="0.5" stroke-opacity="0.5" stroke-width="0.9"><circle cx="178.8" cy="307.1"/><circle cx="150.0" cy="319.7"/><circle cx="173.5" cy="291.8"/></g><g fill="#8c564b" stroke="#8c564b" fill-opacity="0.5" stroke-opacity="0.5" stroke-width="0.9"><circle cx="243.5" cy="241.8"/><circle cx="243.5" cy="246.2"/><circle cx="243.5" cy="249.1"/><circle cx="236.8" cy="244.7"/><circle cx="227.1" cy="256.5"/><circle cx="229.4" cy="252.1"/><circle cx="222.1" cy="252.9"/><circle cx="220.6" cy="247.6"/><circle cx="217.6" cy="243.2"/><circle cx="208.8" cy="259.4"/><circle cx="213.2" cy="257.9"/><circle cx="202.9" cy="262.4"/><circle cx="198.5" cy="265.3"/><circle cx="192.6" cy="271.2"/></g><g fill="#d62728" stroke="#d62728" fill-opacity="0.5" stroke-opacity="0.5" stroke-width="0.9"><circle cx="238.2" cy="235.9"/><circle cx="226.5" cy="241.8"/><circle cx="232.4" cy="247.6"/><circle cx="225.0" cy="250.6"/><circle cx="217.6" cy="256.5"/><circle cx="205.9" cy="255.0"/><circle cx="201.5" cy="250.6"/><circle cx="211.8" cy="241.8"/><circle cx="207.4" cy="247.6"/></g><g fill="#8c564b" stroke="#8c564b" fill-opacity="0.5" stroke-opacity="0.5" stroke-width="0.9"><circle cx="242.9" cy="228.0"/><circle cx="245.6" cy="225.8"/><circle cx="248.3" cy="223.9"/><circle cx="250.5" cy="222.0"/><circle cx="252.3" cy="221.2"/><circle cx="255.0" cy="212.6"/><circle cx="259.9" cy="203.7"/><circle cx="232.1" cy="236.0"/><circle cx="242.9" cy="242.8"/><circle cx="242.9" cy="246.8"/><circle cx="242.9" cy="249.5"/><circle cx="237.5" cy="246.8"/><circle cx="225.4" cy="252.2"/><circle cx="230.8" cy="253.6"/><circle cx="225.4" cy="264.3"/></g><g fill="#9467bd" stroke="#9467bd" fill-opacity="0.5" stroke-opacity="0.5" stroke-width="0.9"><circle cx="260.4" cy="190.2"/><circle cx="259.1" cy="195.6"/><circle cx="237.5" cy="236.8"/><circle cx="237.5" cy="221.2"/></g><g fill="#17becf" stroke="#17becf" fill-opacity="0.5" stroke-opacity="0.5" stroke-width="0.9"><circle cx="249.6" cy="218.5"/></g><g fill="#d62728" stroke="#d62728" fill-opacity="0.5" stroke-opacity="0.5" stroke-width="0.9"><circle cx="225.4" cy="230.6"/><circle cx="229.4" cy="230.6"/><circle cx="233.5" cy="221.2"/><circle cx="226.7" cy="241.4"/><circle cx="230.8" cy="242.8"/><circle cx="229.4" cy="250.9"/><circle cx="221.3" cy="256.3"/><circle cx="226.7" cy="256.3"/><circle cx="237.5" cy="250.9"/></g><g fill="#7f7f7f" stroke="#7f7f7f" fill-opacity="0.5" stroke-opacity="0.5" stroke-width="0.9"><circle cx="281.5" cy="77.6"/><circle cx="280.0" cy="80.6"/><circle cx="282.9" cy="83.5"/><circle cx="284.4" cy="87.9"/><circle cx="280.0" cy="89.4"/><circle cx="281.5" cy="93.8"/><circle cx="278.5" cy="95.3"/><circle cx="277.1" cy="101.2"/><circle cx="257.9" cy="104.1"/><circle cx="260.0" cy="107.1"/><circle cx="260.9" cy="111.5"/><circle cx="260.9" cy="115.9"/><circle cx="263.8" cy="117.4"/><circle cx="258.8" cy="114.4"/><circle cx="255.0" cy="105.6"/><circle cx="252.1" cy="101.2"/><circle cx="252.1" cy="107.6"/><circle cx="244.7" cy="120.3"/></g><g fill="#9467bd" stroke="#9467bd" fill-opacity="0.5" stroke-opacity="0.5" stroke-width="0.9"><circle cx="224.1" cy="153.5"/><circle cx="219.7" cy="158.5"/><circle cx="216.8" cy="165.9"/><circle cx="203.5" cy="170.3"/></g><g fill="#8c564b" stroke="#8c564b" fill-opacity="0.5" stroke-opacity="0.5" stroke-width="0.9"><circle cx="348.5" cy="21.8"/><circle cx="354.4" cy="23.7"/><circle cx="363.2" cy="23.3"/><circle cx="366.2" cy="24.1"/><circle cx="352.5" cy="28.6"/><circle cx="356.4" cy="29.6"/><circle cx="360.9" cy="28.6"/><circle cx="347.5" cy="29.2"/><circle cx="381.9" cy="43.3"/><circle cx="387.7" cy="54.7"/><circle cx="380.9" cy="62.5"/><circle cx="330.5" cy="45.9"/><circle cx="332.8" cy="56.7"/><circle cx="341.7" cy="36.5"/><circle cx="344.6" cy="38.4"/><circle cx="348.5" cy="37.5"/></g><g fill="#7f7f7f" stroke="#7f7f7f" fill-opacity="0.5" stroke-opacity="0.5" stroke-width="0.9"><circle cx="132.0" cy="316.6"/><circle cx="126.0" cy="319.0"/><circle cx="121.0" cy="317.0"/><circle cx="112.0" cy="329.0"/><circle cx="108.0" cy="334.0"/><circle cx="105.0" cy="331.0"/><circle cx="148.0" cy="310.0"/><circle cx="131.0" cy="316.0"/></g><g fill="#1f77b4" stroke="#1f77b4" fill-opacity="0.5" stroke-opacity="0.5" stroke-width="0.9"><circle cx="124.0" cy="325.6"/><circle cx="126.0" cy="324.4"/><circle cx="130.0" cy="344.0"/><circle cx="146.0" cy="322.0"/><circle cx="145.0" cy="305.0"/><circle cx="105.6" cy="338.6"/></g><g fill="#ff7f0e" stroke="#ff7f0e" fill-opacity="0.5" stroke-opacity="0.5" stroke-width="0.9"><circle cx="128.0" cy="310.6"/><circle cx="118.0" cy="318.0"/></g><g fill="#17becf" stroke="#17becf" fill-opacity="0.5" stroke-opacity="0.5" stroke-width="0.9"><circle cx="111.0" cy="322.0"/></g><g fill="#e377c2" stroke="#e377c2" fill-opacity="0.5" stroke-opacity="0.5" stroke-width="0.9"><circle cx="148.4" cy="320.4"/><circle cx="173.0" cy="292.0"/></g><g fill="#9467bd" stroke="#9467bd" fill-opacity="0.5" stroke-opacity="0.5" stroke-width="0.9"><circle cx="160.0" cy="303.4"/></g><g fill="#2ca02c" stroke="#2ca02c" fill-opacity="0.5" stroke-opacity="0.5" stroke-width="0.9"><circle cx="113.0" cy="318.0"/></g><g fill="#8c564b" stroke="#8c564b" fill-opacity="0.5" stroke-opacity="0.5" stroke-width="0.9"><circle cx="116.0" cy="325.6"/></g>
</g>
<g stroke="#b0b0b0" stroke-width="0.8" fill="none">
<line x1="61.80" y1="5.30" x2="61.80" y2="368.20"/>
<line x1="45.30" y1="351.50" x2="403.60" y2="351.50"/>
<line x1="103.50" y1="5.30" x2="103.50" y2="368.20"/>
<line x1="45.30" y1="309.57" x2="403.60" y2="309.57"/>
<line x1="145.20" y1="5.30" x2="145.20" y2="368.20"/>
<line x1="45.30" y1="267.65" x2="403.60" y2="267.65"/>
<line x1="186.90" y1="5.30" x2="186.90" y2="368.20"/>
<line x1="45.30" y1="225.72" x2="403.60" y2="225.72"/>
<line x1="228.60" y1="5.30" x2="228.60" y2="368.20"/>
<line x1="45.30" y1="183.80" x2="403.60" y2="183.80"/>
<line x1="270.30" y1="5.30" x2="270.30" y2="368.20"/>
<line x1="45.30" y1="141.88" x2="403.60" y2="141.88"/>
<line x1="312.00" y1="5.30" x2="312.00" y2="368.20"/>
<line x1="45.30" y1="99.95" x2="403.60" y2="99.95"/>
<line x1="353.70" y1="5.30" x2="353.70" y2="368.20"/>
<line x1="45.30" y1="58.02" x2="403.60" y2="58.02"/>
<line x1="395.40" y1="5.30" x2="395.40" y2="368.20"/>
<line x1="45.30" y1="16.10" x2="403.60" y2="16.10"/>
</g>
<line x1="61.80" y1="351.50" x2="387.48" y2="24.07" stroke="#000" stroke-width="1.1"/>
<rect x="45.3" y="5.3" width="358.30" height="362.90" fill="none" stroke="#000" stroke-width="1"/>
<g stroke="#000" stroke-width="1">
<line x1="61.80" y1="368.20" x2="61.80" y2="371.70"/>
<line x1="41.80" y1="351.50" x2="45.30" y2="351.50"/>
<line x1="103.50" y1="368.20" x2="103.50" y2="371.70"/>
<line x1="41.80" y1="309.57" x2="45.30" y2="309.57"/>
<line x1="145.20" y1="368.20" x2="145.20" y2="371.70"/>
<line x1="41.80" y1="267.65" x2="45.30" y2="267.65"/>
<line x1="186.90" y1="368.20" x2="186.90" y2="371.70"/>
<line x1="41.80" y1="225.72" x2="45.30" y2="225.72"/>
<line x1="228.60" y1="368.20" x2="228.60" y2="371.70"/>
<line x1="41.80" y1="183.80" x2="45.30" y2="183.80"/>
<line x1="270.30" y1="368.20" x2="270.30" y2="371.70"/>
<line x1="41.80" y1="141.88" x2="45.30" y2="141.88"/>
<line x1="312.00" y1="368.20" x2="312.00" y2="371.70"/>
<line x1="41.80" y1="99.95" x2="45.30" y2="99.95"/>
<line x1="353.70" y1="368.20" x2="353.70" y2="371.70"/>
<line x1="41.80" y1="58.02" x2="45.30" y2="58.02"/>
<line x1="395.40" y1="368.20" x2="395.40" y2="371.70"/>
<line x1="41.80" y1="16.10" x2="45.30" y2="16.10"/>
</g>
<g font-family="Liberation Serif" font-size="12.4" fill="#2a2a2a">
<text x="59.17" y="384.0" textLength="5.25" lengthAdjust="spacingAndGlyphs">0</text>
<text x="32.25" y="355.90" textLength="5.25" lengthAdjust="spacingAndGlyphs">0</text>
<text x="98.25" y="384.0" textLength="10.50" lengthAdjust="spacingAndGlyphs">50</text>
<text x="27.00" y="313.97" textLength="10.50" lengthAdjust="spacingAndGlyphs">50</text>
<text x="137.32" y="384.0" textLength="15.75" lengthAdjust="spacingAndGlyphs">100</text>
<text x="21.75" y="272.05" textLength="15.75" lengthAdjust="spacingAndGlyphs">100</text>
<text x="179.02" y="384.0" textLength="15.75" lengthAdjust="spacingAndGlyphs">150</text>
<text x="21.75" y="230.12" textLength="15.75" lengthAdjust="spacingAndGlyphs">150</text>
<text x="220.72" y="384.0" textLength="15.75" lengthAdjust="spacingAndGlyphs">200</text>
<text x="21.75" y="188.20" textLength="15.75" lengthAdjust="spacingAndGlyphs">200</text>
<text x="262.43" y="384.0" textLength="15.75" lengthAdjust="spacingAndGlyphs">250</text>
<text x="21.75" y="146.28" textLength="15.75" lengthAdjust="spacingAndGlyphs">250</text>
<text x="304.12" y="384.0" textLength="15.75" lengthAdjust="spacingAndGlyphs">300</text>
<text x="21.75" y="104.35" textLength="15.75" lengthAdjust="spacingAndGlyphs">300</text>
<text x="345.82" y="384.0" textLength="15.75" lengthAdjust="spacingAndGlyphs">350</text>
<text x="21.75" y="62.42" textLength="15.75" lengthAdjust="spacingAndGlyphs">350</text>
<text x="387.52" y="384.0" textLength="15.75" lengthAdjust="spacingAndGlyphs">400</text>
<text x="21.75" y="20.50" textLength="15.75" lengthAdjust="spacingAndGlyphs">400</text>
</g>
<g transform="translate(147.0,399.6)"><text x="0" y="0" font-family="Liberation Serif" font-size="13.5" fill="#2a2a2a" textLength="93.2" lengthAdjust="spacingAndGlyphs">Dissolved oxygen</text><text x="97.5" y="0" font-family="Liberation Serif" font-size="13.5" fill="#2a2a2a">(</text><text x="100.4" y="0" font-family="Liberation Serif" font-size="13.5" fill="#2a2a2a" font-style="italic" textLength="26" lengthAdjust="spacingAndGlyphs">μmol</text><text x="126.6" y="0" font-family="Liberation Serif" font-size="13.5" fill="#2a2a2a" textLength="8.6" lengthAdjust="spacingAndGlyphs">/</text><text x="135.8" y="0" font-family="Liberation Serif" font-size="13.5" fill="#2a2a2a" font-style="italic" textLength="15.6" lengthAdjust="spacingAndGlyphs">kg</text><text x="151.2" y="0" font-family="Liberation Serif" font-size="13.5" fill="#2a2a2a">)</text></g>
<g transform="translate(14.9,293.7) rotate(-90)"><text x="0" y="0" font-family="Liberation Serif" font-size="13.5" fill="#2a2a2a" textLength="149.4" lengthAdjust="spacingAndGlyphs">Emulated dissolved oxygen</text><text x="153.7" y="0" font-family="Liberation Serif" font-size="13.5" fill="#2a2a2a">(</text><text x="156.6" y="0" font-family="Liberation Serif" font-size="13.5" fill="#2a2a2a" font-style="italic" textLength="26" lengthAdjust="spacingAndGlyphs">μmol</text><text x="182.8" y="0" font-family="Liberation Serif" font-size="13.5" fill="#2a2a2a" textLength="8.6" lengthAdjust="spacingAndGlyphs">/</text><text x="192.0" y="0" font-family="Liberation Serif" font-size="13.5" fill="#2a2a2a" font-style="italic" textLength="15.6" lengthAdjust="spacingAndGlyphs">kg</text><text x="207.4" y="0" font-family="Liberation Serif" font-size="13.5" fill="#2a2a2a">)</text></g>
<rect x="74.5" y="27.1" width="109.9" height="38.3" rx="3.2" ry="3.2" fill="#fff" fill-opacity="0.5" stroke="#000" stroke-opacity="0.72" stroke-width="1"/>
<text x="78.6" y="42.2" font-family="Liberation Serif" font-size="14.4" fill="#2a2a2a" font-style="italic" textLength="10.6" lengthAdjust="spacingAndGlyphs">R</text>
<text x="89.0" y="42.2" font-family="Liberation Serif" font-size="14.4" fill="#2a2a2a" font-style="italic" textLength="14.4" lengthAdjust="spacingAndGlyphs">M</text>
<text x="104.8" y="42.2" font-family="Liberation Serif" font-size="14.4" fill="#2a2a2a" font-style="italic" textLength="8.6" lengthAdjust="spacingAndGlyphs">S</text>
<text x="114.0" y="42.2" font-family="Liberation Serif" font-size="14.4" fill="#2a2a2a" font-style="italic" textLength="10.6" lengthAdjust="spacingAndGlyphs">E</text>
<text x="130.2" y="42.2" font-family="Liberation Serif" font-size="14.4" fill="#2a2a2a" textLength="12.2" lengthAdjust="spacingAndGlyphs">=</text>
<text x="145.9" y="42.2" font-family="Liberation Serif" font-size="14.4" fill="#2a2a2a" textLength="33.4" lengthAdjust="spacingAndGlyphs">12.13</text>
<text x="78.5" y="57.4" font-family="Liberation Serif" font-size="14.4" fill="#2a2a2a" font-style="italic" textLength="12.2" lengthAdjust="spacingAndGlyphs">R</text>
<text x="91.6" y="52.2" font-family="Liberation Serif" font-size="9.8" fill="#2a2a2a">2</text>
<text x="98.7" y="57.4" font-family="Liberation Serif" font-size="14.4" fill="#2a2a2a" textLength="12.2" lengthAdjust="spacingAndGlyphs">=</text>
<text x="114.1" y="57.4" font-family="Liberation Serif" font-size="14.4" fill="#2a2a2a" textLength="27.3" lengthAdjust="spacingAndGlyphs">0.98</text>
<rect x="409.3" y="10.7" width="85.1" height="352.6" rx="2" ry="2" fill="#fff" stroke="#cccccc" stroke-width="1"/>
<circle cx="424" cy="19.60" r="1.8" fill="#1f77b4" fill-opacity="0.55" stroke="#1f77b4" stroke-opacity="0.55" stroke-width="0.9"/>
<text x="443.6" y="22.90" font-family="Liberation Serif" font-size="12.1" fill="#2a2a2a" textLength="43.0" lengthAdjust="spacingAndGlyphs">Region A</text>
<circle cx="424" cy="34.80" r="1.8" fill="#ff7f0e" fill-opacity="0.55" stroke="#ff7f0e" stroke-opacity="0.55" stroke-width="0.9"/>
<text x="443.6" y="38.10" font-family="Liberation Serif" font-size="12.1" fill="#2a2a2a" textLength="42.6" lengthAdjust="spacingAndGlyphs">Region B</text>
<circle cx="424" cy="50.00" r="1.8" fill="#2ca02c" fill-opacity="0.55" stroke="#2ca02c" stroke-opacity="0.55" stroke-width="0.9"/>
<text x="443.6" y="53.30" font-family="Liberation Serif" font-size="12.1" fill="#2a2a2a" textLength="42.7" lengthAdjust="spacingAndGlyphs">Region C</text>
<circle cx="424" cy="65.20" r="1.8" fill="#d62728" fill-opacity="0.55" stroke="#d62728" stroke-opacity="0.55" stroke-width="0.9"/>
<text x="443.6" y="68.50" font-family="Liberation Serif" font-size="12.1" fill="#2a2a2a" textLength="43.2" lengthAdjust="spacingAndGlyphs">Region D</text>
<circle cx="424" cy="80.40" r="1.8" fill="#9467bd" fill-opacity="0.55" stroke="#9467bd" stroke-opacity="0.55" stroke-width="0.9"/>
<text x="443.6" y="83.70" font-family="Liberation Serif" font-size="12.1" fill="#2a2a2a" textLength="42.3" lengthAdjust="spacingAndGlyphs">Region E</text>
<circle cx="424" cy="95.60" r="1.8" fill="#8c564b" fill-opacity="0.55" stroke="#8c564b" stroke-opacity="0.55" stroke-width="0.9"/>
<text x="443.6" y="98.90" font-family="Liberation Serif" font-size="12.1" fill="#2a2a2a" textLength="42.0" lengthAdjust="spacingAndGlyphs">Region F</text>
<circle cx="424" cy="110.80" r="1.8" fill="#e377c2" fill-opacity="0.55" stroke="#e377c2" stroke-opacity="0.55" stroke-width="0.9"/>
<text x="443.6" y="114.10" font-family="Liberation Serif" font-size="12.1" fill="#2a2a2a" textLength="43.4" lengthAdjust="spacingAndGlyphs">Region G</text>
<circle cx="424" cy="126.00" r="1.8" fill="#7f7f7f" fill-opacity="0.55" stroke="#7f7f7f" stroke-opacity="0.55" stroke-width="0.9"/>
<text x="443.6" y="129.30" font-family="Liberation Serif" font-size="12.1" fill="#2a2a2a" textLength="43.0" lengthAdjust="spacingAndGlyphs">Region H</text>
<circle cx="424" cy="141.20" r="1.8" fill="#bcbd22" fill-opacity="0.55" stroke="#bcbd22" stroke-opacity="0.55" stroke-width="0.9"/>
<text x="443.6" y="144.50" font-family="Liberation Serif" font-size="12.1" fill="#2a2a2a" textLength="38.9" lengthAdjust="spacingAndGlyphs">Region I</text>
<circle cx="424" cy="156.40" r="1.8" fill="#17becf" fill-opacity="0.55" stroke="#17becf" stroke-opacity="0.55" stroke-width="0.9"/>
<text x="443.6" y="159.70" font-family="Liberation Serif" font-size="12.1" fill="#2a2a2a" textLength="40.5" lengthAdjust="spacingAndGlyphs">Region J</text>
<circle cx="424" cy="171.60" r="1.8" fill="#1f77b4" fill-opacity="0.55" stroke="#1f77b4" stroke-opacity="0.55" stroke-width="0.9"/>
<text x="443.6" y="174.90" font-family="Liberation Serif" font-size="12.1" fill="#2a2a2a" textLength="43.3" lengthAdjust="spacingAndGlyphs">Region K</text>
<circle cx="424" cy="186.80" r="1.8" fill="#ff7f0e" fill-opacity="0.55" stroke="#ff7f0e" stroke-opacity="0.55" stroke-width="0.9"/>
<text x="443.6" y="190.10" font-family="Liberation Serif" font-size="12.1" fill="#2a2a2a" textLength="41.7" lengthAdjust="spacingAndGlyphs">Region L</text>
<circle cx="424" cy="202.00" r="1.8" fill="#2ca02c" fill-opacity="0.55" stroke="#2ca02c" stroke-opacity="0.55" stroke-width="0.9"/>
<text x="443.6" y="205.30" font-family="Liberation Serif" font-size="12.1" fill="#2a2a2a" textLength="44.8" lengthAdjust="spacingAndGlyphs">Region M</text>
<circle cx="424" cy="217.20" r="1.8" fill="#d62728" fill-opacity="0.55" stroke="#d62728" stroke-opacity="0.55" stroke-width="0.9"/>
<text x="443.6" y="220.50" font-family="Liberation Serif" font-size="12.1" fill="#2a2a2a" textLength="43.0" lengthAdjust="spacingAndGlyphs">Region N</text>
<circle cx="424" cy="232.40" r="1.8" fill="#9467bd" fill-opacity="0.55" stroke="#9467bd" stroke-opacity="0.55" stroke-width="0.9"/>
<text x="443.6" y="235.70" font-family="Liberation Serif" font-size="12.1" fill="#2a2a2a" textLength="43.3" lengthAdjust="spacingAndGlyphs">Region O</text>
<circle cx="424" cy="247.60" r="1.8" fill="#8c564b" fill-opacity="0.55" stroke="#8c564b" stroke-opacity="0.55" stroke-width="0.9"/>
<text x="443.6" y="250.90" font-family="Liberation Serif" font-size="12.1" fill="#2a2a2a" textLength="42.3" lengthAdjust="spacingAndGlyphs">Region P</text>
<circle cx="424" cy="262.80" r="1.8" fill="#e377c2" fill-opacity="0.55" stroke="#e377c2" stroke-opacity="0.55" stroke-width="0.9"/>
<text x="443.6" y="266.10" font-family="Liberation Serif" font-size="12.1" fill="#2a2a2a" textLength="43.3" lengthAdjust="spacingAndGlyphs">Region Q</text>
<circle cx="424" cy="278.00" r="1.8" fill="#7f7f7f" fill-opacity="0.55" stroke="#7f7f7f" stroke-opacity="0.55" stroke-width="0.9"/>
<text x="443.6" y="281.30" font-family="Liberation Serif" font-size="12.1" fill="#2a2a2a" textLength="42.9" lengthAdjust="spacingAndGlyphs">Region R</text>
<circle cx="424" cy="293.20" r="1.8" fill="#bcbd22" fill-opacity="0.55" stroke="#bcbd22" stroke-opacity="0.55" stroke-width="0.9"/>
<text x="443.6" y="296.50" font-family="Liberation Serif" font-size="12.1" fill="#2a2a2a" textLength="41.0" lengthAdjust="spacingAndGlyphs">Region S</text>
<circle cx="424" cy="308.40" r="1.8" fill="#17becf" fill-opacity="0.55" stroke="#17becf" stroke-opacity="0.55" stroke-width="0.9"/>
<text x="443.6" y="311.70" font-family="Liberation Serif" font-size="12.1" fill="#2a2a2a" textLength="42.7" lengthAdjust="spacingAndGlyphs">Region T</text>
<circle cx="424" cy="323.60" r="1.8" fill="#1f77b4" fill-opacity="0.55" stroke="#1f77b4" stroke-opacity="0.55" stroke-width="0.9"/>
<text x="443.6" y="326.90" font-family="Liberation Serif" font-size="12.1" fill="#2a2a2a" textLength="43.0" lengthAdjust="spacingAndGlyphs">Region U</text>
<circle cx="424" cy="338.80" r="1.8" fill="#ff7f0e" fill-opacity="0.55" stroke="#ff7f0e" stroke-opacity="0.55" stroke-width="0.9"/>
<text x="443.6" y="342.10" font-family="Liberation Serif" font-size="12.1" fill="#2a2a2a" textLength="43.0" lengthAdjust="spacingAndGlyphs">Region V</text>
<circle cx="424" cy="354.00" r="1.8" fill="#2ca02c" fill-opacity="0.55" stroke="#2ca02c" stroke-opacity="0.55" stroke-width="0.9"/>
<text x="443.6" y="357.30" font-family="Liberation Serif" font-size="12.1" fill="#2a2a2a" textLength="45.9" lengthAdjust="spacingAndGlyphs">Region W</text>
</svg></body></html>
